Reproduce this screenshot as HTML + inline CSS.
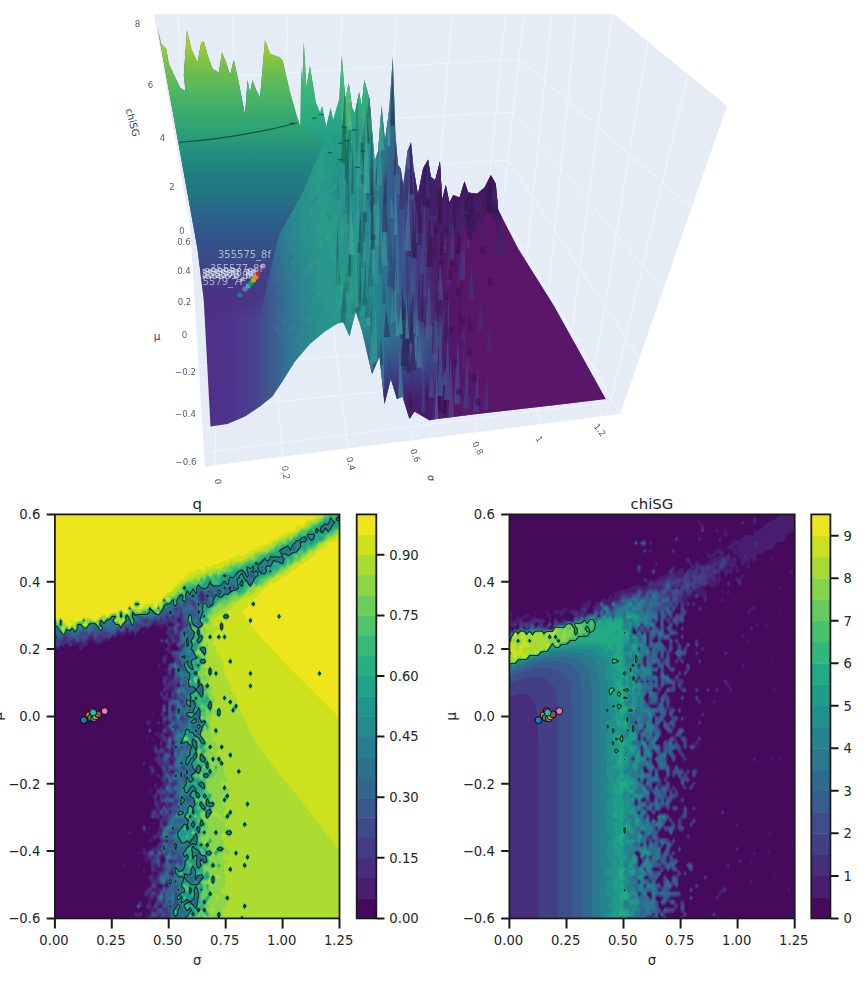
<!DOCTYPE html>
<html><head><meta charset="utf-8"><title>chiSG phase diagram</title>
<style>html,body{margin:0;padding:0;background:#fff}svg{display:block}text{font-family:"DejaVu Sans","Liberation Sans",sans-serif}</style></head><body>
<svg width="868" height="995" viewBox="0 0 868 995">
<rect width="868" height="995" fill="#fff"/>
<g id="surf3d">
<defs>
<clipPath id="sil"><path d="M157.5 27.5 L161.2 43.8 L166.2 48.8 L168.8 63.8 L180.0 87.5 L185.5 91.2 L183.8 75.0 L187.0 30.0 L191.2 48.8 L197.5 62.5 L201.2 42.5 L203.8 41.2 L207.5 55.0 L212.5 68.8 L218.8 72.5 L222.0 52.5 L226.2 62.5 L230.0 75.0 L233.8 60.0 L238.8 82.5 L245.0 115.0 L247.5 80.0 L250.0 92.5 L252.5 80.0 L256.2 90.0 L260.0 97.5 L265.0 40.0 L270.0 53.8 L280.0 57.5 L282.5 60.0 L290.0 92.2 L296.9 116.4 L300.4 126.8 L301.2 68.0 L302.4 81.8 L303.8 42.1 L306.4 87.0 L309.9 66.3 L315.9 102.6 L320.2 112.9 L322.0 106.0 L326.3 126.8 L330.6 107.8 L333.2 119.9 L339.2 99.1 L341.8 55.9 L345.3 99.1 L348.8 83.6 L352.2 107.8 L354.8 112.9 L359.1 92.2 L361.7 106.0 L364.3 80.1 L369.5 99.1 L374.7 161.3 L378.1 151.0 L381.6 106.0 L385.0 140.6 L389.4 107.8 L392.8 57.6 L395.4 133.7 L398.0 164.8 L400.6 168.2 L403.2 185.5 L407.5 151.0 L411.0 142.3 L413.6 168.2 L417.9 194.2 L423.1 168.2 L428.2 159.6 L430.8 176.9 L435.2 180.3 L440.0 161.3 L442.0 200.0 L445.8 185.0 L449.5 202.5 L453.2 195.0 L459.5 197.5 L464.5 181.2 L468.2 192.5 L477.0 193.8 L484.5 187.5 L490.8 175.0 L495.8 183.8 L498.2 210.0 L518.2 248.8 L554.0 306.0 L605.7 399.0 L553.8 405.2 L477.0 414.0 L437.0 419.0 L429.5 420.2 L414.5 411.5 L409.5 419.0 L402.5 396.5 L397.0 399.0 L390.8 379.0 L384.5 404.0 L379.5 356.5 L372.0 374.0 L362.0 331.5 L355.8 311.5 L349.5 336.5 L343.0 322.0 L337.0 324.0 L325.0 331.5 L310.0 344.0 L295.0 361.5 L282.5 381.5 L272.5 396.5 L260.0 406.5 L245.0 416.5 L227.5 424.0 L210.5 426.5 L203.7 299.0 L197.5 249.0Z"/></clipPath>
<linearGradient id="gbase" gradientUnits="userSpaceOnUse" x1="200" y1="300" x2="604" y2="219"><stop offset="0.000" stop-color="#4f2f88"/><stop offset="0.076" stop-color="#4f348c"/><stop offset="0.129" stop-color="#48428e"/><stop offset="0.169" stop-color="#3c598f"/><stop offset="0.205" stop-color="#327093"/><stop offset="0.238" stop-color="#2b8291"/><stop offset="0.281" stop-color="#28908d"/><stop offset="0.338" stop-color="#289a89"/><stop offset="0.400" stop-color="#22908b"/><stop offset="1.000" stop-color="#22908b"/></linearGradient>
<linearGradient id="gbase2" gradientUnits="userSpaceOnUse" x1="200" y1="0" x2="620" y2="0"><stop offset="0.000" stop-color="#4f2f88"/><stop offset="0.076" stop-color="#4f348c"/><stop offset="0.129" stop-color="#48428e"/><stop offset="0.169" stop-color="#3c598f"/><stop offset="0.205" stop-color="#327093"/><stop offset="0.238" stop-color="#2b8291"/><stop offset="0.281" stop-color="#28908d"/><stop offset="0.338" stop-color="#289a89"/><stop offset="0.400" stop-color="#22908b"/><stop offset="1.000" stop-color="#22908b"/></linearGradient>
<linearGradient id="gright" gradientUnits="userSpaceOnUse" x1="200" y1="300" x2="616.6" y2="262.5"><stop offset="0.000" stop-color="#22908b" stop-opacity="0.00"/><stop offset="0.386" stop-color="#22908b" stop-opacity="0.00"/><stop offset="0.440" stop-color="#2a788e" stop-opacity="1.00"/><stop offset="0.486" stop-color="#39558c" stop-opacity="1.00"/><stop offset="0.524" stop-color="#433c84" stop-opacity="1.00"/><stop offset="0.562" stop-color="#48226f" stop-opacity="1.00"/><stop offset="0.600" stop-color="#521769" stop-opacity="1.00"/><stop offset="0.655" stop-color="#5a1669" stop-opacity="1.00"/><stop offset="1.000" stop-color="#5a1669" stop-opacity="1.00"/></linearGradient>
<linearGradient id="gright2" gradientUnits="userSpaceOnUse" x1="200" y1="0" x2="620" y2="0"><stop offset="0.000" stop-color="#22908b" stop-opacity="0.00"/><stop offset="0.386" stop-color="#22908b" stop-opacity="0.00"/><stop offset="0.440" stop-color="#2a788e" stop-opacity="1.00"/><stop offset="0.486" stop-color="#39558c" stop-opacity="1.00"/><stop offset="0.524" stop-color="#433c84" stop-opacity="1.00"/><stop offset="0.562" stop-color="#48226f" stop-opacity="1.00"/><stop offset="0.600" stop-color="#521769" stop-opacity="1.00"/><stop offset="0.655" stop-color="#5a1669" stop-opacity="1.00"/><stop offset="1.000" stop-color="#5a1669" stop-opacity="1.00"/></linearGradient>
<linearGradient id="gcliff" gradientUnits="userSpaceOnUse" x1="0" y1="25" x2="0" y2="320"><stop offset="0.000" stop-color="#bcd926"/><stop offset="0.068" stop-color="#a0cc32"/><stop offset="0.139" stop-color="#78c048"/><stop offset="0.234" stop-color="#4cb562"/><stop offset="0.349" stop-color="#2ea374"/><stop offset="0.424" stop-color="#22917d"/><stop offset="0.498" stop-color="#1f8080"/><stop offset="0.576" stop-color="#237585"/><stop offset="0.641" stop-color="#29638a"/><stop offset="0.729" stop-color="#33548a"/><stop offset="0.790" stop-color="#3a4a88"/><stop offset="0.864" stop-color="#423c84" stop-opacity="0.90"/><stop offset="0.932" stop-color="#472f7d" stop-opacity="0.60"/><stop offset="1.000" stop-color="#472d7b" stop-opacity="0.00"/></linearGradient>
<linearGradient id="gtop" gradientUnits="userSpaceOnUse" x1="0" y1="40" x2="0" y2="200"><stop offset="0.000" stop-color="#5cc863" stop-opacity="0.95"/><stop offset="0.300" stop-color="#3dbc74" stop-opacity="0.90"/><stop offset="0.600" stop-color="#25ab82" stop-opacity="0.60"/><stop offset="1.000" stop-color="#1f9a8a" stop-opacity="0.00"/></linearGradient>
<linearGradient id="gtopx" gradientUnits="userSpaceOnUse" x1="322" y1="0" x2="410" y2="0"><stop offset="0.000" stop-color="#000" stop-opacity="1.00"/><stop offset="0.450" stop-color="#000" stop-opacity="1.00"/><stop offset="1.000" stop-color="#000" stop-opacity="0.00"/></linearGradient>
<mask id="mtop" maskUnits="userSpaceOnUse" x="300" y="0" width="130" height="220"><rect x="300" y="0" width="130" height="220" fill="url(#gtopm)"/></mask>
<linearGradient id="gtopm" gradientUnits="userSpaceOnUse" x1="322" y1="0" x2="412" y2="0"><stop offset="0.000" stop-color="#fff"/><stop offset="0.500" stop-color="#fff"/><stop offset="1.000" stop-color="#000"/></linearGradient>
<linearGradient id="gfront" gradientUnits="userSpaceOnUse" x1="0" y1="305" x2="0" y2="425"><stop offset="0.000" stop-color="#2a788e" stop-opacity="0.00"/><stop offset="0.300" stop-color="#2f6a8e" stop-opacity="0.55"/><stop offset="0.550" stop-color="#3b3f88" stop-opacity="0.88"/><stop offset="0.780" stop-color="#45206e" stop-opacity="1.00"/><stop offset="1.000" stop-color="#4b1769" stop-opacity="1.00"/></linearGradient>
</defs>
<polygon points="154.0,14.0 614.0,14.0 727.0,106.0 620.0,414.0 205.0,466.5 190.0,226.0" fill="#e5ecf6"/>
<path d="M342.0 14.0L333.0 225.0M397.0 14.0L384.0 222.0M452.0 14.0L436.0 218.0M505.5 14.0L486.0 212.0M288.0 14.0L283.0 228.0M233.0 14.0L235.0 230.0M178.0 14.0L190.0 232.0M524 14L502 212M166.0 80.0L519.0 59.0M176.0 130.0L514.0 112.0M184.0 180.0L508.0 160.0M190.0 226.0L502.0 212.0M519.0 59.0L692.0 208.0M514.0 112.0L663.0 290.0M508.0 160.0L639.0 358.0M502.0 212.0L620.0 414.0M551.7 14.0L527.0 255.0M576.0 14.0L549.0 290.0M612.0 14.0L572.0 330.0M648.0 42.0L594.0 370.0M688.0 74.0L611.0 400.0M205.0 452.0L612.0 402.0M202.0 409.0L600.0 370.0M199.0 366.0L585.0 340.0M216.0 465.0L213.0 300.0M283.0 457.0L270.0 300.0M348.0 449.0L330.0 300.0M413.0 441.0L388.0 300.0M478.0 432.0L446.0 300.0M541.0 424.0L500.0 300.0M602.0 416.0L556.0 300.0" stroke="#fff" stroke-width="1.1" fill="none" opacity="0.45"/>
<g clip-path="url(#sil)">
<rect x="150" y="10" width="470" height="290.5" fill="url(#gbase)"/>
<rect x="150" y="300" width="470" height="140" fill="url(#gbase2)"/>
<rect x="330" y="10" width="290" height="290.5" fill="url(#gright)"/>
<rect x="330" y="300" width="290" height="140" fill="url(#gright2)"/>
<polygon points="150.0,10.0 300.6,10.0 300.6,122.0 325.0,140.0 304.0,190.0 279.0,235.0 268.0,280.0 260.0,320.0 150.0,320.0" fill="url(#gcliff)"/>
<g mask="url(#mtop)"><polygon points="300.6,10.0 430.0,10.0 430.0,215.0 300.0,215.0 304.0,190.0 325.0,140.0 300.6,122.0" fill="url(#gtop)"/></g>
<polygon points="340,305 446,305 430,430 340,430" fill="url(#gfront)"/>
<path d="M353.1 305.0l2.1 -6.2" stroke="#4da99f" stroke-width="2.0" opacity="0.20" stroke-linecap="round"/><path d="M331.5 149.3l-3.5 -8.3" stroke="#37a592" stroke-width="2.1" opacity="0.28" stroke-linecap="round"/><path d="M336.3 220.4l3.9 -6.3" stroke="#53aca2" stroke-width="1.9" opacity="0.26" stroke-linecap="round"/><path d="M360.7 153.2l-5.4 -6.4" stroke="#49a89c" stroke-width="2.6" opacity="0.14" stroke-linecap="round"/><path d="M279.1 285.0l-2.5 -6.0" stroke="#4d7c9f" stroke-width="1.9" opacity="0.25" stroke-linecap="round"/><path d="M316.1 204.9l4.6 -5.9" stroke="#42a498" stroke-width="1.8" opacity="0.18" stroke-linecap="round"/><path d="M323.8 304.0l2.0 -6.2" stroke="#4fa6a1" stroke-width="2.7" opacity="0.15" stroke-linecap="round"/><path d="M308.6 313.2l5.8 -6.6" stroke="#43979d" stroke-width="2.2" opacity="0.17" stroke-linecap="round"/><path d="M341.3 292.0l2.9 -6.8" stroke="#42a697" stroke-width="2.3" opacity="0.15" stroke-linecap="round"/><path d="M338.7 281.9l-2.2 -5.4" stroke="#3ba394" stroke-width="2.0" opacity="0.25" stroke-linecap="round"/><path d="M353.2 218.0l-4.8 -5.2" stroke="#1d7a76" stroke-width="2.4" opacity="0.25" stroke-linecap="round"/><path d="M359.8 171.3l4.3 -7.0" stroke="#3d9f98" stroke-width="2.1" opacity="0.27" stroke-linecap="round"/><path d="M333.6 205.0l2.2 -3.3" stroke="#40a398" stroke-width="2.7" opacity="0.27" stroke-linecap="round"/><path d="M374.0 207.1l1.8 -4.6" stroke="#226a78" stroke-width="2.0" opacity="0.15" stroke-linecap="round"/><path d="M350.0 168.7l2.8 -4.5" stroke="#3da298" stroke-width="1.6" opacity="0.26" stroke-linecap="round"/><path d="M338.6 197.1l1.6 -4.0" stroke="#52aaa3" stroke-width="1.9" opacity="0.27" stroke-linecap="round"/><path d="M318.5 322.4l-4.0 -4.9" stroke="#3b9a97" stroke-width="1.9" opacity="0.25" stroke-linecap="round"/><path d="M343.7 221.8l4.4 -6.3" stroke="#3ea098" stroke-width="2.4" opacity="0.14" stroke-linecap="round"/><path d="M336.7 148.0l1.6 -4.8" stroke="#48ac9b" stroke-width="1.8" opacity="0.22" stroke-linecap="round"/><path d="M305.3 321.6l3.3 -4.8" stroke="#44959d" stroke-width="2.5" opacity="0.27" stroke-linecap="round"/><path d="M352.9 217.0l-2.2 -5.2" stroke="#1d7a76" stroke-width="2.6" opacity="0.21" stroke-linecap="round"/><path d="M328.5 288.7l1.8 -5.3" stroke="#42a299" stroke-width="1.6" opacity="0.21" stroke-linecap="round"/><path d="M360.2 237.8l2.0 -3.6" stroke="#3d9d99" stroke-width="2.3" opacity="0.24" stroke-linecap="round"/><path d="M336.3 247.6l2.6 -5.9" stroke="#3aa194" stroke-width="2.2" opacity="0.23" stroke-linecap="round"/><path d="M375.1 179.2l3.2 -7.0" stroke="#236a78" stroke-width="2.1" opacity="0.18" stroke-linecap="round"/><path d="M329.9 149.6l-1.9 -4.9" stroke="#1e8573" stroke-width="2.4" opacity="0.17" stroke-linecap="round"/><path d="M336.9 153.4l-3.8 -6.3" stroke="#3da696" stroke-width="2.1" opacity="0.18" stroke-linecap="round"/><path d="M367.4 240.1l-2.0 -4.6" stroke="#379596" stroke-width="1.8" opacity="0.19" stroke-linecap="round"/><path d="M372.9 159.0l1.7 -5.6" stroke="#55a0a3" stroke-width="1.6" opacity="0.17" stroke-linecap="round"/><path d="M343.5 225.6l-3.5 -8.2" stroke="#1f7e76" stroke-width="2.3" opacity="0.27" stroke-linecap="round"/><path d="M368.6 160.8l-2.6 -5.4" stroke="#399795" stroke-width="2.3" opacity="0.21" stroke-linecap="round"/><path d="M363.7 161.4l3.7 -7.2" stroke="#3e9f98" stroke-width="2.7" opacity="0.19" stroke-linecap="round"/><path d="M312.5 320.3l-1.9 -5.6" stroke="#439a9c" stroke-width="1.9" opacity="0.17" stroke-linecap="round"/><path d="M354.1 152.8l-2.2 -5.8" stroke="#51afa1" stroke-width="2.7" opacity="0.16" stroke-linecap="round"/><path d="M370.9 216.5l2.8 -3.6" stroke="#40939a" stroke-width="1.5" opacity="0.15" stroke-linecap="round"/><path d="M341.6 193.5l3.5 -3.9" stroke="#1e7d76" stroke-width="1.6" opacity="0.21" stroke-linecap="round"/><path d="M340.9 177.7l2.9 -7.1" stroke="#369e95" stroke-width="1.9" opacity="0.20" stroke-linecap="round"/><path d="M350.7 219.2l-3.8 -7.0" stroke="#47a39e" stroke-width="1.6" opacity="0.19" stroke-linecap="round"/><path d="M339.2 254.2l2.8 -6.3" stroke="#218175" stroke-width="1.9" opacity="0.26" stroke-linecap="round"/><path d="M370.4 242.5l-2.3 -4.1" stroke="#389296" stroke-width="2.1" opacity="0.26" stroke-linecap="round"/><path d="M349.7 166.8l-3.2 -4.1" stroke="#47a89d" stroke-width="2.0" opacity="0.25" stroke-linecap="round"/><path d="M376.7 142.8l-3.3 -8.1" stroke="#3d9194" stroke-width="2.4" opacity="0.17" stroke-linecap="round"/><path d="M303.5 216.5l1.6 -4.0" stroke="#55a8a5" stroke-width="2.6" opacity="0.17" stroke-linecap="round"/><path d="M273.6 309.2l2.8 -3.2" stroke="#5e7aa4" stroke-width="2.6" opacity="0.14" stroke-linecap="round"/><path d="M291.0 331.0l2.0 -4.9" stroke="#48879f" stroke-width="2.8" opacity="0.19" stroke-linecap="round"/><path d="M336.0 257.1l3.7 -4.0" stroke="#3ba294" stroke-width="2.3" opacity="0.15" stroke-linecap="round"/><path d="M339.2 305.7l-2.6 -5.9" stroke="#42a598" stroke-width="1.9" opacity="0.21" stroke-linecap="round"/><path d="M356.1 154.0l-3.2 -3.7" stroke="#48a99c" stroke-width="2.3" opacity="0.17" stroke-linecap="round"/><path d="M372.2 283.3l3.7 -7.6" stroke="#389496" stroke-width="2.3" opacity="0.22" stroke-linecap="round"/><path d="M360.7 158.1l-3.9 -5.3" stroke="#3ea197" stroke-width="1.6" opacity="0.17" stroke-linecap="round"/><path d="M296.4 342.5l2.3 -4.8" stroke="#5395a5" stroke-width="2.2" opacity="0.15" stroke-linecap="round"/><path d="M325.3 199.3l-3.2 -3.5" stroke="#3ba294" stroke-width="2.7" opacity="0.20" stroke-linecap="round"/><path d="M344.5 153.6l-3.9 -5.4" stroke="#48ab9c" stroke-width="2.5" opacity="0.27" stroke-linecap="round"/><path d="M312.1 236.2l-3.0 -8.0" stroke="#227d77" stroke-width="1.8" opacity="0.23" stroke-linecap="round"/><path d="M367.8 308.3l1.9 -3.6" stroke="#4aa3a0" stroke-width="2.2" opacity="0.25" stroke-linecap="round"/><path d="M331.7 254.1l-2.8 -4.4" stroke="#3ba394" stroke-width="2.7" opacity="0.17" stroke-linecap="round"/><path d="M341.3 165.6l2.1 -5.2" stroke="#3da397" stroke-width="2.4" opacity="0.26" stroke-linecap="round"/><path d="M372.8 141.3l-2.2 -3.9" stroke="#4ca19c" stroke-width="2.1" opacity="0.17" stroke-linecap="round"/><path d="M357.1 289.5l-2.6 -4.4" stroke="#52aaa3" stroke-width="1.7" opacity="0.27" stroke-linecap="round"/><path d="M357.9 224.4l2.0 -5.6" stroke="#3d9d99" stroke-width="1.5" opacity="0.23" stroke-linecap="round"/><path d="M373.0 179.6l4.4 -5.2" stroke="#42909a" stroke-width="1.9" opacity="0.14" stroke-linecap="round"/><path d="M342.2 185.0l2.8 -3.8" stroke="#47a59e" stroke-width="2.0" opacity="0.19" stroke-linecap="round"/><path d="M346.1 187.9l5.6 -7.0" stroke="#50a8a3" stroke-width="2.5" opacity="0.22" stroke-linecap="round"/><path d="M332.2 251.3l3.1 -3.3" stroke="#42a697" stroke-width="2.4" opacity="0.21" stroke-linecap="round"/><path d="M363.8 230.8l-2.7 -3.0" stroke="#51a5a4" stroke-width="2.3" opacity="0.26" stroke-linecap="round"/><path d="M291.4 249.4l-2.2 -6.3" stroke="#3e8e9b" stroke-width="2.1" opacity="0.27" stroke-linecap="round"/><path d="M330.0 152.8l-2.9 -3.4" stroke="#37a592" stroke-width="1.7" opacity="0.26" stroke-linecap="round"/><path d="M347.1 185.5l3.8 -6.8" stroke="#50a9a3" stroke-width="2.6" opacity="0.19" stroke-linecap="round"/><path d="M318.7 303.5l-5.4 -6.8" stroke="#429e9b" stroke-width="1.6" opacity="0.19" stroke-linecap="round"/><path d="M342.9 169.9l2.8 -5.3" stroke="#47a79d" stroke-width="2.4" opacity="0.22" stroke-linecap="round"/><path d="M357.1 189.9l-3.7 -6.6" stroke="#3d9d99" stroke-width="1.7" opacity="0.26" stroke-linecap="round"/><path d="M323.5 213.1l3.3 -8.0" stroke="#4cab9d" stroke-width="2.0" opacity="0.21" stroke-linecap="round"/><path d="M319.3 265.9l-4.9 -5.6" stroke="#55aaa4" stroke-width="2.1" opacity="0.20" stroke-linecap="round"/><path d="M316.5 231.6l2.7 -7.6" stroke="#42a299" stroke-width="2.0" opacity="0.21" stroke-linecap="round"/><path d="M309.6 213.7l5.0 -6.8" stroke="#55aaa4" stroke-width="2.1" opacity="0.21" stroke-linecap="round"/><path d="M282.1 278.8l-3.1 -5.7" stroke="#4a82a0" stroke-width="1.5" opacity="0.14" stroke-linecap="round"/><path d="M328.7 240.4l-2.5 -5.1" stroke="#55afa2" stroke-width="2.4" opacity="0.25" stroke-linecap="round"/><path d="M276.2 296.7l3.5 -4.5" stroke="#50759e" stroke-width="2.2" opacity="0.25" stroke-linecap="round"/><path d="M286.6 281.3l4.8 -7.5" stroke="#49869f" stroke-width="1.8" opacity="0.27" stroke-linecap="round"/><path d="M300.6 344.7l-3.9 -5.2" stroke="#5199a5" stroke-width="2.3" opacity="0.17" stroke-linecap="round"/><path d="M326.9 310.1l2.9 -8.1" stroke="#3b9d96" stroke-width="1.8" opacity="0.26" stroke-linecap="round"/><path d="M336.4 146.5l-3.5 -7.9" stroke="#1e8573" stroke-width="1.9" opacity="0.15" stroke-linecap="round"/><path d="M322.8 166.0l-2.5 -6.5" stroke="#39a493" stroke-width="2.6" opacity="0.21" stroke-linecap="round"/><path d="M343.2 262.9l-2.3 -4.4" stroke="#208075" stroke-width="2.1" opacity="0.16" stroke-linecap="round"/><path d="M340.3 192.3l4.0 -6.5" stroke="#3ea098" stroke-width="2.5" opacity="0.20" stroke-linecap="round"/><path d="M357.0 143.3l4.2 -7.6" stroke="#52b0a0" stroke-width="2.4" opacity="0.21" stroke-linecap="round"/><path d="M350.9 161.2l-1.9 -4.0" stroke="#51ada2" stroke-width="1.7" opacity="0.21" stroke-linecap="round"/><path d="M289.2 333.6l5.6 -7.0" stroke="#4985a0" stroke-width="2.2" opacity="0.25" stroke-linecap="round"/><path d="M369.9 170.3l1.4 -4.4" stroke="#3a9396" stroke-width="1.9" opacity="0.16" stroke-linecap="round"/><path d="M311.6 267.4l-3.2 -6.1" stroke="#4ca3a0" stroke-width="2.7" opacity="0.22" stroke-linecap="round"/><path d="M351.2 239.8l-3.1 -8.4" stroke="#48a49e" stroke-width="1.8" opacity="0.16" stroke-linecap="round"/><path d="M354.7 223.1l2.9 -7.3" stroke="#50a7a3" stroke-width="2.0" opacity="0.26" stroke-linecap="round"/><path d="M335.9 239.2l3.0 -4.6" stroke="#41a498" stroke-width="1.9" opacity="0.22" stroke-linecap="round"/><path d="M310.4 294.6l2.5 -5.7" stroke="#50a0a3" stroke-width="1.6" opacity="0.15" stroke-linecap="round"/><path d="M371.1 157.3l-4.7 -6.1" stroke="#419898" stroke-width="1.7" opacity="0.19" stroke-linecap="round"/><path d="M360.5 259.3l-2.1 -6.4" stroke="#50a7a3" stroke-width="1.5" opacity="0.25" stroke-linecap="round"/><path d="M284.2 323.3l-5.0 -6.3" stroke="#5888a6" stroke-width="2.4" opacity="0.21" stroke-linecap="round"/><path d="M310.0 237.8l3.5 -7.9" stroke="#4ca4a0" stroke-width="2.5" opacity="0.22" stroke-linecap="round"/><path d="M337.2 245.9l-3.1 -3.4" stroke="#54ada2" stroke-width="2.4" opacity="0.23" stroke-linecap="round"/><path d="M306.9 254.9l1.4 -4.6" stroke="#429c9b" stroke-width="1.5" opacity="0.19" stroke-linecap="round"/><path d="M367.0 260.1l4.2 -4.7" stroke="#48a09f" stroke-width="1.9" opacity="0.21" stroke-linecap="round"/><path d="M295.6 237.9l-2.8 -3.6" stroke="#56a1a7" stroke-width="2.0" opacity="0.24" stroke-linecap="round"/><path d="M334.0 231.5l2.8 -7.8" stroke="#4ba99d" stroke-width="2.4" opacity="0.14" stroke-linecap="round"/><path d="M320.1 245.7l-3.8 -4.8" stroke="#3b9f95" stroke-width="2.8" opacity="0.25" stroke-linecap="round"/><path d="M365.5 308.0l-1.8 -5.6" stroke="#3d9e99" stroke-width="2.1" opacity="0.15" stroke-linecap="round"/><path d="M339.8 183.9l3.0 -5.3" stroke="#379d95" stroke-width="2.4" opacity="0.14" stroke-linecap="round"/><path d="M349.9 287.8l-2.2 -3.4" stroke="#4aa89d" stroke-width="1.7" opacity="0.25" stroke-linecap="round"/><path d="M353.6 267.0l3.8 -7.8" stroke="#1e7d76" stroke-width="2.3" opacity="0.15" stroke-linecap="round"/><path d="M274.3 327.6l2.1 -5.0" stroke="#51719d" stroke-width="2.0" opacity="0.19" stroke-linecap="round"/><path d="M328.5 276.6l-4.8 -6.6" stroke="#3ba095" stroke-width="1.5" opacity="0.23" stroke-linecap="round"/><path d="M282.5 326.6l2.6 -7.5" stroke="#47789c" stroke-width="2.3" opacity="0.18" stroke-linecap="round"/><path d="M374.1 215.8l4.2 -5.4" stroke="#428e9b" stroke-width="2.0" opacity="0.16" stroke-linecap="round"/><path d="M282.1 341.0l4.2 -7.4" stroke="#47779c" stroke-width="1.7" opacity="0.20" stroke-linecap="round"/><path d="M355.1 251.4l-2.8 -8.6" stroke="#48a49e" stroke-width="2.8" opacity="0.14" stroke-linecap="round"/><path d="M310.2 324.4l-2.4 -4.4" stroke="#43989c" stroke-width="2.4" opacity="0.17" stroke-linecap="round"/><path d="M366.8 236.4l-4.1 -5.6" stroke="#1e7677" stroke-width="1.7" opacity="0.23" stroke-linecap="round"/><path d="M321.4 177.8l-2.2 -6.7" stroke="#54aea2" stroke-width="2.0" opacity="0.17" stroke-linecap="round"/><path d="M306.6 276.3l2.7 -4.5" stroke="#43999c" stroke-width="2.6" opacity="0.25" stroke-linecap="round"/><path d="M278.9 331.4l2.0 -3.8" stroke="#49739b" stroke-width="1.6" opacity="0.21" stroke-linecap="round"/><path d="M320.3 205.7l-3.0 -6.7" stroke="#3ba294" stroke-width="2.4" opacity="0.17" stroke-linecap="round"/><path d="M310.3 321.5l3.1 -5.6" stroke="#509fa3" stroke-width="1.9" opacity="0.25" stroke-linecap="round"/><path d="M350.6 167.7l-3.4 -5.0" stroke="#1d7f75" stroke-width="2.2" opacity="0.16" stroke-linecap="round"/><path d="M355.6 161.3l-4.0 -7.6" stroke="#51aca2" stroke-width="2.0" opacity="0.14" stroke-linecap="round"/><path d="M324.8 268.0l-3.5 -5.4" stroke="#227f76" stroke-width="1.8" opacity="0.27" stroke-linecap="round"/><path d="M356.4 165.1l-1.9 -3.5" stroke="#48a79d" stroke-width="2.1" opacity="0.25" stroke-linecap="round"/><path d="M342.8 254.5l-2.3 -5.8" stroke="#39a094" stroke-width="2.7" opacity="0.26" stroke-linecap="round"/><path d="M366.2 327.1l-5.2 -6.0" stroke="#4aa4a0" stroke-width="2.6" opacity="0.21" stroke-linecap="round"/><path d="M374.9 160.1l-2.6 -4.3" stroke="#569da3" stroke-width="2.6" opacity="0.18" stroke-linecap="round"/><path d="M362.5 182.8l3.7 -5.8" stroke="#3e9b99" stroke-width="2.6" opacity="0.25" stroke-linecap="round"/><path d="M333.8 194.3l4.6 -7.7" stroke="#1f7f75" stroke-width="1.9" opacity="0.27" stroke-linecap="round"/><path d="M339.4 198.0l-4.0 -5.7" stroke="#389d95" stroke-width="2.4" opacity="0.17" stroke-linecap="round"/><path d="M357.0 209.4l2.2 -6.5" stroke="#1d7a76" stroke-width="2.8" opacity="0.21" stroke-linecap="round"/><path d="M314.4 200.6l2.6 -3.4" stroke="#228076" stroke-width="2.8" opacity="0.26" stroke-linecap="round"/><path d="M311.1 228.3l2.4 -6.2" stroke="#4ca59f" stroke-width="2.2" opacity="0.22" stroke-linecap="round"/><path d="M339.3 143.8l-4.6 -5.0" stroke="#37a692" stroke-width="2.2" opacity="0.21" stroke-linecap="round"/><path d="M351.6 142.2l-4.2 -7.1" stroke="#52b2a0" stroke-width="2.7" opacity="0.27" stroke-linecap="round"/><path d="M345.5 143.4l3.0 -3.9" stroke="#1e8673" stroke-width="1.8" opacity="0.19" stroke-linecap="round"/><path d="M283.0 278.4l-2.0 -4.4" stroke="#447e9d" stroke-width="1.8" opacity="0.27" stroke-linecap="round"/><path d="M359.0 287.7l-3.0 -7.3" stroke="#3ea098" stroke-width="2.4" opacity="0.22" stroke-linecap="round"/><path d="M341.6 289.5l-2.9 -7.4" stroke="#55afa2" stroke-width="2.6" opacity="0.24" stroke-linecap="round"/><path d="M276.5 317.8l2.4 -6.2" stroke="#5c7ea4" stroke-width="1.6" opacity="0.17" stroke-linecap="round"/><path d="M315.6 192.7l4.1 -5.9" stroke="#42a498" stroke-width="2.8" opacity="0.18" stroke-linecap="round"/><path d="M331.4 189.9l4.8 -6.5" stroke="#38a094" stroke-width="1.8" opacity="0.16" stroke-linecap="round"/><path d="M366.1 236.9l-3.1 -4.3" stroke="#379696" stroke-width="2.0" opacity="0.24" stroke-linecap="round"/><path d="M289.8 328.8l-2.0 -4.9" stroke="#49859f" stroke-width="2.0" opacity="0.24" stroke-linecap="round"/><path d="M337.9 315.5l-2.5 -6.2" stroke="#3ba294" stroke-width="2.4" opacity="0.19" stroke-linecap="round"/><path d="M287.5 331.9l2.6 -4.6" stroke="#568ba6" stroke-width="2.4" opacity="0.18" stroke-linecap="round"/><path d="M350.9 323.9l3.0 -4.4" stroke="#40a398" stroke-width="1.7" opacity="0.23" stroke-linecap="round"/><path d="M361.4 268.3l-2.8 -4.7" stroke="#51a7a3" stroke-width="2.6" opacity="0.16" stroke-linecap="round"/><path d="M321.6 182.4l3.0 -8.4" stroke="#3ba294" stroke-width="2.6" opacity="0.20" stroke-linecap="round"/><path d="M333.8 145.0l-1.9 -4.9" stroke="#52b2a0" stroke-width="1.6" opacity="0.16" stroke-linecap="round"/><path d="M346.5 160.2l4.2 -7.0" stroke="#36a193" stroke-width="1.6" opacity="0.27" stroke-linecap="round"/><path d="M328.0 153.5l-4.6 -6.2" stroke="#38a592" stroke-width="1.9" opacity="0.27" stroke-linecap="round"/><path d="M275.0 318.7l5.6 -6.8" stroke="#4b6e9a" stroke-width="2.1" opacity="0.25" stroke-linecap="round"/><path d="M320.5 196.8l4.6 -5.6" stroke="#42a697" stroke-width="2.1" opacity="0.16" stroke-linecap="round"/><path d="M371.7 216.9l-2.8 -6.9" stroke="#549da5" stroke-width="2.0" opacity="0.27" stroke-linecap="round"/><path d="M311.7 245.9l-2.6 -4.3" stroke="#4ca4a0" stroke-width="1.8" opacity="0.15" stroke-linecap="round"/><path d="M337.7 308.6l3.3 -6.2" stroke="#4fab9f" stroke-width="2.6" opacity="0.18" stroke-linecap="round"/><path d="M303.5 228.6l-3.6 -4.7" stroke="#55a7a5" stroke-width="2.8" opacity="0.15" stroke-linecap="round"/><path d="M371.1 213.9l-1.6 -4.3" stroke="#216f78" stroke-width="2.1" opacity="0.25" stroke-linecap="round"/><path d="M352.9 301.8l-2.0 -5.3" stroke="#40a298" stroke-width="2.8" opacity="0.24" stroke-linecap="round"/><path d="M336.4 220.6l-3.0 -6.2" stroke="#4aa89d" stroke-width="2.7" opacity="0.16" stroke-linecap="round"/><path d="M331.3 234.4l2.0 -3.6" stroke="#4caa9d" stroke-width="1.6" opacity="0.14" stroke-linecap="round"/><path d="M359.9 141.3l2.2 -3.4" stroke="#1f8473" stroke-width="2.4" opacity="0.15" stroke-linecap="round"/><path d="M306.8 244.2l-3.3 -8.0" stroke="#4ca3a0" stroke-width="2.1" opacity="0.19" stroke-linecap="round"/><path d="M363.7 169.6l3.0 -4.1" stroke="#1f7a76" stroke-width="2.6" opacity="0.24" stroke-linecap="round"/><path d="M367.0 321.4l-2.6 -3.1" stroke="#4aa3a0" stroke-width="2.2" opacity="0.27" stroke-linecap="round"/><path d="M320.9 234.8l-3.8 -7.2" stroke="#4ca89e" stroke-width="2.6" opacity="0.19" stroke-linecap="round"/><path d="M295.5 274.4l1.9 -4.7" stroke="#246f7b" stroke-width="1.7" opacity="0.14" stroke-linecap="round"/><path d="M346.4 155.8l4.8 -5.2" stroke="#1d8274" stroke-width="2.0" opacity="0.21" stroke-linecap="round"/><path d="M333.6 222.5l4.9 -6.7" stroke="#40a498" stroke-width="2.6" opacity="0.20" stroke-linecap="round"/><path d="M310.2 209.8l4.1 -6.1" stroke="#3b9e96" stroke-width="1.9" opacity="0.24" stroke-linecap="round"/><path d="M363.4 185.9l-4.7 -7.3" stroke="#48a09f" stroke-width="2.1" opacity="0.19" stroke-linecap="round"/><path d="M301.7 322.7l-2.7 -7.5" stroke="#3e8e9b" stroke-width="2.6" opacity="0.19" stroke-linecap="round"/><path d="M333.9 215.5l-3.6 -4.8" stroke="#40a398" stroke-width="1.9" opacity="0.16" stroke-linecap="round"/><path d="M317.6 295.0l3.8 -5.5" stroke="#4fa4a1" stroke-width="2.3" opacity="0.23" stroke-linecap="round"/><path d="M275.3 330.9l3.0 -5.9" stroke="#5d7ca4" stroke-width="2.3" opacity="0.25" stroke-linecap="round"/><path d="M368.3 196.8l4.1 -7.6" stroke="#207277" stroke-width="2.3" opacity="0.21" stroke-linecap="round"/><path d="M340.7 153.9l-3.9 -7.2" stroke="#51afa1" stroke-width="2.4" opacity="0.20" stroke-linecap="round"/><path d="M335.0 259.6l-2.4 -4.0" stroke="#55afa2" stroke-width="2.3" opacity="0.22" stroke-linecap="round"/><path d="M281.4 339.9l2.9 -3.4" stroke="#47769c" stroke-width="2.8" opacity="0.26" stroke-linecap="round"/><path d="M341.7 221.5l3.4 -6.3" stroke="#3fa198" stroke-width="2.6" opacity="0.25" stroke-linecap="round"/><path d="M372.7 146.4l4.1 -4.5" stroke="#3b9694" stroke-width="2.3" opacity="0.18" stroke-linecap="round"/><path d="M322.5 264.3l-3.0 -3.9" stroke="#55aba3" stroke-width="2.1" opacity="0.20" stroke-linecap="round"/><path d="M346.4 213.2l3.0 -6.5" stroke="#379b95" stroke-width="2.3" opacity="0.21" stroke-linecap="round"/><path d="M369.1 159.5l-3.6 -6.1" stroke="#409a98" stroke-width="2.2" opacity="0.20" stroke-linecap="round"/><path d="M358.8 245.2l-1.8 -5.6" stroke="#369a95" stroke-width="1.9" opacity="0.24" stroke-linecap="round"/><path d="M290.4 274.2l-3.6 -4.6" stroke="#468c9f" stroke-width="1.6" opacity="0.16" stroke-linecap="round"/><path d="M334.6 201.9l-4.4 -6.1" stroke="#4aa79e" stroke-width="1.8" opacity="0.19" stroke-linecap="round"/><path d="M317.4 298.6l-2.2 -6.2" stroke="#429d9b" stroke-width="2.2" opacity="0.15" stroke-linecap="round"/><path d="M360.9 172.4l4.6 -6.2" stroke="#1e7b76" stroke-width="2.0" opacity="0.17" stroke-linecap="round"/><path d="M330.5 182.7l-4.4 -7.4" stroke="#3fa398" stroke-width="2.2" opacity="0.16" stroke-linecap="round"/><path d="M284.7 264.0l4.8 -5.3" stroke="#528ea4" stroke-width="2.3" opacity="0.21" stroke-linecap="round"/><path d="M337.5 164.2l2.7 -4.7" stroke="#1d8174" stroke-width="2.2" opacity="0.21" stroke-linecap="round"/><path d="M350.7 212.5l3.7 -5.2" stroke="#3d9d99" stroke-width="2.3" opacity="0.16" stroke-linecap="round"/><path d="M286.2 326.4l-4.6 -5.0" stroke="#447d9d" stroke-width="2.0" opacity="0.22" stroke-linecap="round"/><path d="M303.3 273.0l2.3 -5.6" stroke="#3d9399" stroke-width="2.5" opacity="0.28" stroke-linecap="round"/><path d="M376.6 140.9l-3.2 -5.6" stroke="#3d9293" stroke-width="2.1" opacity="0.15" stroke-linecap="round"/><path d="M312.4 195.4l-3.1 -5.9" stroke="#3ba095" stroke-width="2.7" opacity="0.27" stroke-linecap="round"/><path d="M332.9 189.9l2.8 -4.1" stroke="#49a79e" stroke-width="2.5" opacity="0.28" stroke-linecap="round"/><path d="M323.1 246.4l-4.5 -7.5" stroke="#55ada3" stroke-width="1.9" opacity="0.24" stroke-linecap="round"/><path d="M314.0 206.9l-5.8 -6.6" stroke="#228076" stroke-width="1.7" opacity="0.19" stroke-linecap="round"/><path d="M330.6 217.7l-4.5 -4.9" stroke="#218175" stroke-width="2.5" opacity="0.25" stroke-linecap="round"/><path d="M316.9 236.3l5.9 -6.6" stroke="#4ca79f" stroke-width="2.5" opacity="0.19" stroke-linecap="round"/><path d="M358.7 182.1l-3.8 -6.3" stroke="#3d9e99" stroke-width="1.9" opacity="0.27" stroke-linecap="round"/><path d="M366.6 244.4l-2.9 -7.5" stroke="#379696" stroke-width="1.7" opacity="0.19" stroke-linecap="round"/><path d="M280.1 335.2l-1.7 -3.9" stroke="#5a82a5" stroke-width="2.3" opacity="0.16" stroke-linecap="round"/><path d="M332.1 295.8l-3.1 -6.3" stroke="#3ba095" stroke-width="2.7" opacity="0.20" stroke-linecap="round"/><path d="M353.5 274.8l-1.8 -5.6" stroke="#1f7e76" stroke-width="2.2" opacity="0.21" stroke-linecap="round"/><path d="M354.4 158.2l3.8 -8.0" stroke="#36a193" stroke-width="2.3" opacity="0.25" stroke-linecap="round"/><path d="M348.1 294.3l4.8 -6.5" stroke="#40a498" stroke-width="2.1" opacity="0.19" stroke-linecap="round"/><path d="M372.0 230.9l-5.2 -5.6" stroke="#40939a" stroke-width="2.3" opacity="0.22" stroke-linecap="round"/><path d="M321.0 273.5l-1.7 -3.9" stroke="#42a099" stroke-width="2.7" opacity="0.24" stroke-linecap="round"/><path d="M332.5 164.3l2.5 -3.4" stroke="#37a293" stroke-width="1.9" opacity="0.16" stroke-linecap="round"/><path d="M348.9 193.5l-1.9 -4.2" stroke="#50a8a3" stroke-width="2.8" opacity="0.16" stroke-linecap="round"/><path d="M366.7 277.4l-4.1 -7.4" stroke="#379896" stroke-width="2.5" opacity="0.26" stroke-linecap="round"/><path d="M341.5 218.6l4.2 -5.1" stroke="#52aaa3" stroke-width="2.6" opacity="0.26" stroke-linecap="round"/><path d="M332.1 174.7l-2.4 -6.0" stroke="#49a99d" stroke-width="1.5" opacity="0.16" stroke-linecap="round"/><path d="M347.3 174.7l2.7 -8.0" stroke="#50aaa3" stroke-width="2.8" opacity="0.14" stroke-linecap="round"/><path d="M360.5 180.2l-4.7 -5.2" stroke="#3d9d99" stroke-width="1.6" opacity="0.22" stroke-linecap="round"/><path d="M361.2 312.3l1.8 -4.1" stroke="#3ea098" stroke-width="2.0" opacity="0.16" stroke-linecap="round"/><path d="M375.3 158.0l-3.3 -4.7" stroke="#439299" stroke-width="2.7" opacity="0.26" stroke-linecap="round"/><path d="M368.6 267.0l1.8 -5.0" stroke="#1e7777" stroke-width="2.5" opacity="0.25" stroke-linecap="round"/><path d="M340.2 284.3l-4.4 -7.7" stroke="#55afa2" stroke-width="1.9" opacity="0.21" stroke-linecap="round"/><path d="M352.7 296.4l-2.4 -5.8" stroke="#4da99f" stroke-width="2.3" opacity="0.23" stroke-linecap="round"/><path d="M311.9 302.0l4.1 -5.6" stroke="#50a0a3" stroke-width="1.7" opacity="0.20" stroke-linecap="round"/><path d="M330.4 245.1l2.9 -3.5" stroke="#55afa2" stroke-width="1.8" opacity="0.22" stroke-linecap="round"/><path d="M372.6 184.1l-3.7 -5.7" stroke="#4c96a0" stroke-width="1.9" opacity="0.17" stroke-linecap="round"/><path d="M339.1 166.9l4.2 -7.9" stroke="#3da397" stroke-width="2.1" opacity="0.15" stroke-linecap="round"/><path d="M335.0 319.6l-3.7 -4.5" stroke="#42a498" stroke-width="2.3" opacity="0.19" stroke-linecap="round"/><path d="M375.0 169.4l-3.2 -6.0" stroke="#3c8b96" stroke-width="2.0" opacity="0.17" stroke-linecap="round"/><path d="M360.1 242.3l-2.2 -3.6" stroke="#3d9d99" stroke-width="1.7" opacity="0.15" stroke-linecap="round"/><path d="M324.2 252.7l-3.5 -6.9" stroke="#42a398" stroke-width="2.3" opacity="0.23" stroke-linecap="round"/><path d="M324.2 199.7l3.5 -7.6" stroke="#41a597" stroke-width="2.6" opacity="0.19" stroke-linecap="round"/><path d="M331.0 174.3l-2.2 -4.9" stroke="#38a194" stroke-width="2.7" opacity="0.16" stroke-linecap="round"/><path d="M352.0 225.4l-4.0 -7.9" stroke="#1d7b76" stroke-width="1.9" opacity="0.14" stroke-linecap="round"/><path d="M324.4 176.2l-2.3 -6.9" stroke="#53afa2" stroke-width="2.5" opacity="0.15" stroke-linecap="round"/><path d="M288.9 260.6l2.6 -5.6" stroke="#266b7c" stroke-width="2.8" opacity="0.22" stroke-linecap="round"/><path d="M302.1 300.7l2.5 -6.3" stroke="#44929e" stroke-width="2.7" opacity="0.28" stroke-linecap="round"/><path d="M321.3 217.9l2.7 -7.0" stroke="#55aea2" stroke-width="1.6" opacity="0.23" stroke-linecap="round"/><path d="M354.3 148.8l-3.6 -7.2" stroke="#51b0a1" stroke-width="2.1" opacity="0.19" stroke-linecap="round"/><path d="M292.4 263.4l2.7 -4.7" stroke="#4f97a4" stroke-width="2.2" opacity="0.21" stroke-linecap="round"/><path d="M322.0 283.0l-4.0 -4.6" stroke="#55aaa4" stroke-width="2.3" opacity="0.15" stroke-linecap="round"/><path d="M349.7 194.9l-4.6 -5.3" stroke="#50a8a3" stroke-width="1.9" opacity="0.26" stroke-linecap="round"/><path d="M363.9 313.6l1.9 -4.5" stroke="#3d9e99" stroke-width="2.4" opacity="0.25" stroke-linecap="round"/><polygon points="390.7,112.6 397.0,112.6 394.4,91.0" fill="#408c87" opacity="0.62"/><polygon points="359.1,184.2 365.2,184.2 362.1,116.9" fill="#1e535b" opacity="0.67"/><polygon points="342.5,147.1 346.0,147.1 344.7,110.2" fill="#228e71" opacity="0.61"/><polygon points="431.1,204.5 436.6,204.5 434.8,155.1" fill="#502b75" opacity="0.76"/><polygon points="453.5,272.2 456.8,272.2 453.9,226.6" fill="#4b135a" opacity="0.58"/><polygon points="370.0,370.0 372.6,370.0 372.0,347.0" fill="#3ca295" opacity="0.61"/><polygon points="359.4,248.9 361.9,248.9 360.1,206.9" fill="#2b9590" opacity="0.80"/><polygon points="441.3,253.0 445.9,253.0 445.1,199.1" fill="#584386" opacity="0.69"/><polygon points="343.2,304.5 348.8,304.5 347.5,254.6" fill="#329893" opacity="0.81"/><polygon points="422.8,248.2 427.2,248.2 424.9,179.5" fill="#411a5e" opacity="0.66"/><polygon points="365.5,199.7 368.8,199.7 367.1,120.3" fill="#225b67" opacity="0.50"/><polygon points="437.2,291.0 441.9,291.0 440.4,257.3" fill="#564f90" opacity="0.61"/><polygon points="445.5,333.3 449.3,333.3 448.5,294.4" fill="#54387e" opacity="0.82"/><polygon points="336.8,204.5 343.0,204.5 339.6,175.3" fill="#399997" opacity="0.50"/><polygon points="402.1,352.9 408.4,352.9 405.8,301.5" fill="#2d2354" opacity="0.67"/><polygon points="410.0,196.3 413.0,196.3 412.2,130.4" fill="#46528b" opacity="0.60"/><polygon points="341.8,206.1 346.8,206.1 345.0,130.1" fill="#2b9b8e" opacity="0.57"/><polygon points="341.3,136.8 346.1,136.8 344.3,110.4" fill="#1f7d61" opacity="0.52"/><polygon points="416.6,367.5 422.5,367.5 419.8,331.8" fill="#487198" opacity="0.78"/><polygon points="335.7,285.3 340.3,285.3 337.3,223.4" fill="#1b635c" opacity="0.73"/><polygon points="429.2,212.8 435.4,212.8 431.6,174.2" fill="#390f46" opacity="0.81"/><polygon points="444.7,341.0 447.8,341.0 447.3,293.7" fill="#40114f" opacity="0.81"/><polygon points="400.6,338.4 404.3,338.4 402.6,277.1" fill="#2d2656" opacity="0.63"/><polygon points="393.1,291.5 397.8,291.5 394.6,232.6" fill="#334577" opacity="0.74"/><polygon points="387.2,146.1 390.2,146.1 388.2,82.7" fill="#40a489" opacity="0.71"/><polygon points="341.5,120.7 345.3,120.7 344.1,74.0" fill="#4cba86" opacity="0.79"/><polygon points="393.5,175.2 399.3,175.2 395.7,143.3" fill="#2e1f50" opacity="0.53"/><polygon points="407.5,256.1 413.5,256.1 410.1,214.5" fill="#3b2d6c" opacity="0.78"/><polygon points="443.1,201.7 447.9,201.7 445.3,181.2" fill="#572f78" opacity="0.78"/><polygon points="362.5,222.1 367.2,222.1 366.3,190.3" fill="#21566a" opacity="0.72"/><polygon points="413.6,258.2 417.2,258.2 415.9,208.3" fill="#361953" opacity="0.70"/><polygon points="358.5,294.0 361.5,294.0 358.9,267.6" fill="#2e998f" opacity="0.67"/><polygon points="395.5,336.4 399.3,336.4 396.4,308.2" fill="#3b9498" opacity="0.75"/><polygon points="337.7,274.9 341.0,274.9 338.2,248.4" fill="#2d998f" opacity="0.53"/><polygon points="436.3,315.6 441.5,315.6 439.2,250.3" fill="#45165b" opacity="0.60"/><polygon points="427.0,325.6 432.8,325.6 429.1,304.6" fill="#3a1551" opacity="0.77"/><polygon points="371.4,277.5 375.6,277.5 374.7,211.7" fill="#399d96" opacity="0.65"/><polygon points="420.9,322.0 423.6,322.0 423.3,259.6" fill="#371852" opacity="0.85"/><polygon points="370.3,240.0 375.8,240.0 372.6,177.1" fill="#264a69" opacity="0.65"/><polygon points="344.6,179.7 347.3,179.7 345.4,122.7" fill="#186959" opacity="0.78"/><polygon points="426.5,336.7 432.7,336.7 428.7,274.1" fill="#4d528f" opacity="0.68"/><polygon points="460.5,218.2 466.4,218.2 463.2,172.3" fill="#5d206f" opacity="0.67"/><polygon points="381.9,265.6 387.5,265.6 383.9,200.3" fill="#349094" opacity="0.83"/><polygon points="377.7,185.3 382.1,185.3 379.8,119.1" fill="#30938e" opacity="0.79"/><polygon points="433.5,320.8 439.2,320.8 435.5,299.0" fill="#3d124f" opacity="0.55"/><polygon points="347.1,239.9 352.7,239.9 350.5,193.8" fill="#3c8e98" opacity="0.66"/><polygon points="407.1,355.1 409.8,355.1 407.4,284.6" fill="#2e2051" opacity="0.70"/><polygon points="357.3,302.7 362.8,302.7 359.9,259.6" fill="#1e7978" opacity="0.52"/><polygon points="431.5,353.6 437.0,353.6 433.8,320.7" fill="#411a5d" opacity="0.62"/><polygon points="372.1,362.0 377.5,362.0 375.8,304.5" fill="#339b93" opacity="0.77"/><polygon points="404.6,203.5 409.0,203.5 406.1,164.3" fill="#3b2c6b" opacity="0.56"/><polygon points="416.5,320.8 422.8,320.8 419.1,268.5" fill="#3c2868" opacity="0.85"/><polygon points="466.6,247.4 469.3,247.4 468.2,226.3" fill="#632e78" opacity="0.72"/><polygon points="413.0,292.5 415.5,292.5 415.4,248.7" fill="#44558e" opacity="0.72"/><polygon points="368.1,135.5 371.6,135.5 371.1,89.1" fill="#44b58b" opacity="0.58"/><polygon points="359.2,311.0 361.8,311.0 359.7,237.5" fill="#1b535e" opacity="0.57"/><polygon points="370.3,212.0 373.7,212.0 371.9,179.7" fill="#243e5d" opacity="0.59"/><polygon points="401.9,264.9 404.7,264.9 403.5,197.0" fill="#3f6191" opacity="0.82"/><polygon points="346.1,110.1 350.4,110.1 347.9,54.9" fill="#318c56" opacity="0.66"/><polygon points="371.6,234.5 377.7,234.5 374.8,163.9" fill="#329793" opacity="0.72"/><polygon points="347.1,126.2 351.6,126.2 349.1,72.7" fill="#4bb288" opacity="0.55"/><polygon points="432.7,361.7 438.2,361.7 435.7,301.8" fill="#525993" opacity="0.54"/><polygon points="426.8,266.9 433.0,266.9 430.0,205.7" fill="#3d124f" opacity="0.72"/><polygon points="387.1,260.8 390.5,260.8 390.1,205.5" fill="#314a78" opacity="0.59"/><polygon points="345.2,292.4 351.5,292.4 348.3,227.0" fill="#1e7367" opacity="0.58"/><polygon points="457.1,253.1 462.9,253.1 458.8,223.3" fill="#43104f" opacity="0.73"/><polygon points="467.9,407.2 471.7,407.2 468.6,361.9" fill="#5c206f" opacity="0.78"/><polygon points="459.4,281.5 462.8,281.5 461.3,233.4" fill="#5d2974" opacity="0.72"/><polygon points="406.8,168.7 410.6,168.7 407.3,136.5" fill="#446d91" opacity="0.67"/><polygon points="405.2,371.3 410.7,371.3 407.4,301.8" fill="#332a60" opacity="0.54"/><polygon points="390.1,288.7 396.3,288.7 394.1,247.1" fill="#314978" opacity="0.62"/><polygon points="358.3,175.0 364.4,175.0 360.6,144.5" fill="#32a091" opacity="0.52"/><polygon points="366.9,325.5 370.5,325.5 367.3,271.4" fill="#3ca295" opacity="0.75"/><polygon points="401.1,320.6 407.3,320.6 403.0,296.7" fill="#2d2455" opacity="0.68"/><polygon points="461.3,340.8 464.7,340.8 462.7,299.3" fill="#5c2a75" opacity="0.78"/><polygon points="431.7,257.9 437.3,257.9 435.7,193.4" fill="#45155b" opacity="0.52"/><polygon points="344.8,113.8 350.1,113.8 346.1,58.9" fill="#36a064" opacity="0.59"/><polygon points="408.2,199.7 414.4,199.7 412.0,153.4" fill="#45528c" opacity="0.72"/><polygon points="442.1,413.7 447.0,413.7 445.6,356.5" fill="#390f46" opacity="0.72"/><polygon points="434.9,379.3 437.8,379.3 437.8,354.7" fill="#4d387f" opacity="0.80"/><polygon points="437.4,223.3 443.2,223.3 440.8,167.6" fill="#3a0f46" opacity="0.81"/><polygon points="449.3,419.2 452.4,419.2 450.4,397.3" fill="#41114f" opacity="0.55"/><polygon points="415.8,243.2 418.4,243.2 417.2,221.6" fill="#4b6a98" opacity="0.52"/><polygon points="396.3,195.2 400.7,195.2 399.6,164.8" fill="#3c6990" opacity="0.68"/><polygon points="414.4,361.3 417.7,361.3 416.1,303.0" fill="#467698" opacity="0.72"/><polygon points="380.9,389.1 384.5,389.1 382.9,332.6" fill="#329793" opacity="0.65"/><polygon points="381.6,304.1 385.9,304.1 383.6,270.2" fill="#2a5a79" opacity="0.64"/><polygon points="419.1,273.9 425.0,273.9 422.8,229.8" fill="#49478a" opacity="0.62"/><polygon points="349.8,313.0 356.1,313.0 351.9,280.1" fill="#1e7e77" opacity="0.53"/><polygon points="388.1,377.9 391.0,377.9 388.3,351.8" fill="#2b4069" opacity="0.84"/><polygon points="366.3,119.1 371.9,119.1 369.8,93.8" fill="#286661" opacity="0.72"/><polygon points="390.0,322.4 393.2,322.4 392.8,293.3" fill="#399997" opacity="0.51"/><polygon points="456.6,233.3 461.6,233.3 457.8,176.8" fill="#5e2774" opacity="0.50"/><polygon points="341.6,232.9 346.3,232.9 343.6,162.0" fill="#2b968f" opacity="0.63"/><polygon points="417.1,233.5 422.4,233.5 420.6,197.9" fill="#391651" opacity="0.82"/><polygon points="397.9,401.6 404.2,401.6 399.7,350.8" fill="#398096" opacity="0.78"/><polygon points="429.4,236.6 433.3,236.6 431.8,213.3" fill="#4d357d" opacity="0.58"/><polygon points="340.0,244.1 343.0,244.1 342.6,180.4" fill="#399797" opacity="0.51"/><polygon points="420.9,370.8 424.7,370.8 423.1,319.8" fill="#495c92" opacity="0.58"/><polygon points="435.0,212.9 439.9,212.9 436.4,156.5" fill="#48145a" opacity="0.58"/><polygon points="378.1,251.5 380.8,251.5 378.6,194.5" fill="#339494" opacity="0.62"/><polygon points="357.4,252.8 362.9,252.8 360.4,209.4" fill="#1c4f5e" opacity="0.74"/><polygon points="425.9,400.9 428.6,400.9 426.5,378.1" fill="#381751" opacity="0.62"/><polygon points="346.5,267.4 350.3,267.4 349.2,221.3" fill="#1b665b" opacity="0.53"/><polygon points="468.0,330.8 472.0,330.8 469.2,311.0" fill="#43104f" opacity="0.63"/><polygon points="383.6,203.9 387.1,203.9 386.9,163.0" fill="#2a2f59" opacity="0.53"/><polygon points="366.4,139.4 371.5,139.4 369.6,88.4" fill="#2b816f" opacity="0.73"/><polygon points="359.5,268.1 363.5,268.1 362.7,191.3" fill="#207479" opacity="0.71"/><polygon points="370.8,345.5 374.4,345.5 373.8,318.2" fill="#226e79" opacity="0.54"/><polygon points="347.1,256.9 351.5,256.9 350.4,218.4" fill="#3b9298" opacity="0.70"/><polygon points="355.3,153.3 359.1,153.3 357.0,69.9" fill="#267a5e" opacity="0.61"/><polygon points="374.4,281.9 379.4,281.9 378.2,200.4" fill="#2d8e90" opacity="0.81"/><polygon points="403.0,369.9 408.8,369.9 406.1,334.3" fill="#322d62" opacity="0.71"/><polygon points="465.8,396.3 471.2,396.3 468.2,369.2" fill="#4d135a" opacity="0.84"/><polygon points="396.3,294.3 399.3,294.3 397.5,236.5" fill="#3a8096" opacity="0.64"/><polygon points="409.1,407.4 412.4,407.4 409.6,387.1" fill="#2f1d4f" opacity="0.65"/><polygon points="464.6,415.3 469.1,415.3 466.3,362.3" fill="#5b206f" opacity="0.59"/><polygon points="421.5,412.2 425.0,412.2 423.0,348.8" fill="#474c8c" opacity="0.56"/><polygon points="441.5,385.4 447.2,385.4 445.3,367.4" fill="#564c8e" opacity="0.79"/><polygon points="467.9,378.9 470.8,378.9 468.6,353.4" fill="#4d135a" opacity="0.71"/><polygon points="393.6,321.8 396.6,321.8 396.1,250.7" fill="#378895" opacity="0.80"/><polygon points="342.5,123.7 347.9,123.7 346.6,95.6" fill="#29956c" opacity="0.55"/><polygon points="411.0,298.6 413.6,298.6 412.9,254.3" fill="#436994" opacity="0.64"/><polygon points="346.6,321.5 352.9,321.5 348.9,270.0" fill="#2d978f" opacity="0.54"/><polygon points="439.5,255.3 444.6,255.3 442.5,236.2" fill="#40114f" opacity="0.78"/><polygon points="437.0,411.6 441.9,411.6 438.0,359.3" fill="#380f46" opacity="0.74"/><polygon points="448.5,417.1 454.2,417.1 450.4,355.0" fill="#584285" opacity="0.72"/><polygon points="387.7,378.7 390.9,378.7 388.0,346.6" fill="#2c5479" opacity="0.74"/><polygon points="434.6,419.0 438.2,419.0 436.9,361.0" fill="#535793" opacity="0.80"/><polygon points="390.5,125.7 395.0,125.7 392.2,71.6" fill="#2f1d4e" opacity="0.55"/><polygon points="362.7,242.6 365.4,242.6 364.5,158.1" fill="#21576a" opacity="0.66"/><polygon points="355.9,187.2 361.9,187.2 358.6,131.4" fill="#32a190" opacity="0.70"/><polygon points="466.3,371.6 472.1,371.6 468.8,354.4" fill="#5c206f" opacity="0.73"/><polygon points="440.8,246.3 445.1,246.3 443.1,190.1" fill="#41114f" opacity="0.62"/><polygon points="340.6,323.7 345.7,323.7 343.7,284.9" fill="#1b615d" opacity="0.53"/><polygon points="370.4,335.0 373.9,335.0 370.9,289.1" fill="#20586a" opacity="0.54"/><polygon points="344.6,272.3 350.0,272.3 347.9,236.7" fill="#2b958f" opacity="0.56"/><polygon points="345.9,223.9 352.1,223.9 349.8,133.8" fill="#1d8076" opacity="0.65"/><polygon points="340.9,313.3 347.0,313.3 345.1,281.0" fill="#1e7068" opacity="0.70"/><polygon points="463.4,369.6 468.4,369.6 465.6,322.8" fill="#4d135a" opacity="0.61"/><polygon points="394.2,235.0 397.8,235.0 395.1,170.5" fill="#3e8999" opacity="0.78"/><polygon points="438.2,280.4 442.7,280.4 440.2,237.9" fill="#390f46" opacity="0.58"/><polygon points="355.7,242.8 359.2,242.8 358.2,156.0" fill="#3a9f96" opacity="0.52"/><polygon points="416.2,336.1 419.4,336.1 416.7,299.2" fill="#477498" opacity="0.62"/><polygon points="346.5,202.8 349.3,202.8 347.4,134.6" fill="#1a7266" opacity="0.65"/><polygon points="421.9,251.6 426.5,251.6 425.0,194.3" fill="#4b3f85" opacity="0.79"/><polygon points="406.1,372.8 410.7,372.8 406.9,349.5" fill="#332960" opacity="0.54"/><polygon points="423.2,326.6 426.6,326.6 425.0,298.3" fill="#3d2263" opacity="0.62"/><polygon points="397.7,334.3 402.9,334.3 401.2,304.4" fill="#3c9098" opacity="0.82"/><polygon points="409.7,370.2 416.1,370.2 413.3,333.4" fill="#2f1b4d" opacity="0.59"/><polygon points="346.8,282.3 350.6,282.3 347.6,223.8" fill="#3b9498" opacity="0.61"/><polygon points="403.8,249.9 407.9,249.9 406.5,215.8" fill="#426d95" opacity="0.69"/><polygon points="466.2,391.4 469.0,391.4 469.0,341.6" fill="#5b206f" opacity="0.51"/><polygon points="369.9,195.1 373.8,195.1 371.3,123.5" fill="#23435c" opacity="0.57"/><polygon points="460.8,263.6 465.4,263.6 463.0,244.6" fill="#60327a" opacity="0.54"/><polygon points="405.9,294.1 409.6,294.1 406.5,228.2" fill="#3a3472" opacity="0.55"/><polygon points="380.2,262.2 382.8,262.2 381.7,222.1" fill="#339494" opacity="0.78"/><polygon points="450.0,242.7 454.3,242.7 452.6,196.1" fill="#5a2c76" opacity="0.66"/><polygon points="352.8,274.0 357.9,274.0 355.4,232.1" fill="#2d998f" opacity="0.84"/><polygon points="345.9,185.1 349.2,185.1 348.4,146.8" fill="#1a7266" opacity="0.68"/><polygon points="374.7,217.3 379.3,217.3 377.0,182.7" fill="#2e8b91" opacity="0.82"/><polygon points="368.3,267.9 371.6,267.9 369.4,221.2" fill="#329893" opacity="0.84"/><polygon points="458.2,333.1 464.3,333.1 460.3,285.8" fill="#4c135a" opacity="0.57"/><polygon points="342.9,134.8 347.1,134.8 345.9,74.0" fill="#43b584" opacity="0.84"/><polygon points="394.2,258.7 399.8,258.7 396.9,229.7" fill="#396e92" opacity="0.66"/><polygon points="359.9,142.8 365.9,142.8 363.5,90.9" fill="#42b38c" opacity="0.51"/><polygon points="365.0,143.8 370.3,143.8 366.3,111.4" fill="#22505a" opacity="0.60"/><polygon points="347.1,122.0 351.3,122.0 349.2,55.9" fill="#359f64" opacity="0.51"/><polygon points="390.0,218.1 394.1,218.1 390.9,195.1" fill="#398196" opacity="0.82"/><polygon points="375.0,246.0 380.4,246.0 377.8,191.2" fill="#389b97" opacity="0.70"/><polygon points="355.3,321.0 359.3,321.0 357.2,242.7" fill="#1b6769" opacity="0.69"/><polygon points="345.6,126.6 351.2,126.6 349.0,43.5" fill="#38a162" opacity="0.59"/><polygon points="351.1,300.0 354.2,300.0 351.2,253.3" fill="#2f9b8e" opacity="0.66"/><polygon points="405.3,338.7 409.4,338.7 406.2,296.9" fill="#408599" opacity="0.78"/><polygon points="339.5,217.5 344.4,217.5 342.5,190.9" fill="#208177" opacity="0.59"/><polygon points="336.2,294.7 340.2,294.7 336.7,252.0" fill="#2e9a8f" opacity="0.75"/><polygon points="343.2,133.6 348.8,133.6 346.6,51.9" fill="#4bbc7f" opacity="0.68"/><polygon points="362.9,260.9 366.3,260.9 364.8,229.1" fill="#3ba096" opacity="0.53"/><polygon points="378.2,150.3 384.3,150.3 379.9,87.9" fill="#3dac89" opacity="0.61"/><polygon points="438.1,300.2 443.3,300.2 439.8,249.8" fill="#564d8f" opacity="0.56"/><polygon points="405.5,251.1 411.1,251.1 408.5,185.9" fill="#467698" opacity="0.69"/><polygon points="342.3,134.1 347.6,134.1 344.9,78.7" fill="#227552" opacity="0.80"/><polygon points="379.4,364.9 383.2,364.9 381.4,337.0" fill="#264b69" opacity="0.77"/><polygon points="446.7,285.5 450.9,285.5 448.3,244.1" fill="#553179" opacity="0.64"/><polygon points="462.4,278.7 465.3,278.7 464.4,228.2" fill="#60327a" opacity="0.70"/><polygon points="447.6,269.2 451.9,269.2 450.9,226.8" fill="#572f78" opacity="0.63"/><polygon points="437.3,377.3 441.4,377.3 438.5,344.7" fill="#3e114f" opacity="0.76"/><polygon points="346.0,152.4 351.4,152.4 350.0,123.6" fill="#1b7864" opacity="0.62"/><polygon points="347.5,276.5 351.4,276.5 350.6,221.0" fill="#1b665b" opacity="0.80"/><polygon points="429.9,397.4 434.4,397.4 432.2,374.0" fill="#4c3f85" opacity="0.74"/><polygon points="410.2,380.7 414.1,380.7 413.1,345.8" fill="#3a3371" opacity="0.58"/><polygon points="411.9,257.8 415.7,257.8 412.6,196.8" fill="#321549" opacity="0.57"/><polygon points="410.0,194.5 413.1,194.5 410.8,125.9" fill="#371852" opacity="0.80"/><polygon points="348.9,129.9 351.9,129.9 349.2,80.2" fill="#48b988" opacity="0.79"/><polygon points="359.7,315.8 363.9,315.8 362.9,275.3" fill="#2e998f" opacity="0.51"/><polygon points="346.0,214.1 351.8,214.1 349.9,144.4" fill="#3c9297" opacity="0.76"/><polygon points="335.9,214.6 342.1,214.6 338.2,173.0" fill="#2b968f" opacity="0.65"/><polygon points="336.1,199.6 340.5,199.6 338.1,174.1" fill="#208276" opacity="0.56"/><polygon points="429.0,396.9 432.5,396.9 430.5,370.8" fill="#4d508f" opacity="0.73"/><polygon points="460.4,289.7 462.9,289.7 460.6,235.5" fill="#43104f" opacity="0.53"/><polygon points="455.9,254.3 458.9,254.3 458.6,219.4" fill="#43104f" opacity="0.63"/><polygon points="423.9,189.6 426.5,189.6 424.1,147.9" fill="#43185c" opacity="0.56"/><polygon points="399.1,209.3 404.4,209.3 402.1,142.5" fill="#3a3370" opacity="0.80"/><polygon points="464.3,391.3 468.0,391.3 467.6,344.6" fill="#5d2874" opacity="0.65"/><polygon points="373.1,190.3 379.2,190.3 375.3,148.0" fill="#38a095" opacity="0.80"/><polygon points="348.9,303.4 353.5,303.4 350.9,269.2" fill="#309d8e" opacity="0.74"/><polygon points="425.2,339.5 429.2,339.5 427.8,304.1" fill="#4b5690" opacity="0.80"/><polygon points="410.0,335.4 416.2,335.4 412.8,288.0" fill="#2f1b4d" opacity="0.55"/><polygon points="400.6,366.1 406.9,366.1 403.0,334.0" fill="#2d2555" opacity="0.71"/><polygon points="361.2,158.5 366.2,158.5 364.5,120.7" fill="#206566" opacity="0.52"/><polygon points="355.2,307.1 358.3,307.1 356.6,229.8" fill="#3da495" opacity="0.69"/><polygon points="344.5,214.0 350.4,214.0 348.0,129.8" fill="#18665b" opacity="0.55"/><polygon points="408.9,343.8 414.0,343.8 410.1,298.6" fill="#33265d" opacity="0.84"/><polygon points="364.8,317.8 370.2,317.8 368.2,275.9" fill="#1e5d6a" opacity="0.54"/><polygon points="378.2,274.2 382.7,274.2 379.2,223.0" fill="#2a5a79" opacity="0.53"/><polygon points="372.7,204.3 377.7,204.3 376.6,163.5" fill="#253b5c" opacity="0.74"/><polygon points="383.9,336.9 390.3,336.9 385.9,308.4" fill="#294369" opacity="0.81"/><polygon points="454.1,234.9 456.7,234.9 453.9,183.1" fill="#3c0f46" opacity="0.70"/><polygon points="367.6,286.6 373.2,286.6 370.6,242.2" fill="#226c79" opacity="0.72"/><polygon points="344.6,226.7 347.3,226.7 346.6,170.8" fill="#329593" opacity="0.51"/><polygon points="350.9,193.6 353.7,193.6 352.9,140.0" fill="#1c6b67" opacity="0.82"/><polygon points="373.0,208.5 379.3,208.5 374.9,167.7" fill="#329793" opacity="0.60"/><polygon points="350.5,238.6 355.3,238.6 353.5,212.4" fill="#2d988f" opacity="0.54"/><polygon points="362.7,212.2 366.9,212.2 364.7,141.3" fill="#38a095" opacity="0.69"/><polygon points="394.7,193.2 400.0,193.2 396.7,144.2" fill="#3b6e90" opacity="0.64"/><polygon points="429.1,396.3 434.9,396.3 432.3,369.2" fill="#4b3f85" opacity="0.52"/><polygon points="413.2,334.4 416.3,334.4 413.7,298.0" fill="#457999" opacity="0.63"/><polygon points="362.0,298.4 368.0,298.4 363.7,266.5" fill="#359d92" opacity="0.66"/><polygon points="363.4,192.9 369.5,192.9 366.3,110.3" fill="#39a793" opacity="0.84"/><polygon points="352.1,255.3 358.1,255.3 355.3,205.0" fill="#2c978f" opacity="0.71"/><polygon points="369.3,363.7 374.5,363.7 373.3,305.5" fill="#2c968f" opacity="0.78"/><polygon points="346.2,103.2 350.8,103.2 348.4,24.2" fill="#5cc375" opacity="0.83"/><polygon points="428.5,220.5 431.9,220.5 430.8,177.1" fill="#4e337b" opacity="0.74"/><polygon points="461.7,370.8 466.3,370.8 465.3,314.1" fill="#5a206f" opacity="0.73"/><polygon points="428.7,194.1 434.8,194.1 430.9,152.7" fill="#3f114f" opacity="0.70"/><polygon points="348.8,254.5 354.7,254.5 350.5,198.3" fill="#3da395" opacity="0.84"/><polygon points="447.5,280.1 452.1,280.1 451.1,234.1" fill="#42114f" opacity="0.61"/><polygon points="454.5,405.0 459.2,405.0 456.7,382.8" fill="#582e77" opacity="0.78"/><polygon points="416.0,245.1 422.0,245.1 420.2,222.7" fill="#3d2163" opacity="0.65"/><polygon points="362.0,305.2 366.7,305.2 365.7,257.2" fill="#1d6069" opacity="0.65"/><polygon points="370.9,249.6 374.7,249.6 372.1,178.4" fill="#243d5d" opacity="0.58"/><polygon points="339.7,238.2 344.2,238.2 341.9,179.3" fill="#329793" opacity="0.73"/><polygon points="382.1,232.3 387.9,232.3 384.1,171.1" fill="#2a2f5a" opacity="0.59"/><polygon points="344.8,126.7 350.0,126.7 346.2,44.6" fill="#54bb82" opacity="0.52"/><polygon points="387.1,286.4 393.3,286.4 391.5,240.8" fill="#304c79" opacity="0.78"/><polygon points="340.9,163.6 347.2,163.6 344.0,104.7" fill="#1a6d57" opacity="0.74"/><polygon points="369.0,206.1 374.9,206.1 372.5,164.8" fill="#254e69" opacity="0.53"/><polygon points="433.1,354.2 438.3,354.2 434.7,328.6" fill="#4d3980" opacity="0.50"/><polygon points="422.8,297.3 426.7,297.3 425.4,243.2" fill="#4a4589" opacity="0.57"/><polygon points="414.0,100.0 502.0,100.0 502.0,215.0 498.0,238.4 494.0,212.1 490.0,210.6 486.0,210.8 482.0,225.0 478.0,221.6 474.0,231.2 470.0,215.1 466.0,230.6 462.0,213.8 458.0,240.7 454.0,214.9 450.0,239.0 446.0,205.6 442.0,236.0 438.0,192.5 434.0,217.0 430.0,206.3 426.0,202.0 422.0,196.4 418.0,224.0 414.0,191.7" fill="#3c1a5c" opacity="0.8"/><polygon points="436.3,186.5 444.0,186.5 439.5,161.1" fill="#432068" opacity="0.9"/><polygon points="421.6,199.2 430.6,199.2 426.5,164.6" fill="#3b1a5c" opacity="0.9"/><polygon points="489.3,207.6 494.9,207.6 492.6,173.1" fill="#4a1d6c" opacity="0.9"/><polygon points="460.8,226.7 465.9,226.7 462.4,192.5" fill="#3f2a72" opacity="0.9"/><polygon points="487.2,204.3 497.4,204.3 493.2,176.2" fill="#3b1a5c" opacity="0.9"/><polygon points="473.1,211.5 483.2,211.5 479.1,192.4" fill="#432068" opacity="0.9"/><polygon points="478.1,236.2 484.3,236.2 481.2,197.1" fill="#4a1d6c" opacity="0.9"/><polygon points="440.7,230.9 449.1,230.9 445.2,189.9" fill="#432068" opacity="0.9"/><polygon points="433.7,185.9 442.6,185.9 438.8,170.6" fill="#3b1a5c" opacity="0.9"/><polygon points="449.8,234.3 457.8,234.3 454.6,199.0" fill="#3b1a5c" opacity="0.9"/><polygon points="426.3,218.7 435.4,218.7 430.1,182.8" fill="#3f2a72" opacity="0.9"/><polygon points="461.7,218.6 472.6,218.6 467.7,195.8" fill="#351550" opacity="0.9"/><polygon points="458.9,235.7 464.3,235.7 461.2,198.6" fill="#3f2a72" opacity="0.9"/><polygon points="491.7,217.4 501.3,217.4 496.0,196.9" fill="#3b1a5c" opacity="0.9"/><polygon points="459.8,227.4 466.3,227.4 463.2,187.5" fill="#432068" opacity="0.9"/><polygon points="471.2,233.2 476.9,233.2 474.8,193.7" fill="#4a1d6c" opacity="0.9"/><polygon points="429.2,195.8 438.0,195.8 434.1,179.0" fill="#432068" opacity="0.9"/><polygon points="465.3,213.9 471.9,213.9 468.1,200.3" fill="#3f2a72" opacity="0.9"/><polygon points="431.8,205.4 438.0,205.4 435.7,180.3" fill="#432068" opacity="0.9"/><polygon points="491.1,206.1 500.3,206.1 495.9,190.0" fill="#432068" opacity="0.9"/><polygon points="494.4,254.2 505.1,254.2 499.0,214.4" fill="#432068" opacity="0.9"/><polygon points="487.8,196.5 496.4,196.5 492.1,183.9" fill="#432068" opacity="0.9"/><polygon points="421.9,206.0 428.6,206.0 425.7,170.0" fill="#3b1a5c" opacity="0.9"/><polygon points="467.2,234.0 473.1,234.0 469.3,189.0" fill="#351550" opacity="0.9"/><polygon points="467.9,210.4 474.3,210.4 470.6,195.7" fill="#3b1a5c" opacity="0.9"/><polygon points="430.4,196.4 436.3,196.4 434.0,182.2" fill="#3f2a72" opacity="0.9"/><polygon points="467.4,222.8 475.8,222.8 470.7,189.3" fill="#4a1d6c" opacity="0.9"/><polygon points="427.0,208.0 432.8,208.0 430.9,171.6" fill="#3b1a5c" opacity="0.9"/><polygon points="424.5,187.3 435.4,187.3 430.0,170.5" fill="#3f2a72" opacity="0.9"/><polygon points="434.0,188.3 444.6,188.3 439.2,158.2" fill="#3f2a72" opacity="0.9"/><polygon points="448.2,239.2 454.5,239.2 450.5,193.8" fill="#3f2a72" opacity="0.9"/><polygon points="425.7,200.7 432.4,200.7 428.1,159.5" fill="#3b1a5c" opacity="0.9"/><polygon points="467.0,226.6 474.7,226.6 470.8,191.0" fill="#351550" opacity="0.9"/><polygon points="467.6,237.9 478.1,237.9 472.7,195.6" fill="#4a1d6c" opacity="0.9"/><polygon points="465.7,211.3 473.4,211.3 469.1,197.2" fill="#3b1a5c" opacity="0.9"/><polygon points="467.0,230.9 476.2,230.9 472.4,194.2" fill="#3b1a5c" opacity="0.9"/><polygon points="429.2,221.5 437.4,221.5 434.0,184.9" fill="#3f2a72" opacity="0.9"/><polygon points="453.7,233.9 462.4,233.9 458.4,204.3" fill="#4a1d6c" opacity="0.9"/><polygon points="428.5,214.7 438.9,214.7 433.0,177.5" fill="#432068" opacity="0.9"/><polygon points="442.0,209.4 447.4,209.4 444.4,190.8" fill="#4a1d6c" opacity="0.9"/><polygon points="435.6,190.6 442.6,190.6 440.1,166.1" fill="#4a1d6c" opacity="0.9"/><polygon points="485.9,213.0 493.6,213.0 490.3,175.6" fill="#351550" opacity="0.9"/><polygon points="446.9,223.8 453.5,223.8 450.6,199.5" fill="#432068" opacity="0.9"/><polygon points="489.6,201.7 498.1,201.7 493.2,186.8" fill="#432068" opacity="0.9"/><polygon points="425.2,197.9 430.9,197.9 427.5,162.6" fill="#3f2a72" opacity="0.9"/><polygon points="486.4,198.4 492.4,198.4 490.2,183.4" fill="#351550" opacity="0.9"/><polygon points="453.5,404.0 460.5,404.0 458.0,338.0" fill="#4b3f8a" opacity="0.85"/><polygon points="463.0,408.0 469.0,408.0 468.0,352.0" fill="#453781" opacity="0.85"/><polygon points="473.0,412.0 479.0,412.0 478.0,365.0" fill="#4a3586" opacity="0.85"/><polygon points="483.5,410.0 488.5,410.0 487.0,372.0" fill="#48307f" opacity="0.85"/><polygon points="444.0,400.0 450.0,400.0 448.0,330.0" fill="#3f4a8a" opacity="0.85"/><polygon points="437.0,396.0 443.0,396.0 441.0,318.0" fill="#3a558c" opacity="0.85"/><polygon points="468.5,300.0 473.5,300.0 472.0,262.0" fill="#482f7c" opacity="0.85"/><polygon points="458.5,280.0 463.5,280.0 462.0,238.0" fill="#46337f" opacity="0.85"/><polygon points="449.5,262.0 454.5,262.0 453.0,220.0" fill="#44397f" opacity="0.85"/><polygon points="477.5,330.0 482.5,330.0 481.0,296.0" fill="#4a2a78" opacity="0.85"/><polygon points="486.5,352.0 491.5,352.0 490.0,322.0" fill="#4d2676" opacity="0.85"/><ellipse cx="446.0" cy="232.0" rx="2.8" ry="3.8" fill="#3a1050" opacity="0.55"/><ellipse cx="452.0" cy="262.0" rx="2.8" ry="3.8" fill="#3a1050" opacity="0.55"/><ellipse cx="458.0" cy="292.0" rx="2.8" ry="3.8" fill="#3a1050" opacity="0.55"/><ellipse cx="463.0" cy="322.0" rx="2.8" ry="3.8" fill="#3a1050" opacity="0.55"/><ellipse cx="469.0" cy="352.0" rx="2.8" ry="3.8" fill="#3a1050" opacity="0.55"/><ellipse cx="474.0" cy="378.0" rx="2.8" ry="3.8" fill="#3a1050" opacity="0.55"/><ellipse cx="478.0" cy="402.0" rx="2.8" ry="3.8" fill="#3a1050" opacity="0.55"/><ellipse cx="436.0" cy="230.0" rx="2.8" ry="3.8" fill="#3a1050" opacity="0.55"/><ellipse cx="441.0" cy="262.0" rx="2.8" ry="3.8" fill="#3a1050" opacity="0.55"/><ellipse cx="446.0" cy="296.0" rx="2.8" ry="3.8" fill="#3a1050" opacity="0.55"/><ellipse cx="451.0" cy="330.0" rx="2.8" ry="3.8" fill="#3a1050" opacity="0.55"/><ellipse cx="455.0" cy="362.0" rx="2.8" ry="3.8" fill="#3a1050" opacity="0.55"/><ellipse cx="459.0" cy="392.0" rx="2.8" ry="3.8" fill="#3a1050" opacity="0.55"/><ellipse cx="483.0" cy="250.0" rx="2.8" ry="3.8" fill="#3a1050" opacity="0.55"/><ellipse cx="490.0" cy="282.0" rx="2.8" ry="3.8" fill="#3a1050" opacity="0.55"/><ellipse cx="470.0" cy="236.0" rx="2.8" ry="3.8" fill="#3a1050" opacity="0.55"/>
</g>
<path d="M289.7 123.3h4.5M312.2 118.1h4.5M319.1 114.7h4.5M341.6 126.8h4.5M351.9 130.2h4.5M338.1 143.2h4.5M327.7 152.7h4.5M338.1 159.6h4.5M355.4 167.4h4.5M345.0 140.6h4.5M360.6 151.0h4.5" stroke="#0f4a30" stroke-width="1.3" opacity="0.75" fill="none"/>
<path d="M178.7 142.5C215 140,250 135,297 123" stroke="#0e3b2c" stroke-width="1.2" fill="none" opacity="0.8"/>
<text x="137.5" y="27.2" text-anchor="middle" font-size="8.6" fill="#2a3f5f" opacity="0.85">8</text>
<text x="150.5" y="88.2" text-anchor="middle" font-size="8.6" fill="#2a3f5f" opacity="0.85">6</text>
<text x="162.5" y="141.2" text-anchor="middle" font-size="8.6" fill="#2a3f5f" opacity="0.85">4</text>
<text x="172.0" y="190.2" text-anchor="middle" font-size="8.6" fill="#2a3f5f" opacity="0.85">2</text>
<text x="182.0" y="234.2" text-anchor="middle" font-size="8.6" fill="#2a3f5f" opacity="0.85">0</text>
<text x="184.0" y="245.2" text-anchor="middle" font-size="8.6" fill="#2a3f5f" opacity="0.85">0.6</text>
<text x="184.0" y="274.2" text-anchor="middle" font-size="8.6" fill="#2a3f5f" opacity="0.85">0.4</text>
<text x="184.5" y="304.7" text-anchor="middle" font-size="8.6" fill="#2a3f5f" opacity="0.85">0.2</text>
<text x="184.5" y="338.2" text-anchor="middle" font-size="8.6" fill="#2a3f5f" opacity="0.85">0</text>
<text x="185.5" y="375.2" text-anchor="middle" font-size="8.6" fill="#2a3f5f" opacity="0.85">−0.2</text>
<text x="185.5" y="417.2" text-anchor="middle" font-size="8.6" fill="#2a3f5f" opacity="0.85">−0.4</text>
<text x="186.0" y="464.7" text-anchor="middle" font-size="8.6" fill="#2a3f5f" opacity="0.85">−0.6</text>
<text x="157" y="340" text-anchor="middle" font-size="10.5" fill="#2a3f5f">μ</text>
<text transform="translate(132.5 122.5) rotate(75)" text-anchor="middle" y="3.3" font-size="10" fill="#2a3f5f">chiSG</text>
<text transform="translate(218.5 481.5) rotate(86)" text-anchor="middle" y="3.2" font-size="8.6" fill="#2a3f5f" opacity="0.85">0</text>
<text transform="translate(286.0 472.5) rotate(80)" text-anchor="middle" y="3.2" font-size="8.6" fill="#2a3f5f" opacity="0.85">0.2</text>
<text transform="translate(351.0 463.5) rotate(75)" text-anchor="middle" y="3.2" font-size="8.6" fill="#2a3f5f" opacity="0.85">0.4</text>
<text transform="translate(415.5 455.3) rotate(68)" text-anchor="middle" y="3.2" font-size="8.6" fill="#2a3f5f" opacity="0.85">0.6</text>
<text transform="translate(478.0 448.0) rotate(62)" text-anchor="middle" y="3.2" font-size="8.6" fill="#2a3f5f" opacity="0.85">0.8</text>
<text transform="translate(539.5 439.0) rotate(56)" text-anchor="middle" y="3.2" font-size="8.6" fill="#2a3f5f" opacity="0.85">1</text>
<text transform="translate(600.0 430.0) rotate(52)" text-anchor="middle" y="3.2" font-size="8.6" fill="#2a3f5f" opacity="0.85">1.2</text>
<text transform="translate(431 478) rotate(88)" text-anchor="middle" y="3.2" font-size="10" fill="#2a3f5f">σ</text>
<circle cx="240.0" cy="295.0" r="2.6" fill="#1f77b4" opacity="0.9"/>
<circle cx="245.0" cy="289.0" r="2.6" fill="#9467bd" opacity="0.9"/>
<circle cx="248.0" cy="286.0" r="2.6" fill="#17becf" opacity="0.9"/>
<circle cx="251.0" cy="283.0" r="2.6" fill="#2ca02c" opacity="0.9"/>
<circle cx="253.5" cy="280.0" r="2.6" fill="#bcbd22" opacity="0.9"/>
<circle cx="256.0" cy="277.0" r="2.6" fill="#ff7f0e" opacity="0.9"/>
<circle cx="257.5" cy="273.0" r="2.6" fill="#d62728" opacity="0.9"/>
<circle cx="263.0" cy="266.0" r="2.6" fill="#e377c2" opacity="0.9"/>
<clipPath id="lblclip"><rect x="202.5" y="240" width="120" height="60"/></clipPath>
<g font-size="10" fill="#dfe3ee" text-anchor="end" clip-path="url(#lblclip)">
<text x="271.0" y="257.5" opacity="0.70">355575_8f</text>
<text x="263.0" y="271.5" opacity="0.65">355577_8f</text>
<text x="257.0" y="276.0" opacity="0.75">355578_8f</text>
<text x="255.0" y="278.0" opacity="0.75">355576_8f</text>
<text x="254.0" y="277.0" opacity="0.75">355580_7f</text>
<text x="252.0" y="279.0" opacity="0.70">355581_8f</text>
<text x="243.0" y="285.0" opacity="0.65">355579_7f</text>
</g>
</g>
<g id="qplot">
<rect x="54.9" y="514.4" width="284.6" height="404.0" fill="#460a5d"/>
<g transform="scale(.5)">
<path fill="#481c6e" d="M246 1829l2 2 1-2-1-2zM256 1837l7 0-4-5zM267 1829l4 5 3 3 5 0 3-3 4-5-4-6-5 3-6-3zM290 1837l26 0 1-3 1 3 361 0 0-808-569 0 0 267 5 2 1 0 5-4 6 2 3-6 3-3 2 3 4 5 5-1 6-4 6-1 3 1-2 8 5 5 4-5 1-4 6-1 2-3 3-8 1-2 6 3 5 4 6 3 6-2 5-6 1-1 3 1 2 1 2-1 4-1 5-7 1-1 2 1 4 3 3-3 2-5 6 3 6 1 5-8 0-8 1 0 1 8 4 6 4-6 2-1 2 1 3 9 1 1 0-1 4-9 2-1 5-7 6-1 3 1 3 3 3-3 3-1 5-7 1 0 5 4 6-2 4 6 2 6 1-6 4-7 6 7 0 1-5 7 5 5 3 4-3 1-6 4-5-3-4 6 4 5 5-2 6 4 3 1-8 8 5 7 4 1 2 1 3 7 3 3 1 6-1 1-6 0-5 7-1 6-6 1-1 1 1 1 6 1 1 6-1 3-6 0-3 5-1 8 3 9-2 8-2 2-5 6 5 6 5 10 6-3 1 3 0 25-1 2-3-2 2-8 0-9-5-7-5 7 0 11-4 6 4 5 1 3 0 8 4 7 2 1-2 1-4 7-1 4-6-1-6 0-2 6 2 2 6 1 3 5 0 16-3 3-6-9-4 6-1 8 5 7 3 1-3 3-4 5 4 6 3 3 3 4 2 4 4 5 1 3 0 8-1 4-3-4-3-5-6 5 6 5 3 3 3 5 2 3-6 9-2 1-4-1 0-9-2-3-3 3 1 9 2 3 1 5-1 2-6 5-1 1 1 1 3 7-1 8 4 8 1 0-1 1-6 2-4 6-1 8 5 6 6-1 6 0 2 3-1 8 0 8-1 1-4 7-2 3-6 3-1 3-4 3-4 5 4 5 4-5 1-6 6 4 6-5 3 7-9 12-6 0-2 4-3 1-6 4-3-5-3-4-3 4-1 8 4 5 3 3-3 9 6 2 2-2 4-3 1 3-1 8 2 8 1 8-3 3-4 5 3 8 1 1 1 8-1 2-6 1-6 10-2 3 2 2 6 5 2 1 1 8-3 3-4 5 4 7 3 1 3 3 0 8-6-2zM305 1814l-1-2-2-8 6-8 3-2 1 2-1 6-5 10zM311 1822l-2-2 2-1 1 1zM317 1776l-2-4 2-3 6 2 1 1-1 2zM323 1814l-4-2 4-1 0 1zM334 1773l-2-1 2-9 1 9zM340 1723l-1 0 1-1zM346 1748l-2-1 2-2 0 2zM357 1372l-2 0 2-4 1 4zM363 1405l-1-1 1 0zM340 1285l-1-3 1-5 1 5zM346 1300l-5-2 2-8 3-2 5-1 1 3 5 8 1 0-1 1-6 1zM328 1390l-1-2 1-3 3 3zM323 1514l-3-4 3-1 1 1zM317 1627l-2-2 2-4 0 4zM300 1790l-1-2 1-1 0 1zM311 1755l-3-8 3-4 2 4zM317 1742l-3-3 3-1 6 0 0 1zM334 1682l-1 0 1-1 1 1zM346 1593l-5-1 5-1 0 1zM340 1251l-3-2 3-3 5 3zM351 1275l0-2 1 1zM357 1242l-2-1 2-2 3 2zM317 1603l-2-3 0-8 2-2 2 2-1 8zM311 1734l-1-3 1-2 1 2zM323 1725l-1-2 0-9 1 0 5-1 1 1 0 9-1 0zM334 1503l-2-1 2-2 3 2zM340 1610l-2-2 3 0zM346 1544l-5-1 5-1 0 1zM311 1708l-1-2 1-4 1 4zM323 1635l-2-2 2-1 1 1zM328 1650l-1-1 1-4 2 4zM334 1472l-4-2 4-2 6 1 0 1zM346 1528l-3-1 3-3 0 3zM323 1617l-3-1 3-7 0 7zM328 1609l-5-1 5-1 2 1zM334 1449l-2-4 2-3 2 3zM340 1397l-1-1-2-8 2-8 1-1 1 1 0 16zM346 1513l-1-3-1-8 2-2 0 10zM328 1577l-1-1 1-4 1 4zM340 1358l-2-3 2-2 5 2zM346 1489l-1-3 1-3 1 3zM328 1496l-2-2-1-8 3-2 2 2-1 8zM346 1422l-1-1 1-8 1 8zM346 1354l-2-7 0-8 2-1 1 1 0 8zM272 1812l5 8 5-4 3-4 0-8-3-4-3 4-2 1zM264 1772l1 1 1-1-1-2zM258 1763l1 2 1-2-1-1zM285 1739l3 5 4-5-4-5zM245 1731l3 3 2-3-2-4zM274 1731l3 4 2-4-2-4zM274 1706l3 4 3-4-3-4zM256 1665l3 5 4-5-4-4zM292 1665l2 3 2-3-2-2-1-6-3-8-2-3-2 3-3 8 5 7zM297 1657l3 4 2-4-2-3zM305 1649l0 1 1-1-1-1zM293 1608l1 5 1-5-1-2zM296 1584l4 4 3-4-3-5zM298 1551l2 2 1-2 4-2 6-6-2-8-4-5-5 0-4 5 4 4 1 4-1 6zM284 1527l4 5 4-5-4-6zM291 1478l3 4 3-4-3-5zM304 1478l1 2 2-2-2-3zM295 1461l5 7 4-7-4-7zM291 1445l3 5 6 0 3-5-3-5-6-2zM312 1445l5 7 4-7-4-5zM302 1429l3 4 3-4-3-4zM316 1404l1 1 0-2zM309 1347l2 3 2-3-2-2zM313 1331l4 5 4-5-4-6zM324 1323l4 6 5-6 1-5 3-4-3-5-6 0-3 5zM119 1306l2 3 4-3-4-3zM131 1298l2 2 1-2-1-1zM257 1290l2 3 2-3-2-3zM284 1265l4 3 2-3-2-4z"/>
<path fill="#472d7b" d="M258 1837l2 0-1-1zM269 1829l2 2 3-2-3-3zM279 1829l3 3 3-3-3-4zM291 1837l23 0 3-6 1 6 12 0 4-3 1 3 344 0 0-808-569 0 0 261 6 6 5-6 6 0 6-5 6 6 5-1 0-8 1 0 5 3 6 2 6-6 0 1 5 6 6 0 2-6 4-8 3 0 3-1 0 1 3 8 2 1 6 2 6-1 1-2 10-6 6 3 4-5 2-3 6 2 4-8 1-1 6 1 1 0 5 3 2-3 2-8 2-1 1 1 3 8 1 2 1-2 5-4 4 4 2 4 2-4 4-3 3-5 2-3 6 0 6 2 6-2 3-5 2-3 6-5 6 6 5 2 1 1 0-1 5-2 5 2 1 1 0-1 6-6 6 3 2 3-2 5-6-1-4 4-2 7-1 1 7 7 0 2 2 8 4 5 5-3 2 6 4 6 3 2-3 2-6 2-5-1-5 5 5 7 1 1 1 9-2 2-6 1-3 5-2 8 2 8 3 4 3-4 0-8 3-2 2 2 0 8-1 8-1 3-6 3-3 2-3 8-1-8 1-4 2-4-2-2-6 0-1 2-2 8 3 7 5 2-5 3-1 5 1 2 6-2 0-2 6-3 6-6 2 3-2 7-1 1-3 8 1 8-3 2-5-2 0-8-1-8-1 8-5 4-2-4-3-4-4 4 4 4 2 4 3 5 6-3 2 6 0 25-2 5-6-5-1 0 1-1 4-7 0-9-4-5-3 5-1 9-1 5-2 3 2 2 2 6 1 8 2 4 2-4 4-5 5 5-5 8 0 1-6 2-3 5-2 7-3 2 3 3 1 5 4 4 5 4-3 8 4 5 6 3 6-7 1 7 0 8-1 8-6-16-6 2-4-2-2-3-5-4-6 6-4-7-2-3-2 3-1 8 3 5 6 3-8 8 2 3 6 6 4 8 2 2 2 6 1 8-3 8-1 0 1 0 5 8 0 1 2 8-2 3-3-3-2-4-3 4-3 3-4 5-2 4-4 4 3 8-1 8 2 5 4 3 2 2 1 7-1 5-3-5-3-6-6 3-2 3-2 8 4 5 6-3 6 1 2-3 4-2 2 2-2 5-3 3-1 8 3 8 1 1 0 8-3-1-3-3-2 3 2 5 1 4 4 8-5 7-1 1-5 8-6 0-5 3-6 5 1 8 5 4 3 5-1 8 2 8 1 7 6-7-3-8 3-5 2 5 4 5 6-5 4 8-4 3-6 4-1 1-2 8-3 5-5-5-1-6-5 3-3 3 3 5 5 3-3 9-2 4-6 4-5 8 5 5 3-5 3-4 1 4-1 7-1 1 1 3 4-3 1 0 6-5 2 5 0 8-2 1-4 7-2 6-2 2-2 9-1 5-6-1zM311 1824l-4-4 4-2 2 2zM317 1813l-1-1 1-2 6-1 1 3-1 3zM328 1821l0-1 1 0zM334 1775l-4-3 3-9 1-1 0 1 2 9zM340 1805l-1-1 1-1 0 1zM346 1749l-5-2 5-8 0 8zM351 1568l-1-1 1 0zM357 1373l-4-1 4-7 2 7zM363 1438l0-2 0 1zM369 1552l-1-1 1 0zM374 1250l-1-1 1-1 1 1zM403 1201l0-1-1-8 1-8 2 8-1 8zM323 1248l-1-7 1-1 0 1zM334 1238l-1-5 1-1 0 1zM346 1235l-1-2 1-1 0 1zM346 1269l-5-4 5-5 1 5zM357 1283l-3-1-3-3-3-5 3-3 6 1 0 2 1 8zM334 1478l-6-7-3-1 9-6 3-3 3-1 0 1 3 9-3 1zM346 1493l-2-7 2-6 2 6zM323 1518l-6-8 6-3 3 3zM323 1618l-5-2 1-8-2-1-5-7 2-8 3-3 4 3-1 8 3 6 5-1 4 3-4 2-4 6zM305 1717l-1-3 3 0zM311 1711l-1-5 1-8 1 8zM323 1731l-2-8 0-9 2-3 5 0 1 3 1 9-2 2zM317 1788l-1 0-5-5-6-2-2-1 2-2 6-1 6-10 6 2 4 3-4 5-5 3zM334 1684l-3-2 3-1 2 1zM340 1724l-2-1 2-2 2 2zM351 1454l0-2 1 1zM363 1406l-1-2 1-2 1 2zM369 1413l-1-1 1-1 0 1zM357 1262l-1-5 1-1 5-7-5-5-4-3 4-5 6 0 0 5 2 8-2 8zM346 1424l-2-3 0-9 2-1 2 1 1 9zM328 1594l-2-2 2-2 2 2zM328 1652l-2-3 1-8 1-1 2 1 4 8zM334 1565l-1-6 1-1 1 1zM340 1627l-2-2 2-4 2 4zM351 1396l-1 0 1-2 1 2zM334 1537l-1-2 1-2 1 2zM340 1612l-4-4 4-1 3 1zM340 1593l-2-1 2-1 6-2 1 3-1 2zM340 1545l-2-2 2-1 6-2 2 3-2 3zM340 1527l-1 0 1-9 6 2 1 7-1 3zM272 1812l5 7 5-7 1-8-1-1 0 1-5 3zM292 1812l2 3 6 1 1-4-1-5-6 3zM287 1739l1 2 1-2-1-2zM286 1706l2 2 4-2-3-8-1-1 0 1zM299 1682l1 1 1-1-1-2zM307 1674l4 4 4-4-4-4zM258 1665l1 2 1-2-1-1zM284 1657l4 6 4-6-4-7zM299 1584l1 0 0-1zM314 1551l3 3 1-3-1-2zM303 1543l2 3 4-3-3-8-1-2-5 1-1 1 1 1zM286 1527l2 2 2-2-2-3zM293 1478l1 0 0-1zM296 1461l4 6 3-6-3-5zM293 1445l1 1 6 1 1-2-1-2-6 1zM315 1445l2 3 1-3-1-2zM315 1331l2 2 2-2-2-3zM325 1323l3 4 3-4 3-9-6-2-1 2zM161 1298l1 0 0-2zM332 1298l2 4 4-4-4-3zM339 1290l1 2 0-3-2-7-4-6-5 6 5 5zM320 1282l3 3 4-3-4-3z"/>
<path fill="#443b84" d="M281 1829l2 0-1-1zM293 1837l8 0 4-1 1 1 7 0 3-8 1-1 5 1-3 8 8 0 1-2 6-4 2 6 343 0 0-808-569 0 0 258 2 3 4 5 4-5 1-3 4-5 2-8 6-1 0 9 6 3 1-3 4-3 6 2 1 1 5 3 3-3 3-4 3 4 2 2 6-2 0-1 4-7 2-2 6-5 1 7 4 6 6-6 0-1 6-2 2 3 4 3 3-3 2-4 2 4 4 3 2-3 4-4 6 0 2-5 3-4 6 3 6 1 3-8 3-2 2 2 3 7 6-5 6 5 6-5 1-2 4-5 6 1 6 0 6-1 2-3 3-6 2-2 4-2 3 2 3 4 3-4 3-5 3 5 2 3 4-3 0-8 2-4 6 12 3 0 3 1 5 7-5 8 2 8 3 5 5-5-1-8 2-3 4-5-4-4-5-4 5-7 2-1 4-8 0-1 0 1 2 16 2 8-3 8-1 2-5 6 0 17-4 8 3 5 5 3-5 4-6 1-5 0-3 3 3 5 4 3 0 9-4 3-6 2-2 3-2 8 2 8 2 2 1-2 1-8 4-4 3 4 0 8-1 8-2 7-4 1 4 2 5 4 6-9 1 3 2 9-3 2-6 0-3 6-2 3-3 5 3 7 4-7 1-2 1 2 3 8-4 2-5-2-6 4-3 4 0 8-1 9 1 8-3 8 6 7 1 1-1 1-5 7 5 6 2 2 4 8 0 9 3 8-3 8 2 8-1 8 3 8-3 9-1 4-6-3-3-1 1-9 2-3 2-5-2-4-6-1-6 0 0 5-4 8 4 8 1 1-1 0-5 8 4 8 1 8-3 8 3 6 3-6 3-2 2 2 0 8-2 1-6 12-5-4 0-1-9 9 8 8-1 8 2 3 5 0 6 5 6-3 5 3-5 7-3 1-3 2-1-2-5-4-3 4-6 9 4 5 4 3 1 3 4-3 2-2 2 2-2 8 1 8-1 1-6 3-3-4-2-8 0-1-1 1-1 8 2 5 1 3 0 8-1 4-4 5 4 5 5 3-5 8 0 4-3 4-3 1-4 7-2 7-2-7-4-6-5 2-4 4 2 8 2 2 1-2 4-2 4 2-4 8 0 12 1-3 5-8 4 8 2 3 3-3 0-8-1-9 4-5 5 1 2 4 1 9-3 4-4 4 4 5 2 3-2 3-5 2-4 3-2 8 0 1-3 7 3 1 6 4 5 3 5-8 1-3 1 3 2 9-3 5-6-5-10 16-4 8 1 8-4 3-3 5 6 8-3 6-6-4-3 7-2 7-6 0zM317 1816l-2-4 2-5 6 1 2 4-2 4zM328 1823l-1-3 1-1 4 1zM340 1805l-2-1 2-2 1 2zM363 1724l-1-1 1-2 0 2zM369 1554l-1-3 1-2 1 2zM374 1252l-4-3 4-2 1 2zM386 1209l-1-1 1-2 1 2zM403 1203l-2-3-2-8 2-8 2-1 2 1 4 7 0 9zM415 1201l-6-1 6 0zM466 1176l0-1 2 1zM294 1244l-4-3 4-1 2 1zM346 1240l-2-7 2-2 2 2zM351 1219l-1-2 1-1 2 1zM346 1438l-2-1 2-3 5 3zM334 1541l-3-6 3-5 2 5zM328 1597l-5-5 5-3 4 3zM340 1594l-3-2 3-3 6-2 2 5-2 3zM328 1629l-1-4 1-2 2 2zM334 1685l-6-3 6-2 3 2zM328 1806l-1-2 1-4 1 4zM340 1748l-1-1 1-1 5-7 1-3 0 3 1 8-1 4zM363 1439l-1-2 1-3 2 3zM369 1414l-2-2 2-2 1 2zM420 1184l0-1 1 1zM346 1426l-3-5 0-9 3-2 4 2 0 9zM340 1548l-4-5 10-5 4 5-4 6zM346 1573l-2-6 2-1 5-2 2 3-2 2zM328 1791l0-4 1 1zM340 1726l-2-3 2-3 4 3zM346 1707l-1-1 1 0zM363 1407l-2-3 2-3 2 3zM351 1458l-1-5 1-3 4 3zM340 1629l-3-4 3-7 3 7zM363 1332l-3-1 3-1 0 1zM346 1666l-2-1 2 0zM273 1812l4 5 4-5-4-4zM291 1788l3 2 2-2-2-4zM302 1788l3 6 6-6 1 0-1-1-6-4zM298 1780l2 1 1-1-1-2zM303 1772l2 4 6-1 2-3-2-7-6 1zM299 1755l1 1 1-1-1 0zM309 1674l2 1 2-1-2-2zM285 1657l3 5 3-5-3-6zM303 1633l2 3 6-3 0-1 2-7-2-3-5 3-1 0zM310 1608l1 1 2-1-2-3zM309 1592l2 5 2-5-2-2zM305 1543l0 1 1-1-1-4zM309 1502l2 3 4-3-4-7zM318 1502l5 4 5-4-5-5zM332 1494l2 3 6 3 4-6-1-8 2-8-5-6-5 6 0 8-1 2zM325 1478l3 3 4-3-4-4zM296 1461l4 5 3-5-3-4zM326 1461l2 5 6-5-6-3zM328 1445l0 1 1-1 5-8-6-5-2 5zM325 1421l3 6 3-6 0-9-3-3-2 3zM327 1396l1 3 4-3-4-2zM321 1388l2 2 1-2-1-2zM327 1363l1 4 2-4-2-5zM327 1323l1 2 2-2-2-7zM322 1282l1 0 0-1zM330 1282l4 4 3-4-3-4zM344 1282l2 3 4-3-4-8 0-1-1 1zM338 1257l2 5 3-5-3-2z"/>
<path fill="#3e4a89" d="M303 1829l2 5 4 3 3 0 1-8-2-2-6-3zM320 1837l6 0 2-4 5-4-5-5-3-4-2-2-6 0-2 2 2 4 6 2 1 3-1 2zM337 1837l342 0 0-808-569 0 0 254 2-1 4-3 3 3 2 1 1-1 3-8 8-4 2 4 4 6 5-3 6 0 3 5 3 2 2-2 4-6 5 5 6-5 1-2 5-3 4-6 2-1 2 1 1 9 2 3 3-3 3-7 6 1 6-6 5 3 0 1 5 8 1 1 1-1 5-6 6-1 0-2 5-6 6 4 6 0 2-6 4-4 3 4 2 4 6-4 6 0-1-8 1-3 6 2 5 1 6 2 12-2 2-8 3-1 6-3 5 4 1 1 0-1 5-8 1 0 5 8 1 0 1-8 4-6 3 6 3 5 2-5 4-4 4 4 1 4 6-6 6-12 2 6 1 8 0 8 3 7 5-2 2 3-2 4-5-3-3 7-3 4-4 4 0 17-2 4-3 4 3 4 6-4 6-2 0 3-5 7-1 2-6 3-6 2-5 0-2 1 2 3 5 2 5 3 1 2 2 7 4 4 1 4-1 4-6-4-6-8-5 4-6 3 0 1-2 8 2 8 1-8 5-5 4 5 0 8-1 8 2 8 0 1 0-1 6-8 1 8 3 9-4 3-6 4 0 2 2 7 4 7 1 1-1 1-6 2-5-1-6 3-2 3 0 8-1 9 1 8-2 8 4 4 2 4-2 4-3 4 6 8 3 6 1 3 0 8 3 8-3 8 2 8-1 8 3 7 1 1-1 2-3 7-2 6-6-3-4 5 4 5 6-4 5 7-5 8-6 0-6-7-4-1 0-8-2-4-3 4 3 8 0 2 1 6-2 8 1 2 1-2 5-3 2 3 2 8-4 3-6 12-4 2 4 3 4-3 2-1 1 1 5 4 6-3 3-1 2-1 1 1-1 2-2 6-3 4-6-1-5-3-1-3-1 3-5 7-5 1-1 0 1 0 5 1 6 4 6-1 6 2 4-6 1-2 6 2-5 8-1 3-5 0-5 5 4 9-5 6-2 2-2 8 0 8-2 2-6 4-2 2-2 8-1 6-2 3 2 3 5 4 6-2 4 3-4 4-6-3-4 7-1 8 0 5-6-2-3 5-1 8-1 9 4 8 1 1 1-1 1-8-1-9 5-7 5 1 3 6 0 9-4 8 1 2 4 6-4 6-5 1-1 1-4 8 0 8 5 4 5 3 4-7 2-5 1 5 3 9-4 7-6-5-4 6-1 1-4 7-4 8 2 7 1 1 5 2 2-2 3-8-1-8 1-3 2 3-2 8 2 8-2 3-2 5 2 5 6-5 1 8 5 8 0 1zM351 1810l-1-6 1-8 0-9 1 1 0 8 2 8zM357 1617l-2-1 2-1 1 1zM363 1729l-5-6 5-8 1 8zM369 1556l-2-5 2-4 1 4zM374 1439l-3-2 3-1 1 1zM386 1211l-2-3 2-6 4 6zM403 1206l-5-6-1-5 0-4 3-7 3-2 4 2 2 4 1 4 5 7 1 1-1 2-6-1zM420 1209l-1-1 1-1 1 1zM426 1193l-2-1 2-2 1 2zM466 1177l-1-1 1-3 5 3zM501 1168l-1 0 1-2zM167 1268l-3-3 3-1 5 1zM288 1245l-4-4 4-1 6-2 4 3-4 7zM351 1224l-2-7 2-1 6 0 0 1zM369 1210l-1-2 3 0zM346 1440l-3-3 3-7 5 4 1 3-1 4zM351 1461l-1-8 1-5 6 4 1 1-1 1zM346 1579l-2-3-3-9 10-6 3 6-3 3-5 6zM340 1806l-3-2 3-4 2 4zM357 1505l-1-3 1-1 1 1zM363 1536l-1-1 1-1 6 0 0 3zM420 1186l-2-2 2-2 2 2zM346 1428l-4-7 0-9 4-4 5 4 1 0-1 9zM340 1750l-2-3 2-3 3-5 3-6 0 6 2 8-2 6zM369 1415l-3-3 3-3 2 3zM340 1727l-3-4 3-4 6 3 5 0 4 1-4 1-5 0zM363 1441l-2-4 2-6 4 6zM369 1398l-2-2 2-2 0 2zM346 1709l-2-3 2-4 3 4zM351 1626l-4-1 4-3 1 3zM363 1408l-3-4 3-4 3 4zM346 1685l-3-3 3-2 1 2zM363 1389l-1-1 1-1 0 1zM346 1667l-4-2 4-1 2 1zM274 1812l3 4 3-4-3-3zM309 1812l2 3 2-3-2-3zM293 1788l1 0 0-1zM303 1788l2 3 4-3-4-3zM304 1772l1 3 6-3 0-1-6-3zM297 1706l3 7 5-2 3-5-3-5-5 2zM286 1657l2 4 2-4-2-4zM322 1649l1 1 0-4zM304 1633l1 1 3-1-3-4zM328 1633l1 0-1-1zM310 1625l1 1 0-2zM319 1625l4 4 4-4 1-4 6 8 2-4-2-5-2-4-4-3-2 3-3 4zM316 1584l1 1 4-1-4-2zM333 1527l1 0 3-9 3-6 0-3-6-3-5 4-1 3-2 5 2 5zM310 1502l1 1 2-1-2-3zM320 1502l3 2 2-2-2-3zM333 1494l1 1 6 3 3-4-1-8 2-8-4-5-4 5 0 8-2 5zM327 1478l1 1 2-1-2-2zM297 1461l3 3 2-3-2-3zM327 1461l1 3 3-3-3-2zM327 1437l1 4 3-4-3-2zM326 1421l2 4 2-4-1-9-1-1-1 1zM328 1396l0 1 1-1zM345 1388l1 3 1-3-1-2zM328 1323l1 0-1-2zM113 1290l3 3 2-3-2-5zM331 1282l3 3 2-3-2-3zM345 1282l1 1 1-1-1-3zM206 1274l2 1 1-1-1-4zM350 1265l1 3 3-3 1-8 2-4 3-4-3-3-4 3-2 2-4 6z"/>
<path fill="#38598c" d="M304 1829l1 3 5-3-5-3zM321 1837l4 0-2-4zM326 1829l2 2 3-2-3-3zM338 1837l341 0 0-808-569 0 0 252 6-5 5 3 2-5 4-2 6-5 4 7 2 2 5-2 6 0 5 8 1 0 3-8 1-9 2 0 5-3 6 2 2 1 4 4 3-4 3-3 4 3 1 9 1 0 1-9 4-5 6 5 0 1 0-1 6-7 5 5 6 2 0 1 6 1 3-2 3-1 4-7 2 0 5 4 6 0 1-4-1-6 0-2 1 0 5 3 4-3 1-1 1 1-1 4 0 6 2-2 4-1 5-7 1-7 6 4 4-5 1-6 6 3 6-1 6 3 5-1 6-4 6 2 2-4 4-4 5 4 4-8 2-1 0 1 5 8 1 2 1-2 5-5 4-3-3-8 10-5 6 3 1 2 4 16 0 8 1 1 5 3 3 4-3 5-5 1-1 2-5 6-2 2 0 9-1 8-3 5-2 3 2 3 4-3 2-2 6-3 1 5-1 3-4 5-2 5-6 2-5 1 5 5 4 12 2 2 1 6-1 7-7-7-5-7-5 5-4 2 4 2 5 6 0 8-1 8 1 4 3-4 3-2 3 2-1 8 3 9-10 8 2 8 3 5 3 3 3 2 3-2 3-3 1 3-1 3-3 5 6 8-3 5-4-5-2-2-6-12-6 3-5 0-6 2-1 1 0 8-1 9 1 8-1 8 2 2 1-2 3-8-3-8 0-9 5-5 5 3 2 2-1 9-1 4-3 4 3 2 2 6-2 8-5-4-3 4-3 6-2 2 2 2 4 6 2 4 3 5-1 8 3 7 1 1-1 0-4 8 3 8-2 8 3 6 2 2-2 3-2 6 1 8 1 0 5 8-5 1-5 7 0 4-6-2-2-2-4-5-3 5 3 3 3 5 3 7 6-4 4-3 3 0 3 8-5 4-4 5 4 5 3 3-3 5-1 3 1 3 6 2 1 3-1 2-4 6 4 5 3 3-3 2-4-2-2-2-5-1-3 3 3 6 5-4 2 7-2 2-5 0-5 6-1 1-2 7-1 8-3 3-6 4-1 1-4 16-1 1 1 0 5 5 6-1 5 4 1 4 1-4 5-3 2 3-2 6-3 2-3 3-2-3-4-3-6-3-3 6-1 8 4 8 1 0 5-7 2 7-2 2-3 6 1 9-3 8 5 8-5 8-1 2-5 0-4 6 0 8 4 3 5 3 6-12 5 15-4 8-1 1-1-1-5-4-2 4-3 3-6 10-2 3 2 4 4 4 2 1 0-1 4-8-1-8 2-5 3 5 0 16-3 5-1 3 1 4 6-6 1 2 2 8 3 4 1 5-1 3zM351 1813l-5-1 3-8 1-8 0-8 1-8 0-9 1 1-1 8 4 8-3 8 5 8-5 8zM369 1558l-2-7 2-6 2 6zM374 1600l0-2 6 1 2 1-2 2zM386 1266l-2-1 2 0zM392 1222l-2-5-4-4-4-5-2-5-4-3 4-1 6 0 1 1 5 7 0 1 1 9zM403 1209l0-1-6-7 0-1-2-8 4-8 4-3 5 3 1 1 1 7 5 6 2 2-2 3-6-1-6 6zM420 1210l-2-2 2-3 2 3zM426 1194l-3-2-3-4-4-4 4-4 6 8 1 4zM466 1178l-1-2 1-4 6 3 0 1zM501 1169l-1-1 1-4 1 4zM277 1234l-1-1 4 0zM328 1220l0-4 1 1zM369 1212l-2-4 2-1 5 0 0 2zM363 1392l-2-4 2-3 2 3zM369 1373l-3-1 3-5 2 5zM351 1464l-2-3 0-8 2-8 6 3 2 5-2 3-4 5zM357 1508l-3-6 3-3 2 3zM340 1667l-1-2 1 0 6-2 4 2-4 3zM340 1807l-3-3 3-5 3 5zM374 1495l-1-1 1-1 3 1zM380 1421l-2 0 2-1 1 1zM386 1228l-2-3 2-2 3 2zM455 1182l-1-6 1-1 0 1zM501 1152l-1-1 1-1 6 0 0 3zM369 1341l-4-2 4-1 0 1zM340 1789l-1-1 1-2 0 2zM340 1752l-3-5 3-4 2-4 3-8-5-3-4-5 4-5 6 0 5 2 5-6 1-4 6 3 1 1 1 9-2 8 0 1-1-1-5-7-6 3-4 4 0 8 1 8-2 7zM346 1712l-3-6 3-7 5 7 4 0-4 1zM363 1537l-3-2 3-2 6-1 2 3-2 4zM363 1496l-2-2 2-1 2 1zM369 1448l-2-3-4-3-3-5 3-8 6 6 5 0 2 2-2 5-4 3zM363 1463l-2-2 2-2 1 2zM374 1267l0-4 2 2zM317 1820l0 1 6 3 1-4-1-1zM275 1812l2 3 2-3-2-2zM310 1812l1 2 1-2-1-1zM305 1788l0 1 2-1-2-1zM305 1772l0 1 3-1-3-2zM314 1723l3 6 2-6-2-8zM298 1706l2 4 5 0 2-4-2-3-5 2zM315 1706l2 8 4-8-4-4zM287 1657l1 2 2-2-2-3zM320 1625l3 3 3-3-3-4zM332 1625l2 2 1-2-1-3zM327 1616l1 4 3-4-3-2zM330 1600l4 2 6 1 6 2 3-5-3-3-6 0-6-2zM327 1584l1 1 2-1-2-1zM337 1584l3 2 5-2-2-8-3-7-6 2-2 5 2 5zM328 1535l0 1 0-2zM337 1535l3 3 5-3-5-4zM328 1518l0 2 6 2 1-4 4-8-5-3-4 3-2 7zM336 1494l4 2 1-2 2-16-3-4-3 4 0 8zM298 1461l2 2 1-2-1-1zM328 1461l0 1 1-1zM327 1421l1 2 2-2-2-8zM339 1339l1 3 0-6zM115 1290l1 1 0-3zM333 1282l1 1 1-1-1-2zM163 1274l4 3 3-3-3-3zM351 1265l0 1 1-1 2-8-3-5-3 5zM355 1249l2 2 1-2-1-2zM355 1225l2 2 1-2-1-3z"/>
<path fill="#31668e" d="M305 1829l2 0-2-1zM322 1837l2 0-1-2zM328 1829l1 0-1-1zM339 1837l14 0 4-3 1 3 125 0 1-1 0 1 195 0 0-808-569 0 0 236 3 0-3 1 0 15 5-7 1-5 1 5 4 1 1-1 5-2 5-7 10 0 2 5 6 2 6-2 2-5 4-2 5-3 10 5 2 2 1-2 8-8 2-3 6 3 6 8 5-8 1-3 2 3 3 3 6-3 6 7 6-3 2-4 3-2 3 2 3 3 6-2 0-3-1-6 1-1 3 1 3 2 3-2 2-3 1 3 5 7 4-7 1-8 1-2 1 2 5 3 2-3-2-5-3-3 3-1 5 0 2 1 4 3 6-1 6 2 5 0 6-4 6 0 6-7 2-1 3-8 0-2 3 2 3 4 1 4 5 8 6-7 2-1-2-8 5-3 6-6 1 0 5 5 2-5 4-1 5-7 0-10 2 2 4 5 6 1 2 2 4 5 1 3 1 9-2 8 5 7 1 1-1 8 6 8 0 1-11 0-1-1 1-1 5-7-5-8-6 8 0-8-5-8 5-5 2-3-2-2-5-7-1-1-6 6-5 1-3 3 2 8 1 3 5-5 4 2-3 8-1 1-4 7 4 3 3 5-3 7-4 1-1 1-6 7-1 0 0 9-1 8 2 4 5-4 1 0 2 8-2 5-2 3-4 8-3 0-1 8 4 9 2 8 4 6 1 2-1 5-6-4-1-1-5-6-2-2-4-6-5 5-2 1 2 1 5 6 1 1 0 8 10 8-2 8 3 9-6 5-4 3 2 8 2 3 2-3 4-5 3 5 3 3 2 5-2 5-2 3 2 2 3 6-3 6-5-6-1-1-4-7-2-4-6 2-10 2 5 1 5 3 3 4-1 9-2 8 6 16 3-8 3-12 5 4 1 0 8 8-3 7-1 1-4 7-5-7-1-1-4 1 2 8 2 3 2 5-2 4-3-4-3-3-3 3-3 7-1 2-1 8 2 5 3 3-3 1-3 7 3 8-2 8 2 5 3 3-3 5-2 4 2 6 3 2 3 5 1 3-1 4-6-2-4 6-1 8-6-4-2 4 2 5 6-5 5-1 5 1 1 8 0 2-6 3-3 4 3 4 4 4-4 8 6 2 2 6-4 8 2 4 4 4-4 3-6 9-5 3-2 2-4 7-1 1-1 8-4 4-5 4-1 1-2 7-3 9 5 4 6-1 5-3-3-9 4-2 6-1 5-5 0-2 6 1 1 1-1 1-5 7-1 1-10 8 5 4 4 4-4 8 0 8 5 6 6-1 1 3 5 5 2 3 1 9-1 8-2 4-2-4-4-6-6 5 0 1-3 8 1 8-1 8-2 3-3-3-3-1-5 1 1 8 4 8 4 1-4 2-3 6-3 3-2 5 1 8-1 8 2 4 2-4 4-7 3 7-3 4-4 4 4 8 0 1 0-1 5-8 1-2 2-6 1-8-2-16 0-8 4-2 5 2-4 8 5 7 0 1-5 8 5 7 1 1-1 1-5 7-1 2-5 6 0 2-3 7-3 5zM363 1780l-1 0 1-1zM374 1715l-1-1 2 0zM380 1756l-2-1 5 0zM386 1804l6-7 0 14zM397 1821l0-1 1 0zM409 1821l-1-1 1 0zM415 1707l-1-1 1 0 5-1 1 1-1 1zM420 1788l0-1 1 1zM426 1764l0-9 0 8zM432 1666l-1-1 1 0zM438 1830l-1-1 1-1 0 1zM449 1601l0-2 0 1zM455 1797l-1-1 1-1 0 1zM461 1740l-1-1 1-1 0 1zM466 1421l0-1 1 1zM478 1544l-1-1 1-1 0 1zM489 1813l0-1 1 0zM501 1372l-1 0 1-1zM507 1209l-1-1 1 0zM524 1144l-1-1 1-1 1 1zM553 1119l-1 0 1-1 2 1zM558 1233l0-1 1 1zM587 1097l-1-3 1-1 1 1zM639 1348l-1-1 1 0zM645 1062l-1-1 1 0zM254 1235l-1-2 1-1 0 1zM340 1217l-1 0 1-1 5 1zM386 1185l-1-1 1-1 1 1zM403 1211l-1-3-5-6-2-2-1-8 3-8 0-1-1-7 1-1 1 1 5 4 6 3 5 1-3 8 4 5 3 3 2 4 3 4-3 3-3-3-2-3-6-3-5 6zM369 1323l-6 0 6-1zM374 1388l-1-8-4-5-6-3 5-9 1 0 5-8 0-1 1 1 0 8-1 9 6 7 6 1-6 1-5 7zM357 1511l-1-1-3-8 4-4 3-4 3-2 5 2-5 4-3 4-2 8zM351 1642l0-1 6-1 6 0 2 1-2 4-6-3zM363 1698l-1 0 1 0 6-1 0 2zM340 1793l-2-5 2-5 2 5zM374 1690l-1 0 1-1 1 1zM386 1764l-1-1 1-5 1 5zM392 1682l-1 0 1-3zM397 1764l-1-1 1-8 6-1 1 1-1 1-5 7zM409 1805l-1-1 1 0zM415 1690l-1 0 1-1zM432 1462l-1-1 1 0zM438 1699l-1-1 1-1 5 0 1 1-1 1zM455 1666l-1-1 7 0 0 1zM466 1178l-2-2 2-6 6 3 1 3-1 1zM489 1731l0-1 1 1zM501 1348l-1-1 1 0zM374 1315l0-1 1 0zM380 1331l0-2 1 2zM386 1308l-1-2 1-1 0 1zM363 1538l-4-3 4-3 6-2 3 5-3 7zM369 1568l-1-1-5-8 3-8 3-7 3 7-3 8 0 8zM374 1642l-2-1 2-1 1 1zM392 1511l-1-1 1-1 0 1zM397 1731l0-5 1 5zM409 1723l-1 0-5-9-6 7 0-7-3-8 3-1 1 1 5 8 6 0 1 9zM415 1633l-1 0 0-8 1-1 5 0 1 1-1 0zM426 1609l-1-1 1 0zM432 1348l-1-1 1 0zM438 1519l-1-1 1 0zM443 1527l0-1 1 1zM455 1633l-1 0 1-1zM461 1625l-1 0 1-1zM489 1650l0-2 1 1zM495 1160l-1-1 3 0zM501 1242l-1-1 1-1 0 1zM374 1268l-1-3 1-5 5 5zM380 1281l-1-7 1-6 2 6zM386 1268l-5-3 6 0zM369 1516l-1-6 1-2 1 2zM374 1603l-1-3-3-8 4-1 1 1 5 6 5 2-5 4zM386 1650l-1-1 1 0zM392 1470l-1 0 1-1 5-8 1 0-1 9zM403 1650l0-2 1 1zM409 1617l-1-1 1 0zM415 1609l-1-1 1-3 1 3zM420 1544l0-2 1 1zM432 1179l-2-3 2-1 1 1zM438 1429l-1 0 0-8 1-1 0 1zM443 1495l0-2 1 1zM455 1593l-1-1 1-1 0 1zM461 1511l-1-1 1 0zM501 1169l-2-1 2-6 1 6zM374 1497l-4-3 4-4 6 3 1 1-1 1zM380 1585l-1-1 1-2 1 2zM386 1576l-1 0 1-1zM397 1446l-1-1 1-8-5-7-1-1 1-1 5-7 0-1 1 1 0 8-1 8 1 8zM397 1543l-1-8 1-1 1 1zM409 1593l-1-1 1-1 0 1zM426 1196l-6-6-5-6 5-6 5 6 1 2 2 6zM438 1274l-1 0 1-1zM443 1258l0-9 1 0 0 8zM449 1233l0-1 6 0 0 1zM461 1405l-1-1 1 0zM501 1155l-1-4 1-5 6 3 2 2-2 4zM380 1422l-4-1 4-3 3 3zM380 1560l0-2 1 1zM386 1455l-1-2 7 0zM392 1348l-1-1 1-1 0 1zM397 1282l0-1 1 1zM403 1568l-1-1 1 0zM409 1551l6 0 0 1zM420 1414l0-4 1 2zM449 1169l-1-1 1-1 1 1zM455 1185l-2-1 0-8 2-2 1 2 0 8zM461 1323l-1 0 1-1zM380 1545l-1-2 1-6 5 6zM397 1266l0-2 1 1zM403 1519l0-2 6 1 0 1zM415 1372l-1 0 1-1zM420 1348l0-10 1 1 0 8zM461 1168l-1 0 1-1zM403 1479l-1-1 1-1 1 1zM420 1274l0-1 1 1zM403 1389l-1-1-1-8 2-8 0-1 0 17zM403 1323l0-1 6 0 0 1zM409 1307l-1-1-5-7 0-2 6 0 0 9zM321 1820l2 1 0-1zM276 1812l1 1 0-2zM327 1812l1 2 2-2-2-1zM316 1796l7 7 3-7-1-8-2-4-3 4-3 7zM327 1780l1 1 2-1-2-2zM321 1763l2 2 5 3 3-5 6-16-3-6-4 6-2 4-5 1-2 3zM337 1739l3 2 1-2 1-8-2-2-5-6 5-6 6-2 5 3 4-4-4-4-5 4-5-8 1-8-2-2-2 2-1 8-3 3-2 5 1 9 1 8zM315 1723l2 3 1-3-1-4zM299 1706l1 1 5 1 2-2-2-2-5 2zM316 1706l1 5 3-5-3-2zM324 1698l4 7 5-7 1-4 2-4-2-1-6-4-3 5zM287 1657l1 1 1-1-1-1zM321 1625l2 2 2-2-2-3zM327 1616l1 2 1-2-1-1zM345 1616l1 1 2-1-2 0zM334 1600l6 2 6 1 2-3-2-2-6 0zM339 1584l2 0 0-8-1-3-6-1-2 4 2 3zM332 1551l2 2 3-2-3-3zM338 1535l2 2 3-2-3-3zM331 1510l3 8 3-8-3-2zM338 1486l2 7 1-7 1-8-2-3-2 3zM299 1461l1 1 0-1zM345 1461l1 2 1-2 2-8 0-8-3-2-2 2-4 8 0 1zM340 1437l1-8-1-8 0-8-1 8 1 8zM328 1421l1 0-1-3zM361 1396l2 1 1-1-1-2zM356 1290l1 1 2-1-2-2zM349 1257l2 6 2-6-2-3zM356 1249l1 1 0-1z"/>
<path fill="#2c728e" d="M340 1837l10 0 1-1 6-5 3 6 123 0 1-2 0 2 195 0 0-799-1-1 1-1 0-7-569 0 0 234 6 0 3 2 2 4 6 2 5-6 1-2 6 1 5 1 1 0 5 5 5-5 1 0 6-4 5-3 6 3 6 4 0 1 0-1 6-7 0-1 5-7 7 7 5 7 5-7 0-8 1 0 5 8 0 1 1-1 5-2 4 2 2 2 6-1 0-1 5-4 6 6 4-2 1-8 1-1 4 1 2 1 1-1 4-5 2 5 4 6 4-6 1-8 1-5 1-3 5-2 5 1 4 1 2 2 6-2 6 2 5 0 4-2 2-2 6 1 5-7 1-1 4-7 1-2 4 2 2 2 2 6 4 6 6-6 0-2-6-5-4-1 4-3 6-1 5 1 5-6 1-3 6 6 1-3 5-2 4-6 0-8 1-4 3 4 3 3 6 2 4 3 2 3 2 5 1 9-2 8 4 6 2 2-1 8 5 7 1 1-1 1-6 2-5-2-2-1 2-2 3-6-3-6-4 6-2 2-1-2 0-8-5-8-5 8-1 4-2 4 2 2 4 6-4 8 6 4 6 3 1 1-1 6-3 3-2 8-1 3-1-3-1-8-4-4-2-5-3-6-5 6-1 9 0 1-1 7 1 2 3-2 3-3 1 3 1 8-2 7-1 1 0 8-5 2-3 6 3 7 6 0 1 2-4 8 3 5 2 3-2 8-6-5-2-3-4-5-3-3-3-4-5 4 5 5 1 3 2 8 9 6 1 2-1 3-2 5 2 6 3-6 3-2 4-6 1-6 2 6-1 8 0 9 5 5 6 1 1 2-1 1-6 2-4 5-2 3-2 5-3 7-1 1 1 1 4 7-4 7-6-7-5-8-1-2-6 1-3 1 3 1 5 7-2 9-1 8 2 8 2 6 2-6 1-8 3-8 6 5 1 3 4 4 5 4-3 8-2 6-1 2-4 3-2 5-4 5-6-6-1 1-4 9-1 1-1 7 1 3 5 5-5 2-3 6 3 8 12-12 6 2 5-5 6 6 2 1-2 3-6 3-5-1-6 1-2 2-2 8-4 8-4 6-1 3 1 4 5 4 1 1 0-1 6-4 6-2 4 6-4 8 3 8-2 8 0 8-1 3-4-3-2-4-3 4-1 9-2 6 0 4 1 6 1 8-2 6-1 2 1 2 5 6-5 5-6 8-5 4 0 1-5 7-1 3-1 5-5 5-4 3-2 4-1 4-2 9 3 3 6 0 4-3-4-8-1-1 1-1 6-4 6 1 4-4 1-8 6 4 2 4-2 2-5 6-1 4-5 2-4 3 4 3 5 5-4 8 0 8 4 5 6-4 1-1 5-3 6-1 1 4-1 2-6 1-3 5 6 8 1 9-1 8-3 7-3-7-3-4-4 4-2 1-3 7 2 8 1 7 1 1-1 1-5 7 5 6 5-6 1-2 2 2-1 9-1 1-4 7 4 6 1 2-1 1-4 7 4 7 2 1-2 2-4 6-2 2-5 6 0 5-2 4zM369 1830l-3-1-3-4-2-5 1-8 1-1 1 1 2 8 3 5 5 3 1 1-1 0zM392 1813l-1-1-5-6-2-2 2-1 5-7 1-3 1 3 0 8-1 8zM397 1822l-1-2 1-1 1 1zM409 1822l-1-2 1-1 1 1zM415 1708l-1-2 1-1 5 0 1 1-1 2zM420 1789l-1-1 1-2 1 2zM426 1765l-1-2 0-8 1-1 1 1 0 8zM432 1667l-1-2 1-1 1 1zM438 1831l-1-2 1-2 0 2zM449 1601l-1-1 1-1 1 1zM455 1797l-1-1 1-1 1 1zM461 1740l-1-1 1-1 0 1zM466 1422l-1-1 1-2 1 2zM472 1708l-1-2 1-1 1 1zM478 1544l-1-1 1-1 1 1zM484 1168l-1 0 1-2zM489 1814l-1-2 1-1 1 1zM495 1716l-1-2 1-1 1 1zM501 1373l-1-1 1-2 1 2zM507 1210l-1-2 1-1 0 1zM524 1145l-2-2 2-3 3 3zM535 1128l-2-1 2-1 5 1zM553 1120l-3-1 3-2 5 1 6 0 0 1-6 0zM558 1234l-1-1 1-1 1 1zM587 1100l-2-6 2-2 3 2zM610 1079l-3-1 3-1 1 1zM639 1348l-1-1 1-1 1 1zM645 1063l-2-2 2-3 1 3zM225 1255l-2-6 2-3 1 3zM254 1237l-1-4 1-1 1 1zM363 1203l-2-3 1-8 1 0 0 8zM386 1187l-2-3 2-3 1 3zM403 1213l-2-5-4-5-4-3 0-8 4-8-2-8 2-3 2 3 4 3 6 3 6 0 5-6 6 6 1-6 5-2 3 2-3 7-4 1 1 8-3 5-6-5-5-7-4 7 4 5 4 3 1 2 4 6-4 3-4-3-1-2-6-3-5 5zM374 1317l-1-3 1-2 4 2zM380 1333l-1-2 1-4 1 4zM386 1311l-3-5 3-2 1 2zM363 1478l-2 0 2-1zM380 1423l-6-2 6-4 4 4zM369 1522l-3-4 0-8 3-6 4 6-4 8zM357 1696l-1-6-4-8 5-2 1 2 1 8zM363 1650l-2-1-4-4-6 4-2-8 2-3 6 0 6-1 6 3 5 0 1 1-1 3-5-3-6 8zM363 1781l-2-1 2-3 2 3zM386 1766l-3-3-3-5-6-2 0-2 6-1 6-3 1 5 1 8zM397 1765l-2-2 0-8 2-1 6-1 2 2-2 2-5 6zM409 1805l-1-1 1-1 1 1zM415 1691l-1-1 1-1 0 1zM426 1732l-1-1 1-2 1 2zM432 1463l-1-2 1-1 1 1zM438 1699l-1-1 1-1 5 0 1 1-1 1zM449 1577l-1-1 1-2 1 2zM455 1667l-1-2 1-1 6 0 0 3zM466 1179l-3-3-2-7-2-1 2-3 3 3 2 1 6 2 2 5-2 2zM472 1414l-1-2 1-1 1 1zM489 1732l-1-1 1-2 1 2zM495 1610l-1-2 1-1 1 1zM501 1348l-1-1 1-1 1 1zM564 1102l6-1 6 0 0 2-6 0zM369 1619l-4-3 3-8 1 0 2 8zM374 1605l-2-5-3-7-1-1 1-2 5 0 2 2 4 5 6 2 0 7-6 1zM374 1716l-2-2 2-2 1 2zM386 1745l-1-6 1-2 1 2zM397 1732l-1-1 0-17-4-8-1 0 1 0 5-2 1 2 5 7 6 0 1 1 1 9-2 1-1-1-5-8-5 8 1 8zM415 1634l-1-1 0-8 1-2 5-1 1 3-1 1-5 7zM426 1610l-3-2 3-1 1 1zM432 1348l-1-1 1-1 1 1zM438 1520l-1-2 1-1 0 1zM443 1528l-1-1 1-2 1 2zM449 1397l-1-1 1-1 1 1zM455 1634l-1-1 1-2 1 2zM461 1626l-1-1 1-2 0 2zM489 1650l-1-1 1-1 1 1zM495 1161l-2-2 2-2 4 2zM501 1242l-1-1 1-1 1 1zM380 1587l-2-3 2-3 2 3zM386 1577l-2-1 2-2 1 2zM374 1692l-2-2 2-3 2 3zM386 1699l-1-1 1-1 0 1zM392 1684l-4-2 3-8 1-2 0 10zM397 1660l-1-3 1-1 1 1zM403 1650l-1-1 1-3 1 3zM409 1617l-2-1 2-1 1 1zM415 1610l-1-2 1-6 3 6zM420 1545l-1-2 1-1 1 1zM426 1520l-1-2 1-1 1 1zM438 1430l-1-1 0-8 1-2 0 10zM443 1495l-1-1 1-1 1 1zM449 1275l-1-1 1-2 1 2zM455 1593l-1-1 1-1 1 1zM461 1512l-1-2 1-1 0 1zM489 1153l0-3 1 1zM501 1170l-3-2 3-8 2 8zM380 1561l-1-2 1-4 2 4zM386 1651l-1-2 1-2 1 2zM392 1512l-2-2 2-2 0 2zM397 1593l-1-1 1-1 1 1zM403 1610l-1-2 1-1 1 1zM409 1593l-1-1 1-1 1 1zM420 1495l-1-1 1-1 1 1zM438 1275l-1-1 1-2 0 2zM443 1258l-1-1 0-8 1-1 1 1 0 8zM449 1234l-1-1 1-1 6 0 1 1-1 1zM461 1405l-1-1 1-1 0 1zM501 1158l-2-7 2-8 6 5 3 3-3 5zM380 1548l-2-5 0-8 2-3 1 3 5 6 1 2-1 1zM392 1471l-2-1 6-9 1-1 2 1-1 9-1 1zM397 1544l-1-1 0-8 1-2 2 2-1 8zM403 1570l-2-3 2-1 1 1zM409 1552l-1-1 1-1 6 0 1 1-1 1zM420 1415l-1-3 1-4 1 4zM443 1177l-2-1 2-1 1 1zM449 1170l-2-2 2-2 2 2zM455 1186l-5-2 2-8 3-3 2 3 0 8zM461 1324l-1-1 1-2 0 2zM386 1458l-2-5 2-2 6 0 0 4zM397 1446l-2-1 1-8-4-6-2-2 2-2 4-6 1-2 1 2 0 16 2 8zM403 1520l-1-2 1-5 6 4 1 1-1 2zM415 1373l-1-1 1-2 0 2zM420 1348l-1-1 0-8 1-1 1 1 0 8zM386 1416l-1-4 0-8 1-1 1 1 0 8zM392 1348l-2-1 2-1 0 1zM403 1481l-2-3 2-2 1 2zM409 1446l-2-1 2-1 1 1zM420 1275l0-2 1 1zM403 1455l-1-2 1-3 1 3zM403 1390l-2-2-4-7-1-1 1-2 5-6 1-1 1 1 0 16zM397 1283l-1-1 1-2 1 2zM403 1324l-1-1 1-2 6 0 0 3zM397 1268l-1-3 1-2 1 2zM409 1308l-1-2-5-6-1-2 1-1 6 0 1 1 0 8zM403 1275l-1-1 1-1 1 1zM337 1812l3 7 4-7-4-3zM333 1804l1 2 1-2-1-5zM344 1804l2 4 1-4 1-8-1-8-1-5-2 5-4 8zM318 1796l5 4 2-4-1-8-1-2-2 2zM333 1788l1 6 2-6-2-3zM322 1763l1 1 5 2 2-3 0-8-2-1-5 0-1 1zM336 1763l4 7 5-7-5-8zM332 1747l2 5 2-5-2-4zM339 1739l1 0 0-8zM333 1714l1 7 6-5 4-2-4-8 0-3-1 3-5 5zM349 1714l2 2 2-2-2-2zM303 1706l2 1 1-1-1-1zM316 1706l1 2 1-2-1-1zM325 1698l3 5 4-5 2-8-6-4-2 4zM321 1625l2 1 1-1-1-2zM337 1600l3 1 6 0 0-1-6-1zM333 1576l1 2 5-2-5-2zM349 1576l2 2 4-2-4-3zM339 1559l1 2 2-2-2-2zM333 1551l1 1 1-1-1-1zM348 1551l3 5 6-5-6-5zM357 1551l6 7 2-7 3-8-5-3-4 3zM339 1535l1 1 1-1-1-1zM333 1510l1 4 2-4-2-1zM350 1510l1 4 4-4-4-7zM339 1486l1 2 0-2 1-8-1-2-1 2zM341 1453l5 8 2-8-2-8-1 0zM363 1453l0 1 1-1-1-2zM357 1388l0 1 1-1 5-6 4 6 2 1 2-1 0-8-2-3-6-2-6 2-3 3zM110 1274l0 6 5-6-5-7zM350 1257l1 3 1-3-1-1zM275 1241l2 1 1-1-1-2zM376 1217l4 2 6-2 0-1-6-2z"/>
<path fill="#277e8e" d="M342 1837l6 0 3-2 6-6 0-2 2-7 3-8 1-3 2 3 4 7 0 1 5 6 1 3-1 2-5 1-6-1-2 6 121 0 2-2 1 2 194 0 0-798-3-2 3-2 0-6-569 0 0 232 6-1 5 5 1 0 5 6 5-6 1-3 6 2 5-2 6 6 3-3 3-4 6-2 4-2 2 0 5 3 5-3 4-8 9 0 5 6 1 2 5 7 4-7-4-8 0-1 6 0 4 1 1 3 6 0 2-3 4-7 3 7 3 5 5-2 6 5 4-8 2-2 6-1 5-4 2 7 4 5 3-5 1-8 2-8 6-2 5 0 6 2 6-1 5 1 1 0 5 1 1-1 5-3 6 2 5-7 1-2 4-6 1-3 6 2 6-4 6-2 5 3 5-5 1-6 1-2 3-8 2-1 1 1 0 8-1 7-1 1 1 1 0-1 6-3 4-5-1-8 2-7 5 7 1 1 6 3 5-4 1 0 4-8-1-8 2-4 3 4 3 2 6 2 6 0 3-4 2-4 6 3 6-2 6 3 5-3 2 3-2 4-5-4-5 8-1 1-3 7-3 6-6 1 0 1 4 8-4 4-5-4 0-1-6-3-4 4-2 7-3-7-3-4-2 4 1 9-2 8 6 8-1 8 4 6 1 2-1 2-6 2-5-2-3-2 3-4 2-4-2-4-6 8-1-4-1-8-4-7-4 7-2 7 0 1 4 8 2 7 0 1 8 8-2 8-1 1-4 8-1 6-2-6-2-8-2-3-5-10-4 4 0 9 4 3 2 5 1 8 0 8-1 8-2 2-6 2-2 4 2 5 6 0 2 4-2 3-3 5 3 3 2 5 3 7 2 1 1 8-1 8 0 9 4 4 6 1 3 3-3 2-6 3-3 3-3 5-1 3-4 8 5 8 0 3 6 1 4-4 0-8 2-1 2 1 0 8-2 8 0 1-6 3-9-3-2-1-3 1 3 2 2 6 3 3 6 5-4 16-2 1-5 6-1 1-5 7-6-5-3 7-3 5 0 4 4-1 2-2 6-3 0 7-5 6 5 3 6 0 3-3 2-1 1 1 5 6 2 2-2 5-5 3 0 8-1 1-4 7-1 8-6-7-1-1-5-2-1 2 1 5 1 4 5 3 6-3 5 8 6-6 2 6 4 5 2 3-2 2-6 5-3-7-3-8-4 8 3 8-2 8 0 8-2 4-6-3-2 8 1 8-2 8 0 8-3 8 0 1 6 6 4-7 2-2 2-6-2-5-3-3 3-5 5 2 6 6 6 3 1 2 0 8-1 2-6-1-6-2-2 1 2 8-5 5-6-3-6 4-6 9-3 2 3 3 6 0 6-1 6 2 5 2 2 2-2 5-5-2-4 5-2 3-3 5-3 3-4 5-2 6-5 1-2 2 2 1 5 3 6 0 2 4 2 8 2 2 6 0 1-2 4-5 4 5-4 3-3 5-2 3-6 2-2 3 2 2 4 6 1 9-1 8-3 8-1 1-6 0-1-1 1-3 1-5-1-2-2 2-4 2-2 6 1 8 1 4 3 4-3 3-4 5 4 4 4-4 2-5 3 5 0 9-3 3-3 5 3 4 2 4-2 2-4 6 4 6 3 2-3 3-4 5-2 3-4 5-1 7-1 2zM363 1797l0-2 0 1zM380 1821l-1-1 2 0zM386 1829l-1 0 1-2zM392 1814l-2-2-4-5-3-3 3-3 4-5 2-6 2 6 0 8-1 8zM397 1823l-2-3 2-2 2 2zM409 1823l-2-3 2-2 1 2zM415 1709l-2-3 2-2 5 0 2 2-2 2zM420 1790l-1-2 1-2 2 2zM426 1765l-1-2 0-8 1-2 1 2 0 8zM432 1667l-2-2 2-2 1 2zM438 1833l-2-4 2-2 1 2zM449 1602l-1-2 1-2 1 2zM455 1798l-2-2 2-2 1 2zM461 1741l-2-2 2-2 1 2zM466 1422l-1-1 1-2 2 2zM472 1708l-1-2 1-2 1 2zM478 1545l-2-2 2-2 1 2zM484 1170l-3-2 3-4 1 4zM489 1814l-1-2 1-2 2 2zM495 1716l-1-2 1-2 1 2zM501 1373l-2-1 2-2 1 2zM507 1210l-2-2 2-1 1 1zM518 1136l-1-1 1-1 1 1zM524 1146l-3-3 3-5 5 5zM535 1129l-4-2 4-3 6-5 0-2 1 2 0 8-1 1zM553 1121l-4-2 4-3 5 1 6-1 2 3-2 3-6-1zM558 1235l-1-2 1-2 1 2zM587 1103l-1-1-1-8 2-3 4 3-1 8zM599 1094l-1 0 1-1zM604 1078l6-2 2 2-2 3zM639 1349l-1-2 1-2 1 2zM645 1064l-3-3 3-5 1 5zM662 1050l-2-5 2-3 2 3zM254 1239l-2-6 2-2 1 2zM305 1230l-2-5 2-1 1 1zM369 1177l-1-1 1-1 0 1zM386 1188l-2-4 2-4 2 4zM403 1226l-1-1 1-4 1 4zM374 1318l-2-4 2-4 6 2 1-6 5-3 1 3-1 7-3 1-3 4zM380 1334l-2-3 2-7 2 7zM380 1397l-2-1 2-2 0 2zM380 1588l-2-4 2-5 2 5zM386 1579l-3-3 3-3 2 3zM363 1782l-3-2 3-4 3 4zM386 1767l-6-6-6-3-2-3 2-2 6-1 5-5-1-8 2-3 2 3-1 8 2 16zM392 1782l-1-2 1-1 0 1zM397 1766l-4-3 1-8 3-2 6-1 3 3-3 2-4 6zM409 1806l-2-2 2-2 1 2zM415 1692l-2-2 2-2 1 2zM426 1733l-2-2 2-2 1 2zM432 1463l-2-2 2-2 1 2zM438 1700l-2-2 2-2 5 0 2 2-2 2zM449 1578l-1-2 1-2 1 2zM455 1667l-2-2 2-2 6 0 1 2-1 2zM466 1180l-3-4-2-5-3-3 3-5 5-4 1 0 0 9 5 2 3 6-3 3zM472 1414l-1-2 1-1 1 1zM489 1733l-1-2 1-2 2 2zM495 1610l-1-2 1-2 1 2zM501 1349l-2-2 2-2 1 2zM524 1127l-1 0 1-1 1 1zM564 1105l-2-3 2-1 6-2 6-1 2 4-2 4-6-1zM380 1562l-2-3 2-6 4 6zM374 1717l-3-3 3-3 2 3zM386 1702l-1-4 1-2 2 2zM397 1734l-2-3 0-17-3-6-3-2 3-3 5 0 6 9 6 0 1 2 2 9-3 2-2-2-4-7-5 7 2 8zM415 1635l-2-2 0-8 2-3 5-1 2 4-2 2-4 6zM426 1610l-5-2 5-2 1 2zM432 1349l-2-2 2-2 1 2zM438 1520l-2-2 2-1 1 1zM443 1529l-1-2 1-2 2 2zM449 1398l-1-2 1-2 1 2zM455 1635l-2-2 2-2 1 2zM461 1627l-2-2 2-2 1 2zM489 1651l-1-2 1-2 2 2zM501 1243l-1-2 1-2 1 2zM386 1683l-1-1 1-1 4-7 2-3 1 3 0 8-1 4zM397 1662l-2-5 2-2 2 2zM403 1651l-2-2 2-6 2 6zM409 1618l-3-2 3-1 1 1zM415 1611l-2-3 1-8 1-1 0 1 5 8zM420 1546l-1-3 1-2 2 2zM426 1521l-1-3 1-2 1 2zM438 1431l-2-2 0-8 2-2 1 2 0 8zM443 1496l-1-2 1-2 2 2zM449 1275l-1-1 1-2 1 2zM455 1594l-2-2 2-2 1 2zM461 1512l-2-2 2-2 1 2zM489 1155l-1-4 1-3 2 3zM501 1171l-3-3-3-6-3-3 3-3 3-5 1-8 2-2 1 2 5 4 4 4-4 7-4 1 0 9zM386 1653l-2-4 2-3 2 3zM392 1513l-3-3 3-4 1 4zM397 1594l-2-2 2-3 1 3zM403 1612l-2-4 2-2 1 2zM409 1594l-2-2 2-2 2 2zM420 1496l-1-2 1-2 2 2zM438 1275l-2-1 2-2 1 2zM443 1259l-1-2 0-8 1-2 2 2-1 8zM449 1235l-1-2 1-2 6 0 1 2-1 2zM461 1406l-2-2 2-2 1 2zM392 1496l-2-2-4-7-1-1 1-3 6 3 0 8zM397 1545l-3-2 1-8 2-3 3 3-1 8zM403 1571l-3-4 3-2 2 2zM409 1553l-1-2 1-2 6 0 1 2-1 2zM420 1416l-2-4 2-7 2 7zM449 1185l-2-1 2-1 3-7 3-4 3 4 0 8-3 3zM461 1324l-2-1 2-2 1 2zM386 1461l-4-8 4-3 6-1 1 4-1 4zM392 1472l-3-2 3-4 3-5 2-1 3 1-1 9-2 2zM403 1521l-1-3 1-8 6 7 1 1-1 3zM415 1532l-1-5 1-1 0 1zM420 1349l-1-2 0-8 1-2 2 2 0 8zM449 1171l-3-3 3-4 2 4zM397 1447l-3-2 1-8-6-8 3-2 4-6 1-4 2 4 0 8-1 8 3 8zM403 1482l-2-4 2-2 2 2zM409 1447l-4-2 4-2 1 2zM415 1374l-2-2 2-2 1 2zM420 1275l-1-1 1-2 1 2zM392 1349l-3-2 3-2 1 2zM403 1457l-1-4 1-5 1 5zM403 1392l-3-4-3-5-3-3 6-8 3-2 1 2 1 8 0 8zM397 1365l0-3 1 1zM403 1325l-1-2 1-2 6 0 1 2-1 1zM397 1284l-2-2 2-3 2 3zM409 1309l-6-9-2-2 2-2 6 0 1 2 0 8zM397 1269l-1-4 1-4 2 4zM403 1277l-2-3 2-2 1 2zM337 1812l3 5 3-5-3-2zM345 1804l1 2 0-2 1-8-1-8-1 0-2 8zM320 1796l3 2 1-2-1-8 0-1-1 1zM334 1788l0 1 0-2zM324 1763l4 2 1-2-1-5zM337 1763l3 6 5-6-5-7zM333 1747l1 2 1-2-1-2zM333 1714l1 4 8-4-2-5-6 3zM326 1698l2 4 3-4 1-8-4-2-1 2zM348 1698l3 4 5-4-1-8-4-7-3 7zM326 1674l2 1 6 1 3-2-3-6-3-3-3-2 0 2zM332 1657l2 5 6-5 6 3 3-3-3-6-6-3-1 1-5 6zM355 1649l2 1 1-1-1-1zM343 1641l3 5 1-5-1-3zM322 1625l1 0 0-1zM334 1576l1 0-1-1zM350 1576l1 1 2-1-2-1zM349 1551l2 4 4-4-4-4zM359 1551l4 5 2-5 1-8-3-2-2 2zM351 1527l0 1 3-1-3-1zM350 1510l1 2 3-2-3-4zM361 1510l2 7 2-7 0-8-3 0zM349 1494l2 6 6-5 1-1-1-4-6 0zM340 1478l0 2 0-3zM342 1453l4 6 1-6-1-6zM355 1437l2 4 1-4 1-8 3-8-5-8-3 8 0 8zM354 1404l3 7 0-8zM355 1380l2 6 6-6-6-2zM363 1380l6 5 0-6zM362 1363l1 3 1-3-1-2zM365 1355l4 4 2-4-2-5-3-3-3-2-2-6-4-4-4 4 4 8 6 3zM348 1331l3 4 2-4-2-3zM110 1274l0 5 4-5-4-7zM336 1225l4 5 5-5-5-6zM391 1200l1 1 0-6zM412 1192l3 4 4-4-4-6z"/>
<path fill="#238a8d" d="M345 1837l1 0 5-3 5-5 1-8 0-1 6-12 3 4 3 5 2 3 3 4 2 5-2 3-5 3-6 1-1 1 120 0 2-3 1 3 194 0 0-797-5-3 5-4 0-4-569 0 0 229 5-1 1 0 5 7 6 6 4-5 2-4 6 2 5-4 5 6 1 2 1-2 5-8 6 1 0-1 5-1 4 1 2 1 2-1 4-8 6-1 5 0 1 1 5 6 2 2 4 6 4-6-4-7-1-1 1-6 6 5 7-7 4-1 6-4 0 5 5 8 1 2 5-1 6 7 4-8 2-2 5-6-1-8 2-2 2 2 3 8 1 0 2 8 3 4 3-4 1-8-2-8 4-1 6-2 5 0 6 1 6-1 6-2 1-3 4-2 6 6 6 2 4-6 2-2 5-10 6-4 6 1 3-2 3-4 0 4 5 4 4-4 1-8 1-1 3-7 3-2 2 2-1 8 5 5 3-5 0-8 2-8 0-1 1 1 5 7 1 1 5 3 4-3 2-2 3-6-1-8 3-5 4 5 2 1 6 2 6-1 5-10 0-1 0 1 6 6 6-2 6 2 5-3 2-3 4-5 3 5 3 3 2-3 4-7 1-2 4-2 4 2 2 9 4 8-4 3-6 1-4-4-1-4-2 4 0 8-4 4-6-2-5-2-6-6-6 9-2 5-4 7-3 1 2 8-5 5-5-3-1-2-5-3-3 3-3 9 2 8-2 3-2 5-2 8 4 5 2 3-2 3-6 3-5-3-4-3-2-3-2-5 0-8-4-6-4 6-1 8 4 8 1 5 1 3 5 5 2 3-2 9-4 8 0 8-2 6-1-6-4-16-1-2-4-7-1-3-3 3 1 9 2 1 3 7 1 8 1 6 5 2-5 4-1 4 1 2 5-2 1-4 6 0 2 4 2 8-4 1-5 8 2 8-3 4-3-4 2-8-5-3-2 3-3 5-2 3 2 2 3 6 2 5 4 3 0 8-2 8 1 9 3 3 6 0 4 5-4 4-6 3-1 1 1 3 1 5-1 3-5-3-1 0-4 8 4 7 1 1 5 3 3-3 0-8 3-2 2 2 1 8-2 9-1 1-6 2-6 0-2 5 2 2 6 5 5 1-5 8 6 3 6-1 1 6-1 5-4 3-2 2-4-2-1-8-1-7-1 7-5 3-4 5-1 4-6 4-6-3-2 4 2 3 6-3 1 8-1 4-4 4 4 2 5-2 1 0 5-2 1 2 8 8-3 6-3 2 0 8-3 3-2 5-2 9 4 5 5-5 1-2 1 2 2 8 3 3 4 5-4 4-5 4 4 8-5 5-3-5 0-8-1-8-2-6-2 6 2 8-2 8 0 8-3 6-6 3 5 8 1 0 5 4 3-4 3-6 6-6 3 4-6 8-3 6-2 2 2 2 6 3 2 3 0 8-2 5-6-3-5 6-1 5-5 3-6-4-6 3-1 2-5 7-1 1 1 1 6 0 6-1 6 0 8 8-3 7-5-2-3 3-3 5-2 3-4 5-3 3-2 9 5 2 3 6 3 7 6 0 5-6 5 7-5 5-2 3-3 5-6 3 5 8 1 5 0 9-1 3-3 8-2 2-6 1-1-3-5-5-2 5 2 8 0 2 5 6 1 1 2-1 4-1 2 1-2 5-1 3-1 9 2 2 5 6-5 4-3 4-3 2-3 6 3 5 4 3-4 4-9 12-2 9 0 6zM363 1799l-1-3 1-2 1 2zM369 1805l-1-1 1 0 5-2 2 2-2 1zM380 1822l-3-2 3-2 2 2zM386 1831l-2-2 2-3 1 3zM392 1815l-3-3-3-4-4-4 4-4 3-4 2-8-1-8 2-4 1 4 0 8 2 8 0 8-2 8zM397 1823l-2-3 2-3 2 3zM409 1823l-2-3 2-2 2 2zM415 1710l-3-4 3-3 5 0 2 3-2 3zM420 1791l-2-3 2-3 2 3zM426 1766l-2-3 0-8 2-3 2 3 0 8zM432 1668l-2-3 2-2 2 2zM438 1834l-2-5 2-3 1 3zM449 1603l-2-3 2-3 2 3zM455 1799l-2-3 2-3 2 3zM461 1742l-2-3 2-3 1 3zM466 1423l-2-2 2-3 2 3zM472 1709l-2-3 2-2 2 2zM478 1546l-2-3 2-3 2 3zM484 1171l-4-3 4-6 2 6zM489 1815l-2-3 2-2 2 2zM495 1717l-2-3 2-2 2 2zM501 1374l-2-2 2-3 1 3zM507 1211l-2-3 2-2 1 2zM524 1147l-4-4-2-5-2-3 2-3 3 3 3 2 4-2-4-4-2-4 2-2 5-6 1-1 0 1 5 4 5-4 1-4 4 4-2 8-2 3-6 0-5 5 1 8-1 2zM553 1122l-5-3 5-5 5 2 6-2 3 5-3 6-6-3zM558 1235l-1-2 1-2 2 2zM587 1104l-4-2 1-8 3-5 5-3 1-2 6 2 1 8-1 1-4-1-2-3-1 3 1 5 0 4zM604 1080l-2-2 2-1 6-2 3 3-3 4zM633 1064l-1-3 1-2 2 2zM639 1349l-2-2 2-2 1 2zM645 1065l-4-4 3-8 1 0 5-2 6 0 6-12 4 6-4 8-6 8 0 1 0-1-6-6-3 6zM242 1233l0-5 1 5zM369 1178l-2-2 2-2 1 2zM386 1189l-3-5 3-5 3 5zM472 1156l-1-5 1-1 6-2 0 5zM386 1521l-3-3 3-1 1 1zM380 1784l-1-4 1-3 2 3zM386 1769l-6-6-6-3-4-5 4-4 6-1 3-3 0-8 3-5 3 5 0 16 2 8zM397 1767l-5-4 1-8 4-3 6-1 4 4-4 3-4 5zM409 1807l-3-3 3-3 2 3zM415 1693l-2-3 2-3 1 3zM426 1733l-2-2 2-3 2 3zM432 1464l-2-3 2-2 2 2zM438 1701l-2-3 2-3 5 0 2 3-2 3zM449 1578l-2-2 2-3 2 3zM455 1668l-2-3 2-2 6 0 1 2-1 3zM472 1415l-2-3 2-2 2 2zM484 1145l-4-2 4-1 1 1zM489 1733l-2-2 2-3 2 3zM495 1611l-2-3 2-2 2 2zM501 1350l-2-3 2-2 1 2zM564 1107l-4-5 4-3 6-2 5-3 1 0 4 8-4 7-6-3zM374 1718l-4-4 4-4 2 4zM380 1634l0-2 1 1zM397 1735l-3-4 0-8 1-9-3-5-5-3-1-1-2-7 2-4 4 4 2 3 5 1 3 4 3 6 6 0 2 2 2 9-4 2-2-2-4-6-4 6 2 8zM415 1635l-2-2 0-8 2-3 5-2 2 5-2 2-4 6zM432 1350l-2-3 2-2 2 2zM438 1521l-2-3 2-2 1 2zM443 1529l-2-2 2-3 2 3zM449 1399l-2-3 2-2 2 2zM455 1635l-2-2 2-3 2 3zM461 1627l-2-2 2-3 1 3zM489 1652l-2-3 2-3 2 3zM501 1243l-2-2 2-2 1 2zM386 1685l-3-3 3-3 2-5 4-5 2 5-1 8-1 6zM397 1664l-3-7 3-3 2 3zM403 1691l-1-1 1-1 1 1zM409 1666l-1-1 1-1 0 1zM415 1611l-3-3 1-8 2-2 5 10 6-2 2 2-2 3-6-1zM438 1431l-2-2 0-8 2-3 1 3 0 8zM443 1497l-2-3 2-3 2 3zM449 1276l-2-2 2-3 2 3zM455 1595l-2-3 2-3 2 3zM461 1513l-2-3 2-2 1 2zM501 1171l-4-3-2-5-4-4-2-3-2-5 2-4 6 8 3-4-1-8 4-4 2 4 4 3 5-3 0 8-5 8 0 1-4 8zM386 1654l-3-5 3-5 3 5zM392 1515l-3-5 3-5 2 5zM397 1595l-3-3 3-4 2 4zM403 1652l-2-3 2-8 3 8zM409 1619l-4-3 4-2 2 2zM420 1546l-2-3 2-3 2 3zM426 1521l-2-3 2-2 2 2zM438 1276l-2-2 2-3 1 3zM443 1260l-1-3 0-8 1-2 2 2 0 8zM449 1235l-2-2 2-3 6 0 1 3-1 2zM461 1407l-2-3 2-2 1 2zM392 1499l-6-10-1-3 1-6 6 4 0 2 1 8zM397 1546l-4-3 1-8 3-4 4 4-2 8zM403 1613l-3-5 3-3 2 3zM409 1595l-2-3 2-3 2 3zM420 1497l-2-3 2-3 2 3zM438 1193l-1-1 6-6 1 6-1 1zM461 1325l-2-2 2-3 1 3zM392 1473l-3-3 3-6 2-3 3-2 4 2-2 9-2 4zM403 1573l-5-6 5-2 3 2zM409 1554l-2-3 2-3 6 0 2 3-2 3zM420 1418l-3-6 3-8 1 0 1 8zM397 1448l-4-3 0-8-1-2-4-6 4-3 3-5 2-5 3 5-1 8 0 8 3 8zM403 1522l-2-4 1-8 1-1 1 1 5 6 2 2-2 4zM415 1536l-1-1-1-8 2-2 1 2-1 8zM420 1350l-1-3-1-8 2-3 2 3 0 8zM392 1397l-1-1 1 0zM403 1484l-3-6 3-3 2 3zM409 1487l-2-1 2-1 0 1zM415 1374l-3-2 3-3 1 3zM420 1276l-1-2 1-3 2 3zM392 1350l-4-3 4-3 1 3zM403 1458l-2-5 2-7 2 7zM409 1447l-5-2 5-3 2 3zM403 1393l-3-5-3-4-4-4 4-6 2-2 4-3 2 3 0 16zM397 1368l-1-5 1-3 1 3zM403 1325l-2-2 2-3 6 0 1 3-1 2zM397 1285l-2-3 2-5 6-6 2 3-2 4-3 4zM409 1309l-2-3-4-5-2-3 2-3 6 0 2 3 0 8zM397 1270l-2-5 2-5 2 5zM338 1812l2 3 2-3-2-1zM345 1796l1 3 0-5zM355 1780l2 3 2-3-2-4zM327 1763l1 1 1-1-1-1zM337 1763l3 6 4-6-4-6zM348 1763l3 3 3-3-3-3zM334 1714l0 1 6 0 0-1zM327 1698l1 2 2-2 0-8-2-1 0 1zM350 1698l1 2 3-2 0-8-3-5-3 5zM328 1674l6 1 2-1-2-4-6-5zM345 1674l5 0-4-1zM333 1657l1 2 3-2-3-1zM342 1657l4 2 2-2-2-4zM359 1608l4 4 2-4 4-5 1-3-1-3-5-5-1-4-2 4 0 8zM349 1551l2 3 3-3-3-3zM360 1551l3 4 1-4 0-8-1-1-1 1zM360 1527l3 2 4-2-4-5zM351 1510l0 1 1-1-1-1zM362 1510l1 2 0-4zM350 1494l1 5 5-5-5-3zM343 1453l3 4 1-4-1-4zM356 1437l1 2 1-2 0-8 2-8-3-6-2 6 1 8zM356 1380l1 2 2-2-2-1zM367 1355l2 2 1-2-1-3zM354 1339l3 6 3-6-3-3zM349 1331l2 2 1-2-1-2zM362 1314l1 2 6 2 2-4-2-4-6 2zM110 1274l0 4 4-4-4-6zM218 1249l1 1 0-2zM390 1241l2 2 1-2-1-2zM337 1225l3 4 4-4-4-4zM395 1225l2 3 4-3-4-8zM395 1208l2 8 2-8-2-2zM413 1192l2 3 3-3-3-4zM447 1176l2 4 2-4-2-3z"/>
<path fill="#1f968b" d="M347 1829l4 4 4-4 1-9 1-1 3-7-3-4-3 4-3 5-3 3zM369 1837l112 0 3-4 2 4 193 0 0-795-6-2 0-3 6-5 0-3-569 0 0 220 6 7 0 1 5 6 2 2 4 5 4-5 2-6 6 3 5-5 1 0 5 8 5-8 1-8 6 0 5 7 6 1 5-8 1-1 6-1 5 0 2 2 4 5 2 3 4 5 3-5-3-6-2-2 1-8 1 0 6 6 5-6 0-1 6-1 5-6 7 0-5 8 5 8 6 0 5 7 3-7 8-8-2-8 3-3 2 3 4 8 3 8 2 3 2-3 1-8-3-8 0-9 0 1 6 6 6-2 17 0 5-4 0-8 1-1 0 1 11 11 6 2 4-5 2-3 3-5 2-5 5-4 7 0 5-8 2 0 0 8 4 4 3-4 0-8 3-4 2-4 4-3 3 3-1 8 4 4 3-4-1-8 2-8 1-2 2 2 4 5 2-5 4-6 4 6 2 4 2-4-1-8 4-6 5 6 1 0 6 2 5-2 1-1 3-7 2-5 2 5 4 4 12 0 5-2 1-2 5-6 4 6 2 1 1-1 2-9 3-5 5 2 4-5 2-3 5-5 1 0 6-3 5 5 3 6 3 3 2-3-2-8 0-2-1-6 1-1 6 3 3-2 3-3 1 3-1 3-3 5 3 2 3-2 2-2 3 2 1 8-4 2-4 6-1 2-3 7-3 4-4-4-2-4-6-6-3-7-2-5-4 5-2 5-4 3 1 9 2 8-5 4-6 1-5 3-6 5-6-1-6 6-5 0-3-2-3-3-1 3-5 8 0 8-6 6-5 0-2-6-4-2-3 2-1 9 1 8-3 5-1 3-2 8 3 5 2 3-2 3-6 4-5-3-5-4-1-1-3-7 0-8-3-5-3 5-1 8 4 8 0 2 2 6 4 5 3 3-2 9-1 1-4 7 3 8-3 8 4 3 2 5 4 8 2 0-2 3-6 1-4 5 2 8 2 7 0 1-1 0-5-3-4-5 0-8-2-1 0 1-5 6-1 2 1 1 4 7 1 4 6 4-1 8-2 8 1 9 2 2 6-1 6 6 5-6 1-1 5-4 2 4 1 8 0 8-3 6-4-6-2-2-5-6-6 5-6 3 2 8-2 6-6-3-2 5 2 5 4 3 2 2 1-2 0-8 5-3 3 3 2 8-4 9-1 4-6 0-6 1-1 3 1 1 6 5 6-1 2-5 4-4 3-4 2-6 3 6 0 8-1 8 4 8 6-4 2 4-2 3-4 5-2 7-1 1-2 9 6 8 4 8-1 2-6-2-4-8-2-3-5-2-4-3-2-5-6 0-1-4-5-3-3 3-1 9-1 0-4 8-2 6-2 2 2 1 2-1 4-1 5-1 10 10-4 8 0 8-6 5-1 3-2 9 3 3 3-3 3-7 1-2 5-3 2-5 4-7 2 7-2 6-3 2-3 5-3 4 2 8 1 1 5 7-5 5-4 3 4 7 1 1-1 2-6 4-4-6-2-6-2 6 1 8-4 7-3 2 3 3 1 5 4 2 2-2 4-8 6-5 4 5 2 6 0 2 5 3 3 5-3 4-4-4-1-6-1-2-5-3-2 3-4 7-1 1 1 1 6 3 2 4 2 8-4 8-6-5-4 5-1 9-1 0-5 8 8 8-2 8 2 8-3 3 0-3-1-8-4-1-1 1-5 7-1 1-5 6-2 2 1 9 1 0 6 12 6 0 5-4 1 0 5 5 1-5 5-5 1-3 5-7 2 7 0 8-2 8-6-3-5 3-1 0-6 6-1 2-4 6-4 2 4 8 5-5 3 5-3 5-4 4 0 8-1 2-2 6-4 3-6 1-2-4-4-4-1 4 1 7 1 1 5 7 6-1 5 2-2 8-3 4-1 5 1 0 6 7 0 5-6 1-2 3-4 3-3 5 3 4 4-4 2-4 1 4-1 5-1 3 1 2 3-2 3-1 5-4 5 5-5 2-5 3-1 3 1 2 4 6 1 2 6-6 3 4-3 3-3 6-3 4zM386 1832l-2-3 2-5 2 5zM392 1817l-4-5-8-8 6-5 2-3 2-8-2-8 4-8 3 8 2 8-3 24zM397 1824l-3-4 3-3 3 3zM403 1780l-1 0 1-2zM409 1824l-3-4 3-3 2 3zM415 1710l-3-4 3-3 5-1 3 4-3 4zM420 1791l-2-3 2-4 3 4zM426 1767l-2-4 0-8 2-3 2 3 0 8zM432 1669l-3-4 3-3 2 3zM438 1835l-3-6 3-4 2 4zM449 1603l-2-3 2-3 2 3zM455 1799l-3-3 3-3 2 3zM461 1742l-3-3 3-4 2 4zM466 1424l-2-3 2-4 2 4zM472 1710l-2-4 2-3 2 3zM478 1546l-3-3 3-3 2 3zM484 1173l-5-5 5-8 2 8zM489 1816l-2-4 2-3 3 3zM495 1718l-2-4 2-3 2 3zM501 1375l-2-3 2-3 2 3zM507 1211l-3-3 3-3 2 3zM524 1148l-5-5-4-8 3-6 10-10 2-3 1 3 4 3 4-3 2-6 6 2 6-2 5 2 6-3 4 7-3 8-2 0-5-3-5-1-6-3-3 7-3 6-6-2-4 4 2 8-3 4zM541 1144l-1-1 1-2 0 2zM558 1236l-2-3 2-3 2 3zM576 1111l-2-1-4-3-6 2-5-7 5-4 12-6 1 2 4 7 2-7 4-6 3-2 3-5 6 1 2-4 3-3 6-1 4 4-4 6-6-1-3 3 0 8-2 3-5 5-1 2-6 1-6 3-2 2zM622 1081l-2-3-4-5-1-3 1-2 6 1 5-1 2 2-2 8zM633 1066l-2-5 2-4 4 4zM639 1350l-2-3 2-3 2 3zM645 1066l-5-5 3-8 2-1 5-4 6 1 2-4 3-8 1-1 0 1 6 7 2 1-2 1-5 7-1 3-4 5-2 2-1-2-5-5-2 5zM121 1250l0-9 1 0 0 8zM242 1234l-1-1 1-8 0-1 0 1 1 8zM259 1217l0-1 1 1zM271 1209l0-1 6 0 0 1zM328 1201l0-1 1 0zM369 1179l-2-3 2-3 2 3zM449 1154l-2-3 2-1 3 1zM512 1129l-1-2 1-2 3 2zM392 1350l-4-3 4-4 2 4zM397 1370l-1-7 1-5 2 5zM403 1326l-3-3 3-4 6 0 2 4-2 3zM392 1399l-2-3 2-1 1 1zM392 1501l-4-7-2-3-2-5 1-8 1 0 6 5 1 3 1 8zM380 1635l-1-2 1-2 2 2zM386 1655l-4-6 4-6 4 6zM380 1788l-1-8 1-6 3 6zM409 1808l-3-4 3-3 2 3zM415 1694l-3-4 3-3 2 3zM426 1734l-3-3 3-4 3 4zM432 1465l-3-4 3-3 2 3zM438 1701l-3-3 3-3 5 0 3 3-3 3zM449 1579l-2-3 2-4 2 4zM455 1669l-3-4 3-3 6 0 2 3-2 4zM472 1416l-2-4 2-3 2 3zM489 1734l-2-3 2-4 3 4zM495 1612l-2-4 2-3 2 3zM501 1350l-2-3 2-3 2 3zM397 1332l-2-1 2-1 1 1zM409 1310l-9-12 3-3 6 0 2 3 0 8zM386 1627l-1-2 1-8 2 8zM380 1767l-3-4-3-1-5-7 0-8 5 3 6-1 2-2 0-8 4-7 4 7 1 8-1 8 2 5 0-5 5-4 6-2 4 6-4 4-3 4-3 5-5 1-6 1zM415 1636l-3-3 0-8 3-4 5-3 3 7-3 3-3 5zM432 1350l-2-3 2-3 2 3zM438 1522l-3-4 3-3 2 3zM443 1530l-2-3 2-4 3 4zM449 1399l-2-3 2-3 2 3zM455 1636l-3-3 3-4 2 4zM461 1628l-3-3 3-4 2 4zM489 1652l-2-3 2-3 3 3zM501 1244l-2-3 2-3 2 3zM397 1286l-3-4 3-6 2-2 4-3 2 3-2 5-2 3zM409 1234l-2-1 2-2 0 2zM397 1737l-4-6 0-8 1-9-2-4-5 4-1 4-1-4 0-8-2-8 3-6 5 6 1 0 5 3 6 10 6 0 3 3 2 9-5 3-3-3-3-5-3 5 2 8zM415 1612l-3-4 1-8 2-3 1 3 4 7 6-2 2 3-2 4-6 1zM438 1432l-3-3 0-8 3-4 2 4 0 8zM443 1497l-2-3 2-3 3 3zM449 1277l-2-3 2-3 2 3zM455 1595l-3-3 3-3 2 3zM461 1514l-3-4 3-3 2 3zM397 1272l-3-7 3-7 2 7zM397 1666l0-1-4-8 4-4 3 4-2 8zM403 1692l-3-2 3-2 1 2zM409 1667l-2-2 2-2 1 2zM420 1547l-2-4 2-4 3 4zM426 1522l-2-4 2-3 2 3zM438 1277l-3-3 3-3 2 3zM443 1260l-2-3 0-8 2-3 2 3 0 8zM449 1236l-2-3 2-3 6 0 2 3-2 3zM461 1407l-3-3 3-3 2 3zM403 1652l-3-3 2-8 1-1 1 1 3 8zM409 1620l-5-4-1-1-4-7 4-4 2 4 4 5 2 3zM420 1497l-2-3 2-3 3 3zM461 1326l-3-3 3-3 2 3zM409 1596l-3-4 3-4 3 4zM420 1419l-4-7 3-8 1-1 2 1 1 8zM409 1577l-3-1-3-2-6-6 0-1 6-3 4 3 2 6 0 3zM420 1350l-2-3 0-8 2-3 2 3 0 8zM397 1547l-5-4 1-8 4-5 5 5-2 8zM403 1523l-3-5 1-8 2-2 1 2 5 5 2 3-2 6zM409 1555l-2-4 2-4 6 1 2 3-2 3zM420 1277l-2-3 2-3 2 3zM415 1537l-2-2-1-8 3-3 1 3 0 8zM415 1375l-3-3 3-4 2 4zM339 1812l1 2 1-2-1 0zM356 1780l1 1 1-1-1-2zM338 1763l2 5 3-5-3-5zM350 1763l1 2 1-2-1-2zM328 1698l0 1 1-1-1-7zM351 1698l0 1 1-1 1-8-2-4-2 4zM330 1674l5 0-1-2zM344 1657l2 1 1-1-1-2zM356 1625l1 5 6-1 4-4-4-3-6 2zM361 1608l2 2 1-2 5-7 0-2-6-6-1 7zM350 1551l1 2 2-2-2-1zM361 1551l2 2 0-9zM373 1543l1 6 1-6-1-3zM361 1527l2 1 2-1-2-3zM350 1494l1 3 3-3-3-2zM390 1461l2 2 1-2-1-1zM345 1453l1 2 0-3zM394 1453l3 5 4-5-4-4zM382 1445l4 2 6-2 0-9-2 1-4 3zM356 1421l1 6 2-6-2-4zM355 1339l2 5 2-5-2-2zM363 1314l6 3 1-3-1-3zM374 1290l0 3 3-3-1-8-2-8-1 8zM110 1274l0 3 3-3-3-5zM367 1265l2 7 1-7-1-1zM338 1225l2 3 3-3-3-3zM396 1225l1 2 2-2-2-4zM396 1208l1 4 1-4-1-1zM383 1192l3 2 2-2-2-2zM413 1192l2 2 2-2-2-3zM435 1184l3 5 4-5-4-5zM448 1176l1 2 1-2-1-2zM459 1176l2 7 0-9zM523 1135l1 0 0-1z"/>
<path fill="#1fa287" d="M348 1829l3 3 3-3 1-9-4-3-2 3zM371 1837l110 0 3-4 2 4 193 0 0-794-4 2-1 8-1 2-2-2-3-4-3 4-3 5-6 6-6-6-1 3-4 6-6-5-8 8-2 8-2 4-5 5-2-1-3-8-1-2-1 2-5 7-6 0-1 1-1 8-3 4-4 4-2 3-6 1-5 4-1 2-5 1-4-3-2-1-5 1 5 9-2 8-4 2-4-2-2-2-5-1-6 0-1 3-5 8-6-2-2 2 1 8-4 6-6 0-5 2-1 2-6 2-2 4-3 3-3 6-3 5-5-5-1-2-6-6-2 8-3 6-6 2 0 1-6 4-6 1-4 2-1 2-6 4-6-1-2 3-4 4-5 0-5-4-1-1-1 1 0 8-3 8-2 2-6 4-5 3 0 1-2-1-1-9-3-2-2 2 0 17 2 4 1 4-1 3-6-3-3 8 6 8-3 4-5 4 2 8 3 5 3 4-4 8-5 5-5 3 0 3-6 1-2 4 2 1 6 14 4 1-4 5-6 1-2 3 1 8 2 8 5 4 2 4-2 4-5-4-1-4-3-4-3-2-5-6-1-7-5 7-1 0 1 0 5 10 6 3 2 3 1 8-3 1-2 7 1 9 1 1 6-1 6 1 2-1 1-9 2-7 3 7 3 5 3 4 1 8-1 8-3 8-5-8-1-1-5-6-6 5-3 2 0 8 3 4 4-4 2-3 2 3-2 5-2 3 2 6 1 2 4 2 4 7 0 8-1 8 3 6 6-3 3 5-6 8-3 8 0 1-3 8 3 3 6 10 2 3-2 3-6 6-1-1 0-8-5-10-5-2-5 4 5 4 2 4 1 8-3 8 3 8-3 7-2 1-4 8-1 1 1 5 1 3 5 4 0-4 5-6 6 6-2 8-4 5-5-4-6 5-2 2 2 4 5 4-5 4-6 3-5-7-1-3-1 3 1 8 0 5 6 0 6-2 5 6 1 2 2 6 3 1 3 7-3 5-5-5-3-8-3-2-5 10 5 2 3 6 2 8-3 8 3 9-5 4-2-4 1-9-5-4-3 4-1 9-2 1-4 7 8 8-1 8 3 8 1-8 5-8 2 0 4-1 0 3-2 6-4 8-4 0-1 8-1 4-4-4-2-1-1-7-4-7-6 7 6 7 3 1-3 6-6-1-2-5-4-1-1 1 1 5 4 4 1 8 1 1 6 1 2-2 3-2 6-1 6-5 6-8 1-1-1-8 5-5 2-3 2-8 2-2 2 2 3 8-5 4-3 4-1 8-2 3-2 6 0 8-1 8 0 8 3 1 4 7 2 4 6 0 2-4 4-4 5 0 3 4-3 4-5 1-3 3 3 7 0 3-6 3-6-8-3 4 3 8-6 7-5 1 0 8 5 3 6-2 5 7-5 5-6 9-4 3 3 8 2 8-1 7 0 1-2 16 2 4 3 4-3 5-4-5-1-2-5-6-1-1-6-3-6-1-5 5 5 8 6-6 5 6 1 2 4 7-4 4-6-8-2 4-4 6zM403 1782l-3-2 3-8 1 8zM409 1825l-3-5 3-4 3 4zM420 1792l-3-4 3-5 3 5zM426 1768l-3-5 0-8 3-4 3 4 0 8zM432 1707l-1-1 1 0zM438 1837l-3-8 3-4 2 4zM449 1604l-3-4 3-4 3 4zM455 1800l-3-4 3-4 3 4zM461 1743l-3-4 3-4 2 4zM466 1424l-2-3 2-4 3 4zM472 1710l-3-4 3-4 3 4zM478 1547l-3-4 3-4 3 4zM489 1816l-3-4 3-4 3 4zM495 1718l-3-4 3-4 3 4zM501 1375l-3-3 3-4 2 4zM507 1212l-3-4 3-3 2 3zM541 1146l-4-3 4-8 1 8zM558 1236l-2-3 2-4 3 4zM639 1351l-3-4 3-3 2 3zM392 1331l-1 0 1-1 5-1 2 2-2 3zM403 1327l-3-4 3-5 6 0 2 5-2 3zM380 1637l-2-4 2-3 4 3zM403 1693l-4-3 4-3 2 3zM409 1699l-1-1 1 0zM415 1694l-3-4 3-4 2 4zM409 1808l-4-4 4-4 3 4zM415 1756l-3-1 2-8 1-1 0 9zM426 1735l-3-4 3-5 3 5zM432 1669l-3-4 3-4 3 4zM438 1702l-3-4 3-4 5 0 3 4-3 4zM449 1580l-3-4 3-4 3 4zM455 1669l-3-4 3-4 6 0 2 4-2 4zM472 1416l-3-4 3-3 3 3zM489 1735l-3-4 3-4 3 4zM495 1612l-3-4 3-4 3 4zM501 1351l-3-4 3-3 2 3zM639 1078l-1 0 1-2 3 2zM409 1311l-3-5-3-3-3-5 3-4 6 0 3 4 0 8zM409 1668l-3-3 3-3 2 3zM415 1637l-3-4 0-8-3-5-6-4-5-8 5-5 3 5 3 4 2-4 1-8-6-8 3-5 4 5 2 3 2 5 3 6 6-2 3 4-3 4-6 3-5-2-3 3 3 4 5-3 3 8-6 8zM432 1465l-3-4 3-4 3 4zM438 1523l-3-5 3-4 2 4zM443 1531l-3-4 3-4 3 4zM449 1400l-3-4 3-4 3 4zM455 1637l-3-4 3-4 3 4zM461 1629l-3-4 3-4 2 4zM489 1653l-3-4 3-4 3 4zM501 1244l-3-3 3-3 2 3zM403 1576l-1 0-5-4-2-5 2-4 6 0 5 4 1 4 1 5-1 2zM426 1523l-3-5 3-4 3 4zM432 1351l-3-4 3-4 2 4zM438 1433l-3-4 0-8 3-4 2 4 0 8zM443 1498l-3-4 3-4 3 4zM449 1277l-3-3 3-4 3 4zM455 1596l-3-4 3-4 3 4zM461 1514l-3-4 3-4 2 4zM409 1556l-3-5 3-5 6 1 2-4 3-4 3 4-3 5-2 3-3 4zM438 1277l-3-3 3-4 2 4zM443 1261l-2-4 0-8 2-4 3 4 0 8zM449 1236l-3-3 3-4 6 0 2 4-2 3zM461 1408l-3-4 3-4 2 4zM415 1538l-2-3-2-8-2-2-6-1-3-6 1-8 2-3 2 3 4 4 3 4 3 5 2 4-1 8zM420 1498l-3-4 3-4 3 4zM461 1326l-3-3 3-4 2 4zM415 1397l-1-1 1-1 0 1zM420 1420l-4-8 2-8 2-2 2 2 1 8zM415 1376l-4-4 4-5 2 5zM420 1351l-2-4-1-8 3-4 3 4 0 8zM420 1277l-2-3 2-4 3 4zM355 1812l2 6 3-6-3-3zM355 1796l2 4 4-4-4-4zM365 1796l4 6 5-6-5-7-6-3-1 2 1 2zM383 1796l3 1 1-1 1-8-1-8-1-7-1 7-3 8zM370 1780l4 7 4-7 2-8 2 0-2-1-6-7-5 1-5 7 5 6zM338 1763l2 4 3-4-3-4zM354 1747l3 3 6 2 4-5-4-4-6 2zM372 1747l2 1 6-1 1-8 5-8 6 8 0-14-6 1-1-3-1-9-2-8 1-8-3-6-6 5 0 1-5 7-2 1 2 4 5-2 4 6-4 5-3 4 2 8 1 2 2 6-2 5zM350 1739l1 5 3-5-3-3zM368 1739l1 1 1-1-1-1zM388 1714l4 8 1-8-1-3zM350 1690l1 6 1-6-1-2zM358 1625l5 1 1-1-1-1zM362 1600l1 4 2-4-2-2zM372 1584l2 1 1-1-1-6zM351 1551l0 1 1-1zM374 1543l0 1 1-1-1-1zM373 1527l1 1 2-1 1-9-3-1 0 1zM382 1510l4 3 1-3-1-6zM351 1494l0 1 2-1-2-1zM385 1494l1 6 1-6-1-2zM377 1486l3 4 3-4-3-8-5-8 2-9-3-2-1 2 1 9-5 1-4 7 4 6 5-1zM382 1470l4 4 1-4-1-3zM394 1453l3 4 3-4-3-4zM385 1445l1 1 2-1-2-1zM374 1429l6 4 6-2 1-2-1-2-6-1-6 2zM357 1421l0 1 1-1-1-1zM388 1421l4 3 2-3-2-8zM380 1412l0 1 0-9-6-2-1 2 1 2zM356 1339l1 3 1-3-1-1zM366 1314l3 2 0-3zM374 1282l0 8 1-8-1-3zM383 1282l3 7 6 0 1-7 4-7 1-1-1-1-3-8 3-8-5-3-6-5-4 8 4 4 3 4 0 9-3 3zM110 1274l0 3 2-3-2-4zM123 1265l4 4 3-4 3-7 6 4 4-5 1-1 1 1 5 7 4-7 1-8 1-1 6 0 0 1 5 6 6 1 5-7 1-2 11 0 3 2 6 8 3 5 3-5-3-5-3-3 2-8 1-1 6 6 4-5 1-1 6-2 6-6 6 0 0 2-5 7 5 7 5 0 1 1 5 6 3-6 3-4 4-4-2-8 4-3 3 3 2 5 2 3 2 8 2 2 1-2 2-8-3-6-2-2 1-8 1-1 1 1 5 4 6 0 5-1 6-1 6 1 3-3 2-8 1-2 0 2 5 5 4 3 2 2 6 3 3-5 3-4 5-10 4-3 2-1 6 0 4-7 2-1 3 1-1 8 3 3 3-3-1-8 4-6 1-2 5-3 4 3-1 8 3 3 2-3-1-8 2-8 2-4 3 4 3 3 1-3 5-7 4 7 2 2 1-2-1-8 5-7 6 6 2 1 4 1 2-1 4-5 1-3 4-8 3 8 3 3 6 0 6-1 5-2 0-3-1-6 1-2 2 2 4 2 4-2-4-3-3-5 3-2 6 2 6-1 1 1 4 3 3-3 3-6 6-4 6-3 5 5 0 1 2-1 2-8 2-3 5 3 1 0 6-5 2-3 3-3 6 3 12-12 2 4 3 2 3-2 3-9 6-1 1 1 5 2 5 1 5-3-5-6-1-2 1-1 6-5 5-2 1 0 6-3 3 3 2 4 2-4-2-7 0-2 2 1 4 1 2-1 4-7 6 0 0-1 5-4 6-1 4-3 2-3 5-6 1 0 5 5 3-5 3-6 6 6 2-8 4-3 5-5 6 2 1-2 3-8 2-3 1 3 5 6 4-6 1-3 6-3 0-2-569 0 0 211 1 1 0 8 5 6 1 2 4 5zM167 1242l-1-1 1-1 1 1zM242 1235l-2-2 1-8 1-1 1 1 1 8zM259 1218l0-3 1 2zM271 1210l-1-2 1-1 6 0 0 2zM317 1218l-1-1 1-2 1 2zM328 1203l-1-3 1-1 1 1zM369 1180l-3-4 3-4 3 4zM121 1251l-1-2 1-8 0-1 1 1 0 8zM368 1265l1 2 0-2zM376 1241l4 8 3-8-1-8-2-4-2 4zM339 1225l1 2 1-2-1-2zM397 1225l1 0-1-1zM414 1192l1 1 1-1-1-2zM436 1184l2 3 2-3-2-3zM460 1176l1 2 0-3zM454 1168l2 0-1-5zM481 1151l3 7 1-7-1-3zM493 1151l2 2 1-2-1-6zM505 1143l2 1 1-1-1-2zM510 1135l2 3 2-3-2-4z"/>
<path fill="#28ae80" d="M349 1829l2 2 2-2 1-9-3-2-2 2zM374 1837l28 0 1-1 0 1 34 0-3-8 4-5 3 5-3 8 42 0 4-5 3 5 192 0 0-793-2 1-2 8-2 3-5-3 0-1-1 1-5 7-1 1-5 4-4-4-2-1-1 1 1 8 0 1-5-2-6 1-2 1 2 0 6 6 1 2-1 1-6 1-4-2-2-7-2 7-4 7-5 5-5-4-1-4-3 4-1 8-2 6-4-6-2-4 0 4-8 8-3 4-6 1-4 3-2 6-5-2-5 5-1 8-6 3-6-2-1-1-4-2-6 2 0 2-2 6-1 8-3 4-6-3-5 6-6 0-2 1-4 5-6 2-5 5-2 5-4 5-6-6-6-4-1 5-4 7-2 1-3 8-1 1-1-1-5-2-6 1-2 1-3 3-6 4-6 0-6 6-5 1-4 2-2 3-3 5-3 3-9 6-2 4-6-4 2-9-2-1-1 1 1 9-1 8 1 2 2 6-2 5-6-4-2 7 2 3 3 5-3 5-5 3 2 8 3 4 3 5-3 8-6 6-3 2-2 8 0 1-3 7 3 5 5 3 1 0-1 1-5 7-6 0-1 1 0 8 1 1 2 7 4 3 3 5-3 5-6 3 0 8 6 8 3-8 2-8 0-1 1 1 2 8 3 4 4 5 0 16-2 8-2 3-1-3-5-7-1-1-4-5-6 4-1 1-2 8 3 3 3-3 3-4 3 4-3 7-1 1 1 2 5 6 0 1 5 8-2 16 3 5 6-2 3 5-3 5-3 3-2 8-1 2-2 7 2 3 4 5 4 8-2 4-4 4-2 3-3-3 1-8-4-8 0-1-5-2-4 3 4 3 3 5 1 8-3 8 2 8-3 8-1 0 1 4 0 5 5 1 6 4 1 3-1 2-1 6-5 5-5-3-6 6-1 0 7 7 4 1 1 1 6 2 6 5 0 1 2 8-2 3-6 2-6-2 0 5 4 8-4 6-5-4-3 6 3 7 3 1-3 7-1 1 1 2 5 6 1 1-1 2-5-1-7 7 1 3 6 3 1 2-1 7-1 1 1 6 5-4 1-2 2-8 3-3 2 3 4 8 0 1-6 4-2 3-1 8-3 5-1 4-1 8 2 8 0 8 4 8 2 3 6 0 2-3-2-6-2-2 2-2 1 2 5 3 5 0 4 5-4 5-5 1-2 2 2 5 1 4-1 2-6 3-4-5-2-4-2 4 2 6 1 2-1 6-2 2-4 1-4 7 4 3 6-3 0-2 0 2 6 7 4-7 2-2 1 2 0 8-1 2-6-1-6 5-2 2 2 7 1 2 1 8-2 3-4 5-1 8-1 7 0 1-2 8 2 3 4 5-4 6-4-6-1-1-6 1 5 9-5 5-4-5-2-3-2 3-4 7zM409 1826l-4-6 4-5 3 5zM415 1830l-1-1 1-1 0 1zM420 1793l-3-5 3-5 4 5zM426 1768l-3-5 0-8 3-5 3 5 0 8zM432 1708l-2-2 2-2 1 2zM438 1731l-1 0 1-1zM449 1605l-3-5 3-5 2-3 4-5 3 5-3 5-3 3zM455 1801l-4-5 4-5 3 5zM461 1744l-4-5 4-5 3 5zM466 1425l-3-4 3-5 6-8 3 4-3 5-3 4zM472 1711l-3-5 3-5 3 5zM478 1548l-3-5 3-5 3 5zM489 1817l-3-5 3-4 4 4zM495 1719l-3-5 3-4 3 4zM501 1376l-3-4 3-5 3 5zM507 1212l-3-4 3-4 2 4zM553 1137l-3-2 3-2 1 2zM558 1237l-3-4 3-4 3 4zM639 1351l-3-4 3-4 3 4zM392 1333l-5-2 5-7 5 4 2-5 4-5 6-1 3 6-3 4-6 1-4 3-2 6zM409 1405l-1-1 1-1 0 1zM409 1557l-4-6 4-6 6 1 2-3-2-4-3-4-3-8 0-1-6-1-4-7 1-8 3-4 12 16 2 5 0 8 3 3 4 5-4 6-1 2-4 5zM403 1694l-5-4 5-4 2 4zM409 1669l-4-4 4-4 2 4zM415 1695l-4-5 4-5 3 5zM420 1682l0-1 1 1zM409 1809l-5-5 5-5 3 5zM415 1798l-2-2 2-2 1 2zM426 1735l-4-4 4-6 4 6zM432 1670l-4-5 4-5 3 5zM438 1703l-4-5 4-5 5 0 4 5-4 5zM449 1580l-3-4 3-5 3 5zM455 1670l-4-5 4-4 6 0 3 4-3 5zM489 1735l-3-4 3-5 4 5zM495 1613l-3-5 3-4 3 4zM501 1351l-3-4 3-4 3 4zM409 1312l-6-9-4-5 4-5 6 0 3 5 0 8zM415 1399l-3-3 3-3 1 3zM420 1499l-3-5 3-5 4 5zM415 1637l-4-4 0-8-2-4-6-3-5-10 5-6 3 6 3 4 2-4 1-8-3-3-4-5 4-5 4 5 2 2 3 6 2 5 6-2 3 5-3 5-5 3 3 9-4 5-2 3zM415 1772l-1 0 1-1zM432 1466l-3-5 3-4 3 4zM443 1531l-3-4-2-4-4-5 4-4 3 4 2 4 4 5zM449 1400l-3-4 3-4 3 4zM455 1637l-4-4 4-5 2-3 4-5 3 5-6 8zM489 1654l-3-5 3-5 4 5zM501 1245l-3-4 3-4 3 4zM415 1376l-4-4 4-5 3 5zM420 1422l-1-1-4-9 2-8 3-3 3 3 0 8-2 9zM420 1594l-2-2 2-2 1 2zM426 1523l-3-5 3-5 3 5zM432 1352l-3-5 3-4 3 4zM438 1433l-4-4 0-8 4-5 3 5 0 8zM443 1499l-3-5 3-5 4 5zM449 1278l-3-4 3-5 3 5zM461 1515l-4-5 4-4 3 4zM415 1242l-2-1 2-1 0 1zM420 1352l-3-5 0-8 3-5 3 5 0 8zM438 1278l-4-4 4-5 3 5zM443 1262l-3-5 0-8 3-4 3 4 0 8zM449 1237l-3-4 3-5 6 1 3 4-3 4zM461 1409l-4-5 4-4 3 4zM420 1278l-3-4 3-5 3 5zM461 1327l-3-4 3-5 3 5zM355 1812l2 5 2-5-2-2zM370 1812l4 6 6-6 6 5 0-5-6 0-6-4zM355 1796l2 3 3-3-3-3zM366 1796l3 4 4-4-4-6zM362 1788l1 1 1-1-1-1zM384 1788l2 7 1-7-1-7zM370 1780l4 6 3-6 1-8-4-6-5 0-4 6 4 4zM394 1772l3 8 4-8-4-2zM338 1763l2 3 2-3-2-3zM357 1747l6 4 3-4-3-3zM351 1739l0 3 2-3-2-2zM379 1739l1 3 0-3 5-8-5-8-6-3-2 3 2 6 1 2zM378 1714l2 8 3-8-3-7zM389 1714l3 5 1-5-1-2zM370 1706l10 0 2-8-2-4-5 4-1 6zM370 1674l4 4 6-4-6-7zM357 1665l0 1 1-1zM382 1665l4 8 5-8-5-7zM365 1657l4 6 3-6-3-5zM380 1649l4-8-4-3-1 3zM371 1633l3 3 4-3 2-5 3-3 1-9-4-3-3 3 0 9-3 2zM412 1616l3 3 4-3-4-2zM383 1592l3 1 3-1-2-8-1-1 0 1zM379 1567l1 1 6 0 6 5 2-6-2-5-6 3-6 2zM385 1510l1 1 0-2zM377 1486l3 3 3-3-4-8-5-7-5 1-3 6 3 5 5-1zM384 1470l2 1 0-3zM374 1461l0 1 1-1zM395 1453l2 3 3-3-3-3zM375 1429l5 3 6-3-6-2zM389 1421l3 2 1-2-1-6zM378 1363l2 8 5-8-5-5zM385 1347l1 3 0-3zM374 1339l0 1 6 0 1-1-1-1-6-7 0-1-1 1zM384 1282l2 5 6-2 0-3 4-8-3-9 2-8-9-6-3 6 3 3 4 5 0 9-4 4zM110 1274l0 2 2-2-2-3zM124 1265l3 4 3-4 2-8 1 0 6 4 4-4 1-2 2 2 4 6 4-6 0-8 2-2 6 0 1 2 4 5 6 1 6-9 11 0 6 6 3-3 1-8 2-2 6 6 3-4 2-2 6-1 4-5 2-2 6 0 1 2-1 2-4 6 4 6 5 0 2 2 4 5 3-5 3-4 4-4-2-8 4-4 4 4 1 3 3 5 2 8 1 2 1-2 1-8-2-5-3-3 2-8 1-2 2 2 4 3 11 0 6-3 6 1 2-1 2-8 2-2 1 2 4 4 5 4 1 0 6 4 6-8 2-4 3-7 6-4 6 0 6-9 5 3 6-8 6-4 4 4-1 8 3 2 1-2-1-8 2-8-2-3-4-5 4-5 4 5 1 2 5 6 1 2 1-2 5-8 6-1 5-7 6 5 4-5 2-2 5-7 1-2 5 1 2 1 2 9 2 2 6 0 6-2 1 0 1-9 4-8 5-3 6 1 6-1 4 3 1 2 1-2-1-7 0-1 6 0 6-4 6-2 5 3 2-5 4-5 6 2 6-4 0-1 5-4 6 0 6-3 1-1 5-6 4 6 1 1 2-1 1-9 3-2 6-1 4 3 2 1 5 1 3-2-3-3-3-5 3-3 6-4 1-1 5-2 6-3 5-5 6 2 4-8 8-4 5-1 6-1 2-2 4-5 3-4 3-2 2 2 3 4 2-4 4-7 4-1 2 0 6-5 3-3 2-4 6 4 2-8 4-5 3 5 3 4 2-4 3-5 6-2 0-1-569 0 0 210 1 2 1 8 4 5 2 3 3 4zM167 1243l-1-2 1-2 2 2zM242 1236l-2-3 1-8 1-2 1 2 2 8zM259 1219l-1-2 1-2 2 2zM271 1211l-2-3 2-2 6 0 1 2-1 2zM317 1219l-2-2 2-3 2 3zM328 1205l-1-5 1-2 2 2zM121 1252l-2-3 1-8 1-2 2 2 0 8zM199 1257l3 4 3-4-3-5zM377 1241l3 6 2-6 0-8-2-3-2 3zM339 1225l1 0 0-1zM348 1208l3 2 2-2-2-7zM391 1184l1 1 0-5zM437 1184l1 1 0-2zM448 1159l1 1 1-1-1 0zM482 1151l2 4 1-4-1-2zM494 1151l1 1 1-1-1-3zM511 1135l1 1 1-1-1-1zM534 1135l1 6 3-6-3-1zM569 1110l1 3 0-3zM580 1094l1 2 1-2-1-3z"/>
<path fill="#38b977" d="M350 1829l1 1 1-1 1-9-2-1-1 1zM377 1837l24 0 2-3 2 3 31 0-2-8 4-6 3 6-2 8 41 0 4-6 3 6 192 0 0-792-2 8-4 5-5 1-2 2-4 2-6 4-4 3-2 3-5-5-4 2 4 3 2 5-2 2-6 1-6 2-1 3-5 3-5 4-6-3-1 4-4 8-1 1-2-1-4-6-5 4-2 2-4 5-6 1-2 2-4 9-5-3-3 3-1 8-2 3-6 1-6 2-1 2-4 5-6-3-2 6-4 6-6-1-5 5-6-1-6 7-2 0-3 9-1 1-5-5-2 4-4 6-6-6-6-3-1 3 1 4 2 4-2 4-5-1-2 5-4 4-4-4-2-1-6 0-1 1-4 5-6 3-3 0-3 1-6 6-5 0-2 1-4 6-1 2-5 4-6 4-1 1-4 6-6 2 3 8 3 5 1 3-1 2-5-2-1-1-6-4-2 5 2 2 4 6-4 5-4 3 2 8 2 4 4 5-3 8-1 1-6 7-1 0-2 8-2 2-2 6 2 4 5 3 2 1 4 3 6 0 3 6-3 5-6 0-3 3-2 8-1 0-2 8 2 6 2 2 2 8 6 9 1 8 0 8-1 8 2 3 1-3 5-5 1 5 8 8 0 8-2 9-2 2-2-2-3-7-2-2 2-3 1-5-1-3-6 6-4-3-2-2-3-6-3-4-3 12 3 4 2 4 3 9 0 8-1 8 2 4 6-2 4 6 2 6 1 2-1 2-1-2-5-3-2 3-2 8-2 3-2 6 2 2 6 9 3 5-3 5-3 3-3 5-4-5 1-8-3-6-1 6 1 8-3 8 2 8-3 8 2 9 2 0 6 2 2 6-2 5-1 3-5 6-5-2-5 4 5 6 5 0 2 2 4 2 6 4 1 2 2 9-3 5-5 3 5 2 5 6 1 1 1-1 4-3 2 3-2 3-2 5 2 4 6-1 4 5-4 6-4 2 2 9-4 5-1 3-4 5-5-5 1-8-2-3-6-2-2-4-4-6-4 6 6 9-1 8-1 1 0-1-5-6-5 6 5 5 2 3 0 8 3 1 1-1 2-8 3-4 3 4 4 8-1 2-6 4-2 2 1 8-5 6-1 3 0 8 1 6 6-3 3 5-3 5-5 3 5 10 6 0 1-2-1-4-3-4 3-3 2-5 4-6 4-2 1-3 2 3-2 2-2 6-3 6-4 2 4 2 5 0 4 6-4 6-5 1-1 1 3 9-2 4-6 1-4 3-1 8 1 8 4 5 2-5 4-3 2 3 0 8-2 3-6 0-6 3-1 2 1 5 2 4 1 8-6 8 0 16-3 2-1 6 1 2 5-2 1-3 1-5 5-6 3-2 3-3 1-5 4-6 4 6-4 6-3 2-2 3-2 5-4 6-5 2 5 3 4 5 2 6 2 3-2 2-2-2-4-3-4-6-2-6-2 6-4 6-5 3-6 7-5-7-1-2-1 2zM426 1769l-4-6 0-8 4-5 4 5 0 8zM432 1709l-3-3 3-3 1-5 5-5 5 0 4 5-4 5-5 0-4 3zM438 1733l-2-2 2-2 1 2zM449 1606l-4-6 4-5 2-3 4-5 4 5-4 5-2 3zM455 1801l-4-5 4-5 4 5zM461 1744l-4-5 4-6 3 6zM466 1426l-3-5 3-5 2-4 4-5 4 5-4 5-2 4zM472 1712l-4-6 4-5 4 5zM478 1548l-4-5 4-5 3 5zM489 1818l-4-6 4-5 4 5zM495 1720l-4-6 4-5 4 5zM501 1376l-4-4 4-5 3 5zM507 1213l-4-5 4-4 3 4zM558 1237l-3-4 3-5 3 5zM639 1352l-3-5 3-4 3 4zM409 1312l-4-6-2-2-4-6 4-5 6 0 4 5-1 8zM415 1377l-5-5 5-6 3 6zM420 1352l-3-5 0-8 3-5 4 5 0 8zM409 1558l-4-7 4-7 6 1 1-2-1-3-4-5-2-7-2-1-4-1-4-8 0-8 4-5 4-3 2-3 1 3-4 8 3 3 4 5 2 3 3 6 0 8 2 2 4 6-4 7-1 1-4 6zM426 1524l-4-6 4-5 4 5zM409 1670l-5-5 5-5 3 5zM415 1776l-2-4 2-2 1 2zM426 1736l-4-5 4-6 4 6zM432 1671l-4-6 4-5 4 5zM443 1532l-4-5-1-3-4-6 4-5 3 5 6 9zM449 1581l-4-5 4-6 4 6zM455 1671l-4-6 4-5 6 0 3 5-3 6zM489 1736l-4-5 4-6 4 6zM495 1614l-4-6 4-5 4 5zM501 1352l-4-5 4-5 3 5zM420 1279l-3-5 3-5 4 5zM420 1499l-4-5 4-5 4 5zM432 1536l-1-1 1-1 1 1zM438 1434l-4-5 0-8 4-6 3 6 0 8zM443 1499l-3-5 3-5 4 5zM449 1401l-4-5 4-5 4 5zM455 1638l-4-5 4-6 2-2 4-6 3 6-3 5-2 3zM489 1654l-4-5 4-5 4 5zM501 1246l-4-5 4-5 3 5zM432 1467l-4-6 4-5 3 5zM438 1279l-4-5 4-5 3 5zM443 1262l-3-5 0-8 3-5 4 5 0 8zM449 1279l-3-5 3-5 3 5zM461 1516l-4-6 4-5 3 5zM432 1352l-4-5 4-5 3 5zM449 1238l-3-5 3-5 6 0 3 5-3 5zM461 1409l-4-5 4-5 3 5zM461 1328l-4-5 4-5 3 5zM390 1820l2 8 0-8zM356 1812l1 3 1-3-1-1zM371 1812l3 5 4-5-4-3zM356 1796l1 2 2-2-2-3zM366 1796l3 3 3-3-3-4zM371 1780l3 5 3-5 0-8-3-3-5-1-3 4 3 3zM396 1772l1 3 2-3-2-1zM339 1763l1 2 2-2-2-2zM359 1747l4 3 2-3-2-3zM395 1747l2 2 4-2-4-5zM351 1739l0 1 1-1-1-1zM377 1731l3 6 3-6-3-6-6-4-1 2 1 3zM401 1723l2 4 1-4-1-3zM379 1714l1 5 2-5-2-5zM391 1714l1 2 0-2zM377 1698l3 5 1-5-1-3zM372 1674l2 2 4-2-4-4zM382 1665l4 6 4-6-4-5zM366 1657l3 4 2-4-2-3zM380 1641l0 3 2-3-2-1zM371 1633l3 3 3-3-3-5zM378 1625l2 2 2-2 1-9-3-2-2 2zM413 1616l2 2 3-2-3-2zM407 1608l2 3 1-3 1-8-2-2-5-6-1-7-2 7-4 7-5-3-2 4 2 5 5 1 6-5zM387 1567l5 2 0-3zM378 1486l2 2 2-2-2-5zM366 1478l3 4 5-1 4-3-4-6-5 1zM389 1478l3 2 4-2-4-2zM395 1453l2 3 2-3-2-2zM377 1429l3 2 3-2-3-1zM390 1421l2 1 1-1-1-4zM384 1396l2 2 2-2-2-6zM387 1388l5 3 3-3-3-4zM379 1363l1 6 3-6-3-3zM387 1363l5 6 2-6 2-8-4-2-5 2zM389 1339l3 2 5-2-5-5zM393 1323l4 3 2-3-2-6zM384 1282l2 3 5-3-5-3zM110 1274l0 1 1-1-1-2zM391 1274l1 6 1-6 0-9 1-8-2-1-6-4-2 5 2 3 5 5zM124 1265l3 3 2-3 2-8 2-1 1 1 5 3 3-3 2-3 3 3 3 5 3-5 0-8 3-3 6 0 1 3 4 5 6 1 4-6 2-4 11 0 4 4 2 3 2-3 1-8 3-3 2 3 4 3 3-3 2-3 6-1 3-4 3-3 6 0 2 3-2 3-3 5 3 5 5 0 3 3 3 4 2-4 4-5 3-3-2-8 5-5 4 5 1 2 2-2 2-8 2-3 3 3 3 2 11 0 5-2 1-2 5 2 1 0 3-8 3-3 2 3 3 3 6 4 0 1 6 4 3-4 3-5 2-3 3-8 2-1-2-2-2-6 2-3 2 3 4 5 6 0 3-5 3-4 5 2 4-6 2-2 6-3 5 5-1 8 2 2 1-2-1-8 1-8-1-2-4-6 4-5 5 5 0 1 4-1 2-2 6-1 6 0 4-5 1-1 6 3 3-2 3-4 6-10 5 3 4 2 1 9 1 0 6 1 4-1 2-6 0-3 4-8 1-1 6-3 12 0 3-4 2-2 6-3 6 0 6-3 5 0 6-7 6-1 2 0 4-1 5-5 12-4 6-6 4-1 1 0 6-4 6-1 5-3 1 0 5-5 5-3 1-2 6-1 6-4 1-1 4-3 6-2 1-3 5-3 6-6 0 1 5 2 6-1 1-1 5-7 6-6 4 4 1 2 1-2 1-8 4-1 12-6 1-1 4-8 4 0 2 1 0-1 6-7 4 7 2 2 1-2 4-7 5-1-568 0 0 209 2 3 0 8 4 4 3-4 0-8 2-3 2 3 1 8-3 5-2 3 2 3zM167 1244l-2-3 2-3 3 3zM242 1237l-3-4 1-8 2-3 2 3 2 8zM259 1220l-2-3 2-3 2 3zM271 1212l-2-4 2-2 6 0 2 2-2 3zM317 1219l-2-2 2-4 2 4zM403 1161l0-2 1 0zM432 1161l-2-2 2-4 3 4zM199 1257l3 4 2-4-2-4zM265 1249l0 1 0-1 1-8-1-3-2 3zM378 1241l2 5 2-5-1-8-1-2-1 2zM349 1208l2 2 2-2-2-5zM408 1208l1 3 0-3zM483 1151l1 1 0-1zM551 1127l2 1 1-1-1-1zM535 1119l1 0-1-5zM556 1110l2 1 1-1-1 0z"/>
<path fill="#50c46a" d="M351 1829l1 0 0-9-1 0zM380 1829l0 7 0-8zM382 1837l7 0-3 0zM392 1837l8 0 3-6 3 6 29 0-2-8 5-6 4 6-2 8 39 0 5-6 4 6 191 0 0-788-1 4-5 6-4 2-1 2-6 3-6 2-2 2-4 5-1 3-4 4-6 0-5 4-1 2-6 4-2 2-3 1-6 1-3 6-3 3-5-3-1 0-5-1-1 1 1 6 0 4-1-2-5-1-6 0-1 1 1 6 1 3-1 0-6 8-3-8-2-2-2 2 0 8-4 6-6 0-4 2-2 2-5 6-2 0-4-3-1 3-5 8-6 0-5 4-6 1-6 6-3 6-3 2-5-5-1 3-5 6-6 0-5 10-1 1-5 0-6 5-6-6-6 0-5 7-4 1-2 5-6-1-6 4-5 2-5 6-1 1-6 5-5 3-1 1-3 7-2 1-2 7 4 8-2 3-6-1-2 6-4 6-3 2 1 8 6 9-2 8-2 3-5 5 5 2 6 0 4 6 0 8-4 7-5-7-1-1-5-7-1-6-2 6-3 4-2 4 2 3 5 2 3 3 3 2 6 0 4 7-4 5-6 1-2 2-2 8-2 3-1 5 1 4 3 4 1 8 2 2 5 7 1 7 1-7 5-7 4 7-4 6-6 2 0 1-1 7 1 7 6-6 2 7 8 8-1 8-1 9-3 4-3-4-2-6-4-3-2-3-6-4-3 7 3 8 6-2 1 3-1 3-6-1 0 6-1 8 1 3 6-2 5 7 1 4 2 4-2 4-3-4-3-2-2 2-1 8-3 5-1 4 1 1 5 7 1 2 4 6-4 6-2 2 2 3 3 5-3 4-2 4 2 2 5 6 1 2 4 7 0 8 1 2 5 6-5 8-5 6-6 2-5-8 3-8-4 0-6 7-5-2-4 3 4 4 5-1 4 5 2 1 6 2 2 5 1 9-3 6-3 2 3 1 6 5 5-3 3 5-3 5-1 3 1 2 6 0 4 6-4 7-3 1 2 9-5 6-1 2-4 6-5-6 0-8-1-2-6-2-3 4-1 8 4 3 4 5 2 4 3 4-3 4-6 2-1 2 1 8-6 8 0 12 6-1 4 6 2 4 1-4 5-6 3-2 2-5 3 5-3 3-1 5-4 7-2 1 2 1 5 1 5 6-5 6-5 2-1 0 1 1 3 8-3 5-6 1-3 2-1 8 2 8 2 3 1-3 5-5 3 5 0 8-3 5-6 0-6 2-1 1 1 3 3 6 1 8-4 6-2 2 0 8 2 8 6-7 2-1 4-4 1-4 4-7 5 7-5 6-2 2-3 5-2 3-4 7-3 1 3 2 4 6 2 5 3 4-3 3-4-3-2-2-5-7-1-5-1 5-5 7-4 2zM426 1770l-4-7 0-8 4-6 4 6 0 8zM432 1711l-4-5 4-5 1-3 5-6 5 0 5 6-5 6-5 0-3 2zM438 1735l-4-4 4-4 2 4zM449 1606l-4-6 4-6 1-2 5-6 4 6-4 6-2 2zM455 1802l-5-6 5-6 4 6zM461 1745l-5-6 5-6 4 6zM466 1426l-4-5 6-9 4-5 4 5-6 9zM472 1712l-4-6 4-6 4 6zM478 1549l-4-6 4-6 4 6zM489 1818l-4-6 4-6 5 6zM495 1720l-4-6 4-6 4 6zM501 1377l-4-5 4-6 4 6zM507 1214l-4-6 4-5 3 5zM558 1238l-3-5 3-5 4 5zM639 1352l-4-5 4-5 3 5zM420 1353l-4-6 0-8 4-6 4 6 0 8zM420 1500l-4-6 4-6 5 6zM426 1525l-4-7 4-6 4 6zM409 1671l-6-6 6-6 4 6zM415 1779l-4-7 4-4 2 4zM426 1737l-5-6 5-7 5 7zM432 1672l-5-7 5-6 4 6zM443 1533l-4-6-1-2-5-7 5-6 4 6 1 3 5 6zM449 1582l-4-6 4-6 4 6zM455 1672l-5-7 5-6 6 0 4 6-4 6zM489 1737l-4-6 4-6 5 6zM495 1614l-4-6 4-6 4 6zM501 1353l-4-6 4-5 4 5zM420 1279l-4-5 4-6 4 6zM432 1539l-2-4 2-3 2 3zM438 1435l-5-6 0-8 5-6 4 6 0 8zM443 1500l-4-6 4-6 4 6zM449 1402l-4-6 4-6 4 6zM455 1639l-5-6 5-6 1-2 5-6 4 6-4 6-2 2zM489 1655l-4-6 4-6 5 6zM501 1246l-4-5 4-5 3 5zM432 1468l-4-7 4-6 4 6zM438 1279l-4-5 4-6 3 6zM443 1263l-4-6 0-8 4-5 4 5 0 8zM449 1279l-4-5 4-6 4 6zM461 1516l-5-6 5-6 4 6zM432 1353l-4-6 4-6 4 6zM449 1238l-4-5 4-6 6 0 4 6-4 5zM461 1410l-5-6 5-5 4 5zM461 1328l-4-5 4-6 3 6zM356 1812l1 2 1-2-1-1zM372 1812l2 3 3-3-3-1zM396 1812l1 1 3-1-3-3zM356 1796l1 2 2-2-2-2zM367 1796l2 2 2-2-2-3zM372 1780l2 3 2-3-1-8-1-1-5-2-2 3 2 2zM339 1763l1 2 1-2-1-1zM360 1747l3 2 1-2-1-2zM396 1747l1 1 2-1-2-3zM378 1731l2 4 2-4-2-3zM374 1723l0 1 1-1-1-1zM402 1723l1 3 1-3-1-2zM379 1714l1 3 1-3-1-2zM403 1706l0 1 6 0 1-1-1-2-4-6-2-2-3 2zM379 1698l1 2 0-3zM374 1674l1 0-1-1zM383 1665l3 5 3-5-3-4zM367 1657l2 2 1-2-1-1zM395 1641l2 7 2-7-2-5zM372 1633l2 2 2-2-2-4zM388 1633l4 3 3-3-3-4zM379 1625l1 1 1-1 0-9-1-1-1 1zM394 1616l3 4 3-4-3-4zM414 1616l1 2 2-2-2-1zM408 1608l1 2 1-2 0-8-1-2-5-6-1-5-1 5-5 7-5-1-1 2 1 3 5-1 6-2zM409 1543l6 1 1-1-1-2zM406 1535l3 8 1-8-1-5zM395 1518l2 8 1-8 0-8 5-7 2-1-2-2-6-5-2 7 1 8zM379 1486l1 1 1-1-1-3zM396 1486l1 7 2-7-2-3zM367 1478l2 3 5-1 3-2-3-4-5 0zM390 1478l2 1 2-1-2-1zM396 1453l1 2 1-2-1-1zM379 1429l2 0-1-1zM391 1421l1 0 0-2zM414 1404l1 1 0-1zM385 1396l1 1 1-1-1-3zM397 1396l0 6 1-6-1-2zM389 1388l3 2 1-2-1-2zM379 1363l1 3 1-3-1-1zM388 1363l4 5 1-5 2-8-3-2-4 2zM390 1339l2 1 3-1-3-3zM394 1323l3 2 1-2-1-4zM385 1282l1 2 3-2-3-2zM125 1265l2 3 2-3 2-8 2-2 2 2 4 3 2-3 3-3 4 3 2 4 2-4 1-8 3-4 6 0 2 4 3 4 6 1 6-10 6 0 5 1 5 4 1 2 1-2 1-8 4-4 3 4 3 3 2-3 3-4 6-1 3-3 3-4 6 0 2 4-2 4-3 4 3 4 5 0 6 8 2-4 4-5 3-3-2-8 5-5 5 5 0 1 1-1 2-8 3-4 4 4 2 1 6 1 5-1 3-1 3-4 6 3 3-7 3-4 3 4 2 2 6 4 1 2 5 3 2-3-2-5-3-3 3-5 3 5 3 2 1-2 4-9-2-8 2-3 3 3 3 4 6 0 2-4 4-5 5 1 6-8 6-2 6 3 1-5-1-1-5-7 5-6 5 4 6-4 12 0 5-5 5 3 2 0-1-2-2-7 2-2 3 2 3 4 6-12 5 5 6 3 0 3 1-3 1-8 4-1 1 1 5 6 2-6 3-3 6-3 12 0 2-2 3-5 5-3 1-1 2 1 4 1 3-1 3-2 5-3 4-3 2-1 6-2 6 0 5-4 3-1 3-4 6-3 3-2 3 0 5-2 6-5 6 0 0-1 5-8 1 0 5 2 2-2 4-5 6 0 5-3 1-1 5-3 5-4 1-1 6-4 6-6 3 3 8 0 6-8 0-1 6-5 4-3 1-1 6-2 6-4 2-1 4-1 3-7 2-2 6 0 5-6-551 0 0 208 2 4 1 8 3 3 2-3 1-8 2-4 3 4 1 8-4 6-1 2 1 2zM167 1245l-2-4 2-4 4 4zM242 1238l-3-5 0-8 3-4 3 4 1 8zM259 1220l-2-3 2-4 3 4zM271 1212l-3-4 3-3 6 0 2 3-2 4zM391 1265l1 6 0-14-6-3-2 3 2 2zM200 1257l2 3 2-3-2-3zM264 1241l1 7 1-7-1-2zM378 1241l2 3 1-3 0-8-1-1 0 1zM402 1241l1 2 4-2-4-4zM350 1208l1 1 1-1-1-3zM368 1200l1 1 0-6zM429 1168l4 0-1-3zM489 1168l1 0-1-1zM644 1070l1 0 0-1zM667 1037l1 0 5-8-11 0z"/>
<path fill="#6ccd5a" d="M395 1837l3 0 5-8 4 8 27 0-1-8 5-7 4 7-1 8 38 0 5-7 4 7 191 0 0-784-6 7-1 1-4 5-6 4-1 0-5-1-1 1-5 8-5 5-6 1-3 2-3 4-5 4-1 1-5 2-6 2-2 3-4 5-6 0-2 3-3 6-4-6-7 0 4 9-5 2-4 6-2 2-5-2-6 8 0 1-2-1-4-1-2 1-4 6-2 2-3 2-6 5 0 1-12 4-5 2-6 2 0 6-6 1-1 2-5 4-4-4-1-2-1 2-5 7-4 1-2 2-6 9-5 1-6 4-1 0-5-5-10 5-1 1-4 7-2 2-6-3-1 1-5 4-5 1-3 3-3 4-6 3-3 2-1 8-2 1-5 3-2 4 2 2 3 6-3 5-6-1-1 4-5 7-2 1 1 8 1 2 5 7-2 8-3 5-3 3 3 1 6 0 4 7 0 8-4 8-5-8-1 0-5-8-1-2-1 2-4 5-1 3 1 2 5 2 5 4 1 1 6 0 4 8-4 6-6 1-1 1-2 8-3 5-1 3 1 3 4 5 1 8 1 2 5 7 1 3 0-3 6-7 4 7-4 6-4 2-2 7 0 2 2-1 4-1 0 1 3 8 2 2 5 6 0 8-1 9-4 5-3-5-2-4-4 4-1 8-1 5-6-3-1 6 1 2 6-2 5 8 4 8-3 7-4-7-2-1-1 1-1 8-4 6-1 3 1 1 5 7 1 1 5 7-5 8-1 0 1 1 4 7-4 6-1 2 1 1 5 7 1 1 4 8 0 8 1 1 5 7 0 8-5 3-5 4-6 1 3 8 1 9-4 7-1 1 1 0 6 2 5 0 4 6-4 6-1 2 1 1 6 0 5 7-5 7-2 1 1 9-5 7 0 1-5 7-6-7 1-8-1-2-6 0-1 2-2 8 3 2 5 6 1 2 4 6-4 6-6 1-1 1 1 5 6-4 4 7-4 7-6-3-3 5-3 6 0 2 6 1 4 7 2 3 1-3 5-7 2-1 3-7 4 7-4 5-1 3-4 7-1 1 1 1 5 0 5 7-5 7-4 1 3 9-4 7-6 0-2 1 0 8 2 8 6-6 4 6 0 8-4 6-6 0-6 2 0 2 5 7 0 8-5 7-1 1 1 8 0 2 6-1 1-1 5-6 0-7-3-3-2-8 5-5 3 5-1 8 3 0 5 8-5 7-1 1-4 6-1 2-5 8-2 0 2 1 5 7 1 3 4 6-4 5-6-6-5-8-1-3-1 3-5 8-2 1zM426 1770l-5-7 0-8 5-7 5 7 0 8zM432 1712l-5-6 5-6 0-2 6-7 5 0 5 7-5 7-5 0-2 1zM438 1736l-5-5 5-5 3 5zM449 1607l-5-7 5-7 1-1 5-7 5 7-5 7-1 1zM455 1803l-5-7 5-7 5 7zM461 1746l-5-7 5-7 4 7zM466 1427l-4-6 4-7 2-2 4-6 4 6-4 7-1 2zM472 1713l-5-7 5-7 5 7zM478 1550l-5-7 5-7 4 7zM489 1819l-4-7 4-6 5 6zM495 1721l-5-7 5-6 5 6zM501 1378l-5-6 5-6 4 6zM507 1214l-5-6 5-5 4 5zM558 1239l-4-6 4-6 4 6zM639 1353l-4-6 4-6 4 6zM409 1356l-1-1 1-1 1 1zM420 1354l-4-7 0-8 4-7 5 7 0 8zM420 1501l-5-7 5-7 5 7zM426 1525l-5-7 5-7 5 7zM426 1737l-5-6 5-8 5 8zM432 1672l-5-7 5-7 5 7zM443 1534l-5-7 0-2-5-7 5-6 4 6 1 2 5 7zM449 1583l-5-7 5-7 5 7zM455 1672l-5-7 5-6 6 0 4 6-4 7zM489 1737l-4-6 4-7 5 7zM495 1615l-5-7 5-6 5 6zM501 1353l-4-6 4-6 4 6zM420 1280l-4-6 4-7 5 7zM432 1541l-4-6 4-5 3 5zM438 1435l-5-6 0-8 5-7 4 7 0 8zM443 1501l-4-7 4-7 5 7zM449 1402l-5-6 5-6 4 6zM455 1640l-5-7 5-7 1-1 5-7 4 7-4 6-1 2zM489 1656l-4-7 4-7 5 7zM501 1247l-4-6 4-6 4 6zM432 1468l-5-7 5-6 4 6zM438 1280l-5-6 5-6 4 6zM443 1263l-4-6 0-8 4-6 4 6 0 8zM449 1280l-4-6 4-6 4 6zM461 1517l-5-7 5-6 4 6zM432 1354l-5-7 5-6 4 6zM449 1239l-4-6 4-6 6 0 4 6-4 6zM461 1411l-5-7 5-6 4 6zM461 1329l-5-6 5-6 4 6zM374 1812l0 1 1-1zM397 1812l0 1 1-1zM356 1796l1 1 1-1-1-1zM368 1796l1 1 1-1-1-1zM373 1780l1 2 1-2-1-6zM368 1772l3 0-2-1zM362 1747l1 1 0-2zM397 1747l1 0-1-1zM380 1731l0 1 0-2zM403 1723l0 1 0-2zM405 1706l4 1 0-1zM401 1698l2 7 1-7-1-1zM384 1665l2 3 2-3-2-2zM396 1641l1 3 1-3-1-2zM373 1633l1 1 2-1-2-2zM389 1633l3 2 2-2-2-3zM396 1616l1 2 1-2-1-2zM414 1616l1 1 0-1zM408 1608l1 1 0-1 1-8-1-1-4 1zM391 1600l1 1 2-1-2-1zM403 1592l0 3 0-5zM403 1559l3 0-2-8-1-5-6 5zM390 1551l2 2 5-2-5-2zM412 1543l3 1 0-2zM407 1535l2 4 1-4-1-3zM396 1518l1 3 1-3 0-8 5-8-6-5-1 5 1 8zM379 1486l1 1 1-1-1-2zM397 1486l0 1 0-2zM367 1478l2 2 5-1 2-1-2-3-5 0zM397 1453l0 1 1-1-1-1zM391 1421l1 0 0-1zM402 1412l1 4 6-2 0-2-6-3zM391 1388l1 0 0-1zM389 1363l3 3 1-3 0-8-1-1-3 1zM391 1339l2 0-1-1zM396 1323l1 1 1-1-1-2zM386 1282l1 0-1-1zM125 1265l2 2 1-2 2-8 3-4 3 4 3 2 2-2 3-4 4 4 2 3 2-3 0-8 4-4 6 0 2-4 3-4 4 4-4 4-2 4 2 3 6 1 3-4 3-6 6 1 5 0 6 6 1-1 1-8 4-5 4 5 2 2 1-2 4-5 6-1 6-6 6 0 3 4-3 5-2 3 2 3 5 0 4 5 2 3 1-3 5-6 2-2-2-8 6-6 5 5 3-7-6-8 3-5 3 5 8 8 1 0 6 1 5-1 2 0 4-5 6 2 2-5 4-5 3 5 2 2 6 3 2 3 4 2 2-2-2-4-3-4 3-5 4 5 2 1 1-1 3-9-2-8 3-4 4 4 2 4 6-1 6-9 5 0 2-2 4-6 6-1 6 0 0-1-6-8 6-7 5-1 6-2 5 2 7 0 5-4 3-5 3-4 5 4 1 2 1-2 3-8 2-2 1 2 4 3 5-3 1-2 6-2 5 4 1 1 0-1 5-6 6-1 5-1 2 0 5 1 0-5-1-4 1-1 2 1 3 1 1-1 5-4 6 2 6-3 4-3 1-1 12-6 6 2 5-3 0-1 6-7 0-1 6-1 6-2 5-1 5-4 1-1 6-1 6-9 5 1 6-5 6 1 2-2 3-8 1-1 0 1 5 3 4-3 2-4 6-2 2-2 4-5 5-4 6-1 6 0 7-7 4-3 6-1 6-6 6-2 2-4 3-4 6 0 4-4-550 0 0 208 3 4 1 8 2 2 1-2 1-8 3-4 3 4 1 8-4 7 0 2zM242 1239l-4-6 1-8 3-5 3 5 2 8zM271 1213l-3-5 3-4 6 0 3 4-3 5zM200 1257l2 2 1-2-1-2zM385 1257l1 1 4-1-4-2zM265 1241l0 2 0-3zM379 1241l1 2 1-2-1-7zM402 1241l1 1 3-1-3-2zM368 1200l1 0 0-1zM665 1029l3 4 2-4-2 0z"/>
<path fill="#8bd646" d="M397 1829l0 5 1-5-1-1zM408 1837l24 0 0-8 6-8 5 8-1 8 36 0 6-8 5 8 190 0 0-781-5 5-1 2-5 6-6 3-6 1-3 5-3 2-5 4-6 1-1 1-5 7-2 1-4 5-5 0-6 3 0 1-6 6-4 1-2 1-5 8 0 1-6 1-6 3-2 3-4 4-5-1-4 5-2 3-6 1-3 4-3 1-5 3-5 4-1 3-6 1-6 4 0 1-5 0-4 8-2 2-6-1-6 5-5-6-6 8-6 4-2 4-4 5-5 3-1 0-5 3-5-3-1-1-2 1-4 4-5 4 0 1-6 6-2 1-4 4-6-4-6 0-5 7-6 1 0 1-1 8-5 5-5 2-1 1 1 0 4 8-4 6-6 0-1 2-5 7-1 1 0 8 1 2 5 7-1 8-4 6-2 2 2 1 6 0 5 7 0 8-4 8 4 9-5 7-6 1-1 8-5 7 0 2 5 7 1 8 0 1 6 7 6-7 5 8 0 6 1 2-1 2-1-2-4-1-2 1 2 3 3 5 1 8 1 1 6 7-1 8 0 9-5 7-5 1 0 1-3 7 3 6 0 2 4 8-3 8-1 4-2-4-3-8-2 0 0 8-5 8 0 1 6 8 5 8-3 8 4 7 0-7 5-7 6 7-6 7-5 1 0 2-6 5-1 1 1 1 6 3 1 4 4 9 0 8 6 8 0 2 4-2-3-8 5-7 4 7-3 8-1 1-3 7-3 4-6 3-5 1-3 0 1 8 1 9 1 5 3 3 2 1 5 7-5 8 6 1 5 7-5 8-1 0 0 9-5 7 0 1-5 7-6-7 0-9-5 1-1 1-1 7 1 1 5 7 1 1 6 7 0 1 2 7-2 2-1 6-5 8-6 1 0 8 5 8 1 1 0-1 6-8 5-8 0-1 1 1 5 8-6 7 0 9 1 0 5 8-6 8-2 0 2 9 0 2 3-2 3-4 1 4 5 8 6-7 4 7-4 7-6-7-6 7-6-1-5-2-5-4-1 0-1 8 1 3 6-3 5 8 0 8-5 7-6 1-2 0 2 5 6-3 4 7 1 7 1 1 5 8-6 8-5 8-1 0 1 1 3 7-3 5-1 3 1 2 5 6 1 1-6 6-6-6-1 0zM426 1771l-5-8-1-8 6-7 5 7 0 8zM449 1608l-5-8 5-7 1-1 5-8 5 8-5 7-1 1zM455 1803l-6-7 6-7 5 7zM461 1746l-6-7 6-8 5 8zM466 1428l-5-7 5-7 1-2 5-7 5 7-5 7-1 2zM472 1714l-5-8 5-7 5 7zM478 1550l-5-7 5-7 5 7zM489 1820l-5-8 5-7 5 7zM495 1722l-5-8 5-7 5 7zM501 1378l-5-6 5-7 4 7zM507 1215l-5-7 5-6 4 6zM558 1239l-4-6 4-6 5 6zM639 1353l-5-6 5-6 4 6zM409 1359l-4-4 4-4 4 4zM420 1354l-5-7 0-8 5-7 5 7 0 8zM426 1526l-5-8 5-8 5 8zM432 1469l-5-8 5-7 5 7zM432 1714l-6-8 12-16 5 1 6 7-6 8-6 0zM449 1583l-5-7 5-8 5 8zM455 1673l-5-8 5-7 6 0 5 7-5 8zM489 1738l-5-7 5-8 5 8zM495 1616l-5-8 5-7 5 7zM501 1354l-5-7 5-7 4 7zM409 1340l-2-1 2-1 1 1zM420 1281l-5-7 5-7 5 7zM432 1354l-5-7 5-7 5 7zM432 1673l-5-8 5-7 5 7zM443 1534l-5-7 0-1-6-8 6-7 5 7 0 1 5 8zM449 1403l-5-7 5-7 5 7zM455 1640l-5-7 5-8 6-8 5 8-5 7-1 1zM489 1657l-5-8 5-7 5 7zM501 1247l-5-6 5-6 4 6zM438 1436l-6-7 0-8 6-8 5 8 0 8zM443 1501l-5-7 5-7 5 7zM449 1280l-5-6 5-7 5 7zM461 1518l-6-8 6-7 5 7zM438 1280l-5-6 5-7 4 7zM443 1264l-4-7 0-8 4-7 5 7 0 8zM449 1239l-5-6 5-7 6 0 4 7-4 6zM461 1411l-5-7 5-7 4 7zM461 1329l-5-6 5-7 4 7zM403 1820l0 5 0-6zM412 1788l3 1 0-3zM374 1780l1 0-1-2zM409 1780l0 1 0-7zM385 1665l1 2 1-2-1-1zM403 1657l0 2 6-1 2-1-2 0zM374 1633l1 0-1-1zM391 1633l1 1 0-2zM409 1608l0-8-1 0zM391 1551l1 1 1-1-1 0zM401 1551l2 3 0-4zM408 1535l1 1 0-2zM397 1502l0 5 3-5-3-2zM368 1478l1 1 5 0 1-1-1-2-5 0zM403 1437l0 1 3-1-3-3zM413 1421l2 7 1-7-1-2zM390 1363l2 2 0-10-1 0zM403 1314l0 1 2-1-2-6zM391 1306l1 1 5 1 6-2-6-7-5 6zM126 1265l1 2 1-2 1-8 4-5 4 5 2 2 1-2 4-5 5 5 1 2 1-2 0-8 5-5 6 0 2-3 3-5 5 5-5 5-2 3 2 3 6 0 2-3 4-7 6 1 5 1 6 5 1-8 5-6 4 6 2 1 1-1 4-5 6-2 6-6 6 0 4 5-4 6-2 2 2 2 5 0 5 6 1 2 1-2 5-6 1-2-1-8 6-6 5 3 2-5-2-3-3-5 3-6 4 6 2 2 6 4 2 2 8 0 7-7 6 2 1-3 5-6 4 6 1 1 6 3 2-4 4-6 4 6 2 1 0-1 2-9 0-8 3-5 4 5 2 3 6-1 1-2-1-7-1-1 1-1 1 1 5 1 5-1 6-8 8 0-2-8 0-1 6-7 1 0 4-3 6-1 6 0 6-6 0 1 5 3 2-3 4-5 6 3 2-6 4-4 3 4 2 2 3-2 3-4 6-3 6 3 5-4 6 0 6-5 2-3 4-5 5 2 6-3 5-2 7 0 5-3 6-3 6-4 2 2 4 1 2-1 1-9 2-1 12-2 6-2 5 0 3-3 3-4 6-1 2-3 4-5 5-5 6-1 6 3 3-8 3-3 2 3 3 1 2-1 4-6 6-2 6-6 2-3 3-2 12-2 6-6 5-4 6 0 6-6 6-3 0-1 5-6 6 0 2-2-548 0 0 207 3 5 2 8 1 1 0-1 2-8 3-5 4 5 1 8-4 8zM242 1239l-4-6 0-8 4-6 4 6 2 8zM271 1214l-4-6 4-5 6 0 3 5-3 6zM201 1257l1 2 1-2-1-1zM386 1257l0 1 1-1zM403 1241l1 0-1-1zM314 1225l3 2 1-2-1-3z"/>
<path fill="#addc30" d="M443 1837l35 0 6-8 5 8 190 0 0-779-3 3-3 6-5 5-6 3-6 2 0 1-6 5-5 3-1 0-5 2-4 6-8 8-5-1-3 1-3 4-4 4-2 3-6 1-2 5-3 3-6 1-6 3-1 1-5 6-5 1-1 1-5 6-4 2-2 2-6 2-5 2-3 2-3 5-9 3-3 5-5 1-2 3-4 5-6-1-6 3-3 1-2 7-6 1-6-1-1 1-5 7-2 1-3 3-10 5-2 3-6-1-5 5-2 1-4 5-4 4-2 1-6 2-5 4-2 1-4 1-6 5-2 2-4 6 0 11 0-1-5-1-6 1 1 8 4 8-5 6 0 3-1 8-5 8 6 0 6-6 2 6-2 7-1 1 0 8-1 8 1 9-5 7-3 1 8 8-5 6-2 2 8 4 0-12 5-8 6 8 0 8-6 8-1 0-2 8 3 7 2 2 3 8-2 8 3 3 3 5 1 8-4 6 0 7 5 4 1 1 0-1 6-8 5 8 0 8-5 8-6-6-4-2-2-2-1 2-2 8-3 5-1 3 1 8 4 0-3 8 4 9 0 8 1 4 6 1 1 3 2 8 1 8-4 3-1 5 1 3 6-3 5 8 0 1 6 8-2 16 2 5 2 3 4 7 0 7-6 0-6-4-1 6 1 9 6-8 6 8 0 1 6-3 0 4-3 6 2 8-5 8-6 8-5 0 5 3 4 5-6 9 1 8 1 3 0-3 6-8 6-9 5 9-5 8-1 0-5 8-5 0-1 7 0 2 6 7 6 0 5 8-5 9-6 0-6-9 0-6-2 6-4 5-1 4 1 3 5 5-1 8 2 1 4 7 2 4 5-4 1-2 0 6-1 4-5 5-5-5-2 0-1 8 2 8 6-2 2 3-2 3-6-3-1 8 0 16 1 3 3 5-1 8-1 9-1 0-6 6-1 2 1 4 6 6 6-2 5 8-5 8-3 0-1 8-2 2-5 6 3 9-4 6zM461 1748l-1-1-5-8 6-8 5 8-5 8zM466 1428l-5-7 5-8 1-1 5-7 5 7-5 8 0 1zM472 1714l-6-8 6-8 6 8zM478 1551l-6-8 6-8 5 8zM489 1820l-5-8 5-8 6 8zM495 1722l-6-8 6-8 6 8zM501 1379l-5-7 5-8 5 8zM507 1215l-5-7 5-7 4 7zM558 1240l-5-7 5-7 5 7zM639 1354l-5-7 5-7 5 7zM420 1281l-5-7 5-8 6 8zM438 1281l-6-7 6-8 5 8zM432 1475l-4-5-2-9 6-8 5 8-2 9zM443 1502l-5-8 5-8 6 8zM449 1404l-5-8 5-8 5 8zM461 1518l-6-8 6-8 5 8zM489 1739l-5-8 5-8 6 8zM495 1616l-6-8 6-8 6 8zM501 1354l-5-7 5-7 5 7zM432 1355l-6-8 6-8 5 8zM443 1265l-5-8 0-8 5-7 5 7 0 8zM449 1281l-5-7 5-8 5 8zM461 1412l-6-8 6-7 5 7zM489 1657l-5-8 5-8 6 8zM501 1248l-5-7 5-7 5 7zM449 1240l-5-7 5-8 6 0 5 8-5 7zM461 1330l-6-7 6-8 5 8zM420 1820l0 1 6 3 5-4-5-7zM420 1804l0 1 1-1zM431 1804l1 1 1-1 4-8-4-8-1-1-3 1 2 8zM414 1763l1 0 5 3 0-4-5 1zM441 1763l2 1 4-1-4-3zM432 1755l0 1 6 2 2-3-2-1-6-6zM426 1739l0 1 1-1zM420 1714l0 1 1-1zM437 1657l1 8 1-8-1-1zM420 1649l0 1 3-1-3-1zM440 1641l3 3 4-3-4-4-5-10-3-2-3-1-6-1 0 2-1 8 1 5 2-5 4-6 3 6 3 5zM437 1616l1 5 5-5-5-1zM437 1592l1 2 5-1 6-1 0-1-6 1-5-1zM416 1567l4 1 1-1-1 0zM426 1559l0 1 2-1zM437 1551l1 1 1-1-1-1zM420 1502l0 2 6-1 3-1-3-2zM419 1486l3 0-2-1zM368 1478l6 0-5 0zM420 1396l0 1 3-1-3-4zM391 1363l1 1 0-6zM406 1363l3 3 3-3-3-1zM392 1306l5 1 2-1-2-2zM126 1265l1 1 1-1 0-8 5-6 5 6 1 1 0-1 5-6 6 6 0 1 0-9 6-6 6 0 1-2 4-6 6 6-6 6-1 2 1 2 6 0 1-2 0-8 5 0 6 1 5 1 6-2 6-6 5-2 1 0 5 2 6-2 6-6 6 0 5 6-5 7-1 1 1 1 5 0 5 7 1 1 1-1 5-7 1-1-1-5-6 4-5-7 0-8 5-6 5 6 1 5 6-4 5 2 1-3-1-2-4-6 4-6 5 6 1 2 6 1 6 4 5-2 6-5 6 2 1-2 5-6 5 6 6 2 1-2 5-7 5 7 1 0 1-9 0-8 4-6 5 6 1 2 6-1 0-3-4-6 4-3 5 3 2 0 4-7 1-1 5-4 3-4 3-6 6-4 5-4 6-1 6 0 1-2 5-5 3 5 2 2 1-2 5-7 5-1 1 0 6-6 5 6 0 1 1-1 5-7 2-1 4-3 6 2 5-2 5-5 1-2 6 0 5-6 1-1 1 1 4 1 5-1 1-1 6-2 6 0 5-3 5-2 1-1 6-5 6 5 0-8 5-4 18-3 5 0 1-1 5-7 6 0 0-1 6-8 5-5 6-1 6 0 1-2 5-6 4 6 2 0 3-8 2-1 6-2 6-5 0-1 5-4 6-1 6-2 1-1 5-6 5-2 6 0 6-7 3-1 3-2 5-5 6-1-546 0 0 206 4 6 1 8 1 0 1-8 4-6 5 6 1 8-3 8zM271 1215l-4-7 4-6 6 1 4 5-4 6zM403 1265l0 1 3-1 1-8-4 0zM201 1257l1 1 0-2zM207 1241l1 0 0-7zM315 1225l2 1 1-1-1-2z"/>
<path fill="#cde11d" d="M677 1698l2 2 0-639-3 9-3 2-5 4-6 2-1 0-5 4-6 3-5 5-5 4-1 1-6 4-3 3-3 5-5-4-6 7-1 0-5 8-6 0 0 1-5 6-6 1-3 1-3 3-6 5-1 0-4 5-5 3-1 2-6 5-6 0-5 1-1 0-5 8-5 0-1 1-6 8-5 2-6 5-6 0-1 1-5 4-2 4-3 5-6 2-6 3-6 1-5 4-4 1-2 2-6 5-10 10-1 2-6 3-6 2-1 1 7 0 5 8-5 8-6 0-6-8 0-4-5 3-3 1-3 4-4 4-2 3-1 5 1 3 6-1 3 6-3 6-4 2-2 8 0 2 2 7-4 8 2 1 5-1 1 0 0 1-1 7 1 8 6 4 2 4 3 4 5 5-1 8 0 8 2 8 0 2 3 6 3 8 0 1 6 3 2 5-2 8 5 8 0 1 6 5 2 2 0 8 4 8 0 3 3 6 3 7 0 1 5 8 0 1 3 7 9 18 3 7 3 5 1 3 4 8 6 8 0 1 6 7 6 8 5 7 2 1 6 9 4 5 2 3 4 4 3 4 2 3 4 5 2 3 4 5 2 2 5 6 1 1 5 8 6 7 1 1 5 6 1 2 5 6 1 2 4 5 3 3 9 12 4 5 2 2 4 6 1 1 5 7 1 1 6 7 6 8 5 7 1 1 5 6 2 3 4 4 2 4 4 4 3 4 2 3zM438 1282l-6-8 6-8 5 8zM443 1265l-5-8 0-13-3-3 3-4 4 4 1 0 6 8 0 8zM449 1282l-6-8 6-8 6 8zM461 1331l-6-8 6-8 5 8zM501 1380l-6-8 6-8 5 8zM507 1216l-6-8 6-7 5 7zM558 1240l-5-7 5-7 5 7zM639 1355l-6-8 6-7 5 7zM501 1355l-6-8 6-8 5 8zM501 1249l-6-8 6-8 5 8zM127 1265l0 1 0-8zM130 1249l3 1 6 7 5-7 4-1 2-2 6-5 6 0 0-1 5-7 6 4 6 0 4 3 2 0 5 1 4-1 2-3 6-4 3-1 3-3 2 3 3 1 4-1 2-2 6-5 6 0 5 7 0 4 0-4 1-8 5-7 5 7 1 3 6-2 5 0 1-1-1-1-4-7 4-7 5 7 1 1 6 0 6 3 5-2 4-2 2-3 4 3 2 0 6-7 5-2 0 9 6 1 1-1 5-8 5-1 1 0 0-8 5-7 5-1 1-1 6-4 4-3 2-1 4-7 1-2 5 2 1 0 3-8 3-3 6-2 5-3 2-1 4-4 6-1 3-3 3-2 5-2 6 1 6-1 5-4 1-2 5-1 6-4 6 1 11 0 2-2 4-7 6 2 6-9 5 2 6-2 12 0 5-2 1 0 5-7 6-3 6-2 5-4 6 0 6-3 6-5 1-1 4-1 6-2 4-5 2-4 6 0 5-3 3-1 3-2 12-6 1 0 4-3 6-2 6-1 2-3 4-5 5-1 6-1 1-1 4-8 1 0 6-2 5-2 5-4 1-1 6-1 6-3 3-3-538 0 0 205 4 7 2 6 1-6 4-7 5 7 1 5zM271 1216l-5-8 5-6 6 0 5 6-5 7zM166 1249l1 1 6 0 1-1-1-5-6 4zM243 1241l5 0 0-2zM316 1225l1 1 0-3zM333 1200l1 1 4-1-4-7z"/>
<path fill="#efe51c" d="M672 1429l1 1 6 5 0-361-5 4-1 0-5 5-6 1-5 2-1 1-4 7-2 2-5 1-6 5-3 0-3 3-3 5-3 3-5 3-4 3-2 2-6 4-4 2-2 2-5 0-6 9-6 1-5 4-6 6-3 2-3 3-6 2-6 3-5 5-6 3-6-1-1 2-5 6-4 2-1 2-6 5-2 1-4 7-2 1-4 5-5 2-2 1 2 0 5 8-5 8-6-8 0-2-4 2-2 5-3 4-3 2-4 6 4 5 2 3 3 8 1 1 0-1 6-8 5 8-5 8 6 8 5 6 2 2 4 5 3 4 3 2 5 6 1 0 5 7 2 1 4 5 12 12 5 6 1 1 5 6 6 6 4 5 2 1 5 6 17 17 1 0 5 6 3 2 3 4 6 6 6 5 1 2 10 10 6 5 0 1 6 5 3 3 2 3 6 5 0 1 6 5 2 3 4 3zM558 1241l-5-8 5-8 6 8zM639 1355l-6-8 6-8 5 8zM134 1249l5 4 5-4 1 0-1-6-5 1-2-3 2-3 5 2 1 1 5 3 6-3 6 0 5-8 6 2 6 0 6 3 1 3 4 1 2-1 4-6 6-2 0-1 6-5 5 6 1 0 5-5 6-3 10 0 1-2 6-6 6 8 9 0-3-8 5-8 6 8 3 0-2-9 5-7 6 0 5 7-5 8-3 1 3 1 5-1 1 0 5-6 6-6 2 3 4 1 2-1 3-5 3 5 2 9 1 0 4-9 2-4 6-2 0-2 5-7 2-1 4-8 6 0 6-6 1-2 4-7 3-1 3-5 4-4 2-1 6-1 2-6 3-2 6-6 6 0 6-4 5-1 6 1 4 4 2 0 1-8 5-3 5 2 6-5 6 1 4-3 2-1 5-2 6-3 6 3 1-5 5-4 5 2 6-4 4-3 2-1 2 1 4 3 5-2 1-1 5-4 6-6 5 2 1 0 5-6 5-2 1 0 6-3 6-2 5-1 6-2 5-8 1-1 2 1 4 1 1-1 4-6 6-1 1-1 5-4 6-2 5-1 6-1 1-1 5-6 0-2 6-4 5 5 1-1 5-6 1-2 5-6 6 0 5-2 6-6 6-2-529 0 0 204 5 8 1 3 0-3 5-8 6 8 0 1 6 6zM300 1201l-1-1 1 0zM311 1202l-2-2 2-1 2 1zM167 1249l0 1 6 0 0-3zM316 1225l1 0 0-1z"/>
<path fill="none" stroke="#0b2b1a" stroke-width="2.2" stroke-linejoin="round" d="M347 1829l4 4 4-4 1-9 1-1 3-7-3-4-3 4-3 5-3 3-1 9M386 1832l-2-3 2-5 2 5-2 3M438 1835l-3-6 3-4 2 4-2 6M481 1837l3-4 2 4M397 1824l-3-4 3-3 3 3-3 4M409 1824l-3-4 3-3 2 3-2 4M339 1812l1 2 1-2-1 0-1 0M392 1817l-4-5-2-2-6-6 6-5 2-3 2-8-2-8 4-8 3 8 2 8-1 8-1 8-1 8-2 5M489 1816l-2-4 2-3 3 3-3 4M409 1808l-3-4 3-3 2 3-2 4M455 1799l-3-3 3-3 2 3-2 3M380 1788l-1-8 1-6 3 6-3 8M420 1791l-2-3 2-4 3 4-3 3M356 1780l1 1 1-1-1-2-1 2M403 1780l-1 0 1-2 0 2M338 1763l2 5 3-5-3-5-2 5M350 1763l1 2 1-2-1-2-1 2M380 1767l-3-4-3-1-5-7 0-7 0-1 5 3 6-1 2-2 0-8 4-7 4 7 1 8-1 8 2 5 0-5 5-4 6-2 4 6-4 4-3 4-3 5-5 1-6 1-6-3M426 1767l-2-4 0-8 2-3 2 3 0 8-2 4M461 1742l-3-3 3-4 2 4-2 3M397 1737l-4-6 0-8 1-9-2-4-5 4-1 4-1-4 0-8-2-8 3-6 5 6 1 0 5 3 3 5 3 5 6 0 3 3 2 9-5 3-3-3-3-5-3 5 2 8-5 6M426 1734l-3-3 3-4 3 4-3 3M489 1734l-2-3 2-4 3 4-3 3M495 1718l-2-4 2-3 2 3-2 4M415 1710l-3-4 3-3 5-1 3 4-3 4-5 0M472 1710l-2-4 2-3 2 3-2 4M328 1698l0 1 1-1-1-7 0 7M351 1698l0 1 1-1 1-8-2-4-2 4 2 8M438 1701l-3-3 3-3 5 0 3 3-3 3-5 0M403 1692l-3-2 3-2 1 2-1 2M415 1694l-3-4 3-3 2 3-2 4M330 1674l4 0 1 0-1-2-4 2M397 1666l0-1-4-8 4-4 3 4-2 8-1 1M409 1667l-2-2 2-2 1 2-1 2M432 1669l-3-4 3-3 2 3-2 4M455 1669l-3-4 3-3 6 0 2 3-2 4-6 0M344 1657l2 1 1-1-1-2-2 2M386 1655l-4-6 4-6 4 6-4 6M403 1652l-3-3 2-8 1-1 1 1 3 8-4 3M489 1652l-2-3 2-3 3 3-3 3M380 1635l-1-2 1-2 2 2-2 2M415 1636l-3-3 0-8 3-4 5-3 3 7-3 3-3 5-2 3M455 1636l-3-3 3-4 2 4-2 3M356 1625l1 5 6-1 4-4-4-3-6 2-1 1M386 1627l-1-2 1-8 2 8-2 2M461 1628l-3-3 3-4 2 4-2 3M409 1620l-5-4-1-1-4-7 4-4 2 4 4 5 2 3-2 4M361 1608l2 2 1-2 5-7 0-1 0-1-6-6-1 7-1 8M415 1612l-3-4 1-8 2-3 1 3 4 7 6-2 2 3-2 4-6 1-5-1M495 1612l-2-4 2-3 2 3-2 4M449 1603l-2-3 2-3 2 3-2 3M409 1596l-3-4 3-4 3 4-3 4M455 1595l-3-3 3-3 2 3-2 3M409 1577l-3-1-3-2-6-6 0-1 6-3 4 3 2 6 0 3 0 1M449 1579l-2-3 2-4 2 4-2 3M350 1551l1 2 2-2-2-1-1 1M361 1551l2 2 0-2 0-7-2 7M409 1555l-2-4 2-4 6 1 2 3-2 3-6 1M373 1543l1 6 1-6-1-3-1 3M397 1547l-5-4 1-8 4-5 5 5-2 8-3 4M420 1547l-2-4 2-4 3 4-3 4M478 1546l-3-3 3-3 2 3-2 3M415 1537l-2-2-1-8 3-3 1 3 0 8-1 2M361 1527l2 1 2-1-2-3-2 3M443 1530l-2-3 2-4 3 4-3 3M403 1523l-3-5 1-8 2-2 1 2 5 5 2 3-2 6-6-1M426 1522l-2-4 2-3 2 3-2 4M438 1522l-3-4 3-3 2 3-2 4M461 1514l-3-4 3-3 2 3-2 4M350 1494l1 3 3-3-3-2-1 2M392 1501l-4-7-2-3-2-5 1-8 1 0 6 5 1 3 1 8-2 7M420 1497l-2-3 2-3 3 3-3 3M443 1497l-2-3 2-3 3 3-3 3M390 1461l2 2 1-2-1-1-2 1M432 1465l-3-4 3-3 2 3-2 4M345 1453l1 2 0-2 0-1-1 1M394 1453l3 5 4-5-4-4-3 4M382 1445l4 2 6-2 0-8 0-1-2 1-4 3-4 5M438 1432l-3-3 0-8 3-4 2 4 0 8-2 3M356 1421l1 6 2-6-2-4-1 4M466 1424l-2-3 2-4 2 4-2 3M420 1419l-4-7 3-8 1-1 2 1 1 8-3 7M472 1416l-2-4 2-3 2 3-2 4M461 1407l-3-3 3-3 2 3-2 3M392 1399l-2-3 2-1 1 1-1 3M449 1399l-2-3 2-3 2 3-2 3M415 1375l-3-3 3-4 2 4-2 3M501 1375l-2-3 2-3 2 3-2 3M397 1370l-1-7 1-5 2 5-2 7M368 1355l1 0-1 0M392 1350l-4-3 4-4 2 4-2 3M420 1350l-2-3 0-8 2-3 2 3 0 8-2 3M432 1350l-2-3 2-3 2 3-2 3M501 1350l-2-3 2-3 2 3-2 3M639 1350l-2-3 2-3 2 3-2 3M355 1339l2 5 2-5-2-2-2 2M397 1332l-2-1 2-1 1 1-1 1M403 1326l-3-3 3-4 6 0 2 4-2 3-6 0M461 1326l-3-3 3-3 2 3-2 3M363 1314l6 3 1-3-1-3-6 3M409 1310l-3-4-3-4-3-4 3-3 6 0 2 3 0 8-2 4M374 1290l0 3 3-3-1-8-2-8-1 8 1 8M397 1286l-3-4 3-6 2-2 4-3 2 3-2 5-2 3-4 4M110 1277l3-3-3-5M420 1277l-2-3 2-3 2 3-2 3M438 1277l-3-3 3-3 2 3-2 3M449 1277l-2-3 2-3 2 3-2 3M367 1265l2 7 1-7-1-1-2 1M397 1272l-3-7 3-7 2 7-2 7M443 1260l-2-3 0-8 2-3 2 3 0 8-2 3M121 1250l0-1 0-8 1 0 0 8-1 1M167 1241l1 0-1 0M501 1244l-2-3 2-3 2 3-2 3M110 1241l0 8 6 7 0 1 5 6 2 2 4 5 4-5 2-6 6 3 5-5 1 0 5 8 5-8 1-8 6 0 5 7 6 1 5-8 1-1 6-1 5 0 2 2 4 5 2 3 4 5 3-5-3-6-2-2 1-8 1 0 6 6 5-6 0-1 6-1 5-6 1 0 6 0-5 8 5 8 5 0 1 0 5 7 3-7 3-3 5-5-2-8 3-3 2 3 3 6 1 2 3 8 2 3 2-3 1-8-3-8 0-8 0-1 0 1 6 6 6-2 5 0 6 0 6 0 5-4 0-8 1-1 0 1 5 5 3 3 3 3 6 2 4-5 2-3 3-5 2-5 5-4 1 0 6 0 5-8 1 0 1 0 0 8 4 4 3-4 0-8 3-4 2-4 4-3 3 3-1 8 4 4 3-4-1-8 2-8 1-2 2 2 4 5 2-5 4-6 4 6 2 4 2-4-1-8 4-6 5 6 1 0 6 2 5-2 1-1 3-7 2-5 2 5 4 4 6 0 6 0 5-2 1-2 5-6 4 6 2 1 1-1 2-9 3-5 5 2 4-5 2-3 5-5 1 0 6-3 3 3 2 2 3 6 3 3 2-3-2-8 0-2-1-6 1-1 2 1 4 2 3-2 3-3 1 3-1 3-3 5 3 2 3-2 2-2 3 2 1 8-4 2-4 6-1 2-3 7-3 4-4-4-2-4-5-5-1-1-3-7-2-5-4 5-2 5-4 3 1 9 2 8-5 4-6 1-5 3-6 5-6-1-4 4-2 2-5 0-3-2-3-3-1 3-5 8 0 3 0 5-6 6-5 0-2-6-4-2-3 2-1 9 1 8-3 5-1 3-2 8 3 5 2 3-2 3-6 4-5-3-5-4-1-1-3-7 0-8-3-5-3 5-1 8 4 8 0 2 2 6 4 5 3 3-2 9-1 1-4 7 3 8-3 8 4 3 2 5 4 8 2 0-2 3-6 1-4 5 2 8 2 7 0 1-1 0-5-3-4-5 0-8-2-1 0 1-5 6-1 2 1 1 4 7 1 4 6 4-1 8-2 8 1 9 2 2 6-1 6 6 5-6 1-1 5-4 2 4 1 8 0 8-3 6-4-6-2-2-5-6-6 5-6 3 2 8-2 6-6-3-2 5 2 5 4 3 2 2 1-2 0-8 5-3 3 3 2 8-4 9-1 4-6 0-6 1-1 3 1 1 6 5 6-1 2-5 4-4 3-4 2-6 3 6 0 8-1 8 4 8 6-4 2 4-2 3-4 5-2 7-1 1-2 9 3 4 3 4 3 6 1 2-1 2-6-2-4-8-2-3-5-2-4-3-2-5-6 0-1-4-5-3-3 3-1 9-1 0-4 8-2 6-2 2 2 1 2-1 4-1 5-1 2 2 4 4 4 4-4 8 0 8-6 5-1 3-2 9 3 3 3-3 3-7 1-2 5-3 2-5 4-7 2 7-2 6-3 2-3 5-3 4 2 8 1 1 5 7-5 5-4 3 4 7 1 1-1 2-6 4-4-6-2-6-2 6 1 8-4 7-3 2 3 3 1 5 4 2 2-2 4-8 6-5 4 5 2 6 0 2 5 3 3 5-3 4-4-4-1-6-1-2-5-3-2 3-4 7-1 1 1 1 6 3 2 4 2 8-4 8-6-5-4 5-1 9-1 0-5 8 5 5 3 3-2 8 2 8-3 3 0-3-1-8-4-1-1 1-5 7-1 1-5 6-2 2 1 9 1 0 4 8 2 4 6 0 5-4 1 0 5 5 1-5 5-5 1-3 5-7 2 7 0 8-2 8-6-3-5 3-1 0-6 6-1 2-4 6-4 2 4 8 5-5 3 5-3 5-4 4 0 8-1 2-2 6-4 3-6 1-2-4-4-4-1 4 1 7 1 1 5 7 6-1 5 2-2 8-3 4-1 5 1 0 6 7 0 1 0 4-6 1-2 3-4 3-3 5 3 4 4-4 2-4 1 4-1 5-1 3 1 2 3-2 3-1 5-4 5 5-5 2-5 3-1 3 1 2 4 6 1 2 2-2 4-4 3 4-3 3-3 6-3 4-5 4M242 1234l-1-1 1-8 0-1 0 1 1 8-1 1M409 1234l-2-1 2-2 0 2 0 1M449 1236l-2-3 2-3 6 0 2 3-2 3-6 0M558 1236l-2-3 2-3 2 3-2 3M338 1225l2 3 3-3-3-3-2 3M396 1225l1 2 2-2-2-4-1 4M259 1217l0-1 1 1-1 0M317 1217l0-1 0 1M271 1209l0-1 6 0 0 1-6 0M396 1208l1 4 1-4-1-1-1 1M507 1211l-3-3 3-3 2 3-2 3M328 1201l0-1 1 0-1 1M383 1192l3 2 2-2-2-2-3 2M413 1192l2 2 2-2-2-3-2 3M435 1184l3 5 4-5-4-5-3 5M369 1179l-2-3 2-3 2 3-2 3M448 1176l1 2 1-2-1-2-1 2M459 1176l2 7 0-7 0-2-2 2M484 1173l-5-5 5-8 2 8-2 5M449 1154l-2-3 2-1 3 1-3 3M524 1148l-5-5-1-2-3-6 3-6 2-2 4-4 4-4 2-3 1 3 4 3 4-3 2-6 6 2 6-2 5 2 6-3 4 7-3 8-1 0-1 0-5-3-5-1-6-3-3 7-3 6-6-2-4 4 2 8-3 4-6 1M541 1144l-1-1 1-2 0 2 0 1M523 1135l1 0 0-1-1 1M512 1129l-1-2 1-2 3 2-3 2M576 1111l-2-1-4-3-6 2-5-7 5-4 6-3 2-1 4-2 1 2 4 7 2-7 4-6 3-2 3-5 6 1 2-4 3-3 6-1 4 4-4 6-6-1-3 3 0 8-2 3-5 5-1 2-6 1-6 3-2 2-3 1M622 1081l-2-3-4-5-1-3 1-2 6 1 5-1 2 2-2 8-5 3M633 1066l-2-5 2-4 4 4-4 5M645 1066l-5-5 3-8 2-1 5-4 6 1 2-4 3-8 1-1 0 1 6 7 2 1-2 1-5 7-1 3-4 5-2 2-1-2-5-5-2 5-3 5M679 1042l-6-2 0-3 6-5"/>
</g>
<circle cx="83.8" cy="720.1" r="3.4" fill="#1f77b4" stroke="#000" stroke-width="0.9"/><circle cx="89.1" cy="715.1" r="3.4" fill="#ff7f0e" stroke="#000" stroke-width="0.9"/><circle cx="90.9" cy="717.7" r="3.4" fill="#2ca02c" stroke="#000" stroke-width="0.9"/><circle cx="92.0" cy="711.0" r="3.4" fill="#d62728" stroke="#000" stroke-width="0.9"/><circle cx="94.1" cy="718.4" r="3.4" fill="#9467bd" stroke="#000" stroke-width="0.9"/><circle cx="95.9" cy="716.4" r="3.4" fill="#bcbd22" stroke="#000" stroke-width="0.9"/><circle cx="98.2" cy="714.4" r="3.4" fill="#8c564b" stroke="#000" stroke-width="0.9"/><circle cx="104.7" cy="711.1" r="3.4" fill="#e377c2" stroke="#000" stroke-width="0.9"/><circle cx="93.2" cy="712.5" r="3.4" fill="#17becf" stroke="#000" stroke-width="0.9"/>
<rect x="54.9" y="514.4" width="284.6" height="404.0" fill="none" stroke="#1a1a1a" stroke-width="1.8"/>
<text x="54.0" y="944.8" text-anchor="middle" font-size="13.2" fill="#262626">0.00</text>
<text x="110.9" y="944.8" text-anchor="middle" font-size="13.2" fill="#262626">0.25</text>
<text x="167.8" y="944.8" text-anchor="middle" font-size="13.2" fill="#262626">0.50</text>
<text x="224.8" y="944.8" text-anchor="middle" font-size="13.2" fill="#262626">0.75</text>
<text x="281.7" y="944.8" text-anchor="middle" font-size="13.2" fill="#262626">1.00</text>
<text x="338.6" y="944.8" text-anchor="middle" font-size="13.2" fill="#262626">1.25</text>
<text x="40.3" y="519.2" text-anchor="end" font-size="13.2" fill="#262626">0.6</text>
<text x="40.3" y="586.5" text-anchor="end" font-size="13.2" fill="#262626">0.4</text>
<text x="40.3" y="653.9" text-anchor="end" font-size="13.2" fill="#262626">0.2</text>
<text x="40.3" y="721.2" text-anchor="end" font-size="13.2" fill="#262626">0.0</text>
<text x="40.3" y="788.5" text-anchor="end" font-size="13.2" fill="#262626">−0.2</text>
<text x="40.3" y="855.9" text-anchor="end" font-size="13.2" fill="#262626">−0.4</text>
<text x="40.3" y="923.2" text-anchor="end" font-size="13.2" fill="#262626">−0.6</text>
<rect x="356.7" y="898.20" width="19.6" height="20.60" fill="#460a5d"/>
<rect x="356.7" y="878.00" width="19.6" height="20.60" fill="#481c6e"/>
<rect x="356.7" y="857.80" width="19.6" height="20.60" fill="#472d7b"/>
<rect x="356.7" y="837.60" width="19.6" height="20.60" fill="#443b84"/>
<rect x="356.7" y="817.40" width="19.6" height="20.60" fill="#3e4a89"/>
<rect x="356.7" y="797.20" width="19.6" height="20.60" fill="#38598c"/>
<rect x="356.7" y="777.00" width="19.6" height="20.60" fill="#31668e"/>
<rect x="356.7" y="756.80" width="19.6" height="20.60" fill="#2c728e"/>
<rect x="356.7" y="736.60" width="19.6" height="20.60" fill="#277e8e"/>
<rect x="356.7" y="716.40" width="19.6" height="20.60" fill="#238a8d"/>
<rect x="356.7" y="696.20" width="19.6" height="20.60" fill="#1f968b"/>
<rect x="356.7" y="676.00" width="19.6" height="20.60" fill="#1fa287"/>
<rect x="356.7" y="655.80" width="19.6" height="20.60" fill="#28ae80"/>
<rect x="356.7" y="635.60" width="19.6" height="20.60" fill="#38b977"/>
<rect x="356.7" y="615.40" width="19.6" height="20.60" fill="#50c46a"/>
<rect x="356.7" y="595.20" width="19.6" height="20.60" fill="#6ccd5a"/>
<rect x="356.7" y="575.00" width="19.6" height="20.60" fill="#8bd646"/>
<rect x="356.7" y="554.80" width="19.6" height="20.60" fill="#addc30"/>
<rect x="356.7" y="534.60" width="19.6" height="20.60" fill="#cde11d"/>
<rect x="356.7" y="514.40" width="19.6" height="20.60" fill="#efe51c"/>
<rect x="356.7" y="514.4" width="19.6" height="404.0" fill="none" stroke="#1a1a1a" stroke-width="1.8"/>
<text x="389.3" y="923.2" font-size="13.2" fill="#262626">0.00</text>
<text x="389.3" y="862.6" font-size="13.2" fill="#262626">0.15</text>
<text x="389.3" y="802.0" font-size="13.2" fill="#262626">0.30</text>
<text x="389.3" y="741.4" font-size="13.2" fill="#262626">0.45</text>
<text x="389.3" y="680.8" font-size="13.2" fill="#262626">0.60</text>
<text x="389.3" y="620.2" font-size="13.2" fill="#262626">0.75</text>
<text x="389.3" y="559.6" font-size="13.2" fill="#262626">0.90</text>
<path d="M54.9 919.0v9.6M111.8 919.0v9.6M168.7 919.0v9.6M225.7 919.0v9.6M282.6 919.0v9.6M339.5 919.0v9.6M54.3 514.4h-7.6M54.3 581.7h-7.6M54.3 649.1h-7.6M54.3 716.4h-7.6M54.3 783.7h-7.6M54.3 851.1h-7.6M54.3 918.4h-7.6M376.9 918.4h7.6M376.9 857.8h7.6M376.9 797.2h7.6M376.9 736.6h7.6M376.9 676.0h7.6M376.9 615.4h7.6M376.9 554.8h7.6" stroke="#1a1a1a" stroke-width="2" fill="none"/>
<text x="197.2" y="509.0" text-anchor="middle" font-size="14.9" fill="#262626">q</text>
<text x="197.2" y="964.7" text-anchor="middle" font-size="13.2" fill="#262626">σ</text>
<text transform="translate(2.0 716.4) rotate(-90)" text-anchor="middle" font-size="13.2" fill="#262626">μ</text>
</g>
<g id="chiplot">
<rect x="509.4" y="514.4" width="285.3" height="404.0" fill="#460a5d"/>
<g transform="scale(.5)">
<path fill="#481d6f" d="M1019 1837l276 0 0-1 6 0 1 1 16 0 0-8 1-2 0 2 5 7 1 1 10 0-5-7-1-1 1-1 6-1 11 0 5-7 1-1 5-7-5-6-1-2-5-7-5 0-1-1 1-1 17 0 5-7-5-7-17 0-1-1 1-1 5-7 0-1 1 1 5 6 5-6 0-17 1-1 5-7-5-7-1-1-5-7-1-1 1-1 5-7-5-8-6 1-1-2 1-1 5-7-5-7-4 7-1 2-1-2 0-8 1-1 4-7 1-1 5-7-5-7-5 7 0 1-1-1-5-7-17 0-1-1 0-9 1-1 5-7 0-1 1 1 5 7 6 0 0 1 6 8 5-8 0-1 5-7 0-8-5-7-1-1-4-7-2-1-4-7-6-1-11 0-6 8 0 9-1-1-5-7-5 7-1 1 0-9-6-8 0-1 6 0 1 1 5 7 5-7 1-1 6 0 5-8 6-1 1 1 5 7 5-7 0-8 1-1 4-7 1-1 6-1 5-6 0-8-5-7-1-1-5-7-4 7-1 1-1-1 0-9-5-7-1-1 1-1 5-7 0-16-5-7-1-1 0-17 1-1 1 1 5 7 0 1 5 8 5-8 0-8-5-6 0-3 6 0 1 1 5 7 1 1 5 7 1 1 4 7 5-7-5-6 0-2-5-7-1-1 0-8-5-7-1-1-5-7-1-1 1-2 6 0 1 2 5 7 1 1-1 8 5 7 5-7 0-16-5-7-5 0-1-1 1-2 5-7-5-7-6 0-5 7-1 2-5 7-1 1-5 0-5 7-1 1-6 0-5 7 0 16-1 1-1-1 0-8-4-7-6 0-1-1 1-1 5-7 1-1 5-7-1-9-4-7-1-1 1-1 4-7 1-1 1 1 0 8 5 7 1 1 5 7 6 0 5-7 0-1 5-7 0-8 1-1 5-7-5-7-6 0 0-2 5-7-5-8-5 1-1-2 0-16-5-7-1-1 1-1 6-1 5 1 5-7 0-17 1-1 1 1 0 9 5 6 1 2 5 6 5 0 5-6-5-7-5 0-1-1 1-2 4-7-4-6-6 0-1-2 1-1 5-7-5-7-5 7-1 1-5 7-1 2-5-1-1-1-5-7-6 0-1-1 0-16 1-2 1 2 5 7 1 1 5 7 5 0 5-7-5-7-5 0-1-1 0-25 1-1 5-7-1-8 1-8-5-7-1-1 1-1 5-1 6 0 5-7-5-6-6 0-1-2 0-8 1-1 1 1 5 7 5-7 1-2 6 1 5-7 0-9 5-7-5-7-1-1 1-9 0-2 1 2 5 7 5-7-5-6-3-2 3-4 6-1 3-3 1-8 2-2 4 2-4 8 5 7 6-6 3-1 3-2 1 2 0 8 5 6 4-6-2-16-2-2-4-6 4-2 5-6 5 8 1 2 2-2 4-3 6-1 5-4 3-9-2-8 3-8 2-1 2 1 2 8 2 4 2-4 4-4 6 0 4-4-1-8 2-3 4 3-2 8 4 3 5-3-2-8-3-5-1-3 1-8-6-8-5 8 0 1-1-1 0-9-5-5-4 5-2 2-3-2 0-8-3-2-5-5-6 4-6 6-6 5-6-6-3 6 3 6 4 3-4 5-5 1-1 2-5 2-6-2-6-7-4 7-1 3-4-3-2-2-1-6-5-7-5 7 5 7 3 1 2 8-5 2-4 6-2 2-2-2-3-8-6 2-5 6-1 2-5-2 3-8-4-6-4 6-1 1-6 7 0 3-6 5-1 0-5 2-5-1-6 7-1 0-5 2-4-2-2-2-2 2-4 6 0-6-5-6-5 6 5 7 4 2-4 5-6-1-6-2-6 0-5 2-6 3-1 1-5 1-6 2-5 1-6 0-3 4-3 2-6-2 2 8-2 5-2-5-3-4-3 4-3 8-6-5-5 5-1 0-6 5-5-4-3 7-3 5-2 4 2 3 1 5-1 1-12 0-2-1 2-4 4-4 2-5 3-4-1-8-2-1-6 6-5 2-6 3-3 7-3 4-6-2-5-1-6 3-3 4 3 3 6 1 1 4-1 8 0 1-12 0-2-1-4-5-3 5-2 2-6 0-2-2-4-6-4 6 0 8-1 8-1 1-6 0-1-1 1-1 5-7-3-8 1-8-3-8-5-4-3 4 3 3 3 5 1 8-3 8-1 2-6 1-2-3 2-4 3-4-3-4-6 0-6-1-5-3-6 1-6 7-6 2-5 1-2-3 2-5 5 1 5-4 1-7 0-2 0 1-6 2-5 3-2 3-4 3-4-3-2-6-2 6-4 8-5 1-1-1-1-8 2-5 0-4-6-1 0 31 6 0 5 1 5-6 1-4 2 4-1 8-1 1-6 0-5 2-6-1 0 570zM1048 1258l-1-1 1-3 2 3zM1071 1252l-1-3 1-3 5 0 2 3-2 1zM1169 1233l-2 0 2-4 1 4zM1197 1233l0-3 1 3zM1267 1519l-1-1 1 0zM1278 1789l0-2 1 1zM1290 1772l-1 0 1-1zM1301 1797l0-1-6-7 0-2 6 0 1 1 0 8zM1307 1830l-1-1 1-1 1 1zM1324 1821l-1-1-4-6-1-2 0-8-5-7-1-1 1-1 11 0 1 1-1 1-5 7 5 7 6 0 5-7 1-1 1 1 5 7 5 0 1 1-1 2-11 0-6-1-5 7zM1330 1651l-1-2 1-1 5-7 1-2 1 2 5 7 1 1-1 1-6 1zM1295 1609l0-2 1 1zM1301 1601l0-18 1 1 5 7 1 1 0 8-1 1zM1307 1617l-1-1 1-1 1 1zM1319 1602l-1-2 1-1 0 1zM1324 1568l-1-1 0-8-4-6-1-2 0-8 1-1 11 0 1 1 0 8-1 2-5 6 5 7 1 1-1 2zM1330 1602l-1-2 1-1 1 1zM1336 1593l-1-1 0-8 1-2 1 2 0 8zM1347 1585l-1-1 1-2 1 2zM1347 1487l0-3 1 2zM1313 1430l-1-1 1-1 6 0 0 2zM1336 1446l-1-1-5-7-1-1 1-1 5-7 0-8 1-2 1 2 0 8 5 7 0 2-6 7zM1342 1454l-1-1 1-1 1 1zM1330 1316l-1-2 0-8 1-1 1 1 0 8zM1336 1299l-1-1-5-7-1-1-5-7-1-1 1-2 6 1 6 0 1 1 0 8-1 8zM1342 1242l-1-1 1-1 0 1zM1347 1234l0-10 6-6 3-1 2-9 1-1 1 1-1 9 1 8-1 1-6-1-5 8zM1399 1145l-1-2 1-2 1 2zM1434 1155l-2-4 2-2 5 2zM1457 1138l-2-3 2-3 2 3zM1267 1266l-1-1 1-8 5 8 1 0-1 1zM1278 1764l0-1 1 0zM1290 1756l-1-1 1-1 5 0 1 1-1 1zM1301 1764l0-2 1 1zM1307 1740l-1-1 1-1 12 0 0 2-6 0zM1319 1781l-1-1 1-1 0 1zM1324 1773l0-1-5-8-6 1-1-2 1-1 5-7 1-1 5-7 0-1 5-7 1-1 1 1 5 7 5-7 1-1 0 1 5 7 6-1 1 2-1 1-6 0-5 7 0 9-1-1-5-7-1-1-5-7-5 7 0 17zM1295 1576l0-1 1 1zM1301 1413l-1-1 1-1 12 0 0 2-6 0zM1307 1577l-1-1 0-9 8 0-1 1-5 8zM1319 1577l-1-1 1-2 0 2zM1319 1405l-1-1 0-16 1-1 4-7 1-1 5-7 1-2 6 1 6 0 1 1-1 1-6 0-5 7-1 1-5 7-1 1-5 7 0 8zM1330 1414l-1-2 0-8 1-1 1 1 0 8zM1330 1266l-1-1 0-24 1-1 1 1 5 7 1 1-1 1-5 7 5 7 1 1-1 1zM1347 1177l-1-1 1-2 1 2zM1359 1177l-1-1 1-2 1 2zM1434 1137l-2-2 2-3 1 3zM1278 1731l0-17-6-7 0-2 6 1 1 0 0 8 5 8 0 1-5 8zM1290 1740l-1-1 1-1 0 1zM1295 1691l0-10 1 1 0 8zM1301 1715l0-1 1 0zM1307 1683l-1-1 1-1 1 1zM1313 1658l-1-1 1-1 0 1zM1319 1724l-1-1 1-1 0 1zM1324 1732l0-2 1 1zM1336 1724l-1-1 0-9 1-1 1 1 0 9zM1301 1300l0-3 1 1zM1307 1381l-1-1 1-2 6 1 1 1-1 1zM1307 1552l-1-1 0-8 1-1 1 1 0 8zM1313 1536l-1-1-5-7-1-1 0-25 1-1 1 1 5 7 1 1-1 1-5 7 5 8 0 1 1 8zM1319 1373l-1-1 0-17-5-7-6 0-1-1 1-1 6 0 5-7 1-1 0 34zM1324 1324l-1-1 1-2 1 2zM1336 1234l-1-1 1-1 0 1zM1434 1115l-3-5 3-4 5 4zM1272 1609l0-9 1 0 0 8zM1278 1626l0-2 1 1zM1284 1691l-1-1 1-1 0 1zM1290 1715l-1-1 1 0zM1301 1675l-1-1 1-1 1 1zM1319 1691l-1-1 1-2 0 2zM1324 1708l0-11 5-7 1-1 1 1 0 8-1 1-5 7zM1301 1258l0-2 1 1zM1307 1365l-1-2 2 0zM1307 1470l-1 0 1-1 1 1zM1307 1332l-1-1 1-1 6 0 1 1-1 1zM1319 1316l-1-2 0-8 1-1 0 9zM1272 1446l0-2 1 1zM1278 1560l0-2 1 1zM1284 1666l-1-1 2 0zM1290 1634l-1-1 1-1 0 1zM1307 1446l-1-1 0-8 1-1 1 1 0 8zM1307 1283l-1-1 1-1 5-7 1-2 0 2 1 8-1 1zM1319 1258l-1-1-5-7-1-1 1-1 5-7 0-8 1-2 0 26zM1272 1364l0-1 1 0zM1278 1479l0-10 1 1 0 8zM1284 1601l-1-1 1-1 6 0 0 2zM1290 1617l-1-1 1 0zM1278 1356l0-2 1 1zM1284 1511l-1-1 0-16 1-1 0 9 1 8zM1290 1568l-1-1 0-8 1-1 1 1-1 8zM1278 1332l0-2 1 1zM1284 1462l-1-1 1 0zM1290 1544l-1-1 0-8 1-1 0 1 5 7 1 1-1 1zM1278 1299l0-2 1 1zM1284 1364l-1-1 2 0zM1290 1478l-1 0 1-1zM1295 1519l0-1 1 0zM1284 1266l-1-1 2 0zM1290 1454l-1-1 1-1 0 1zM1295 1487l0-2 1 1zM1295 1405l0-1-5-7-1-1 1-1 5-7 0-1 1 1 0 16zM1290 1331l-1 0 0-17 1 0 0 9zM1295 1364l0-2 1 1zM1290 1258l-1-1 1 0zM1295 1291l0-27 1 1 0 25zM1360 1837l9 0 1-1 5-7-5-7 0-10-1-8-4-6-5 6 0 16 5 8 0 2zM1423 1829l5 6 5-6-5-7zM1464 1837l9 0-5-6zM1377 1796l5 7 5-7-5-7zM1430 1796l4 6 6-9 3-5 2-3 6 1 4-6-4-6-6 0-3 6-2 2-4 6-2 2zM1559 1796l2 2 1-2-1-2zM1377 1780l5 7 5-7-5-7zM1575 1780l3 4 3-4-3-4zM1389 1772l4 6 5-6-5-7zM1500 1763l3 4 3-4-3-4zM1406 1755l5 7 4-7-4-6zM1547 1755l2 4 2-4-2-3zM1366 1747l4 7 5-7-5-7zM1377 1739l5 7 5-7 0-8-5-7-6 0-5 7 5 7zM1453 1731l4 6 4-6-4-6zM1476 1723l4 5 4-5-4-6zM1500 1723l3 4 3-4-3-5zM1506 1706l3 5 3-5-3-4zM1535 1706l3 4 2-4-2-4zM1354 1698l5 7 5-7-5-7zM1470 1698l4 6 4-6-4-6zM1581 1690l3 3 2-3-2-3zM1372 1674l4 6 5-6-5-7zM1535 1665l3 4 2-4-2-3zM1354 1657l5 7 6 0 5-7-5-7-1-1 0-8 1-2 5 0 5-6 0-17-5-7-5 7 0 10-5 7-1 1-5 7 0 8zM1377 1649l5 7 5-7 1-1 5-7-5-7-5 7-1 2zM1471 1649l3 5 3-5-3-4zM1441 1625l4 6 5-6-5-7zM1343 1616l4 7 6 0 5-7-5-6-6 0zM1383 1616l5 7 4-7-4-6zM1360 1600l5 7 5-7-5-7zM1571 1600l1 2 1-2-1-2zM1366 1576l4 6 5-6-5-7 0-3 6 0 5-7-5-6-1-2 1-1 5-7-5-7-5 7-1 1-1-1-4-7-6 0-1-1-5-7-5 7-1 1-4 7 0 8 4 7 5-7 1-1 1 1 5 7 1 1 0 8 5 8zM1365 1552l-1-1 1-1 1 1zM1377 1576l5 6 5-6 1-2 4-7-4-6-5 6-1 2zM1383 1551l5 7 4-7 1-2 5-6-5-6-5-1-5 7zM1505 1518l4 6 4-6-4-5zM1540 1518l3 5 3-5-3-4zM1558 1518l3 4 2-4-2-3zM1377 1494l5 7 6 0 4-7 1-2 5-6 1-2 5-6-5-7-5 7-1 2-4 6-1 1-6 0zM1554 1486l1 2 1-2-1-2zM1559 1461l2 3 1-3-1-2zM1395 1445l4 6 5-6-5-6zM1360 1437l5 7 4-7-4-7zM1401 1429l4 6 4-6-4-7zM1565 1429l1 1 1-1-1-2zM1354 1421l5 7 5-7-5-7zM1395 1404l4 6 4-6-4-6-1-2-5-7-4 7 4 7zM1424 1404l4 6 4-6-4-5zM1360 1396l5 7 5-7-5-7zM1548 1396l1 2 1-2-1-2zM1389 1380l4 6 5-6-5-7zM1412 1380l4 6 5-6-5-7zM1429 1380l5 6 4-6-4-6zM1459 1380l4 4 3-4-3-5-6-9-1-3-5-6-4 6 4 7 2 2 4 5zM1546 1380l3 4 3-4-3-5zM1588 1372l1 2 0-5zM1366 1347l4 7 5-7 1-2 5-6 0-8-5-7-5 7 1 8-2 1zM1482 1331l4 5 4-5-4-6zM1348 1323l5 6 5-6 1-2 1 2 5 7 4-7-4-7-1-2 1-1 5 0 5-7 0-8 1-1 5-7-5-7-5 7-1 2-4 6-1 1-1-1-1-8-4-7-1-1-5-7-5 7 5 7 1 1 0 8-1 1-5 7 5 7 1 1-1 2zM1395 1323l4 6 5-6-5-7zM1541 1323l2 3 3-3-3-4zM1588 1314l1 3 0-5zM1389 1306l4 6 5-6-5-6zM1447 1306l4 7 5-7-5-6zM1401 1298l4 6 4-6-4-6zM1389 1290l4 7 5-7 0-8-5-6-4 6zM1494 1282l3 5 3-5-3-5zM1360 1274l5 7 4-7-4-7zM1483 1274l3 4 3-4-3-5zM1360 1257l5 7 4-7-4-6zM1499 1257l4 6 4-6-4-5zM1511 1249l3 5 4-5-4-4zM1529 1249l3 4 3-4-3-4zM1121 1233l2 2 5-10 1 0 5-7 1-1-1-2-6 1 0 1-5 2-6 3-6-3-5 6 5 3 6-1zM1133 1233l1 2 1-2-1-2zM1068 1225l3 6 1-6-1-3zM1493 1225l4 5 4-5 2-6 6 3 3-5-3-6-6 3-2 3-4 2zM1559 1225l2 3 2-3-2-3zM1395 1217l4 6 5-6-5-7zM1383 1208l5 6 4-6-4-7zM1442 1200l3 5 4-5-4-5zM1571 1192l1 1 1-1-1-1zM1443 1184l2 3 2-3-2-4zM1454 1184l3 4 3-4-3-5zM1558 1176l3 3 2-3-2-4zM1452 1168l5 6 4-6-4-8zM1476 1168l4 5 4-5-1-9 6-8-3-4-4 4-2 3-6 0-4 5 4 6zM1274 1143l4 6 4-6 1-8-5-7-5 7zM1302 1143l5 7 5-7-5-7zM1580 1143l4 5 3-5-3-5zM1493 1135l4 3 3-3-2-8 3-8 2-2 1 2 5 6 5-6-2-9 2-1 6-2 6-1 4-4 2-1 6-4 5 3 5-6 1-5 5-3 1-1 6-1 5 0 5-6 1-6 4-2 2-2 6-4 5-5 0-30-28 0-6 6-12 8-5 2-1 0-5 1-6 7 0 3-6 2-3 3-3 2-3-2-2-1-1 1 1 7 0 2-6 1-5-1-1-2-3 2-3 0-5 4-3 4-3 3-12-2-5 7 0 1-6 5-4 2 4 3 6 2 1 3 4 7 6 1 6 8 1 1 1 8 4 4 3-4 2-2 5 2zM1468 1096l-2-2 2-3 6 0 1 3-1 2zM1309 1127l4 5 3-5-3-5zM1404 1119l1 1 2-1-2-7zM1540 1119l3 4 3-4-3-5zM1588 1119l1 1 0-3zM1285 1102l5 6 4-6-4-6zM1298 1102l3 5 4-5-4-5zM1343 1102l4 6 5-6-5-6zM1267 1086l5 7 5-7-5-7zM1279 1086l5 7 6 0 4-7-4-7-6 0zM1297 1086l4 5 4-5-4-5zM1349 1078l4 6 5-6-5-7zM1395 1078l4 5 4-5-4-6zM1436 1078l4 6 3-6-3-5zM1447 1070l4 5 4-5-1-9-3-3-2 3zM1401 1061l4 6 4-6 0-8-4-5-3-3-3-4-3 4 3 4 2 4zM1430 1061l4 5 3-5-3-4zM1482 1045l4 6 4-6-4-5zM1505 1045l4 6 4-6-1-8-3-5-3 5zM1326 1029l4 5 4-5-4 0zM1436 1029l4 5 3-5-3 0zM1459 1029l4 5 3-5-3 0zM1478 1029l2 2 2-2-2 0z"/>
<path fill="#472e7c" d="M1019 1837l275 0 1-2 6-1 2 3 14 0 0-8 2-3 1 3 4 6 2 2 8 0-4-6-1-2 1-2 12-2 5 0 4-5 2-3 3-5-3-4-2-4-4-5-5 0-3-3 3-3 5 1 6-1 6 0 3-5-3-5-6-1-11 0-3-2 3-2 4-6 1-3 2 3 4 5 4-5 0-17 2-3 4-5-4-5-3-3-3-4-2-4 2-3 4-5-4-6-6 0-2-3 2-3 4-5-4-5-3 5-2 3-2-3 0-8 2-3 3-5 2-3 4-5-4-6-3 6-2 3-3-3-3-5-6-1-6 0-5 1-2-3 0-9 2-2 4-6 1-2 3 2 3 5 6 0 1 3 5 6 4-6 1-3 4-5 0-8-4-5-2-3-3-5-3-3-3-5-6-1-6 0-5-1-5 7 0 8-1 2-2-2-4-6-5 6-1 2-1-2 0-8-5-6-1-2 1-2 6 0 2 2 4 5 4-5 2-3 6 1 4-7 1-2 6-1 6 9 4-6 0-8 2-3 3-5 2-3 6-1 3-4 0-8-3-5-3-3-3-5-3 5-2 3-3-3 1-9-4-5-2-3 2-2 4-6 0-16-4-6-2-2 0-17 2-3 2 3 4 5 1 3 4 6 5-6-1-8-4-4-1-4 1-2 6-1 3 3 3 5 6 9 3 2 2 4 3-4-3-3-2-5-3-5-3-3 0-8-3-5-3-3-3-5-2-3 2-4 6 0 2 4 4 5 2 3 0 8 3 5 4-5 0-16-4-5-5-1-3-2 3-3 4-6-4-5-6 0-4 5-2 4-3 5-3 3-5-1-6 9-6-1-4 6 0 16-2 2-2-2 0-8-3-6-6 0-2-2 2-2 6-9 4-5-1-9-3-5-2-3 2-3 3-5 2-2 2 2 0 8 4 6 2 2 4 5 6 1 4-6 1-3 4-5 0-8 2-3 4-5-4-5-6 0-1-3 1-3 4-5-4-6-5 1-3-4 1-8-1-8-3-5-2-3 2-2 6-2 5 1 4-5 0-17 2-2 3 2-1 9 4 5 3 3 3 4 5 0 4-4-4-5-5 1-3-4 3-4 3-5-3-4-6 0-2-4 2-3 3-5-3-5-3 5-3 3-4 5-2 4-5-1-6-9-6 0-1-2-1-8 0-8 2-3 1 3 5 6 2 2 4 5 5 0 4-5-4-5-5 0-2-3 0-17-1-8 3-2 4-6-1-8 1-8-4-6-2-2 2-3 5 0 6-1 3-5-3-4-6-1-2-3 0-8 2-3 3 3 3 5 3-5 3-4 6 1 3-5 0-8 2-3 4-5-4-6-2-2-1-9-2-6-2-2 2-3 2-5 2-8 1-2 1 2 5 7 6-3 2-4 4-4 5-3 2-1 4-1 6-4 6 1 4-4 1-6 2-3 4-2 4 2 2 6 3-6-3-8 6-5 4-3 2-1 5-3 5-4 1-3 4-5 2-3 2-5-1-9-2 0-5 5-6-1-5 5-6 7-6-4-3 5-3 4-6-2-5 2-6 1-6 0-6-6 0 9-5 4-6 1-6 0-2 3-4 5-3 3-2 3-6-1-6 1-6-6-1-5 1-5 2-3-2-2-1 2-4 3-4 5 3 8-5 2-6 5-6 3-5 0-6 4-6 1-6-4-3 6-3 8-5 7-6-5-6-3-3 1-2 8-1 1-5 0-4-1-2-1-3 1-3 3-6-1-5 0-4 6-2 7-1 1-5 1-6 0-5 7 0 5-6-4-6 0 0-1-6-7-5 7-1 4-5-1-4 6-1 8-1 2-6 0-6 1-3 5-2 1-3-1 3-7 1-1 4-8 1 0-1-3-5 2-6 0 0 1 4 8-4 2-5 6-1 0-1-8-5-3-5 2-3 1 3 0 3 8-2 8-1 2-6-1-6 0-4-1-2-2-1 2-4 4-6 0-6-8-3 4 0 8-2 8-1 1-6 0-3-1 3-2 4-6-4-7-3 7-2 4-6 1-4-5 4-7 0-2-6 1-6-2-5-2-6 4-6 5-6-1-5 2-5-6-1-2-6 2 3 8-1 8-2 2-6-1-5 5-6-3 0 569zM1048 1258l-2-1 2-6 4 6zM1071 1255l-3-6 3-5 5-1 4 6-4 3zM1197 1234l-1-1 1-7 2 7zM1209 1226l-1-1 1-1 1 1zM1267 1520l-2-2 2-2 1 2zM1278 1790l-1-2 1-2 2 2zM1290 1774l-1-2 1-2 1 2zM1301 1798l-1-2-5-6-1-2 1-2 6-1 1 3 0 8zM1307 1831l-2-2 2-2 2 2zM1324 1823l-2-3-3-5-2-3 0-8-4-5-2-3 2-2 6-1 5 1 2 2-2 2-4 6 4 6 6 0 6-9 6 9 5 0 3 2-3 4-5 0-12-2-4 6zM1330 1652l-1-3 1-2 4-6 2-4 2 4 4 5 2 3-2 2-6 1zM1295 1610l-1-2 1-2 2 2zM1301 1603l-1-3 0-16 1-3 2 3 4 5 2 3-1 8-1 3zM1307 1619l-1-3 1-3 2 3zM1319 1603l-2-3 2-2 1 2zM1324 1570l-2-3 0-8-3-5-2-3 0-8 2-3 5 1 6-1 2 3 0 8-2 3-3 5 3 5 2 3-2 3zM1330 1604l-2-4 2-3 2 3zM1336 1594l-2-2 0-8 2-3 2 3 0 8zM1347 1587l-2-3 2-4 3 4zM1347 1488l-1-2 1-4 3 4zM1313 1431l-2-2 2-2 6-1 1 3-1 3zM1336 1448l-2-3-4-5-2-3 2-3 4-5 0-8 2-4 2 4-1 8 5 6 2 2-2 2-5 6zM1342 1456l-2-3 2-2 2 2zM1330 1318l-2-4 0-8 2-3 2 3 0 8zM1336 1301l-2-3-4-5-6-9-2-2 2-3 6 1 6 0 2 2 0 8-1 8zM1342 1244l-2-3 2-3 2 3zM1347 1236l-2-3 1-8 1-2 5-6 1-3 3-6 3-5 3 5-1 9 1 8-3 3-6-1-4 6zM1365 1168l-1 0 1-2zM1382 1179l-1-3 1-2 1 2zM1393 1171l0-4 1 1zM1399 1147l-3-4 3-6 3 6zM1434 1140l-4-5 4-8 3 8zM1267 1267l-1-2 0-8 1-1 1 1 4 7 1 1-1 2zM1278 1765l-1-2 1-1 1 1zM1290 1757l-1-2 1-1 5-1 2 2-2 2zM1301 1765l-1-2 1-2 2 2zM1307 1742l-2-3 2-3 12 0 1 3-1 2-6 1zM1319 1782l-2-2 2-3 2 3zM1324 1775l-1-3-4-6-6 0-2-3 2-2 4-6 2-2 4-6 1-2 6-9 2 3 4 5 3-5 3-3 2 3 3 5 6-1 2 4-2 3-6-1-4 6 0 8-1 2-2-2-4-6-2-2-4-5-4 5 0 17zM1295 1577l-1-1 1-2 2 2zM1301 1414l-2-2 2-2 6 0 6-1 1 3-1 2-6 1zM1307 1578l-2-2 0-9 2-2 6 1 2 1-2 2-5 7zM1319 1578l-2-2 2-4 1 4zM1319 1406l-3-2 1-8-1-8 3-3 3-5 2-3 4-5 2-3 12 0 2 3-2 3-6-1-6 9-3 5-3 2-4 6 0 8zM1330 1415l-2-3 1-8 1-3 2 3 0 8zM1330 1267l-1-2-1-8 0-16 2-3 2 3 4 5 2 3-2 3-4 5 4 6 2 2-2 2zM1342 1217l-1 0 1-1zM1347 1210l-1-2 1-2 2 2zM1359 1179l-3-3 3-4 2 4zM1382 1161l-1-2 1-1 2 1zM1278 1732l-1-1 0-17-5-6-1-2 1-2 6 1 1 1 0 8 5 7 1 2-1 2-4 6zM1290 1740l-1-1 1-2 1 2zM1295 1692l-1-2 0-8 1-3 2 3 0 8zM1301 1717l-1-3 1-1 2 1zM1307 1684l-2-2 2-2 2 2zM1313 1660l-2-3 2-2 1 2zM1319 1725l-2-2 2-2 1 2zM1324 1733l-1-2 1-2 2 2zM1336 1725l-2-2 0-9 2-2 2 2 0 9zM1301 1302l-1-4 1-2 2 2zM1307 1382l-1-2 1-3 6 1 2 2-2 3zM1307 1553l-2-2 0-8 2-2 2 2-1 8zM1313 1537l-2-2-4-6-2-2 0-9 1-8-1-8 2-2 2 2 4 6 2 2-2 2-5 6 5 7 1 2 1 8zM1319 1375l-2-3 0-17-4-6-6 0-1-2 1-3 6 1 6-9 2 3-1 8 0 8 1 8-1 9zM1324 1325l-2-2 2-3 2 3zM1330 1226l0-2 1 1zM1336 1235l-2-2 2-3 2 3zM1342 1201l-1-1 1-3 0 3zM1347 1178l-3-2 3-4 3 4zM1272 1610l-1-2 0-8 1-1 2 1 0 8zM1278 1627l-1-2 1-2 1 2zM1284 1692l-2-2 2-3 1 3zM1290 1716l-1-2 1-1 1 1zM1301 1676l-2-2 2-2 2 2zM1319 1692l-2-2 2-3 1 3zM1324 1710l-1-4 0-8 1-2 6-9 2 3-1 8-1 2-4 6zM1301 1260l-1-3 1-2 2 2zM1307 1366l-1-3 1-1 2 1zM1307 1471l-1-1 1-3 1 3zM1307 1334l-2-3 2-2 6 0 2 2-2 2zM1319 1317l-2-3 0-8 2-2 1 2 0 8zM1272 1447l-1-2 1-2 2 2zM1278 1561l-1-2 1-2 1 2zM1284 1667l-1-2 1-1 2 1zM1290 1635l-2-2 2-2 1 2zM1307 1447l-1-2 0-8 1-3 2 3 0 8zM1307 1284l-2-2 2-3 4-5 2-3 1 3 1 8-2 2zM1319 1259l-2-2-4-5-1-3 1-2 4-6 0-8 1-8 1-2 0 2 1 8 0 24zM1272 1365l-1-2 1-1 2 1zM1278 1480l-1-2 0-8 1-3 1 3 1 8zM1284 1602l-1-2 1-1 6-1 1 2-1 2zM1290 1618l-2-2 2-1 1 1zM1307 1242l-1-1 1-1 1 1zM1319 1178l-3-2 3-2 5 2zM1278 1357l-1-2 1-2 1 2zM1284 1512l-1-2 0-8-1-8 2-1 1 1 0 16zM1290 1569l-2-2 1-8 1-2 2 2-1 8zM1307 1176l-2 0 2-3 2 3zM1278 1333l-1-2 1-2 1 2zM1284 1463l-2-2 2-1 1 1zM1290 1545l-2-2 0-8 2-2 1 2 4 6 2 2-2 2zM1278 1300l-1-2 1-2 1 2zM1284 1365l-1-2 1-1 2 1zM1290 1479l-2-1 2-2 1 2zM1295 1520l-1-2 1-1 3 1zM1278 1258l-1-1 1-1 1 1zM1284 1268l-1-3 1-2 2 2zM1290 1455l-1-2 1-3 1 3zM1295 1488l-1-2 1-2 2 2zM1284 1251l-1-2 1-1 1 1zM1295 1407l-1-3-4-6-1-2 1-2 4-6 1-3 2 3 0 16zM1290 1332l-1-1-1-8 1-9 1-1 2 1-1 9 0 8zM1295 1365l-1-2 1-2 2 2zM1290 1260l-2-3 2-1 1 1zM1295 1292l-1-2 0-25 1-2 2 2 0 25zM1361 1837l7 0 2-3 4-5-4-6-1-3 0-8-1-8-3-4-4 4 0 16 6 9-2 3zM1425 1829l3 4 3-4-3-5zM1466 1837l5 0-3-3zM1378 1796l4 5 4-5-4-5zM1432 1796l2 3 2-3-2-3zM1438 1788l2 2 1-2-1-2zM1378 1780l4 5 4-5-4-6zM1444 1780l1 1 6 2 2-3-2-4-6 2zM1390 1772l3 4 4-4-4-5zM1408 1755l3 4 3-4-3-4zM1367 1747l3 5 4-5-4-5zM1378 1739l4 5 4-5 0-8-4-6-6 0-4 6 4 5zM1454 1731l3 3 2-3-2-4zM1478 1723l2 2 1-2-1-2zM1355 1698l4 5 4-5-4-5zM1472 1698l2 3 2-3-2-3zM1373 1674l3 3 3-3-3-4zM1356 1657l3 5 6 1 4-6-4-5-3-3 0-8 3-4 5 1 4-5 0-17-4-5-3 5 0 9-2 3-4 5-2 3-3 5 0 8zM1379 1649l3 5 3-5 3-3 3-5-3-5-4 5-2 4zM1442 1625l3 4 3-4-3-4zM1344 1616l3 5 6 0 3-5-3-4-6-1zM1384 1616l4 5 3-5-3-4zM1361 1600l4 6 4-6-4-5zM1367 1576l3 4 4-4-4-5-1-4 1-4 6 1 4-5-4-5-2-3 2-3 4-5-4-5-3 5-3 3-2-3-3-5-6 0-6-9-4 6-2 4-3 4 0 8 3 4 3-4 3-3 6 9 2 2 0 8 4 6zM1365 1554l-2-3 2-3 2 3zM1378 1576l4 5 3-5 3-4 3-5-3-4-6 8zM1384 1551l4 5 3-5 2-5 3-3-3-3-5-2-4 5zM1507 1518l2 2 1-2-1-1zM1378 1494l4 5 6 0 3-5-3-5-6 0zM1391 1486l2 3 2-3-2-3zM1396 1478l3 4 4-4-4-5zM1396 1445l3 4 3-4-3-4zM1361 1437l4 5 3-5-3-5zM1402 1429l3 4 3-4-3-4zM1355 1421l4 5 4-5-4-6zM1397 1404l2 3 2-3-2-3-2-5-4-5-3 5 3 5zM1427 1404l1 2 1-2-1-2zM1361 1396l4 6 3-6-3-5zM1390 1380l3 5 4-5-4-5zM1413 1380l3 4 4-4-4-5zM1431 1380l3 3 2-3-2-4zM1456 1372l1 1 1-1-1-2zM1448 1363l3 5 3-5-3-4zM1367 1347l3 5 4-5 2-4 3-4 1-8-4-5-4 5 1 8-3 3zM1484 1331l2 2 1-2-1-2zM1350 1323l3 4 3-4 3-3 2 3 4 5 3-5-3-6-3-3 3-2 5-1 4-5-1-8 3-3 4-5-4-6-4 6-4 8-3 3-2-3-1-8-3-4-2-4-4-6-4 6 4 5 3 3-1 8-2 2-4 6 4 6 2 2-2 4zM1396 1323l3 4 3-4-3-5zM1391 1306l2 4 3-4-3-3zM1448 1306l3 4 3-4-3-4zM1403 1298l2 2 2-2-2-2zM1390 1290l3 5 4-5-1-8-3-3-2 3zM1361 1274l4 5 3-5-3-6zM1361 1257l4 5 3-5-3-5zM1501 1257l2 2 1-2-1-2zM1019 1249l0 2 6-1 5 3 3-4-3-5-5 4-6-4zM1496 1225l1 2 2-2-2-3zM1397 1217l2 3 3-3-3-4zM1507 1217l2 1 1-1-1-2zM1373 1208l3 4 3-4-3-3zM1386 1208l2 3 2-3-2-3zM1408 1200l3 4 2-4-2-8zM1444 1200l1 1 1-1-1-1zM1389 1192l4 5 5-5-5-6zM1454 1168l3 4 3-4-3-5zM1478 1168l2 2 2-2-2-9-6-2-1 2 1 3zM1287 1159l3 4 3-4-3-3zM1276 1143l2 3 2-3 2-8-4-5-4 5zM1303 1143l4 6 4-6-4-5zM1359 1143l6 2 0-4zM1450 1143l1 2 3-2-3-3zM1583 1143l1 1 0-2zM1311 1127l2 2 1-2-1-2zM1460 1127l3 2 2-2-2-2zM1373 1119l3 5 3-5-3-5zM1467 1119l1 4 2-4-2-3zM1491 1119l1 0 0-9-1-2-3 2zM1508 1119l1 1 1-1-1-2zM1415 1110l1 3 3-3-3-3zM1287 1102l3 4 3-4-3-4zM1300 1102l1 2 2-2-2-2zM1344 1102l3 4 3-4-3-4zM1485 1102l1 3 0-4zM1479 1094l1 3 2-3-2-4zM1491 1094l0 1 1-1-1-1zM1514 1094l1 0 1-8-2-4-5 1-3 3 3 4zM1543 1094l1 0-1-8zM1268 1086l4 6 4-6-4-6zM1280 1086l4 5 6 0 3-5-3-5-6 0zM1300 1086l1 2 2-2-2-2zM1350 1078l3 5 3-5-3-5zM1397 1078l2 2 2-2-2-3zM1438 1078l2 2 1-2-1-2zM1563 1078l3 2 2-2-2-3zM1450 1070l1 1 1-1-1-6zM1402 1061l3 4 3-4-2-8-1-2-1 2zM1433 1061l1 2 1-2-1-1zM1530 1053l2 4 2-4-2-2zM1559 1053l2 3 2-3-2-2zM1484 1045l2 3 2-3-2-3zM1508 1045l1 2 1-2-1-8-1 0zM1570 1045l2 3 2-3-2-3zM1559 1037l2 3 1-3-1-2zM1328 1029l2 2 2-2-2 0zM1437 1029l3 3 2-3-2 0zM1461 1029l2 2 1-2-1 0zM1565 1029l1 2 2-2-2 0zM1588 1029l1 2 0-2z"/>
<path fill="#423f85" d="M1077 1837l216 0 2-3 6-1 3 4 12 0 0-8 3-5 2 5 3 5 3 3 6 0-3-5-2-3 2-4 12-2 5 0 2-3-2-2-5 0-6-1-6-2-3 5-3 4-3-4-2-3-3-5-1-8-4-8 2-4 6 0 5 1 3 3-3 3-3 5 3 5 6-1 3-4 3-5 2-3 4-4 11 0 6-1 2-3-2-4-6 0-6-1-5 1-4-4 4-4 3-4 2-4 4 4 2 3 3-3 0-9-1-8-2-3-6-1-3 4 0 8-2 4-3-4-3-5-3-3-3-4-3 4 1 8-1 9-3 4-2 4-3 4-3-4 6-8-3-5-6 1-2-5 2-3 3-5 3-3 3-5 2-4 3-4-3-4-2-4 2-3 4 3 2 3 3 5 3 3 2-3 4-4 3 4 2 3 6-1 2-2-2-2-3-6 6-8-3-5-6 1-3-5-2-3-3 3 0 9-3 3-3-3 0-9 6-8 0-8 3-5 2-3-2-3-4-5-2-4-6-1-6 0-5 2-3-5 0-9 3-3 3-5 2-3 4 3 2 3 6 0 2 5 4 5 3-5 2-5 2-3 0-8-2-3-2 3-3 4-6 1-6 0-2-5 2-3 3-5 3-6 2-2-2-3-6-2-11 0-4 5 0 8-2 3-2-3-4-5-4 5-2 4-2-4 0-8-4-5-1-3 1-3 6-1 6 8 6-8 6 0 3-5 2-3 6-2 3 5 3 4 2-4 1-8 3-5 1-3 4-5 6-1 1-2 1-8-2-3-2 3-4 5-3-5-2-3-3 3 1 8-4 3-4-3 1-8 3-5 2-3 1-9-3-4-6 8-6 0-3 5-2 3-2-3 2-6 2-3 0-8-2-3-3-5 0-8 3-5 5 2 6-1 2 4 1 8 3 4 3-4 0-16-3-5-3-3-1-9 2-8 2-5 3 5 3 4 2 4 3 5 4-5-2-8-2-3-2-5 2-4 6 0 4 4 2 3 2-3 0-8-2-2-6-9-2 3-4 4-2-4 2-5 2-3-2-3-5-1-3 4-3 5-6-1-3 4 0 16-3 4-3-4 0-8-2-4-6-1-2-3 2-3 3-5 6-8-1-9-2-4-3-4 3-4 2-4 3-4 3 4 0 8 3 4 4 4 2 3 6 2 3-5-6-8 3-3 3 3 2 3 2-3 0-8 4-5 2-3-2-3-6-1-2-4 2-4 3-4-3-5-5 2-2 3-2 8 4 4 3 4-3 3-4 5-2 4-9-12 3-5 2-3 1-8-3-4-3-5 1-8 2-5 3 5 1 8 2 3 2-3 1-8-1-8-2-3-4-5 4-3 6-3 5 1 3-3-1-8 1-9-3-3-5-1-6-8-6 0-2-4-1-8 1-8 2-5 2 5 4 5 6 6 5 0 3-3-3-3-5 0-3-5 0-17-1-8 4-3 3-5-2-8 2-8-6-8 3-4 5-1 6-1 2-3-2-2-6-1-4-5 1-8-2-4-9 12 6 8-3 4-6 0-2-4-1-8 0-16 3-5 2-3 4-4 6 8 2-4 0-8 3-3 4-5 2-6 2-3 3-8-1-8 2-1 6-2 1-5 4-8 4 8 2 3 6-3-3-8 3-6 3 6 3 3 3-3-1-8 3-5 3 5 3 3 4-3 2-3 1 3 5 2 2-2-2-8-1-1 1-1 2-7-2-3-3-5 3-8 5 6 6-6-6-3-5 3-6-1-2 1 1 8-5 6-3 2-3 3-1-3 1-5 1-3-1-2-5 5-6 5 6 7 1 1-1 2-6 4-5-6 3-8-3-8-1 0-6 7-1 1-4 7-5 1 5 2 3 7-3 3-6 10-5-5-1-6-1 6-5 4-5-1-1-3 1-1 5-6 4-1 2-7 3 7 3 1 2-1-2-8-2-1-5 0-5 3-2-3-3-3-6 2-2 1-9 9 3 8-4 2-5 6-1 0-5-7-6 1-6-1-6 2-3 5-2 4-4 4-2 1-1-1 1-5 2-3-2-3-6-3-6 9-5 0-6 6-6 1-3-2-3-3-5 3-1 0-4 8-1 4-6 0-6-2-4 6 4 8 1 1-7 0-5-7-6 0-1-2-5-5-4 5 4 8 1 1-1 0-5 8 2 8-3 2-2-2 2-8-5-8-4 8-2 3-6 0-6 2-2 3-3 2-4-2-2-4-3 4-3 2-4-2-2-6-1 6-2 8-2 3-6-1-6 0-6 2-5 2-6 0-4-6-2-2-2 2 1 8-5 10-6 0-4-2-1-1-6 1-6-8 0-1 0 1-6 4-5 4-4-8-2-5-5 5-1 8-6 1-5 1-3-2 0-8-3-6-1 6-2 8-3 3-6-1-5 6-6-4 0 133 6-2 5-2 6-2 13 0 4 1 6 3 6 6 3 6 3 7 0 1 2 9 2 16 0 8 1 8 0 33 1 8 0 335zM1209 1226l-2-1 2-2 1 2zM1267 1521l-3-3 3-3 1 3zM1278 1792l-1-4 1-3 3 3zM1290 1775l-2-3 2-3 2 3zM1301 1799l-6-9-1-2 1-4 6 0 2 4 0 8zM1307 1832l-3-3 3-3 3 3zM1324 1712l-2-6 0-8 2-4 6-8 3 4-1 8-2 4-3 4zM1295 1611l-1-3 1-3 3 3zM1301 1604l-2-4 0-16 2-4 9 12-1 8-2 5zM1307 1620l-2-4 2-4 2 4zM1319 1605l-3-5 3-3 2 3zM1330 1605l-2-5 2-5 2 5zM1313 1432l-3-3 3-3 6-1 2 4-2 4zM1330 1228l-1-3 1-3 2 3zM1342 1220l-3-3 3-3 1 3zM1347 1211l-2-3 2-4 4 4zM1267 1268l-2-3 0-8 2-3 2 3 3 6 2 2-2 3zM1278 1766l-2-3 2-2 2 2zM1290 1758l-2-3 2-2 5-2 3 4-3 4zM1301 1766l-2-3 2-3 2 3zM1307 1744l-2-5 2-4 12 0 2 4-2 3-6 1zM1295 1578l-2-2 2-3 3 3zM1301 1415l-3-3 3-4 6 0 6-1 2-3 1-8-1-8-2-4-6-1-2-3 2-5 6 1 3 4 3 3 2-3-2-4-3-4 0-17-3-5-6 0-2-3 2-5 6 2 6-10 3 5-1 8 0 8 1 8-1 9 3 4 3-4 3-5 6 1 6 0 3 4-3 5-6-2-4 5-2 5-2 3-4 3-3 5 0 8-2 4-4 4-2 4-6 0zM1307 1580l-3-4 0-9 3-3 6 1 3 2-3 3-4 6zM1342 1202l-2-2 0-8-4-4-2-4 2-2 4 2 2 3 1 5 1 8zM1278 1733l-2-2 1-8-1-9-4-5-2-3 2-3 6 1 2 2 0 8 6 9-2 3-4 5zM1290 1741l-2-2 2-3 1 3zM1295 1693l-2-3 0-8 2-4 3 4-1 8zM1301 1718l-2-4 2-2 2 2zM1307 1686l-3-4 3-3 3 3zM1313 1661l-3-4 3-3 2 3zM1319 1726l-3-3 3-4 2 4zM1301 1305l-2-7 2-3 3 3zM1307 1368l-2-5 2-2 3 2zM1307 1335l-2-4 2-3 6-1 3 4-3 3zM1324 1326l-3-3-2-4-4-5 1-8 3-3 2 3 0 8 3 4 3-4 1-8 2-4 3-4-6-8-3-5-3-3 3-5 6 2 6 0 3 3 1 8-2 8-2 5-3 3 0 8-3 5-2 4zM1307 1554l-3-3 0-8 3-4 3 4-1 8zM1313 1538l-3-3-3-5-2-3-1-9 1-8 0-8 2-3 2 3 4 5 3 3-3 4-4 4 4 5 2 4 1 8zM1272 1611l-2-3 1-8 1-2 2 2 1 8zM1278 1628l-2-3 2-3 2 3zM1284 1693l-3-3 3-4 2 4zM1290 1717l-2-3 2-2 2 2zM1301 1678l-3-4 3-3 2 3zM1319 1693l-3-3 3-5 2 5zM1301 1261l-2-4 2-3 3 3zM1307 1286l-3-4 6-8 3-5 2 5 1 8-3 3zM1319 1261l-6-8-2-4 2-4 3-4 1-8-1-8 3-4 1 4 1 8 0 24zM1307 1473l-2-3 2-4 2 4zM1272 1448l-2-3 2-3 2 3zM1278 1562l-2-3 2-3 2 3zM1284 1668l-2-3 2-2 3 2zM1290 1637l-2-4 2-3 2 3zM1307 1243l-2-2 2-2 2 2zM1307 1448l-2-3 0-8 2-4 3 4 0 8zM1272 1366l-1-3 1-2 2 2zM1278 1482l-1-4 0-8 1-4 2 4 1 8zM1284 1603l-2-3 2-2 6-2 2 4-2 3zM1290 1619l-3-3 3-2 2 2zM1278 1358l-2-3 2-3 2 3zM1284 1513l-2-3 0-16 2-2 2 2 0 16zM1290 1570l-3-3 1-8 2-3 3 3-2 8zM1278 1334l-2-3 2-3 2 3zM1284 1464l-3-3 3-2 2 2zM1290 1546l-2-3-1-8 3-3 2 3 3 5 3 3-3 3zM1278 1301l-1-3 1-3 2 3zM1284 1366l-2-3 2-2 2 2zM1290 1480l-3-2 3-4 2 4zM1295 1521l-1-3 1-2 4 2zM1278 1259l-2-2 2-2 2 2zM1284 1269l-2-4 2-3 3 3zM1290 1456l-2-3 2-4 2 4zM1295 1489l-1-3 1-3 3 3zM1284 1252l-2-3 2-2 1 2zM1295 1408l-2-4-3-4-2-4 2-4 3-4 2-5 2 5 1 8 0 8zM1290 1333l-2-2-1-8 1-9 2-2 3 2-1 9 0 8zM1295 1366l-2-3 2-3 3 3zM1290 1261l-2-4 2-2 2 2zM1295 1293l-2-3 1-8 0-8-1-9 2-3 3 3 1 9-1 8 0 8zM1363 1837l4 0-2-3zM1368 1829l2 3 3-3-3-4zM1427 1829l1 2 1-2-1-2zM1362 1820l3 5 3-5 0-8-2-8-1-2-2 2-1 8zM1351 1812l2 3 2-3-2-2zM1339 1804l3 4 5 0 3-4-3-4-5 0zM1379 1796l3 4 3-4-3-4zM1379 1780l3 3 2-3-2-4zM1450 1780l1 0 0-1zM1391 1772l2 2 3-2-3-3zM1409 1755l2 2 1-2-1-2zM1356 1747l3 4 2-4-2-4zM1368 1747l2 3 2-3-2-3zM1379 1739l3 3 2-3 1-8-3-4-6 0-3 4 3 4zM1456 1731l1 0 0-1zM1345 1706l2 3 3-3-3-3zM1356 1698l3 4 2-4-2-4zM1345 1682l2 4 3-4-3-4zM1375 1674l1 1 1-1-1-2zM1357 1657l2 2 6 3 3-5-3-4-4-4 0-8-2-3-2 3 0 8zM1380 1649l2 2 2-2-2-2zM1339 1641l3 3 2-3-2-4zM1385 1641l3 4 2-4-2-4zM1363 1633l2 2 5 1 2-3 1-8 0-9-3-3-2 3 0 9-3 5zM1444 1625l1 1 1-1-1-2zM1345 1616l2 4 6-1 2-3-2-2-6-1zM1386 1616l2 3 1-3-1-2zM1362 1600l3 4 2-4-2-4zM1346 1576l1 2 2-2-2-2zM1369 1576l1 2 2-2-2-3zM1380 1576l2 3 2-3-2-3zM1362 1567l3 5 3-5 2-6 6 2 2-4-2-3-4-5-2-3-2 3-3 4-3-4 3-5 2-3-2-3-6 0-6-10-3 5-4 8 0 8 1 2 2-2 4-5 3 5 6 8zM1386 1567l2 3 1-3-1-2zM1328 1559l2 3 2-3-2-3zM1385 1551l3 3 2-3 3-8 1 0-1 0-5-4-3 4zM1374 1543l2 3 2-3-2-3zM1369 1518l1 2 2-2-2-1zM1362 1510l3 4 2-4-2-4zM1368 1494l2 4 3-4 0-8-1-8-2-3-5-1-3 4 6 8zM1380 1494l2 3 6 0 2-3-2-3-6 0zM1397 1478l2 3 2-3-2-3zM1351 1470l2 2 6 0 6-6 3-5-3-4-6 0-3 4-3 6zM1398 1445l1 2 1-2-1-2zM1362 1437l3 3 2-3-2-3zM1404 1429l1 1 1-1-1-2zM1356 1421l3 3 3-3-3-4zM1362 1396l3 4 2-4-2-4zM1391 1396l2 3 3-3-3-3zM1363 1380l2 2 5 0 2-2-2-3-5 1zM1391 1380l2 3 3-3-3-3zM1415 1380l1 2 2-2-2-2zM1433 1380l1 1 1-1-1-1zM1356 1372l3 3 8-12-2-2-6 1-1 1zM1450 1363l1 2 1-2-1-1zM1350 1355l3 4 3-4-3-4zM1357 1347l2 3 2-3-2-3zM1368 1347l2 3 2-3-2-3zM1375 1339l1 2 2-2 1-8-3-4-2 4zM1351 1323l2 2 2-2-2-3zM1362 1323l3 3 2-3-2-4zM1398 1323l1 2 2-2-2-2zM1356 1314l3 4 2-4 4-4 5 0 3-4-1-8-2-2-1 2-4 4-4-4-1-8-1-2-2 2-1 8-6 8 3 5zM1393 1306l0 1 1-1-1-1zM1450 1306l1 2 1-2-1-1zM1373 1290l3 4 3-4-3-4zM1391 1290l2 3 2-3-1-8-1 0zM1350 1282l3 4 3-4-3-4zM1362 1274l3 3 2-3-2-4zM1363 1257l2 3 2-3-2-3zM1027 1249l3 2 2-2-2-3zM1049 1249l4 6 5-6-5-2zM1096 1249l3 5 4-5-4-6zM1351 1249l2 2 2-2 4-6 6 2 2-4 0-8 6-8-6-8-2-9 0-1-1 1-2 9 1 8-4 5-6-1-6 8-2 4 2 4zM1333 1241l3 4 3-4-3-4zM1398 1217l1 1 1-1-1-2zM1375 1208l1 2 1-2-1-1zM1410 1200l1 2 1-2-1-3zM1391 1192l2 3 3-3-3-4zM1300 1168l1 3 2-3-2-2zM1456 1168l1 1 1-1-1-2zM1289 1159l1 1 0-2zM1421 1151l1 1 2-1-2-1zM1278 1143l3-8-3-4-3 4zM1304 1143l3 5 3-5-3-4zM1340 1143l2 5 2-5-2-3zM1426 1143l2 2 5-2-5-5zM1439 1135l1 1 5 0 1-1 4-8 1-5 2-3-2-1-6 2-4 7-1 4zM1375 1119l1 2 2-2-2-2zM1288 1102l2 2 1-2-1-2zM1346 1102l1 2 2-2-2-2zM1269 1086l3 4 4-4-4-5zM1281 1086l3 4 6 0 2-4-2-4-6 0zM1351 1078l2 3 2-3-2-3zM1404 1061l1 2 1-2-1-5z"/>
<path fill="#3d4e8a" d="M1116 1837l176 0 3-4 6-1 2-3 4-4 4 4-4 4-3 4 12 0-1-8 4-7 1-2-1-1-4-7-1-8-4-8 3-5 6-1 5 2 4 4-4 5-2 3 2 4 6-2 2-2 4-7 1-1 5-6 5 1 12-2 1-1-1-2-12-2-5 2-6-6 6-5 2-3-2-4-3-5-3-3-4-5-2-2-1 2 0 8-1 9-4 6-1 2-4 5-4-5 4-5 2-3-2-4-6 2-3-7 3-4 2-4 4-4 3-4-3-4-6 2-6 0-3-6 3-6 6 0 6 1 1-3-1-3-4-5 4-5 2 5 3 4 5 4 1 1 4 7 2 2 1-2 5-6 4 6 1 2 6-2-4-8 4-5 2-3-2-4-6 2-4-7-1-1-2 1 0 9-4 4-4-4 0-9 4-5 1-3 2-8 4-8-1-2-5-6-1-2-12-2-5 2-5-6 1-9-2-2-4-6 4-4 3 4 3 3 2-3 6-8 3-5 2-3 4-8 0-1-6-3-11 0-3 4 0 8-3 4-6-8-3 4-3 5-2-5-1-8-3-4-2-4 2-5 6 0 3-4 3-6 3 6 3 4 6 0 2-4 3-4 6-3 4 7 2 2 1-2 1-8 4-7 0-1 5-7 4-1-4-1-4-7-1-2-1 2 0 8-5 4-3 4-3 7-3-7 3-7 1-1 1-8 4-7 1-1 1-9-2-2-2 2-4 6-6-1-2 4-3 5-6-10-6 10-2 3 2 3 4 5-1 8-3 7-6-1-1 2-5 4-2-4-3-4-6 0-3-4 3-3 6-2 3 5 2 3 3-3 0-8 1-8-4-5-2-3 2-4 6 6 2-2 0-9 4-4 6 1 5 3 1 2 0-11-3-7-1-8-2-3-3 3 0 8-3 5-4-5 0-8 4-5 2-3-2-4-3-4-1-9 2-8-1-8 3-4 6 8 4 4-4 5-3 3 3 4 3 5 1 8 2 2 5 2 6-2 3 6 1 8 2 3 2-3 0-16-2-4-4-4-1-9 2-8 3-6 4 6 2 2 5 10 3-4-2-8-1-1-3-7 3-5 6-1 5 6 1 1 0-9-6-8-6 5-3-5 3-7 1-1-1-1-5-1-2 2-4 7-6-1-2 2 1 8-1 8-4 5-5-5 1-8-1-3-6-1-3-4 6-8 3-5 2-3-1-9-1-2-4-6 4-6 1-2 4-5 2-3 4-7 1-1 1-8-6-9 1-8 3-7 4 7 1 8 1 1 0-1 2-8-1-8-1-1-5-7-1-2-1 2-5 4-2 4 0 8-3 5-3 3-3 5-6 0-6-1-6-6-3-6-2-3-3-5 3-5 2-3 3-6 3 6 2 8-1 8 2 3 6-1 6 0 1-2 1-8-1-8-1-2-6-2-3-4 3-7 6 2 2-3 0-17-2-3-6-1-3-4 3-6 6 2 3-4-3-4-6 2-3-6 3-4 6-1 4 5 2 2 4 6-2 8 2 16-1 9 2 3 2-3 4-7 6 2 6 0 5 5-5 8-6-4-3 4 3 3 6-3 5 2 2-2-1-8 0-9-1-1-5-2-4-5-2-3-6 0-3-5-1-8 1-8-3-4-4-4-1-3-5-6 1-8 4-5 3 5 1 8 1 3 2-3 1-8 3-6 2-2-2-2-3-6-3-3-4-5 4-7 6 3 6 0 3-4-3-4-6 0-3-5-1-8 0-16 4-7 1-1-1-2-2-6 2-5 3 5 3 2 4 6 2 2 1-2 0-8-1-3-4-5 4-4 2-5-2-4-3-4-3-8-12 2-1-2 1-3 6 1 2-6 4-3 4-5 1-8-5-7-7 7 2 8-1 1-6 4-2 3-3 3-3-3-3-4-6 1-6-1-6 2-5 10-6 3-3-3 2-8-5-4-2 4-4 6-5-1-6 6-6 1-6-3-5 3-3 4-2 8-1 1-1-1-5-2-6-3-4 5 4 7 2 2-2 3-5 1-2-4-4-6-6 0-2-3-4-4-3 4 3 7 2 2-2 2-4 6 2 8-4 3-3-3 2-8-4-6-3 6-3 4-6 0-6 3 0 1-5 2-6-2 0-1-6 6-6-4-2 7-3 4-6-2-6 0-5 6-1 1-4-1-13 0-4 8-2 2-6 0-5-2-6 1-6 0-1-1-5-3-4 3-1 1-2-1-3-8-1-3-3 3-1 8-2 1-6 1-5 0-4-2-2-7-2 7-4 4-6-2-5 6 0 1-6-3 0 105 6-3 3-2 2 0 18-6 5-2 6-1 6 0 6-1 5 1 6 0 5 1 1 1 6 3 5 4 1 0 5 7 5 10 1 5 1 3 3 24 0 9 1 8 0 400zM1209 1227l-2-2 2-4 2 4zM1226 1234l0-3 1 2zM1267 1522l-3-4 3-4 2 4zM1278 1793l-2-5 2-4 4 4zM1290 1776l-3-4 3-5 2 5zM1301 1800l-2-4-4-5-2-3 2-5 6-1 3 6 0 8zM1324 1714l-3-8 0-8-2-4-4-4 4-7 3 7 2 3 3-3 3-5 4 5-1 8-3 5-2 3zM1319 1607l-3-7 3-4 3 4zM1284 1514l-2-4 0-8-1-8 3-3 2 3 1 8 0 8zM1290 1571l-4-4 1-8 3-4 4 4-2 8zM1307 1474l-3-4 3-5 3 5zM1290 1334l-3-3-1-8 1-9 3-4 4 4-2 9 1 8zM1295 1367l-3-4 3-5 3 5zM1301 1307l0-1-2-8 2-5 4 5-3 8zM1307 1370l-3-7 3-3 4 3zM1307 1287l-4-5 4-6 2-2 4-7 3 7 1 8-4 4zM1319 1262l-4-5-2-2-3-6-3-5-4-3 4-4 3 4 3 3 2-3 1-8-1-8 4-7 2 7 1 8 0 24zM1324 1218l-2-1 2-3 2 3zM1330 1210l-2-2 2-1 6 0 1 1-1 3zM1267 1268l-3-3 1-8 2-4 2 4 6 8-3 3zM1278 1768l-3-5 3-3 3 3zM1301 1767l-3-4-3-3-5-1-3-4 3-3 5-2 4 5 2 3 3 5zM1290 1547l-3-4-1-8 4-4 3 4 2 4 4 4-4 4zM1307 1449l-3-4 0-8 3-6 2-2 4-5 6-1 3 6-3 6-6-1-2 3 0 8zM1295 1294l-2-4 0-16-1-9-2-3-2 3-4 5-3-5 6-8 3-3 3 3 2 4 6-8 4 4-4 5-2 3 1 9-1 8 0 8zM1319 1203l-2-3 2-2 1 2zM1278 1734l-3-3 1-8 0-9-4-4-3-4 3-4 6 1 3 3 0 8 3 5 2 4-2 4-3 4zM1290 1742l-3-3 3-3 2 3zM1295 1694l-2-4 0-8 2-6 6-6 3 4 3 3 4 5-4 5-4-5-2-3-2 3-1 8zM1301 1720l-2-6 2-3 3 3zM1290 1481l-4-3 4-5 2 5zM1295 1522l-2-4 2-3 5 3zM1284 1253l-2-4 2-3 2 3zM1301 1195l-1-3 1-3 1 3zM1272 1613l-3-5 1-8 2-3 3 3 1 8zM1278 1630l-3-5 3-3 3 3zM1284 1694l-4-4 4-5 3 5zM1290 1718l-3-4 3-3 2 3zM1290 1457l-3-4 3-6 2 6zM1295 1490l-2-4 2-4 4 4zM1272 1450l-3-5 3-4 3 4zM1278 1564l-3-5 3-4 3 4zM1284 1669l-2-4 2-3 4 3zM1290 1638l-3-5 3-4 3 4zM1272 1366l-2-3 2-3 3 3zM1278 1483l-2-5 0-8 2-5 3-4 3-3 2 3-2 4-3 5 1 8zM1290 1620l-4-4 4-3 3 3zM1278 1359l-2-4 2-4 2 4zM1284 1367l-3-4 3-3 3 3zM1278 1336l-3-5 3-4 3 4zM1278 1301l-2-3 2-4 3 4zM1278 1260l-3-3 3-3 3 3zM1322 1829l2 3 3-3-3-4zM1328 1837l5 0-3-4zM1364 1837l1 0 0-1zM1369 1829l1 2 2-2-2-2zM1327 1820l3 4 6-1 6-2 5 0 1-1-6 0-6-2-6-1zM1363 1820l2 3 1-3 1-8-2-8-1 0-1 8zM1340 1804l2 3 5 0 2-3-2-3-5 1zM1380 1796l2 2 1-2-1-2zM1381 1780l1 1 1-1-1-2zM1352 1772l1 1 1-1 1-9-1-8-1-1-6-2-2 3 0 8 2 4zM1393 1772l0 1 1-1-1-2zM1357 1747l2 2 1-2-1-2zM1370 1747l0 1 1-1-1-1zM1322 1739l2 3 2-3-2-3zM1381 1739l1 2 1-2 0-8-1-2-6-1-2 3 2 2zM1346 1706l1 1 1-1-1-1zM1357 1698l2 2 1-2-1-2zM1346 1682l1 2 2-2-2-3zM1339 1665l3 4 2-4 3-7 1-1 0-8-1-1 0 1-5 5-6 2-6 0-1 1 1 1 6 0zM1359 1657l6 3 2-3-2-3-6-5 0-9-1 1 1 8zM1340 1641l2 2 1-2-1-2zM1386 1641l2 2 1-2-1-2zM1364 1633l1 0 5 1 1-1 1-8 0-9-2-2-1 2 0 9-4 7zM1305 1625l2 3 2-3-2-3zM1346 1616l1 2 6-1 1-1-1 0-6-1zM1387 1616l1 1 0-1zM1363 1600l2 3 1-3-1-2zM1353 1584l0 4 0-5zM1370 1576l1 0-1-1zM1381 1576l1 1 1-1-1-2zM1363 1567l2 3 2-3 2-8-4-2-2 2zM1329 1559l1 2 1-2-1-1zM1372 1559l4 2 1-2-1-1zM1357 1551l2 3 2-3 4-7 0-2-6-1-6-9-2 3-4 8 0 4 6-2zM1370 1551l0 4 1-4-1-1zM1387 1551l1 2 1-2 2-8-3-2-2 2zM1375 1543l1 1 1-1-1-1zM1363 1510l2 3 1-3-1-2zM1369 1494l1 2 2-2 0-8-1-8-1-1-5-2-2 3 2 2 4 6zM1381 1494l1 2 6-1 0-2-6-1zM1399 1478l0 1 1-1-1-1zM1352 1470l1 1 6-1 1 0 5-6 2-3-2-3-6 0-2 3-4 8zM1335 1461l1 2 6 1 2-3-2-3-4-5-2-2-6-9-2 3 0 8 2 2zM1347 1453l0 1 1-1 0-8 5-7 1-1-1-2-6 0-1 2-4 5-3 3 3 3zM1364 1437l1 1 1-1-1-1zM1339 1429l3 3 2-3 3-5 2-3-2-3-5 2-1 1zM1357 1421l2 2 1-2-1-3zM1363 1396l2 2 1-2-1-2zM1392 1396l1 2 2-2-2-2zM1317 1380l2 1 1-1-1-2zM1367 1380l4 0-1-1zM1393 1380l0 1 1-1-1-1zM1358 1372l1 1 1-1-1-7zM1361 1363l4 1 0-1zM1351 1355l2 3 2-3-2-2zM1358 1347l1 1 0-2zM1370 1347l0 1 1-1-1-1zM1341 1339l1 1 5 1 1-2-1-2-5 1zM1333 1331l3 4 3-4-1-8 0-9-1-8-1-1-1 1-1 8-4 7-1 2 1 1zM1375 1331l1 7 2-7-2-2zM1353 1323l1 0-1-1zM1363 1323l2 1 1-1-1-2zM1358 1314l1 2 1-2 5-5 5-1 2-2-2-6-5 4-5-6-1-8-2 8-4 5-2 3 2 4zM1339 1298l3 4 2-4-2-8 2-8-2-3-2 3 1 8zM1374 1290l2 2 2-2-2-3zM1393 1290l0 1 1-1-1-3zM1352 1282l1 2 2-2-2-2zM1363 1274l2 1 1-1-1-2zM1340 1265l2 3 5 0 6-2 1-1-1 0-6-2-5-6 1-8-1-2-2 2-4 6-2 2 2 3zM1364 1257l1 1 0-2zM1053 1249l0 1 1-1zM1097 1249l2 3 3-3-3-4zM1353 1249l2-8 4-4 1 4 5 2 1-2 0-8-1-8-6 7-6-2-6 9-1 2 1 2zM1111 1241l0 5 0-6zM1334 1241l2 2 1-2-1-2zM1365 1225l5 2 2-2-2-3zM1344 1217l3 3 3-3-3-4zM1363 1217l2 7 1-7-1-5zM1346 1200l1 2 6 4 2-6-4-8 2-2 6-3 3-3-3-2-6-5-6 4-3 3 1 8zM1392 1192l1 1 1-1-1-1zM1363 1176l2 5 3-5-3-3zM1373 1176l3 6 2-6 1-8-3-3-4-6-2-2-1 2 1 9zM1387 1176l1 1 1-1-1-7zM1410 1168l1 0 0-2zM1393 1159l0 1 1-1zM1386 1151l2 2 1-2-1-2zM1305 1143l2 3 2-3-2-3zM1341 1143l1 1 0-1zM1277 1135l1 5 2-5-2-2zM1270 1086l2 3 3-3-3-3zM1282 1086l2 2 6 0 1-2-1-2-6-1zM1352 1078l1 1 1-1-1-2z"/>
<path fill="#365d8d" d="M1143 1837l149 0 3-6 6-1 6-6 5 5-5 5-2 3 10 0-1-8 1-9-2-16-4-8 4-6 6-1 5 2 5 5-5 6-1 2 1 3 6-2 0-1 4-8 8-8 5 2 6-1 5-1-5-1-6-1-5 1-6-5-6-2-6 0-5 7-5-7-1-8-4-9 4-5 2-3 4-5 2-3-2-3-6 3-6 0-4-8 4-7 12 0 0-3-5-6 5-6 4-3-2-8-1-8-1-3-5-5 2-8-3-8 1-9-1-1-5-7 5-5 4 5 2 2 1-2 4-5 6-9 2-2 3-8-5-3-11 0-3 3 0 8-3 5-4-5-2-3-6 9-3-6-1-8-2-3-1 3-4 7-4-7 4-5 2-3-2-4-5-5 5-4 2-4-2-3-6 0-3-5 3-4 6-3 4 7 1 2 2-2 0-8 1-8-6-8-2-3-5-6 2-8 3-5 5 5-2 8 2 4 6 6 1-1 0-9 5-5 6 1 5-4-3-8-1-8-1-2-2 2 0 8-4 6-5-6 0-8 5-6 1-2-1-2-4-6-2-9 3-8-1-8 4-5 4 5 2 2 5-2 1-2 0-7-6-2-4-5 4-5 2-3 4-7 1-1-1-9 0-1-5-7 5-8 5-7 1-1 5-8 0-1 1-7-1-1-5-8 1-8 3-8-5-2-1 2-1 8-3 6-2 2-4 6-6 1-6-2-6-6-4-7-4-8 3-7 1-1 4-8 4 8 2 8 0 9 6 0 6-2 1-7-1-8-6-2-4-6 4-8 6 2 2-2-1-9 0-8-1-2-6-1-3-5 3-8 6 3 2-3-2-3-6 3-4-8 4-5 6-1 5 6 1 0 5 8-2 8 2 16-1 9 1 1 1-1 5-8 6 2 6-1 4-2-4-2-5-6-1-2-6 0-4-6-2-8 2-8-2-2-5-6 0-2-6-7 1-8 5-6 4 6 1 8 0 1 1-1 1-8 4-7 0-1-4-8-2-2-5-6 4-8 1-1 1 1 5 2 6 0 2-2-2-3-6 0-4-6-1-8 0-16 4-8-2-8-3-6-2 6 1 8 0 24-4 6-5-6-1-1-4-7-2-4-5-4 5-5 5 5 1 2 1-2 1-8-2-8 0-2-6-6 0-1 12-2 5-6 6-3 6 0 2-5-2-5-12 2-2 3-3 6-4-6 4-6 1-2-1-2-5-6-1-2-6 1-6 0-3 1 3 1 2 7-2 6-3-6-3-7-3 7-2 3-6 2-4-5 0-8-2-2-1 2-5 8-5-1-6 6-6 1-6-1-5 3-1 0 1 2 1 6-1 2-6 1-6-3-6-4-3 4 3 6 3 3-3 5-5 2-3-7-3-5-6 0-3-4-3-3-3 3 3 5 2 4-2 3-3 5 2 8-5 3-3-3 1-8-3-5-2 5-4 5-6 1-6 3-5 2-6-2-6 6-6-4-1 5-4 5-6-2-6 0-6 6-17 0-4 7-2 3-6 0-5-2-6 1-6-1-3-1-3-2-2 2-3 2-3-2-3-8-1 0-2 8-3 2-6 2-5-1-5-3-1-3-1 3-5 4-6-1-5 5 0 2-6-3 0 5 1 5-1 2 0 79 6-2 5-3 6-2 1-1 5-1 6-2 5-2 6-2 5-1 1 0 6-1 5-1 6-1 17 0 12 2 6 2 6 4 4 3 1 2 5 6 1 3 2 5 2 9 2 7 0 1 2 16 0 8 1 8 0 417zM1209 1228l-3-3 3-5 3 5zM1226 1235l-1-2 1-5 2 5zM1267 1523l-4-5 4-5 2 5zM1278 1794l-3-6 3-5 5 5zM1290 1777l-3-5 3-6 3 6zM1301 1801l-3-5-3-4-2-4 2-6 6-1 4 7 0 8zM1284 1515l-3-5 0-8-1-8 4-4 3 4 0 8 1 8zM1290 1548l-4-5-1-8 5-5 4 5 1 2 5 6-5 5zM1307 1475l-3-5 3-7 4 7zM1290 1335l-3-4-2-8 2-9 3-5 5 5-2 9 1 8zM1295 1368l-4-5 4-6 4 6zM1301 1311l-1-5-2-8-6-8 0-8 1-8-2-9-1-1-1 1-5 6-3-6-3-4-6 8-5 0-3-4 0-8 3-5 3 5 2 3 3-3 9-12 6 8 4 4 1 2 2-2 4-5 5 5-5 6-1 2 1 9-1 8 0 8 1 2 4 6-1 8zM1307 1372l-4-9 4-4 5 4zM1307 1289l-5-7 5-7 1-1 5-8 4 8 1 8-5 5zM1278 1769l-3-6 3-4 4 4zM1301 1768l-4-5-2-2-5-1-3-5 3-4 5-3 5 7 1 2 4 6zM1295 1523l-3-5 3-4 6 4zM1307 1450l-4-5 1-8 3-7 1-1 5-6 6-1 4 7-4 8-6-2-1 2 0 8zM1290 1226l-1-1-1-8 2-4 1 4 0 8zM1278 1735l-4-4 1-8 0-9-6-8 3-5 6 1 3 4 0 8 3 4 6-8 3 4-3 5-3 4-3 5-2 3zM1290 1743l-3-4 3-4 3 4zM1295 1695l-3-5 0-8 3-7 1-1 5-6 4 6 2 2 5 6-5 6-5-6-1-1 0 1-2 8zM1301 1721l-3-7 3-4 4 4zM1295 1492l-5-10-5-4 5-6 3 6 2 3 5 5zM1272 1614l-4-6 2-8 2-4 4 4 1 8zM1278 1631l-3-6 3-4 4 4zM1284 1695l-5-5 5-7 3 7zM1272 1451l-4-6 4-5 4 5zM1278 1565l-3-6 3-5 3 5zM1284 1670l-3-5 3-4 5 4zM1272 1367l-2-4 2-4 3-4 3-5 3 5 3 4 4 4-4 5-3-5-3-3-2 3zM1278 1484l-3-6 0-8 3-7 6-6 3-4 3-7 3 7-3 5-3 3-3 5-3 4 2 8zM1278 1337l-4-6 4-5 3 5zM1278 1302l-3-4 3-5 3 5zM1322 1829l2 2 2-2-2-3zM1328 1837l4 0-2-2zM1370 1829l1 0-1-1zM1328 1820l2 3 6-2 2-1-2 0-6-2zM1364 1820l1 2 0-2 1-8-1-4-1 4zM1341 1804l1 1 5 1 1-2-1-1-5 0zM1382 1796l0 1 0-2zM1313 1772l6 1 1-1-1-2zM1329 1772l1 7 6-1 6-4 1-2-1-3-4-6-8-8 0 8zM1353 1772l1-9-2-8-5-1-1 1 0 8 1 2zM1323 1739l1 1 1-1-1-2zM1336 1739l6-7 5 7 1 0 0-8 5-7 1-1-1-2-6 1-3 1-2 1-6 5-6 2zM1382 1739l0-9-6 0-1 1 1 1zM1322 1723l2 2 6 3 0-5 1-9 5-7 0-1 2-8 3-8-5-8-2 16-4 6-1 2-3 8-2 2zM1323 1690l1 2 2-2 4-7 6-1-6-2-6-1-5 3zM1347 1682l1 0-1-1zM1340 1665l2 3 1-3 3-8-4-2-5 2zM1362 1657l3 2 1-2-1-1zM1306 1625l1 1 1-1-1-2zM1370 1625l0 2 1-2 0-9-1 0zM1293 1616l2 3 6 0 2-3 3-8-5-1 0 1-6 6zM1311 1616l2 3 6 0 1-3-1-6-1-2-3-8 4-5 4 5-3 8 4 3 5-3-3-8 2-8 2-2 1-6 4-8-5-2-6-1-1 3 1 6 3 2-3 4-2-4-3-2-4-6-2-4-3 4-4 8 1 1 5 7-1 8-4 8zM1336 1616l0 1 0-1 1-8 3-8-4-2-2 2-2 8zM1364 1600l1 1 0-2zM1335 1567l1 6 1-6-1-1zM1364 1567l1 2 1-2 0-8-2 0zM1335 1551l1 1 1-1 1-8 0-8-2-3-4-5-2-9 2-8 3-8 0-8-3-8-2-1 0 9-1 8-5 6-5 2-1 0-5 6-2 2 6 9 1 8 1 0 5 3 6-2 4 7zM1358 1551l1 2 1-2-1-7zM1387 1543l1 5 1-5-1-1zM1352 1535l1 8 1-8-1-2zM1346 1518l1 3 2-3-2-6zM1364 1510l1 1 0-2zM1336 1502l6 8 1-8 4-6 6-1 2-1-2-3-6 1-4-6 1-8-2-1-1 1-4 8-1 8zM1370 1494l0 1 1-1-1-8 0-1 0 1zM1364 1478l1 1 2-1-2-2zM1337 1461l5 2 1-2-1-1zM1358 1461l1 6 6-4 1-2-1-1-6 0zM1330 1453l0 1 6 5 0-7-5-7-1-1-1 1zM1340 1445l2 2 4-2-4-2zM1347 1437l0 2 3-2zM1340 1429l2 2 1-2-1-6zM1343 1421l4 1 1-1-1-2zM1358 1421l1 0 0-1zM1335 1404l1 5 1-5-1-6zM1364 1396l1 1 0-2zM1334 1380l2 2 4-2-4-3zM1346 1380l2 0-1-3zM1352 1355l1 2 1-2-1-1zM1334 1331l2 2 2-2-1-8-1-9 0-6-1 6-4 9zM1376 1331l0 1 0-2zM1364 1323l1 0 0-1zM1352 1306l1 2 6 6 6-7 5-1-5-1-6-7 0-1 0 1-6 6zM1340 1298l2 2 1-2-1-5zM1375 1290l1 1 1-1-1-1zM1341 1282l1 4 1-4-1-2zM1353 1282l1 0-1-1zM1340 1265l2 2 5-1 3-1-3 0-5-4zM1282 1257l2 3 2-3-2-2zM1335 1257l1 2 2-2-2-1zM1098 1249l1 2 2-2-2-2zM1341 1249l1 2 0-2zM1335 1241l1 1 0-2zM1363 1241l2 1 0-11-2 2zM1341 1233l1 1 0-10-6-7 0-1-6-2-2 3 2 1 5 7 1 1zM1352 1233l1 3 3-3-3-1zM1368 1225l2 1 1-1-1-1zM1346 1217l1 2 2-2-2-3zM1339 1208l3 3 1-3-1-2zM1346 1184l1 5 5-5-5-1zM1332 1176l4 3 3-3 0-8-3-4-4 4zM1306 1143l1 2 1-2-1-1zM1278 1135l0 2 1-2-1-1zM1271 1086l1 2 2-2-2-2zM1283 1086l1 1 6 0 0-2-6 0z"/>
<path fill="#306a8e" d="M1165 1837l126 0 4-7 6-1 0-3-1-6 1-2 1 2 5 3 4-3 1-8-1-8-2-8 4-8 3 0-3-8 0-2-5-15-1-6-1 6-5 6-5-6-1 0-5-2-4-6 4-5 5-3 1 0 5 8 0 1 3-1 1-8-3-8 5-8 0-1 5-7 9-9-1-8 0-8-1-2-6-5-6-1-6-7-2 7-4 7-4-7 0-16 4-1 6-6 4-2 2-6 0-8-1-2-5 0-3-8-2-8-1-2-5 10 0 5-1-5-4-8 5-6 2-2-2-3-6-5 0-1 6-5 1-3-1-2-6 0-4-6 4-5 6-3 5 8 0 1 1-1 2-16-3-3-4-5-1-2-6-6 0-1-6-1-4-7 4-6 4 6 2 8 2-8 4-6 5 4 3 2-3 2-2 6 2 3 5-3 1-3 6-3 6 1 3-3-2-8-1-8 0-1-1 1-1 8-4 7-6-5 0-2-6-2-5 0-4-6-2-8 6-7 5 7 0 1 6 6 7-7-1-1-5-7-1-4-6 1-3-6 3-5 6 4 2-7-1-8-1-6-1-2-5-1-3-7-2-3-6-5-6 8-3-8 0-8 3-8 6-6 2-3 1-8 3-8 5-1 1 1-1 1-5 7 3 8-3 6-2 2-6 9 2 7 6-6 4 7 1 2 6 5 0 1 1 8 5 2 5 6 1 1 2-1 3-8-5-2-4-6 4-6 1-2 5-8 0-6-6-1-1 7-5 6-4-6 4-8 3-1 2-8-5-2-5-6 1-8 3-8 1-5 6-2 5-1-5-2-6 1-6-1-6-7-5-8 0-1-4-7 3-8 1-1 3-7 2-2 3 2 1 8 2 7 6-2 2 3 4 2 0-5-3-5-3-1-5-7-1-6-1-2-5-3-5-6 5-7 4-1 2 0 4-16-3-8-1-6 0-2-6-8-1 8 1 8-5 5-4-5-2-8 2-9 4-6 5 6 4-8-2-8-2-3-4-5 1-8 0-8-2-9-6 8-4-8-2-3-2 3-4 5-5 0-4-5 0-8 4-7 4 7 1 2 6-6 3-4 3-5 3 5 8 8 0 1 1-1 5-6 6 6-6 8 0 4 6 2 2-6 2-8-2-8-2-3-6-5 6-6 6 6 1-8-1-5-5-3-1-2-4-6 4-5 6 0 4-4-4-8 4-8-4-7-6 0-3 7 3 8 3 0-3 2-6-1-5 7-1 1-2 8-1 8-2 3-2-3-1-8 3-8 3-1 0-8-3-3-6 1-6 3-6-6-5 0-6 4-6 1-1 0-5 2-1 6-4 4-6 2-6-1-1-5-5-3-2 3 2 5 5 4-5 8 3 8-3 4-2-4-3-7-2-1-1-8-3-4-6 0-3 4 3 2 3 6-3 4-4-4-2-4-2 4 2 8-6 4-4-4 0-8-1-3-1 3-5 7-6 0-2 1-4 3-5 1-6 0-5 4-3 0-4-2 0 2-5 6-6-3-6 0-4 5-2 2-17 0-6 9-6 0-5-1-6 2-6-2-5-2-1 0-5 2-4-2-2-5-2 5-10 5-5-2-6-3-6 5-6-2-4 5-1 2-6-2 0 1 1 8-1 3 0 70 6-2 5-3 6-3 1 0 5-2 6-2 5-2 6-2 2 0 4-1 6-2 5-1 18-3 5-1 18 0 6 1 5 1 12 4 2 2 4 2 5 6 5 8 1 3 2 5 2 8 1 9 1 7 0 1 1 8 0 16 1 8 0 417zM1192 1242l-1-1 1-3 0 3zM1261 1217l-1 0 1-1zM1267 1524l-5-6 5-6 3 6zM1278 1796l-3-8 3-7 6 7 0 4zM1284 1829l-4 0 4-9 0-1 1 1 0 9zM1290 1778l-4-6 4-7 4 7zM1301 1802l-6-9-3-5 3-8 6 0 4 8 0 8zM1290 1744l-4-5 4-5 3 5zM1301 1723l-4-9 4-5 5-3 1-3 2 3-2 3-1 5zM1284 1516l-3-6-2-16 5-5 3 5 1 8 0 8zM1278 1770l-4-7 4-5 4 5zM1278 1736l-5-5 2-8 0-9-3-3-4-5 4-6 6 1 4 5 0 8 2 3 2-3 4-5 4 5-10 15-1 2zM1272 1615l-5-7 2-8 3-4 4 4 2 8zM1278 1690l-1 0 1 0 6-8 4 8-4 6zM1272 1452l-5-7 5-6 4 6zM1278 1632l-4-7 4-5 4 5zM1284 1671l-4-6 4-5 6 5 0 8zM1272 1368l-3-5 3-5 3-3 3-6 4 6 2 4 5 4-5 6-4-6-2-2-2 2zM1278 1338l-4-7 4-6 4 6zM1278 1303l-3-5 3-6 4 6zM1306 1837l8 0-1-8 0-1 0 1-6 7zM1323 1829l1 1 1-1-1-2zM1329 1837l2 0-1-1zM1329 1820l1 2 4-2-4-1zM1323 1804l1 1 4-1-4-1zM1319 1788l5 2 6 5 7-7-1-1-12-4zM1345 1788l2 1 4-1-4-1zM1317 1772l2 0 0-1zM1329 1772l1 3 12-2 1-1-1-2-5-7-1-1-4 1-2 5zM1347 1763l0 1 3-1-2-8-1 0zM1308 1755l5 2 1-2-1-5zM1314 1747l5 2 1-2-1-2zM1334 1731l2 3 3-3-3-1zM1323 1723l1 1 4-1-4-5zM1351 1723l2 0 0-1zM1329 1714l1 3 0-3 3-8-3-1-1 1zM1335 1698l1 6 1-6-1-5zM1324 1690l1 0 5-8-6-1-2 1zM1306 1674l1 1 4-1-4-6zM1341 1665l1 2 1-2 0-8-1-1-2 1zM1318 1657l1 1 0-1 5-6 2-2-2-5-2-3 2-3 4 3 2 1 1-1 2-8-3-2-11 0-2 2 0 8-4 6-6 2 6 2zM1305 1641l2 8 2-8-2-2zM1294 1616l1 2 6 0 1-2-1-6-6 5zM1312 1616l1 2 6 0 1-2-1-3-3-5-2-8-1-6-2 6-2 8zM1322 1608l2 1 3-1-2-8-1-5 0 5zM1334 1608l2 4 0-4 2-8-2-1-1 1zM1314 1592l5 1 4-1-4-8 0-1-4 1zM1311 1576l2 7 1-7-1-3zM1324 1576l0 2 5-2-5-1zM1335 1543l1 7 1-7 0-8-1-1-4 1zM1320 1535l4 2 5-2 1-3 1-5-1-4-6-3-1-2 1-1 6-2 1-5-1-8-6 7-3 1-2 4-6 3-1 1 1 2 5 7 1 3zM1347 1518l0 1 1-1-1-2zM1340 1502l2 3 0-3 5-8 2 0-2 0-4-8-1-5-3 5 0 8zM1341 1461l1 1 0-1zM1359 1461l0 2 6-2zM1313 1445l0 1 0-1 1-8-1 0zM1341 1445l1 1 1-1-1-1zM1324 1437l2-16-2-9 1-8 2-8-3-1-1 1 0 8-4 8-1 0 1 8 2 1 3 8zM1341 1429l1 0 0-2zM1335 1380l1 1 2-1-2-1zM1310 1372l3 1 1-1-1-9 1-8-1-1-6-1-6 2 6 3 6 5zM1300 1363l1 7 1-7-1-7zM1333 1363l3 1 6 0 1-1-1 0-6-8-6-1-5-7-1-5-1 5 1 8 0 3 6 1zM1309 1339l4 2 1-2-1-2zM1322 1331l2 3 1-3-1-1zM1335 1331l1 1 1-1-1-7zM1302 1323l5 2 6-2 4 0-4-4-6-5 6-3 0-8-3-5 3-2 6 3 2-1 3-3 1-5-1-1-5-3-12 4-1 8 0 16zM1324 1306l0 5 1-5-1-5zM1352 1306l1 1 6 0 2-1-2-1-6 0zM1341 1298l1 1 0-3zM1301 1290l0 1 6-1-6-8 0-1 0 1zM1318 1274l1 4 2-4 3-4 2-5-2-7-5 6-4 1zM1327 1274l3 1 6 0 1-1-1-2-6 0zM1341 1265l1 1 0-1zM1283 1257l1 2 1-2-1-1zM1099 1249l0 1 1-1-1-1zM1324 1249l0 4 1-4-1-8 2-16-2-4-1 4 1 8 0 8zM1347 1217l1 0-1-1zM1201 1208l2 4 2-4-2-2zM1341 1208l1 1 0-1zM1324 1200l0 2 6 0 6 1 1-3-1-3-6 1zM1294 1192l1 3 1-3-1-3zM1334 1176l2 1 1-1-1-8 0-1-1 1zM1272 1086l0 1 1-1-1-1z"/>
<path fill="#2a778e" d="M1184 1837l80 0 3-1 0 1 23 0 0-6-6 0-6 2-6-3 0-4 6 0 4-6-4-6-1-2 1-2 5-6-5-6-1-2-3-8-2-7 0-1-3-8 3-4 1-5-1-5-5-2-3-1 3 0 5-7 1 7 5 3 5 5-5 8-2 1-1 8 3 0 6 5 2 3 4 7 1-7 1-8-2-1-5-7 5-8 3-1-3 0-4-8 4-6 3-2-3-2-4-6 4-6 4 6 1 5 4 3 2 5 2-5-2-7 0-2 4-7-4-5-3-3-2-9 5-6 3-2-3-6-4-2-2 0-4-8-1-8 0-4-2-4-4-2-4-7-2-5-5-3 5-2 2 2 10 5 2 3 3 5 6-4 2-1 2-8-4-6-1-2-3-8-1-8-1 0-4 8 1 8-2 2-3-2-3-7 0-9 6-6 1-2-1-2-6-3-1 5-2 8-3 1-1-1-4-8 5-6 4-3 2-4 6-2 1-2-1-1-6 0-4 1-2 1-6 7-5-7-1-1 1-1 2-7 3-5 5 5 1 7 1-7 5-5 4-3 2-3 3 3 2 4 1-4 1-8-2-2-5-6 0-1-6-5-4-3-2 0-5-8 5-7 4 7 2 6 1-6 5-7 5 2 3-3-3-1-5 0-5-7-1-6-4 6-2 5-2-5 1-8 1-2 4-6 2-2 3 2 3 0 5 8 6 3 5-3-5-7 0-1-6-2-4-7 4-6 6 3 2-5-2-8-6-8-5-10-6-4-4 6 4 2 4 6 1 8 0 8-5 7-4-7 0-8-2-8-6-7-5-1-1 0 1-1 5-1 2-6 0-8-2-7 0-10-5-7-6 1-1-2 1-5 6-1 5-1 5 7-4 8 5 7 6-5 1-2-1-7-1-1 0-8-1-8 2-1 6-2 2 3 3 3 3 5-3 3-3 5 2 8-4 7-2 1-4 7-1 2 1 4 6-4 5-6 3 6-3 4 0 5 5-1 1-2 1-6 3-9 2-3 2-5-2 0-6-8 1-8 2-8 1-8-4-1-6-5-5 1-2-4 1-8-4-8 2-8-3-5-1-3 1-2 6 2-2-8-4-2-5-7-1-1-1 1-5 6-3-6 3-6 2-2 4-7 4 7 2 3 5-3 1-1 5-1 6-1 1-5 1-8-2-6-6-1-5 5-5-6-1-7-2 7-2 8-2 4-1-4-4-8 5-7 4-1 2-2 1-7 5-7 5 5 3-6-1-8-2-2-5-6 1-8 0-8-1-7-6 7 2 8-2 3-6 0-1-3 0-8-5-3-5-1-5-5 1-8 4-8 5 8 0 1 6-6 6-9 4 6 2 2 5-2 0-2 3 2 3 1 6 5 1-6-1-2-6 0-2-6 2-5 6-2 6-1-6-5-6 1-6-12-1 8-4 4-4-4-1-8 2-9 3-6 0-2-7 0-5 4-6-6-4 2 4 5 1 3-1 2-5 1-1-3-5-7-6 2-4 5-2 2-5 4-6 2-2 1-4 0-3 8 1 8-4 5-3-5-2-5-3-3-1-8-2-3-6 1-2 2 2 1 4 7-4 5-5 3-1 0-6 5-4 3-1 2-2-2 2-6 0-11-1 1-5 8-6 0-6 6-5-2-6 2-2 2-4 1-6-1-5 7-6-3-6 0-4 4-2 3-5-1-12 0-3 6-3 4-6 0-5-2-6 3-12-4-5 2-5-3-1-2-1 2-5 3-6 3-5-2-6-3-6 5-6-2-4 4-1 3-5 6-1 4 0 63 6-3 5-2 6-3 12-4 5-2 12-4 1 0 5-2 5-1 12-2 6-2 5-1 6-1 12 0 6-1 5 0 6 1 8 0 4 1 5 2 6 2 6 4 6 5 2 3 3 7 1 1 3 8 2 8 0 4 1 4 1 9 0 8 1 8 0 41 1 8 0 392zM1249 1233l-2-8 2-2 2 2zM1255 1323l0-9 1 9zM1261 1716l-1-2 1-4 0 4zM1267 1692l-2-2 7-7 6 5 5-6 1-3 3 3 2 8-5 7-6-5-6 2zM1272 1731l2-8 0-9-2-2-5-6 5-7 6 2 5 5 0 8 1 2 1-2 5-6 4 6-4 7-2 2-4 7 0 1-6 6zM1278 1748l-4-1 4-1 1 1zM1267 1551l-1 0-1-8 2-1 1 1zM1272 1584l0-1 4-7 2-6 2 6 4 5 2 3-2 2-6-2zM1261 1434l-2-5 2-1 1 1zM1267 1320l-1-6 1-4 0 4zM1272 1430l0-10 6 0 0 3-4 6zM1278 1304l-4-6 4-7 5 7zM1278 1227l-3-2 3-4 2 4zM1284 1234l-1-1 1-1 0 1zM1065 1266l-1-1 1-4 1 4zM1261 1634l-2-1 2-1 2 1zM1267 1525l-6-7 6-7 3 7zM1272 1381l0-2 1 1zM1278 1400l-1-4 1-1 1 1zM1261 1617l-1-1 1 0zM1261 1220l-3-3 3-2 2 2zM1291 1829l7 0 0-9 3-7 3 7 3 2 3-2-1-8 0-8-1-8 3-8 0-8-2-8-2-9 0-2-1 2-5 7-6-5 0 13 6-3 3 5 2 8 0 8-5 8-2 0-4 3-2-3 2-2 2-6-2-2-4 2-1 2-4 6 0 8 4 5 1 3zM1307 1837l6 0 0-4zM1324 1829l1 0-1-1zM1330 1820l0 1 1-1zM1322 1788l2 1 5-1-5-2zM1340 1772l2 0 0-1zM1335 1763l1 4 0-4zM1312 1755l1 0 0-1zM1316 1747l3 1 0-2zM1324 1723l2 0-2-2zM1306 1714l1 7 12-6 0-18-4 1-2 2-2 6-4 6zM1304 1698l3 2 4-2-4-3-2-5-4-5-1 5 1 5zM1336 1698l0 2 0-3zM1307 1674l1 0-1-2zM1341 1665l1 1 0-3zM1311 1649l2 1 6 4 5-4 1-1-1-2-4-6 4-6 6 3 1-5-1-1-11 0-1 1 0 8-5 7zM1306 1641l1 4 1-4-1-1zM1295 1616l0 1 6 0 1-1-1-1zM1315 1616l4 1 0-1zM1311 1608l2 8 2-8-2-8 0-2-1 2zM1318 1592l1 0 0-2zM1312 1576l1 4 1-4-1-2zM1294 1567l1 2 4-2-4-4zM1303 1559l4 1 6 1 2-2-2-8 0-5-1 5-5 8zM1323 1535l1 1 2-1 1-8-3-2-2 2zM1313 1518l0 1 6 3 1-4-1-1zM1325 1510l5 2 1-2-1-3zM1305 1494l2 1 6 5 2-6-2-1-5-7 5-7 1-1 1-8-2-2-1 2-5 7-4 1 1 8zM1341 1486l1 2 0-3zM1311 1421l3 0-1-1zM1324 1404l0 3 1-3-1-8zM1300 1388l1 4 5-4-5-8 0-1 0 1zM1291 1372l4 4 4-4-4-2zM1312 1372l1 0 0-1zM1301 1363l0 3 1-3-1-2zM1304 1355l3 2 6-2-6-1zM1324 1347l0 4 1-4-1-2zM1311 1339l2 1 0-2zM1295 1323l0 6 3-6-3-4zM1304 1323l3 1 5-1-5-5zM1309 1290l4 3 4-3-4-1zM1329 1274l7 0 0-1-6 0zM1277 1265l1 7 2-7-2-2zM1318 1265l1 8 5-5 1-3-1-3-5 3zM1202 1225l1 6 1-6-1-2zM1323 1225l1 4 1-4-1-2zM1202 1208l1 2 1-2-1-1zM1224 1208l2 4 4-4-4-2zM1298 1208l3 6 5-6-5-4zM1305 1192l2 5 6-5-6-4z"/>
<path fill="#25838e" d="M1201 1837l55 0 5-3 6-1 2-4 3-9 1 0 5 4 2-4-2-3-2-5 2-5 2-3-2-2-3-6-1-8-2-5-2-3-3-7-6-1 0-1-1-8-5-8 0-1 6-1 6 0 4-6 1-8-5-8-1 0 1-1 5-2 2-5-1-9-1-1-5-6-4 7-2 5-3-5 0-8 3-5 6 1 3-4-3-2-3-6 3-4 4-4-4-8 3-9-3-8 5-2 6-3 3 5 3 2 6 1 4-3-4-3-6-6-2-7-4-4-3-4-3-12-1-5-4-5-3-3 3-2 1-6 4-6 6 6 0 4 1-4 5-6 3-2-3-4-6-1-6 0-2-3 2-4 3-4 1-9-4-7 0-2 4-7-2-8 2-8 2-7 1-1 5-6 6 3 0-12-6 6-5-8 0-8-1-5-1-3-5-5-5 0-3-3 3-3 5-1 2-4 0-8-2-5-1-4 1-8-5-6-6 5-2-7 1-8-4-8 5-2 4 2 2 3 1-3 3-8 1-5 6-4-1-8-2-8 3-3 3 3-1 8 0 8 1 9 3 4 6-4 5 8 1 0 5 10 0-2 2-8-2-8-6-4-5 3-5-8 1-8-1-8 0-8-1-1-3-7 3-5 2-3-2-2-6-7-6 6-4-6 4-7 1-1 3-8 0-8-4-7 0-2 6-7 0-11 6 6 1-4 3-8 0-16-4-2-6 1-4-7 2-8-4-2-5-1-5 3 5 7 1 1-1 0-6 5-1-5 0-8 1-3 1-6 0-8 3-8 2-7 2 7 3 6 6-4 1-2 5-7 5-1 2 0-1 0-1 8 1 1 3-1 2-7 1-1 2-8-2-8-1-1 0 1-5 6-3 2-3 4-2-4-4-4-6-4-1 0 1-3 6-4 3-1 2-9-5-1-2 1-4 6-5 0-2-6-4-6-6 5-6 6-5 3-6 6-6 1-1 2 0 8-5 6-4-6-1-3-4 3-2 2-2-2-4-3-4 3-2 2-6 3-3 3-2 3-2-3-4-7-6 0-6 7-5-3-6 3-6 2-6-1-5 7-6-4-6 0-3 4-3 3-17 0-3 5-3 4-6 0-5-1-6 3-6-3-6-1-5 1-5 5-1 2-1-2-5-5-6 5-5-4-6-2-6 5-6-3-3 4-6 9-2 5 0 57 6-2 5-3 6-2 6-3 9-3 2-1 18-6 5-2 18-3 5-2 18-3 6 0 5-1 23 0 6 1 2 0 4 1 6 2 5 3 6 2 0 1 6 6 1 2 5 8 4 16 1 8 0 3 1 5 1 9 0 24 1 8-1 8 1 9 0 49-1 8 1 8 0 8 1 8-1 8 1 8 0 9-1 8 3 8-3 8 0 16 1 9-1 8 0 24 2 8-1 9-1 8 0 32-1 9 2 8-1 8 0 24-1 9 1 8 2 8-2 8-1 8 1 8 0 41-1 8 1 8 0 9zM1249 1814l0-11 6 0 1 1 2 8-3 2zM1261 1823l-1-3 1-4 2 4zM1255 1693l-1-3 1-1 1 1zM1261 1676l-3-2 3-3 6 3zM1267 1657l-4-8 2-8-4-5-5-3 5-3 6 3 1 8 0 8zM1267 1555l-4-4-1-8 5-3 3 3 0 8zM1272 1503l0-1 1 0zM1261 1403l-1-7 1-4 2 4zM1267 1342l-1-3 1-1 1 1zM1272 1384l-2-4 2-3 3 3zM1278 1305l-4-7 4-8 5 8zM1261 1243l-3-2 3-2 5 2zM1249 1731l0-1 1 1zM1261 1797l-1-1 1-1 6-3 2 4-2 2zM1255 1669l-1-4 1-1 2 1zM1261 1619l-2-3 2-3 2 3zM1261 1223l-5-6 5-4 4 4zM1249 1702l-1-4 1-2 4 2zM1261 1783l-6-3 0-9 4 1 2 0 2 8zM1255 1504l-1-2 1-2 1 2zM1261 1598l-2-6 2-2 3 2zM1261 1360l-2-5 2-2 1 2zM1249 1595l-1-3 1-3 2 3zM1261 1539l-2-4 1-8 0-9 4-8 3-1 1 1 3 8-4 8-3 1-2 8zM1249 1544l0-2 2 1zM1249 1471l0-3 6 1 1 1-1 1zM1249 1248l0-7-4-8-1-8 5-5 3 5-1 8 1 8zM1255 1405l-2-1 4 0zM1255 1349l-1-2 1-3 1 3zM1255 1331l-2-8 0-9 2-3 2 3 4 8 3-8 2-8 1-1 0 1 1 8-1 9 0 1-6-1zM1255 1301l-5-3 5-4 6 3 0 1zM1270 1837l7 0-5-3zM1279 1837l9 0-4-4zM1294 1820l1 5 1-5 2-8-3-2-3 2zM1306 1820l1 1 1-1-1-5zM1289 1804l1 3 0-4zM1293 1796l2 2 1-2-1-1zM1307 1796l0 6 0-6 2-8-2-8 0-1 0 9zM1287 1788l3 5 1-5-1-6zM1280 1780l4 2 3-2-2-8-1-9-4 9zM1295 1772l0 1 6-1-6-2zM1265 1763l2 4 5-4-5-1zM1275 1755l3 2 6 6 1-8 5-7 2-1-2-1-5-7-1-6-6 5-3 1 3 2 4 6-4 3zM1295 1739l0 3 4-3 2-5 2-3-2-3-5-5 0-9 5-7 2-1-2-3-6-2-1-3-4-8 0-8 0 8-6 8-6-4-5 4 5 2 5 6 0 8 1 1 1-1 5-6 5 6-5 8-1 1-3 8 4 1zM1301 1690l0 2 2-2-2-2zM1274 1682l4 4 3-4 3-6 2-2-2-1-5-8-1-3-3 3-2 9zM1294 1665l1 2 5-2 1-1 2-7-2-3-3 3-3 5zM1294 1649l1 5 3-5-2-8-1-5-2 5zM1284 1625l0 2 6-1 0-2-6 0zM1273 1616l5 2 3-2-3-5zM1285 1608l5 1 0-1zM1312 1608l1 2 0-6zM1287 1584l3 3 5 3 1-6-1-1-5-7-1 0-5-3-2 3 2 3zM1295 1567l0 1 2-1-2-2zM1283 1559l1 4 1-4 4-8-5-8 0-2-1 2-3 8zM1311 1559l2 1 0-6zM1291 1527l4 4 3-4-3-1zM1291 1510l4 1 6 2 1-3-1-4-6-8-2-4-3-8 0-1-6-3-3 4 3 1 5 7 1 8 0 2zM1306 1486l1 3 0-6zM1312 1478l1 0 0-1zM1283 1470l1 1 2-1-2-1zM1301 1470l0 1 0-10 4-8-4-4-2-4-4-3-1 3 1 8 0 5 6 3zM1289 1461l1 4 3-4-3 0zM1276 1453l2 2 6 0 1-2-1-4-4-4 2-8-4-6-6 5-1 1 1 0 6 8zM1301 1388l0 1 2-1-2-3zM1294 1372l1 1 2-1-2-1zM1283 1355l1 2 3-2 3-4 5-2 6 1 1-3 0-8-1-1-6-2-5 2-5-7-1-4-1 4 0 8 1 2 2 6-2 2zM1306 1355l1 1 2-1-2 0zM1295 1323l1 0-1-1zM1306 1323l2 0-1-2zM1290 1306l5 4 2-4-1-8-1-1-3 1zM1312 1290l1 1 1-1-1 0zM1288 1282l2 6 0-6 1-8-1-4-4 4zM1277 1265l1 4 1-4-1-1zM1304 1249l3 2 0-2zM1203 1225l0 1 0-2zM1214 1225l1 4 2-4-1-8-1-2-6 1-1 1 1 0zM1282 1225l2 3 1-3-1-6zM1225 1208l1 3 3-3-3-1zM1301 1208l0 1 1-1zM1307 1192l0 1 2-1-2-1z"/>
<path fill="#21918c" d="M1213 1837l40 0 2-3 6-3 6-2 3-9 4-8 3-8-3-8-1-8-1-3-4-5-1-3-1 3-5 6-6-4-1-2-3-8 4-4 3-5-3-4-2-4-4-5-1-3 1-3 6-4 1 7 5 4 6 0 2-4 1-8-3-5-2-3 2-3 5-2 1-3 0-9-1 0-5-4-3 4-3 9-5 0-1-9 0-2-6-4-1-2-1-8 2-5 6-6 4 3 2 3 1-3 5-6 2-2-2-5-6 3-6-6 0-1-2-8 2-4 4 4 2 3 6-1 0-3-2-7-4-6-1-2 1-2 2-6-2-2-6 3-6 7-1-8 1-5 3-3 3-7 6 3 6 1 4 3-1 8 0 8 2 4 8-4 0-8-2-2-5-6-2-8-2-9-2-3-3 3-3 4-4-4 4-5 2-3-2-5-4-3 1-8 3-4 6 3 0 1 5 1 6 7 6-7 2-1-2-2-6 1-6-2-4-5 4-8 1 0 0-9-1-1-4-7-1-1-6-4-2-3-4-5-6 4-2-7 2-4 6-3 1-1 2-8-1-9 2-8 2-1 6-2 4 3 1 8-3 9-2 1-4 7 4 3 5 4 3-7 0-8 3-4 5-5-4-8 0-8-1-2-2 2-4 5-2-5 2-3 3-5-3-3-5 0-6-5 6-6 5 0 1-2 0-8-3-9 1-8-4-5-5 5 0 8-1 3-1-3-4-8 2-8 1-8-4-7-3-1 3-2 6-1 6 1 3-6 2-9 0-4 1-4 1-8 4-5 4-3-2-8 4-8 1 0-1-1-6-5-6 4-4-7 4-7 1-1-1-6-2-2-3 0-2-8 2-2 3 2 2 8 3-8-3-4-1-4 1-2 5-6 0-9 1-6 3-2-3 0-5-8 3-8-4-8-5 3-5 5 1 8-2 3-6 3-6-2-1-4 1-4 6-4 1 0 2-8 1-8 2-7 0-2 2-16-2-4-6 4 2 8-2 2-6-1-1-1 0-8-1-8-3-7-6 0-4-1-2-3 0 3-6 8-5-8 0-2-6 6-3-4-3-2-3 2-3 4-6 2-2 2-3 5-3-5-3-6-6 1-4 5-2 1-1-1-4-2-5 2-1 1-6 2-6-1-5 6 0 1-1-1-5-3-6 0-3 3-3 4-17 0-3 4-3 5-6 0-5-1-6 3-6-3-6-1-5 1-4 4-2 3-2-3-4-4-5 4-1 1 0-1-5-3-6-3-6 6-6-3-3 3-2 4-4 5-2 6 0 52 2-1 4-1 5 0 6-6 4-1 2-1 11 0 6-6 3-2 9 0 5-1 6-4 9-3 3 0 5-2 24-4 5-1 6 0 5-1 30 0 5 1 6 1 6 2 8 4 3 4 6 4 1 0 5 7 6 0 0 6-2 4 0 8-2 8 2 16 2 5 1 4-1 6-1 2 1 1 0 12-2 3 4 8 4 7 0 8-6-6-5 8 5 7 6-7 2 8 0 8-2 4-6-3-3 7-3 8 6 8 3 0-3 4-3 5 3 7 0 2-1 7-2 8 3 7 0 1 1 8-1 5-1 3 0 9-1 8 0 8-1 8 3 4 3 12-3 8 0 1-2 8 2 3 5 5-5 6-2 2-1 8 1 8 2 4 1 5-1 8 0 1-2 7 2 6 0 8-1 2-1 8 2 4 6-2 2 7-2 5-5 3 0 8-1 7 0 1-2 8 2 6 1 2-1 7 0 2 6 3 1 5-1 2-6 0-4 6-1 8 5 6 6 2 1 0-1 2-6 6 0 1-4 16 3 8 1 2 5 6 1 2 0 9-6 4-1 1 1 2 6 2 1 4-1 4-6 0-1 5zM1226 1423l-5-2 5-1 1 1zM1238 1724l-1-1 1-2 0 2zM1261 1826l-3-6-3-4-6 1-2-5 0-8 2-3 6 0 3 3 3 8 6-1 2 1-2 3-3 5zM1249 1734l-2-3 2-8 0-2 6 2 1 8-1 7zM1249 1682l0-1 1 1zM1249 1599l-2-7 2-8 2 0 4-1 0 2-3 7zM1261 1577l-1-1 1-2 3 2zM1249 1528l0-2 1 1zM1261 1413l-4-1-2-1-6-5-1-2 1-1 6-1 4-6-4-8 6 0 4 8-1 8-2 8zM1272 1387l-3-7 3-5 4 5zM1151 1266l0-9 1 8zM1174 1259l-1-2 1-1 1 1zM1221 1364l-1-1 1-1 0 1zM1221 1530l-6-3 6-2 3 2zM1221 1708l-2-2 2-1 0 1zM1221 1785l-4-5 4-3 1 3zM1226 1405l-2-1 2-1 1 1zM1249 1768l-1-5 1-2 2 2zM1261 1799l-2-3 2-5 6-2 4 7-4 4zM1249 1512l-1-2 1-3 6-10 3 5-3 6-3 2zM1249 1367l-1-4 1-6 2 6zM1255 1351l-2-4 2-6 3 6zM1261 1376l-2-4 1-9-2-8 3-3 2 3-2 8 3 9zM1249 1474l-1-4 1-7 6 4 3 3-3 4zM1255 1336l-2-5-2-8-1-9 5-6 4 6 2 5 2-5 1-8 3-3 2 3 0 8-1 9-1 2-6 1-4 5zM1281 1837l5 0-2-2zM1277 1820l1 1 1-1-1 0zM1288 1788l2 2 0-5zM1283 1772l1 4 0-6zM1277 1755l1 1 6 2 0-8-6 3zM1280 1739l4 6 0-9zM1295 1739l0 1 1-1-1-4zM1288 1731l5 0-3-7zM1284 1714l6-7 5 3 6-4-6-2-4-6-1-4-4 4-2 6 0 2zM1276 1698l2 1 4-1-4-2zM1276 1682l2 2 2-2 3-8-5-9-2 9zM1283 1657l1 1 6 0 1-1-1-1-6-2zM1295 1641l0 6 1-6-1-2zM1275 1616l3 2 2-2-2-3zM1262 1600l5 4 1-4-1-7zM1289 1584l1 1 5 1 1-2-1-1-5-1zM1284 1576l1 0-1-1zM1295 1567l0 1 1-1zM1284 1559l0 1 0-1 1-8-1-3-1 3zM1295 1527l1 0-1-1zM1300 1510l1 1 0-1zM1289 1494l1 4 1-4-1-8-6-2-1 2 1 0zM1281 1453l3 1 0-2zM1295 1453l1 0 0-8-1 0zM1275 1437l3 5 2-5-2-3zM1284 1421l1 0-1-2zM1294 1421l1 2 2-2-2-1zM1283 1396l1 4 0-6zM1283 1355l1 1 2-1-2-3zM1288 1339l2 8 4-8-4 0zM1284 1331l0 2 0-3zM1284 1314l0 1 0-2zM1294 1306l1 1 1-1-1-6zM1263 1274l4 5 5 3 2-8-2-2-5 0zM1288 1274l2 7 0-9zM1271 1249l1 3 6-2 1-1-1-4-2-4 4-8-2-2-6-3-5-3-6 1-3-1-3-5-1 5-2 8 3 7 6-3 6 2 2 2zM1289 1249l1 1 1-1-1-2zM1289 1233l1 1 1-1-1-1zM1215 1225l0 1 0-9zM1248 1217l3 0-2-1zM1226 1208l0 1 1-1-1-1zM1256 1208l5 4 3-4-3-4z"/>
<path fill="#1e9d89" d="M1226 1837l25 0 4-5 5-3-3-9-2-2-6 2-4-8 0-8 4-5 6 0 3-3 2-8-5-4-3-4-3-7-1-1-3-9 4-5 2-3-2-2-3-6 3-5 3-3-3-3-4-5 2-8 2-5 3-4-3-3-5 3 0 1-1-1 1-4 0-4 1-8 4-7 1-1-1-2-2-6 1-8 1-1 3-8 3-6 6 6 0 1 0-1 2-8-2-3-2-5-4-5-4 5-2 3-5-3 4-16-1-8 1-9 0-8-1-8-2-8 2-8 2-7 6 3 3 4 3 3 6-3 0-1-6-4-3-3 3-6 6 1 2-4-2-3-5-5-1 0-6-8-6 5-1-5-4-8 5-7 1-1-1-1-2-7 2-4 6 8 2-4-2-8 0-1-6-4-3-4 3-7 1-1-1-2-1-6 1-3 9 3 1 8 2 4 6-1 2-3 4-8-1-1-5 0-6-1-3-6 3-6 6-2 4 0 1-1 1-7-1-1-3-8 1-8-3-4-4 4 0 8-3 9-5 7-5 1-1 0-3-8-2-8-6 3-4-4-2-3-3-5-3-3-2 3-2 8 0 9 4 4 1 4-1 1-5 7 3 8 2 8-3 8-2 7-1 1 1 1 5 0 3-1 2-8 2 0 0 8-1 8 0 1-8 8 2 2 12 2 4 4-4 5-2 3-3 8 0 8-1 4-2-4-4-6-2 6 2 5 3 4-3 4-1 4 1 4 5 4-2 8-6 8 3 6 3 2-3 5-2 4 0 8 2 4 6 1 4 3-4 4-6 1-3 3 3 2 3 6 0 8-1 9 0 8-2 6 0 3 4 7-1 8 6 8 3 3 2 6-2 6-3 2-3 6-2 2 2 2 2 6-2 7-1 1-2 8-3 8 0 2 3 7 3 8-6 5 0 3-1 8 1 8 1 0 1 8-2 2-3 7zM1238 1496l-3-2 3-3 1 3zM1238 1708l-1-2 1-1 5 1zM1238 1693l-5-3 5-3 2 3zM1238 1634l0-1-1-8 1-3 1 3-1 8zM1238 1597l-4-5 4-2 2 2zM1266 1820l1 2 0-2zM1259 1804l2 4 6-1 4-3-4-2-6 0zM1272 1796l0-9-1 1zM1254 1763l1 2 1-2-1-1zM1222 1747l4 2 2-2-2-3zM1259 1747l2 1 6 0 1-1 0-8-1-3-4 3-2 4zM1220 1739l1 3 0-3zM1226 1731l0 2 1-2 5-5 2-3-2-4-6 0-2 4zM1258 1731l3 6 2-6-2-5zM1264 1723l3 2 5-2 1 0-1-3-1-6-4-2-2 2zM1253 1682l2 2 4-2-4-4zM1265 1682l2 0 0-1zM1272 1649l0 1 3-1 2-8-5-5-1 5zM1257 1625l4 2 6-1 1-1 0-9-1-1-1 1-5 6zM1277 1616l1 1 1-1-1-1zM1264 1600l3 2 0-6zM1254 1592l1 4 1-4-1-3zM1271 1592l4 0-3-1zM1220 1559l1 2 3-2-3-2zM1265 1535l2 1 5 2 1-3-1-5-5 2zM1272 1518l0 4 4-4 2-4 0-9-3 5-3 2zM1250 1461l5 5 4-5-4-6-3-2 3-2 2-6 1-8-3-5-4 5-2 3-4-3 3-8 1-2 6-3 6 1 6-1 1-3 0-9-1-5-2 5-4 2-6 1-2-3-4-3-2-5 2-3 6-1 2-4-2-5-4-3 4-2 6-6-5-8 1-9 0-8-2-3-2-5-2-16-2-6-1-2 0-9 1-7 1-1-1 0-3-8 3-8 0-3 6-1 2-4 0-8 2-9-4-4-6-1-4-3 1-8 0-8-2-4-6 0-6-2-6 9-3-3-2-8-6 6-5-6-1-1-1 1-5 6-6 1-1 1-4 6-4-6-2-4-6 0-3 4-3 3-2-3-3-2-4 2-2 3-6 1-6-1-4 5-1 2-2-2-4-3-6 1-2 2-4 5-5 0-6-1-6 0-2 4-4 5-6 0-5-1-6 4-6-4-6-1-5 2-4 3-2 4-2-4-4-3-4 3-2 2-1-2-4-3-6-2-6 5-6-3-3 3-2 5-3 4-3 7 0 49 6-1 5 0 6-6 0-1 6-1 11 0 6-7 6-1 6 0 5-1 6-6 6-1 6 0 5-5 6-1 4-1 8 0 6-2 5-1 18-3 5 0 6-1 23 0 12 2 5 2 6 3 6 6 6 0 6 1 5-1 2 2-2 4-5 1-2 3 2 7 0 2 3 8 2 7 6 0 0 6-6-3-3 6 2 8 1 6 1 2-1 9-5-1-1 1-4 8 1 8 4 8 5 2 5 6-5 3-4 5 4 6 6 2 1 1-1 6 0 2-4 8 2 8 4 8 4 5 6 2 5-3zM1249 1373l-2-1-2-9 3-8 1-1 2 1 2 8-1 9zM1249 1278l-1-4 1-3 2 3zM1099 1275l0-2 1 1zM1111 1275l-1-1 1-1 1 1zM1151 1267l-1-2 0-8 1-1 1 1 1 8zM1174 1260l-2-3 2-3 2 3zM1232 1357l-2-2 2-5 5 5zM1238 1429l-4 0 4-1zM1210 1453l5 6 4-6-4-7zM1211 1421l4 6 4-6-4-6zM1276 1388l2 1 1-1-1-8 0-4 0 4zM1262 1380l5 5 0-5 5-7 6-1-6-1-5-8 4-8-4-6-2-2-1-8 6-8 2-3 4-5 0-17-3-8 0-8-1 0-5-2-3 2 1 8 2 3 4 5-1 8-1 9-2 3-6 2-2 3-3 8 3 8 2 3 3 5 0 8 2 9zM1271 1339l1 3 1-3-1-2zM1260 1314l1 2 0-2 2-8-2-3-5 3zM1265 1274l2 3 5-1 1-2-1-1-5 0zM1260 1257l1 2 0-2 1-8-1-1-2 1zM1272 1241l0 6 1-6 3-8-4-2-5-2-6 1-6-4-2 7 2 5 6-3 6 1zM1258 1208l3 3 2-3-2-2z"/>
<path fill="#23a983" d="M1235 1829l3 3 6-2 5 2 6-3 0-9-6 7-4-7-1-6-2 6-4 6zM1237 1796l1 0 6 8 5-7 6 1 1-2 1-8-2-2-4-6-2-4-3-4-2-7-5 7 5 6 0 8-4 2-2 3zM1230 1772l2 3 5-3-5-7zM1238 1755l0 1 6 5 3-6-3-8 5-8-5-7-6 7-1 8zM1266 1739l1 3 0-4zM1260 1731l1 2 1-2-1-2zM1242 1723l2 7 1-7-1-4zM1266 1723l2 0-1-9-1 0zM1249 1714l0 1 1-1zM1243 1690l1 3 0-11 1-8 4-4 2-5 3-8 1-2 2-6-2-2-2 2-4 5-5 3-1 0 1 7 0 2-6 6-1 2-2 8 3 1zM1232 1657l0 1 1-1-1-4zM1235 1649l3 1 1-1-1-1zM1241 1641l3 3 1-3 0-8-1-8 0-10-2 1 1 9-1 8zM1229 1633l3 2 2-2-1-8-1-4-2 4zM1260 1625l3 0-2-1zM1226 1608l0 1 2-1-2-1zM1231 1600l1 3 2-3-2-2zM1230 1584l2 2 6-2 6 6 1-6 1-8 3-4 5 4 1 0 0-9-6-5-5 1-6 2-1 2 1 2 3 7-3 7-6-3zM1260 1584l1 1 2-1-2-2zM1240 1551l4 5 1-5-1-4zM1236 1527l2 4 6 4 1-8-1-8-1-1 1 0 1-8-1-8 1-8 4-8 6 0-6-1-1-7-3-8-1-4-5 4-1 1-6 1-3 6-3 3-3 5 3 7 4-7 2-3 6 1 2 2 2 8-4 5-6-3-4 6 4 6 6-1 3 3-3 8-1 0zM1244 1518l5 3 3-3-3-2zM1262 1502l5 0 0-1zM1223 1461l3 8 5-8-5-7zM1252 1461l3 3 2-3-2-4zM1264 1461l3 6 1-6 1-8-2-3-3 3zM1211 1453l4 5 3-5-3-5zM1234 1445l4 8 4-8-4-6zM1245 1445l4 5 6-2 1-3 1-8-2-4-3 4-3 6zM1242 1429l2 3 1-3 4-7 6 0 6 2 6-3 0-3-6-2-6 3-5-7-1 0-4-8 4-5 6-1 1-2-1-3-6-4-2-1 2-2 6-2 4-4-4-7-6 3-5-4-1 0-2-9 3-2 1-6 4-3 3-5-3-7-2-1-3-4-5-4 5-7 0-1 2-9-2-5-6-2-1-1 1 0 6-3 1-5 1-8-2-6-2-2 2-2 1-6 4-6 5 6 0 8 1 0 1-8 1-9-2-2-6 0-5-2-3-4 3-6 0-2 1-8-1-2-6 0-6-1-6 9-10-6-3 0-1 8-3 3-4-3-1-8-7 0-5 7-4-7-2-3-6 0-2 3-4 4-3-4-2-1-3 1-3 4-6 1-6-1-3 4-2 3-3-3-3-2-6 0-2 2-4 6-5-1-12 0-6 9-6 0-5-1-5 3-1 2-1-2-5-3-6-1-5 1-3 3-3 4-3-4-3-3-4 3-2 3-2-3-3-2-6-2-5 4-1 2-1-2-5-3-2 3-3 5-3 4-3 8 0 47 6-1 5 0 5-5 1-2 6-1 11 0 5-6 1-2 17 0 5-6 1-1 6-1 6 0 5-6 5-8 1-2 1 2 5 7 6 0 6-5 5-1 4-1 2 0 6-3 6 0 5-1 12 0 6-1 23 0 5 1 6 1 6 0 5 3 1 0 3 8 3 2 5-1 1-1-1-4-2-4 2-2 2 2 4 2 3 6-4 8-2 8-3 1-4 8 4 6 6 0 4 2-1 8 3 4 6 1 0 6-3 5-3 6-3 2 0 9 1 8-4 7-1-7-5-6-5 0-4 6 1 8 3 5 3-5 2-2 6 2 0 1 3 7 3 3 2 5-2 1-6 7 6 8 0 1zM1036 1283l-1-1 1-1 1 1zM1059 1283l-1-1 1-1 1 1zM1099 1276l-1-2 1-2 2 2zM1111 1276l-1-2 1-2 2 2zM1117 1283l-1-1 1-1 1 1zM1151 1268l-2-3 0-8 2-2 2 2 1 8zM1174 1262l-3-5 3-4 3 4zM1232 1270l-4-5 4-6 4 6zM1212 1421l3 4 3-4-3-4zM1224 1412l2 4 5-4-5-3zM1266 1363l1 2 0-2 3-8-3-4-2 4zM1254 1355l1 5 1-5-1-1zM1260 1347l1 1 1-1 1-8 4-5 2-3-2-4-6 3 0 1-3 8zM1270 1323l2 3 3-3 0-9-3-7-2 7zM1260 1306l1 3 0-3zM1266 1274l3 0-2-1zM1254 1233l1 2 6-2 6 0-6 0-6-3zM1260 1208l1 1 1-1-1-1z"/>
<path fill="#32b67a" d="M1248 1780l1 2 1-2-1-1zM1248 1665l1 1 1-1 1-8-2-1-1 1zM1229 1502l3 4 5-4-5-4zM1224 1486l2 4 2-4-2-3zM1231 1478l1 2 4-2-4-2zM1239 1478l5 6 2-6-2-8zM1224 1461l2 5 3-5-3-4zM1254 1461l1 2 1-2-1-2zM1265 1461l2 3 1-3 0-8-1-2-2 2zM1213 1453l2 3 2-3-2-3zM1253 1437l2 7 1-7-1-2zM1213 1421l2 2 1-2-1-3zM1256 1421l5 2 4-2-4-3zM1225 1412l1 2 3-2-3-1zM1234 1412l4 6 5-6-5-4zM1247 1396l2 1 6-1-6-2zM1219 1388l2 2 1-2 4-5 3-3-3-4-5 0-3 4zM1234 1388l4 5 4-5-4-5zM1246 1380l3 2 6 0 2-2-2-3-6 2zM1265 1355l2 6 2-6-2-2zM1246 1347l3 3 2-3-2-4zM1260 1339l1 5 1-5-1-4zM1263 1331l4 2 1-2-1-3zM1019 1323l0 5 6-1 5 0 4-4 2-3 6-1 11 0 4-5 2-3 17 0 4-5 2-2 6-1 6 0 4-5 1-2 6-9 2 3 4 5 6 0 6-6 5 0 6-1 6-6 0-1 11 0 6-7 0-1 6 0 6-1 5 1 6-8-6-2-4-6 4-5 4 5 2 8 6-2 3-6 2-8-5-10-6 0-1 2-5 6-4-6-1-1-6 6-6 1-6-1-2 3 2 4 3 4 1 8-4 5-2-5 0-8-6-8-3-2-6 1-1 1-5 6-11 0-6-1-6 9-11 0-4 2-2 3-1-3-5-3-6 0-5 1-3 2-3 5-3-5-3-2-3 2-3 4-2-4-3-2-6-2-4 4-2 3-1-3-5-2-2 2-3 6-2 3-3 8-1 2 0 20 1 2-1 3 0 5zM1036 1284l-2-2 2-3 2 3zM1059 1284l-1-2 1-3 2 3zM1099 1277l-2-3 2-4 3 4zM1111 1277l-2-3 2-3 2 3zM1117 1284l-2-2 2-3 2 3zM1224 1323l2 4 6-2 5-2-5-4-6-1zM1271 1323l1 2 2-2 0-9-2-4-1 4zM1249 1265l0 1 1-1z"/>
<path fill="#48c16e" d="M1231 1502l1 2 2-2-2-2zM1226 1486l0 1 1-1-1-1zM1242 1478l2 2 0-5zM1226 1461l0 2 1-2-1-1zM1267 1461l0 1 0-1 1-8-1-1-1 1zM1214 1453l1 1 1-1-1-1zM1255 1437l0 2 0-3zM1214 1421l1 0 0-1zM1259 1421l2 1 2-1-2-2zM1236 1412l2 3 3-3-3-2zM1237 1388l1 2 1-2-1-2zM1220 1380l1 7 5-6 1-1-1-2-5 0zM1266 1355l1 2 0-2zM1248 1347l1 2 1-2-1-2zM1265 1331l2 1 0-2zM1019 1323l0 4 6-1 5 0 3-3 3-4 6-1 11 0 4-4 2-4 17 0 3-4 3-3 6-1 6 0 3-4 2-3 4-5 2-4 6 8 6 0 4-4 2-3 5 0 6-1 4-4 2-3 6-2 5 2 4-5-4-3-3-6 0-8-2-2-4-6-2-1-6 0-1 1-5 7-5 0-6-1-6 0-1 2-5 7-6 0-5-1-3 2-3 5-2-5-4-2-11 0-2 2-4 6-4-6-2-2-2 2-4 5-3-5-2-1-6-2-4 3-2 4-2-4-4-2-1 2-6 9-2 8-2 3 0 18 2 3-2 4 0 4zM1036 1286l-3-4 3-4 3 4zM1059 1285l-2-3 2-4 3 4zM1099 1278l-2-4 2-5 3 5zM1117 1285l-6-6-3-5 3-4 9 12zM1225 1323l1 2 5-2-5-3zM1271 1323l1 1 1-1 0-9-1-1 0 1zM1156 1265l1 5 6 0 6-4 5 2 2-3-2 0-4-8 4-7 5-1-5-1-5-6-6 5-12 0-2 2 2 3 4 5zM1179 1257l1 3 4-3 2-5 1-3-1-8-6 0 0 5 2 3-2 2z"/>
<path fill="#65cb5e" d="M1266 1453l1 2 0-2zM1019 1323l0 3 6-1 5 0 2-2 4-6 6 0 6 1 5-1 3-3 3-5 17 0 2-3 4-4 6-1 6 0 2-3 6-8 3-6 4 6 2 2 6 1 3-3-3-3-4-5-2-2-4-6 4-5 4 5 2 3 4 5 2 3 5 0 6-1 2-2 4-5 6-3 5 2 2-2-2-2-4-7 0-8-1-1-5-7-1-1-6 1-6 8-5 0-6-1-6 0-1 1-5 7-11 0-2 1-4 6-3-6-3-2-6 1-5 0-2 1-4 6-4-6-2-1-2 1-4 6-4-6-1-1-6-1-3 2-3 6-3-6-3-1-1 1-4 7-2 2-1 8-3 4 0 16 3 4-3 5 0 3zM1036 1287l-3-5 3-5 4 5zM1059 1286l-3-4 3-5 4 5zM1099 1279l-3-5 3-6 4 6zM1157 1265l0 2 6 1 2-3 3-8-2-8-3 0-6-1-6 0-1 1 1 2 5 6z"/>
<path fill="#84d44b" d="M1019 1323l0 2 6-1 5 0 1-1 5-7 6 0 6 1 5 0 6-9 6 0 6 1 5-1 2-2 4-5 6-2 6 1 1-2 4-5 2-3 4-7 5 7 1 1 6 1 2-2-2-2-5-6-1-1-4-7 4-7 5 7 1 1 5 7 1 1 5 0 6-1 0-9 0 1 6 1 3-1 3-6 0-11-3 0-3 4-6-2-6-1-5 7 0 2-1-2 0-8-5 0-6-1 0 1-6 7-6 1-7 0-4 7-4-7-2-1-6 1-6 0-5 7-5-7-2 0-5 7-5-7-6-1-2 1-4 7-4-7-2-1-1 1-4 8-1 1-1 8-4 5 0 14 4 5-4 7 0 1zM1036 1289l-4-7 4-6 5 6zM1059 1287l-4-5 4-7 5 7zM1099 1281l-4-7 4-7 5 7zM1151 1274l1 0-1-1zM1137 1249l3 5 0-5zM1151 1249l0 1 6-1z"/>
<path fill="#a8db34" d="M1019 1323l0 1 6-1 6 0 5-8 6 0 6 1 5 0 1-2 5-7 6 0 6 1 5-1 1-1 5-6 6-2 6 1 0-1 5-7 1-1-1-8-1 0-4-8 5-8 5 8 1 6 1-6 5-8 4-1 0-8-4 0-6 8-12 0-4 9-2 0-4-9-6 0-1 3-2-3-4 0-5 8-6-8-6 8-5-7 0-1-6-1-1 1-5 8-5-8-1 0-5 8-1 1 0 8-5 6 0 12 5 6-5 8zM1036 1291l0-1-5-8 5-8 6 8-6 8zM1059 1289l-5-7 5-8 6 8zM1071 1291l-1-1 2 0zM1082 1290l-3 0 3-1 2 1zM1113 1290l4 1 0-2zM1117 1274l1 0-1-3zM1125 1274l3 6 2-6 1-9-3-1 0 1z"/>
<path fill="#cae11f" d="M1019 1323l1 0-1-3zM1027 1314l3 5 4-5 2-3 6-1 3 4 3 1 5 0 1-1 0-8-1 0-5 3-2-3-1-8 3-4 5 1 6-1 2-4-2 0-6-7-2-1-1-8-2-4-4-5-3 0 1 8 0 1 5 8-5 5-2 3-2 8-2 5-6-2 0-4 2-7-2-4-5 1-6 2 0 10 5 7 1 2zM1068 1306l3 1 2-1-2-3zM1080 1298l2 1 2-1-2-3zM1092 1290l2 6 5-6 1 0-1-1-5-2zM1070 1282l2 0-1-1zM1084 1282l4 2 2-2-2-2zM1028 1274l2 3 3-3-2-9-1 0zM1105 1274l3-9-3 0zM1080 1265l2 5 1-5-1 0z"/>
<path fill="none" stroke="#0b2b1a" stroke-width="2.2" stroke-linejoin="round" d="M1248 1780l1 2 1-2-1-1-1 1M1248 1665l1 1 1-1 1-8-2-1-1 1 0 8M1249 1518l0 1 0-1M1229 1502l3 4 5-4-5-4-3 4M1224 1486l2 4 2-4-2-3-2 3M1231 1478l1 2 4-2-4-2-1 2M1239 1478l5 6 2-6-2-8-5 8M1224 1461l2 5 3-5-3-4-2 4M1254 1461l1 2 1-2-1-2-1 2M1265 1461l2 3 1-3 0-8-1-2-2 2 0 8M1213 1453l2 3 2-3-2-3-2 3M1253 1437l2 7 1-7-1-2-2 2M1213 1421l2 2 1-2-1-3-2 3M1256 1421l5 2 4-2-4-3-5 3M1225 1412l1 2 3-2-3-1-1 1M1234 1412l4 6 5-6-5-4-4 4M1247 1396l2 1 6-1-6-2-2 2M1219 1388l2 2 1-2 4-5 3-3-3-4-5 0-3 4 1 8M1234 1388l4 5 4-5-4-5-4 5M1246 1380l3 2 6 0 2-2-2-3-6 2-3 1M1265 1355l2 6 2-6-2-2-2 2M1246 1347l3 3 2-3-2-4-3 4M1260 1339l1 5 1-5-1-4-1 4M1263 1331l4 2 1-2-1-3-4 3M1019 1328l6-1 5 0 4-4 2-3 6-1 6 0 5 0 4-5 2-3 6 0 6 0 5 0 4-5 2-2 6-1 6 0 4-5 1-2 4-6 2-3 2 3 4 5 6 0 5-5 1-1 5 0 6-1 6-6 0-1 6 0 5 0 6-7 0-1 6 0 6-1 5 1 6-8-6-2-4-6 4-5 4 5 2 8 6-2 3-6 2-8-4-8-1-2-6 0-1 2-5 6-4-6-1-1-1 1-5 5-6 1-6-1-2 3 2 4 3 4 1 8-4 5-2-5 0-8-3-4-3-4-3-2-6 1-1 1-5 6-5 0-6 0-6-1-2 3-4 6-6 0-5 0-4 2-2 3-1-3-5-3-6 0-5 1-3 2-3 5-3-5-3-2-3 2-3 4-2-4-3-2-6-2-4 4-2 3-1-3-5-2-2 2-3 6-2 3-3 8-1 2M1224 1323l2 4 6-2 5-2-5-4-6-1-2 5M1271 1323l1 2 2-2 0-9-2-4-1 4 0 9M1019 1304l1 2-1 3M1036 1284l-2-2 2-3 2 3-2 2M1059 1284l-1-2 1-3 2 3-2 2M1117 1284l-2-2 2-3 2 3-2 2M1099 1277l-2-3 2-4 3 4-3 3M1111 1277l-2-3 2-3 2 3-2 3M1249 1265l0 1 1-1-1 0"/>
</g>
<circle cx="538.4" cy="720.1" r="3.4" fill="#1f77b4" stroke="#000" stroke-width="0.9"/><circle cx="543.6" cy="715.1" r="3.4" fill="#ff7f0e" stroke="#000" stroke-width="0.9"/><circle cx="545.5" cy="717.7" r="3.4" fill="#2ca02c" stroke="#000" stroke-width="0.9"/><circle cx="546.6" cy="711.0" r="3.4" fill="#d62728" stroke="#000" stroke-width="0.9"/><circle cx="548.7" cy="718.4" r="3.4" fill="#9467bd" stroke="#000" stroke-width="0.9"/><circle cx="550.5" cy="716.4" r="3.4" fill="#bcbd22" stroke="#000" stroke-width="0.9"/><circle cx="552.8" cy="714.4" r="3.4" fill="#8c564b" stroke="#000" stroke-width="0.9"/><circle cx="559.3" cy="711.1" r="3.4" fill="#e377c2" stroke="#000" stroke-width="0.9"/><circle cx="547.7" cy="712.5" r="3.4" fill="#17becf" stroke="#000" stroke-width="0.9"/>
<rect x="509.4" y="514.4" width="285.3" height="404.0" fill="none" stroke="#1a1a1a" stroke-width="1.8"/>
<text x="508.5" y="944.8" text-anchor="middle" font-size="13.2" fill="#262626">0.00</text>
<text x="565.6" y="944.8" text-anchor="middle" font-size="13.2" fill="#262626">0.25</text>
<text x="622.6" y="944.8" text-anchor="middle" font-size="13.2" fill="#262626">0.50</text>
<text x="679.7" y="944.8" text-anchor="middle" font-size="13.2" fill="#262626">0.75</text>
<text x="736.7" y="944.8" text-anchor="middle" font-size="13.2" fill="#262626">1.00</text>
<text x="793.8" y="944.8" text-anchor="middle" font-size="13.2" fill="#262626">1.25</text>
<text x="494.8" y="519.2" text-anchor="end" font-size="13.2" fill="#262626">0.6</text>
<text x="494.8" y="586.5" text-anchor="end" font-size="13.2" fill="#262626">0.4</text>
<text x="494.8" y="653.9" text-anchor="end" font-size="13.2" fill="#262626">0.2</text>
<text x="494.8" y="721.2" text-anchor="end" font-size="13.2" fill="#262626">0.0</text>
<text x="494.8" y="788.5" text-anchor="end" font-size="13.2" fill="#262626">−0.2</text>
<text x="494.8" y="855.9" text-anchor="end" font-size="13.2" fill="#262626">−0.4</text>
<text x="494.8" y="923.2" text-anchor="end" font-size="13.2" fill="#262626">−0.6</text>
<rect x="811.3" y="897.14" width="19.1" height="21.66" fill="#460a5d"/>
<rect x="811.3" y="875.87" width="19.1" height="21.66" fill="#481d6f"/>
<rect x="811.3" y="854.61" width="19.1" height="21.66" fill="#472e7c"/>
<rect x="811.3" y="833.35" width="19.1" height="21.66" fill="#423f85"/>
<rect x="811.3" y="812.08" width="19.1" height="21.66" fill="#3d4e8a"/>
<rect x="811.3" y="790.82" width="19.1" height="21.66" fill="#365d8d"/>
<rect x="811.3" y="769.56" width="19.1" height="21.66" fill="#306a8e"/>
<rect x="811.3" y="748.29" width="19.1" height="21.66" fill="#2a778e"/>
<rect x="811.3" y="727.03" width="19.1" height="21.66" fill="#25838e"/>
<rect x="811.3" y="705.77" width="19.1" height="21.66" fill="#21918c"/>
<rect x="811.3" y="684.51" width="19.1" height="21.66" fill="#1e9d89"/>
<rect x="811.3" y="663.24" width="19.1" height="21.66" fill="#23a983"/>
<rect x="811.3" y="641.98" width="19.1" height="21.66" fill="#32b67a"/>
<rect x="811.3" y="620.72" width="19.1" height="21.66" fill="#48c16e"/>
<rect x="811.3" y="599.45" width="19.1" height="21.66" fill="#65cb5e"/>
<rect x="811.3" y="578.19" width="19.1" height="21.66" fill="#84d44b"/>
<rect x="811.3" y="556.93" width="19.1" height="21.66" fill="#a8db34"/>
<rect x="811.3" y="535.66" width="19.1" height="21.66" fill="#cae11f"/>
<rect x="811.3" y="514.40" width="19.1" height="21.66" fill="#efe51c"/>
<rect x="811.3" y="514.4" width="19.1" height="404.0" fill="none" stroke="#1a1a1a" stroke-width="1.8"/>
<text x="843.4" y="923.2" font-size="13.2" fill="#262626">0</text>
<text x="843.4" y="880.7" font-size="13.2" fill="#262626">1</text>
<text x="843.4" y="838.1" font-size="13.2" fill="#262626">2</text>
<text x="843.4" y="795.6" font-size="13.2" fill="#262626">3</text>
<text x="843.4" y="753.1" font-size="13.2" fill="#262626">4</text>
<text x="843.4" y="710.6" font-size="13.2" fill="#262626">5</text>
<text x="843.4" y="668.0" font-size="13.2" fill="#262626">6</text>
<text x="843.4" y="625.5" font-size="13.2" fill="#262626">7</text>
<text x="843.4" y="583.0" font-size="13.2" fill="#262626">8</text>
<text x="843.4" y="540.5" font-size="13.2" fill="#262626">9</text>
<path d="M509.4 919.0v9.6M566.5 919.0v9.6M623.5 919.0v9.6M680.6 919.0v9.6M737.6 919.0v9.6M794.7 919.0v9.6M508.8 514.4h-7.6M508.8 581.7h-7.6M508.8 649.1h-7.6M508.8 716.4h-7.6M508.8 783.7h-7.6M508.8 851.1h-7.6M508.8 918.4h-7.6M831.0 918.4h7.6M831.0 875.9h7.6M831.0 833.3h7.6M831.0 790.8h7.6M831.0 748.3h7.6M831.0 705.8h7.6M831.0 663.2h7.6M831.0 620.7h7.6M831.0 578.2h7.6M831.0 535.7h7.6" stroke="#1a1a1a" stroke-width="2" fill="none"/>
<text x="652.0" y="509.0" text-anchor="middle" font-size="14.9" fill="#262626">chiSG</text>
<text x="652.0" y="964.7" text-anchor="middle" font-size="13.2" fill="#262626">σ</text>
<text transform="translate(455.5 716.4) rotate(-90)" text-anchor="middle" font-size="13.2" fill="#262626">μ</text>
</g>
</svg></body></html>
